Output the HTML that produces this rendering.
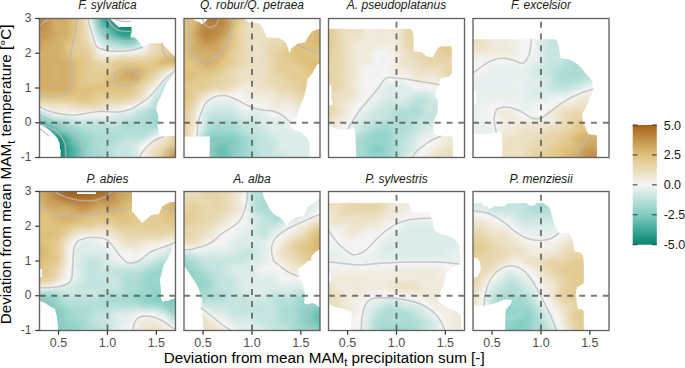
<!DOCTYPE html><html><head><meta charset="utf-8"><style>
html,body{margin:0;padding:0;background:#fff;width:685px;height:368px;overflow:hidden}
svg{display:block}
text{font-family:"Liberation Sans",sans-serif}
</style></head><body>
<svg width="685" height="368" viewBox="0 0 685 368">
<defs>
<filter id="cm" x="-20%" y="-20%" width="140%" height="140%" color-interpolation-filters="sRGB">
<feGaussianBlur stdDeviation="2.4 2.2"/>
<feComponentTransfer><feFuncR type="table" tableValues="0.0039 0.0537 0.1035 0.1533 0.2031 0.2529 0.3027 0.3525 0.4024 0.4522 0.5020 0.5478 0.5937 0.6396 0.6855 0.7314 0.7773 0.8231 0.8690 0.9149 0.9608 0.9522 0.9435 0.9349 0.9263 0.9176 0.9090 0.9004 0.8918 0.8831 0.8745 0.8522 0.8298 0.8075 0.7851 0.7627 0.7404 0.7180 0.6957 0.6733 0.6510"/><feFuncG type="table" tableValues="0.5216 0.5498 0.5780 0.6063 0.6345 0.6627 0.6910 0.7192 0.7475 0.7757 0.8039 0.8196 0.8353 0.8510 0.8667 0.8824 0.8980 0.9137 0.9294 0.9451 0.9608 0.9408 0.9208 0.9008 0.8808 0.8608 0.8408 0.8208 0.8008 0.7808 0.7608 0.7227 0.6847 0.6467 0.6086 0.5706 0.5325 0.4945 0.4565 0.4184 0.3804"/><feFuncB type="table" tableValues="0.4431 0.4745 0.5059 0.5373 0.5686 0.6000 0.6314 0.6627 0.6941 0.7255 0.7569 0.7773 0.7976 0.8180 0.8384 0.8588 0.8792 0.8996 0.9200 0.9404 0.9608 0.9137 0.8667 0.8196 0.7725 0.7255 0.6784 0.6314 0.5843 0.5373 0.4902 0.4514 0.4125 0.3737 0.3349 0.2961 0.2573 0.2184 0.1796 0.1408 0.1020"/></feComponentTransfer>
</filter>
<linearGradient id="cb" x1="0" y1="1" x2="0" y2="0">
<stop offset="0.000" stop-color="rgb(1,133,113)"/>
<stop offset="0.050" stop-color="rgb(26,147,129)"/>
<stop offset="0.100" stop-color="rgb(52,162,145)"/>
<stop offset="0.150" stop-color="rgb(77,176,161)"/>
<stop offset="0.200" stop-color="rgb(103,191,177)"/>
<stop offset="0.250" stop-color="rgb(128,205,193)"/>
<stop offset="0.300" stop-color="rgb(151,213,203)"/>
<stop offset="0.350" stop-color="rgb(175,221,214)"/>
<stop offset="0.400" stop-color="rgb(198,229,224)"/>
<stop offset="0.450" stop-color="rgb(222,237,235)"/>
<stop offset="0.500" stop-color="rgb(245,245,245)"/>
<stop offset="0.550" stop-color="rgb(241,235,221)"/>
<stop offset="0.600" stop-color="rgb(236,225,197)"/>
<stop offset="0.650" stop-color="rgb(232,214,173)"/>
<stop offset="0.700" stop-color="rgb(227,204,149)"/>
<stop offset="0.750" stop-color="rgb(223,194,125)"/>
<stop offset="0.800" stop-color="rgb(212,175,105)"/>
<stop offset="0.850" stop-color="rgb(200,155,85)"/>
<stop offset="0.900" stop-color="rgb(189,136,66)"/>
<stop offset="0.950" stop-color="rgb(177,116,46)"/>
<stop offset="1.000" stop-color="rgb(166,97,26)"/>
</linearGradient>
<clipPath id="m0"><polygon points="0.0,0.0 70.0,0.0 79.1,8.4 92.1,8.4 92.1,14.8 91.3,14.8 91.3,19.0 95.1,19.0 98.5,22.1 103.0,27.0 107.0,27.0 110.2,24.7 122.2,24.7 135.0,38.0 136.0,38.0 136.0,53.5 126.5,65.5 122.2,76.5 117.9,85.0 116.8,91.5 119.0,98.0 117.9,106.5 119.0,113.2 121.5,117.5 136.0,117.5 136.0,139.0 21.0,139.0 21.2,132.3 20.6,129.9 20.0,124.0 17.6,119.2 14.0,115.6 10.4,112.0 6.9,109.6 3.3,107.2 0.3,106.0 0.0,106.0"/></clipPath>
<clipPath id="m1"><polygon points="0.0,0.0 9.5,0.0 9.8,1.2 11.6,2.4 13.8,2.9 15.6,4.1 17.8,5.8 19.6,4.6 21.3,2.9 23.0,1.2 23.5,0.0 61.0,0.0 61.0,1.2 63.0,2.5 65.0,3.5 70.0,3.9 75.0,5.0 78.5,8.8 81.2,14.7 82.9,18.9 95.5,19.7 98.9,21.4 102.3,24.8 104.0,29.9 105.6,34.9 107.3,29.9 110.7,27.3 114.1,24.8 120.8,24.0 123.3,19.7 125.9,15.5 128.4,13.0 131.8,11.3 136.0,10.5 136.0,45.0 133.5,45.9 131.8,48.4 130.1,51.8 128.4,55.1 126.8,56.5 123.4,61.1 122.9,65.6 121.1,74.8 118.8,81.6 116.5,86.2 114.3,93.0 113.1,98.7 109.7,101.0 106.3,103.3 106.3,107.9 109.7,111.3 116.5,113.6 121.1,117.0 124.5,121.6 125.7,127.3 125.7,139.0 25.8,139.0 25.8,118.0 0.0,118.0"/></clipPath>
<clipPath id="m2"><polygon points="0.5,10.3 82.1,10.3 84.1,12.6 85.1,17.6 85.1,32.7 93.2,33.7 98.2,37.8 104.3,38.8 106.3,34.8 109.3,29.7 112.3,27.7 122.4,27.7 123.4,29.7 123.4,53.9 121.4,57.9 112.3,59.9 110.3,66.0 109.3,69.5 107.3,73.5 106.3,77.5 109.3,81.6 109.3,93.7 106.3,99.7 104.3,109.8 106.3,115.8 112.3,117.8 122.4,117.8 124.4,119.9 124.4,139.0 27.7,139.0 26.8,113.2 25.8,108.9 21.4,111.1 10.5,111.1 5.1,108.9 0.8,106.7 0.0,106.7 0.0,87.2 4.0,86.0 4.0,82.5 3.0,80.5 3.0,67.5 0.0,66.5 0.0,10.3"/></clipPath>
<clipPath id="m3"><polygon points="0.0,20.7 82.6,20.7 84.6,23.7 85.6,27.7 86.6,33.7 87.6,39.8 95.7,40.8 101.7,43.8 105.8,46.8 108.8,49.9 111.8,53.9 115.8,57.9 118.9,61.9 119.9,66.0 119.9,69.5 119.5,73.5 115.8,81.6 112.8,89.6 108.8,95.7 109.8,101.7 110.8,104.8 112.8,109.8 113.8,112.8 115.8,115.8 123.9,116.8 123.9,139.0 29.2,139.0 29.2,119.9 28.2,113.8 25.2,112.8 19.1,114.8 11.1,115.8 0.0,115.0 0.0,85.5 3.5,84.5 3.0,72.5 0.0,71.5"/></clipPath>
<clipPath id="m4"><polygon points="0.0,0.0 37.5,0.0 37.5,2.5 56.5,2.5 56.5,0.0 92.5,0.0 92.5,19.5 97.5,25.5 102.5,31.5 107.5,27.5 111.5,23.5 119.5,22.5 121.5,17.5 124.5,13.5 131.5,10.5 136.5,10.5 136.5,51.5 134.7,52.3 131.8,59.9 128.0,67.5 124.2,73.2 122.3,80.8 120.4,88.3 121.4,97.8 121.4,107.3 123.3,110.2 129.0,109.2 136.0,106.4 136.0,139.0 18.5,139.0 18.5,135.5 17.5,125.5 15.5,117.5 11.5,115.5 5.5,111.5 0.0,109.5 0.0,85.5 2.5,85.5 2.5,77.5 0.0,77.5"/></clipPath>
<clipPath id="m5"><polygon points="0.0,0.0 78.6,0.0 79.6,5.5 82.6,11.6 85.6,17.6 89.7,22.7 95.7,25.7 99.7,29.7 102.7,34.8 105.8,29.7 111.8,25.7 119.9,24.7 121.9,19.6 123.9,15.6 127.9,12.6 132.0,9.6 135.0,7.6 136.0,7.6 136.0,57.9 132.0,59.9 127.9,64.0 126.9,69.4 123.9,69.5 119.9,73.5 113.8,77.6 115.8,85.6 117.9,89.6 119.9,95.7 120.9,103.7 119.9,111.8 123.9,112.8 129.9,111.8 134.0,114.8 136.0,115.8 136.0,139.0 19.1,139.0 19.1,129.9 18.1,121.9 17.1,115.8 18.1,109.8 16.1,101.7 13.1,93.7 9.1,87.6 5.0,81.6 1.0,75.5 0.0,74.5"/></clipPath>
<clipPath id="m6"><polygon points="0.0,11.6 80.1,11.6 81.1,14.6 82.1,19.6 84.1,20.7 100.2,20.7 102.2,25.7 104.3,29.7 105.3,37.8 108.3,40.8 112.3,42.8 120.4,44.8 126.4,47.8 130.4,53.9 131.4,59.9 132.4,69.5 128.4,73.5 122.4,77.6 117.3,81.6 116.3,89.6 114.3,95.7 112.3,99.7 109.3,107.8 112.3,111.8 118.4,115.8 128.4,119.9 132.4,123.9 133.4,139.0 22.5,139.0 22.5,128.5 23.8,121.0 20.0,119.8 15.0,117.3 7.5,116.0 0.0,112.3 0.0,91.0 2.5,90.5 2.5,81.5 0.0,81.0"/></clipPath>
<clipPath id="m7"><polygon points="0.0,11.3 9.2,11.3 9.9,14.0 14.0,14.7 15.3,16.7 18.0,16.7 20.7,14.7 31.6,14.7 34.3,11.9 53.3,11.3 56.1,14.0 61.5,14.0 63.5,11.3 69.7,11.3 73.0,13.3 76.4,16.0 77.8,20.1 79.2,25.5 80.5,29.6 81.9,33.7 83.9,37.7 85.3,40.5 87.6,41.8 95.7,41.8 99.7,47.8 100.7,53.9 101.7,59.9 107.8,60.9 109.8,64.0 110.8,69.5 110.8,91.7 107.8,93.7 103.8,95.7 102.7,103.7 103.8,109.8 104.8,117.8 108.8,117.8 110.8,119.9 110.8,139.0 32.2,139.0 32.2,125.9 33.2,117.8 37.3,112.8 39.3,108.8 33.2,107.8 27.2,109.8 19.1,112.8 11.1,113.8 7.1,114.8 0.0,113.8 0.0,85.5 3.5,85.5 6.8,81.1 7.9,76.8 6.8,70.2 4.6,67.0 0.3,65.9"/></clipPath>
<clipPath id="pc"><rect x="0" y="0" width="136" height="139"/></clipPath>
</defs>
<g transform="translate(39.5,18.5)">
<g clip-path="url(#m0)"><g filter="url(#cm)">
<path fill="#e5e5e5" d="M-24.9 -21.7h14.9v4.5h-14.9zM-24.9 -17.4h14.9v4.5h-14.9zM-24.9 -13.0h14.9v4.5h-14.9zM-24.9 -8.7h19.8v4.5h-19.8zM-24.9 -4.3h19.8v4.5h-19.8zM-0.5 0.0h5.1v4.5h-5.1zM-0.5 4.3h5.1v4.5h-5.1zM146.2 147.7h14.9v4.5h-14.9zM146.2 152.0h14.9v4.5h-14.9zM146.2 156.4h14.9v4.5h-14.9z"/>
<path fill="#e7e7e7" d="M-10.3 -21.7h10.0v4.5h-10.0zM-10.3 -17.4h10.0v4.5h-10.0zM-10.3 -13.0h10.0v4.5h-10.0zM-5.4 -8.7h5.1v4.5h-5.1zM-5.4 -4.3h5.1v4.5h-5.1zM-24.9 0.0h24.7v4.5h-24.7zM-24.9 4.3h24.7v4.5h-24.7zM146.2 139.0h14.9v4.5h-14.9zM141.3 143.3h19.8v4.5h-19.8zM136.4 147.7h10.0v4.5h-10.0zM136.4 152.0h10.0v4.5h-10.0zM136.4 156.4h10.0v4.5h-10.0z"/>
<path fill="#e3e3e3" d="M-0.5 -21.7h5.1v4.5h-5.1zM-0.5 -17.4h5.1v4.5h-5.1zM-0.5 -13.0h5.1v4.5h-5.1zM-0.5 -8.7h5.1v4.5h-5.1zM-0.5 -4.3h5.1v4.5h-5.1zM-24.9 8.7h24.7v4.5h-24.7zM136.4 134.7h10.0v4.5h-10.0zM131.5 139.0h5.1v4.5h-5.1zM131.5 143.3h5.1v4.5h-5.1zM131.5 156.4h5.1v4.5h-5.1z"/>
<path fill="#dddddd" d="M4.4 -21.7h5.1v4.5h-5.1zM4.4 -17.4h5.1v4.5h-5.1zM4.4 -13.0h5.1v4.5h-5.1zM4.4 -8.7h5.1v4.5h-5.1zM4.4 -4.3h5.1v4.5h-5.1zM4.4 0.0h5.1v4.5h-5.1zM4.4 4.3h5.1v4.5h-5.1zM4.4 8.7h5.1v4.5h-5.1zM131.5 134.7h5.1v4.5h-5.1z"/>
<path fill="#d5d5d5" d="M9.3 -21.7h5.1v4.5h-5.1zM9.3 -17.4h5.1v4.5h-5.1zM9.3 -13.0h5.1v4.5h-5.1zM9.3 -8.7h5.1v4.5h-5.1zM9.3 -4.3h5.1v4.5h-5.1zM9.3 0.0h5.1v4.5h-5.1zM9.3 4.3h5.1v4.5h-5.1zM9.3 8.7h5.1v4.5h-5.1zM141.3 130.3h5.1v4.5h-5.1zM151.1 130.3h10.0v4.5h-10.0zM126.7 143.3h5.1v4.5h-5.1zM126.7 147.7h5.1v4.5h-5.1zM126.7 152.0h5.1v4.5h-5.1zM126.7 156.4h5.1v4.5h-5.1z"/>
<path fill="#cdcdcd" d="M14.2 -21.7h14.9v4.5h-14.9zM14.2 -17.4h14.9v4.5h-14.9zM14.2 -13.0h14.9v4.5h-14.9zM14.2 -8.7h14.9v4.5h-14.9zM14.2 -4.3h14.9v4.5h-14.9zM14.2 0.0h14.9v4.5h-14.9zM14.2 4.3h14.9v4.5h-14.9zM14.2 8.7h10.0v4.5h-10.0zM19.1 13.0h5.1v4.5h-5.1zM14.2 17.4h5.1v4.5h-5.1zM9.3 21.7h10.0v4.5h-10.0zM4.4 26.1h5.1v4.5h-5.1zM14.2 26.1h5.1v4.5h-5.1zM14.2 30.4h5.1v4.5h-5.1zM4.4 34.8h14.9v4.5h-14.9zM4.4 39.1h19.8v4.5h-19.8zM126.7 39.1h5.1v4.5h-5.1zM-24.9 43.4h34.4v4.5h-34.4zM19.1 43.4h5.1v4.5h-5.1zM-24.9 47.8h39.3v4.5h-39.3zM19.1 47.8h10.0v4.5h-10.0zM-24.9 52.1h39.3v4.5h-39.3zM19.1 52.1h10.0v4.5h-10.0zM82.6 52.1h5.1v4.5h-5.1zM97.3 52.1h5.1v4.5h-5.1zM-24.9 56.5h34.4v4.5h-34.4zM19.1 56.5h10.0v4.5h-10.0zM77.8 56.5h10.0v4.5h-10.0zM-24.9 60.8h54.0v4.5h-54.0zM-24.9 65.2h54.0v4.5h-54.0zM24.0 69.5h5.1v4.5h-5.1z"/>
<path fill="#c9c9c9" d="M28.9 -21.7h5.1v4.5h-5.1zM28.9 -17.4h5.1v4.5h-5.1zM28.9 -13.0h5.1v4.5h-5.1zM28.9 -8.7h5.1v4.5h-5.1zM28.9 -4.3h5.1v4.5h-5.1zM28.9 13.0h5.1v4.5h-5.1zM19.1 30.4h5.1v4.5h-5.1zM87.5 47.8h10.0v4.5h-10.0zM28.9 52.1h5.1v4.5h-5.1zM28.9 56.5h5.1v4.5h-5.1zM72.9 60.8h5.1v4.5h-5.1zM82.6 60.8h14.9v4.5h-14.9zM28.9 65.2h5.1v4.5h-5.1zM28.9 69.5h5.1v4.5h-5.1z"/>
<path fill="#bbbbbb" d="M33.7 -21.7h5.1v4.5h-5.1zM33.7 -17.4h5.1v4.5h-5.1zM33.7 -13.0h5.1v4.5h-5.1zM33.7 -8.7h5.1v4.5h-5.1zM33.7 -4.3h5.1v4.5h-5.1zM33.7 0.0h5.1v4.5h-5.1zM116.9 4.3h5.1v4.5h-5.1zM141.3 30.4h19.8v4.5h-19.8zM38.6 39.1h5.1v4.5h-5.1zM77.8 43.4h19.8v4.5h-19.8zM112.0 47.8h5.1v4.5h-5.1zM38.6 52.1h5.1v4.5h-5.1zM107.1 52.1h5.1v4.5h-5.1zM38.6 56.5h5.1v4.5h-5.1zM38.6 60.8h5.1v4.5h-5.1zM87.5 69.5h5.1v4.5h-5.1zM33.7 78.2h5.1v4.5h-5.1z"/>
<path fill="#ababab" d="M38.6 -21.7h5.1v4.5h-5.1zM38.6 -17.4h5.1v4.5h-5.1zM38.6 -13.0h5.1v4.5h-5.1zM38.6 -8.7h5.1v4.5h-5.1zM38.6 -4.3h5.1v4.5h-5.1zM116.9 17.4h5.1v4.5h-5.1zM116.9 21.7h5.1v4.5h-5.1zM82.6 39.1h24.7v4.5h-24.7zM58.2 43.4h5.1v4.5h-5.1zM151.1 108.6h10.0v4.5h-10.0zM116.9 134.7h5.1v4.5h-5.1z"/>
<path fill="#999999" d="M43.5 -21.7h5.1v4.5h-5.1zM43.5 -17.4h5.1v4.5h-5.1zM43.5 -13.0h5.1v4.5h-5.1zM43.5 -8.7h5.1v4.5h-5.1zM43.5 -4.3h5.1v4.5h-5.1zM48.4 21.7h5.1v4.5h-5.1zM87.5 34.8h14.9v4.5h-14.9zM131.5 47.8h5.1v4.5h-5.1zM107.1 65.2h5.1v4.5h-5.1zM102.2 73.8h5.1v4.5h-5.1zM82.6 82.5h5.1v4.5h-5.1zM112.0 130.3h5.1v4.5h-5.1z"/>
<path fill="#7a7a7a" d="M48.4 -21.7h5.1v4.5h-5.1zM48.4 -8.7h5.1v4.5h-5.1zM48.4 -4.3h5.1v4.5h-5.1zM58.2 26.1h5.1v4.5h-5.1zM63.1 30.4h5.1v4.5h-5.1zM92.4 86.9h5.1v4.5h-5.1zM77.8 91.2h10.0v4.5h-10.0zM63.1 95.6h5.1v4.5h-5.1zM97.3 130.3h5.1v4.5h-5.1zM97.3 134.7h5.1v4.5h-5.1z"/>
<path fill="#545454" d="M53.3 -21.7h5.1v4.5h-5.1zM53.3 -17.4h5.1v4.5h-5.1zM53.3 -13.0h5.1v4.5h-5.1zM97.3 17.4h5.1v4.5h-5.1zM116.9 86.9h5.1v4.5h-5.1zM131.5 86.9h29.5v4.5h-29.5zM107.1 95.6h5.1v4.5h-5.1zM136.4 95.6h10.0v4.5h-10.0zM151.1 95.6h10.0v4.5h-10.0zM28.9 104.2h5.1v4.5h-5.1zM63.1 139.0h5.1v4.5h-5.1zM63.1 143.3h5.1v4.5h-5.1zM63.1 147.7h5.1v4.5h-5.1zM63.1 152.0h5.1v4.5h-5.1zM63.1 156.4h5.1v4.5h-5.1z"/>
<path fill="#2e2e2e" d="M58.2 -21.7h5.1v4.5h-5.1zM58.2 -17.4h5.1v4.5h-5.1zM58.2 -13.0h5.1v4.5h-5.1zM58.2 -8.7h5.1v4.5h-5.1zM-24.9 104.2h29.5v4.5h-29.5z"/>
<path fill="#141414" d="M63.1 -21.7h5.1v4.5h-5.1zM63.1 -17.4h5.1v4.5h-5.1zM63.1 -13.0h5.1v4.5h-5.1zM87.5 13.0h5.1v4.5h-5.1zM4.4 117.3h5.1v4.5h-5.1zM-10.3 121.6h10.0v4.5h-10.0z"/>
<path fill="#0a0a0a" d="M68.0 -21.7h5.1v4.5h-5.1zM77.8 -21.7h5.1v4.5h-5.1zM68.0 -17.4h5.1v4.5h-5.1zM77.8 -17.4h5.1v4.5h-5.1zM68.0 -13.0h5.1v4.5h-5.1zM77.8 -13.0h5.1v4.5h-5.1zM68.0 -8.7h5.1v4.5h-5.1zM77.8 -8.7h5.1v4.5h-5.1zM77.8 -4.3h5.1v4.5h-5.1zM77.8 8.7h5.1v4.5h-5.1zM102.2 8.7h5.1v4.5h-5.1z"/>
<path fill="#0c0c0c" d="M72.9 -21.7h5.1v4.5h-5.1zM72.9 -17.4h5.1v4.5h-5.1zM72.9 -13.0h5.1v4.5h-5.1zM72.9 -8.7h5.1v4.5h-5.1zM72.9 -4.3h5.1v4.5h-5.1zM92.4 8.7h5.1v4.5h-5.1zM9.3 117.3h5.1v4.5h-5.1z"/>
<path fill="#020202" d="M82.6 -21.7h5.1v4.5h-5.1zM82.6 -17.4h5.1v4.5h-5.1zM82.6 -13.0h5.1v4.5h-5.1zM82.6 -8.7h10.0v4.5h-10.0zM82.6 -4.3h10.0v4.5h-10.0zM92.4 0.0h5.1v4.5h-5.1zM19.1 121.6h5.1v4.5h-5.1zM19.1 126.0h5.1v4.5h-5.1z"/>
<path fill="#000000" d="M87.5 -21.7h5.1v4.5h-5.1zM97.3 -21.7h10.0v4.5h-10.0zM87.5 -17.4h5.1v4.5h-5.1zM97.3 -17.4h10.0v4.5h-10.0zM87.5 -13.0h5.1v4.5h-5.1zM97.3 -13.0h10.0v4.5h-10.0zM97.3 -8.7h10.0v4.5h-10.0zM97.3 -4.3h10.0v4.5h-10.0zM82.6 0.0h10.0v4.5h-10.0zM97.3 0.0h10.0v4.5h-10.0zM82.6 4.3h24.7v4.5h-24.7zM14.2 121.6h5.1v4.5h-5.1zM9.3 126.0h10.0v4.5h-10.0zM-24.9 130.3h44.2v4.5h-44.2zM-24.9 134.7h44.2v4.5h-44.2zM-24.9 139.0h44.2v4.5h-44.2zM-24.9 143.3h44.2v4.5h-44.2zM-24.9 147.7h44.2v4.5h-44.2zM-24.9 152.0h44.2v4.5h-44.2zM-24.9 156.4h44.2v4.5h-44.2z"/>
<path fill="#040404" d="M92.4 -21.7h5.1v4.5h-5.1zM92.4 -17.4h5.1v4.5h-5.1zM92.4 -13.0h5.1v4.5h-5.1zM92.4 -8.7h5.1v4.5h-5.1zM92.4 -4.3h5.1v4.5h-5.1zM82.6 8.7h5.1v4.5h-5.1zM9.3 121.6h5.1v4.5h-5.1zM-24.9 126.0h34.4v4.5h-34.4zM19.1 139.0h5.1v4.5h-5.1zM19.1 143.3h5.1v4.5h-5.1zM19.1 147.7h5.1v4.5h-5.1zM19.1 152.0h5.1v4.5h-5.1zM19.1 156.4h5.1v4.5h-5.1z"/>
<path fill="#242424" d="M107.1 -21.7h5.1v4.5h-5.1zM107.1 -8.7h5.1v4.5h-5.1zM82.6 17.4h5.1v4.5h-5.1zM-0.5 108.6h5.1v4.5h-5.1zM9.3 108.6h5.1v4.5h-5.1zM-24.9 112.9h14.9v4.5h-14.9z"/>
<path fill="#818181" d="M112.0 -21.7h5.1v4.5h-5.1zM112.0 -17.4h5.1v4.5h-5.1zM112.0 -13.0h5.1v4.5h-5.1zM112.0 -8.7h5.1v4.5h-5.1zM112.0 -4.3h5.1v4.5h-5.1zM58.2 30.4h5.1v4.5h-5.1zM112.0 69.5h5.1v4.5h-5.1zM102.2 82.5h5.1v4.5h-5.1zM87.5 86.9h5.1v4.5h-5.1zM126.7 108.6h5.1v4.5h-5.1zM121.8 112.9h5.1v4.5h-5.1zM107.1 121.6h5.1v4.5h-5.1z"/>
<path fill="#b9b9b9" d="M116.9 -21.7h10.0v4.5h-10.0zM116.9 -17.4h10.0v4.5h-10.0zM116.9 -13.0h10.0v4.5h-10.0zM116.9 -8.7h10.0v4.5h-10.0zM116.9 -4.3h10.0v4.5h-10.0zM116.9 0.0h10.0v4.5h-10.0zM33.7 4.3h5.1v4.5h-5.1zM121.8 4.3h5.1v4.5h-5.1zM33.7 8.7h5.1v4.5h-5.1zM33.7 13.0h5.1v4.5h-5.1zM33.7 17.4h5.1v4.5h-5.1zM131.5 21.7h29.5v4.5h-29.5zM28.9 26.1h5.1v4.5h-5.1zM136.4 26.1h24.7v4.5h-24.7zM28.9 30.4h5.1v4.5h-5.1zM131.5 30.4h5.1v4.5h-5.1zM97.3 43.4h5.1v4.5h-5.1zM107.1 43.4h5.1v4.5h-5.1zM72.9 47.8h5.1v4.5h-5.1zM68.0 52.1h5.1v4.5h-5.1zM63.1 56.5h5.1v4.5h-5.1zM58.2 60.8h5.1v4.5h-5.1zM53.3 73.8h5.1v4.5h-5.1zM82.6 73.8h5.1v4.5h-5.1zM48.4 78.2h5.1v4.5h-5.1zM136.4 112.9h5.1v4.5h-5.1zM136.4 121.6h5.1v4.5h-5.1z"/>
<path fill="#afafaf" d="M126.7 -21.7h5.1v4.5h-5.1zM126.7 -17.4h5.1v4.5h-5.1zM126.7 -13.0h5.1v4.5h-5.1zM126.7 -8.7h5.1v4.5h-5.1zM126.7 -4.3h5.1v4.5h-5.1zM126.7 0.0h5.1v4.5h-5.1zM126.7 4.3h5.1v4.5h-5.1zM38.6 8.7h5.1v4.5h-5.1zM116.9 13.0h5.1v4.5h-5.1zM38.6 21.7h5.1v4.5h-5.1zM43.5 26.1h5.1v4.5h-5.1zM121.8 26.1h5.1v4.5h-5.1zM116.9 34.8h5.1v4.5h-5.1zM48.4 39.1h5.1v4.5h-5.1zM107.1 39.1h5.1v4.5h-5.1zM68.0 43.4h5.1v4.5h-5.1zM63.1 47.8h5.1v4.5h-5.1zM92.4 73.8h5.1v4.5h-5.1zM58.2 78.2h5.1v4.5h-5.1zM72.9 78.2h10.0v4.5h-10.0zM38.6 82.5h14.9v4.5h-14.9zM116.9 143.3h5.1v4.5h-5.1zM116.9 147.7h5.1v4.5h-5.1zM116.9 152.0h5.1v4.5h-5.1zM116.9 156.4h5.1v4.5h-5.1z"/>
<path fill="#b1b1b1" d="M131.5 -21.7h5.1v4.5h-5.1zM131.5 -17.4h5.1v4.5h-5.1zM131.5 -13.0h5.1v4.5h-5.1zM131.5 -8.7h5.1v4.5h-5.1zM131.5 -4.3h5.1v4.5h-5.1zM131.5 0.0h5.1v4.5h-5.1zM126.7 8.7h5.1v4.5h-5.1zM121.8 17.4h5.1v4.5h-5.1zM121.8 21.7h5.1v4.5h-5.1zM38.6 26.1h5.1v4.5h-5.1zM48.4 43.4h5.1v4.5h-5.1zM48.4 47.8h14.9v4.5h-14.9zM48.4 52.1h10.0v4.5h-10.0zM112.0 52.1h5.1v4.5h-5.1zM48.4 56.5h10.0v4.5h-10.0zM136.4 108.6h5.1v4.5h-5.1zM131.5 121.6h5.1v4.5h-5.1zM121.8 130.3h5.1v4.5h-5.1zM116.9 139.0h5.1v4.5h-5.1z"/>
<path fill="#b5b5b5" d="M136.4 -21.7h10.0v4.5h-10.0zM136.4 -17.4h10.0v4.5h-10.0zM136.4 -13.0h10.0v4.5h-10.0zM136.4 -8.7h10.0v4.5h-10.0zM136.4 -4.3h10.0v4.5h-10.0zM136.4 0.0h10.0v4.5h-10.0zM136.4 4.3h10.0v4.5h-10.0zM151.1 4.3h10.0v4.5h-10.0zM116.9 8.7h5.1v4.5h-5.1zM136.4 8.7h24.7v4.5h-24.7zM131.5 13.0h29.5v4.5h-29.5zM126.7 17.4h5.1v4.5h-5.1zM126.7 21.7h5.1v4.5h-5.1zM43.5 30.4h5.1v4.5h-5.1zM38.6 34.8h5.1v4.5h-5.1zM43.5 43.4h5.1v4.5h-5.1zM43.5 47.8h5.1v4.5h-5.1zM43.5 52.1h5.1v4.5h-5.1zM63.1 52.1h5.1v4.5h-5.1zM43.5 56.5h5.1v4.5h-5.1zM48.4 60.8h10.0v4.5h-10.0zM92.4 69.5h5.1v4.5h-5.1zM58.2 73.8h5.1v4.5h-5.1zM-24.9 78.2h29.5v4.5h-29.5zM146.2 112.9h14.9v4.5h-14.9zM136.4 117.3h10.0v4.5h-10.0zM146.2 121.6h10.0v4.5h-10.0z"/>
<path fill="#b3b3b3" d="M146.2 -21.7h14.9v4.5h-14.9zM146.2 -17.4h14.9v4.5h-14.9zM146.2 -13.0h14.9v4.5h-14.9zM146.2 -8.7h14.9v4.5h-14.9zM146.2 -4.3h14.9v4.5h-14.9zM146.2 0.0h14.9v4.5h-14.9zM131.5 4.3h5.1v4.5h-5.1zM146.2 4.3h5.1v4.5h-5.1zM131.5 8.7h5.1v4.5h-5.1zM121.8 13.0h10.0v4.5h-10.0zM33.7 26.1h5.1v4.5h-5.1zM126.7 26.1h5.1v4.5h-5.1zM33.7 30.4h10.0v4.5h-10.0zM126.7 30.4h5.1v4.5h-5.1zM68.0 47.8h5.1v4.5h-5.1zM58.2 52.1h5.1v4.5h-5.1zM58.2 56.5h5.1v4.5h-5.1zM107.1 56.5h5.1v4.5h-5.1zM102.2 60.8h5.1v4.5h-5.1zM97.3 65.2h5.1v4.5h-5.1zM53.3 78.2h5.1v4.5h-5.1zM146.2 117.3h14.9v4.5h-14.9zM126.7 126.0h5.1v4.5h-5.1z"/>
<path fill="#7c7c7c" d="M48.4 -17.4h5.1v4.5h-5.1zM48.4 -13.0h5.1v4.5h-5.1zM102.2 21.7h5.1v4.5h-5.1zM82.6 30.4h5.1v4.5h-5.1zM116.9 65.2h5.1v4.5h-5.1zM-5.4 86.9h5.1v4.5h-5.1zM72.9 91.2h5.1v4.5h-5.1z"/>
<path fill="#222222" d="M107.1 -17.4h5.1v4.5h-5.1zM107.1 -13.0h5.1v4.5h-5.1zM72.9 13.0h5.1v4.5h-5.1zM92.4 13.0h5.1v4.5h-5.1zM24.0 117.3h5.1v4.5h-5.1zM28.9 126.0h5.1v4.5h-5.1z"/>
<path fill="#525252" d="M53.3 -8.7h5.1v4.5h-5.1zM53.3 -4.3h5.1v4.5h-5.1zM58.2 13.0h5.1v4.5h-5.1zM112.0 91.2h5.1v4.5h-5.1zM-0.5 95.6h5.1v4.5h-5.1zM131.5 95.6h5.1v4.5h-5.1zM146.2 95.6h5.1v4.5h-5.1zM112.0 104.2h5.1v4.5h-5.1zM43.5 112.9h5.1v4.5h-5.1zM48.4 117.3h5.1v4.5h-5.1z"/>
<path fill="#121212" d="M63.1 -8.7h5.1v4.5h-5.1zM63.1 -4.3h5.1v4.5h-5.1zM-24.9 121.6h14.9v4.5h-14.9zM-0.5 121.6h5.1v4.5h-5.1zM24.0 126.0h5.1v4.5h-5.1zM24.0 130.3h5.1v4.5h-5.1zM24.0 134.7h5.1v4.5h-5.1zM24.0 139.0h5.1v4.5h-5.1zM24.0 143.3h5.1v4.5h-5.1zM24.0 147.7h5.1v4.5h-5.1zM24.0 152.0h5.1v4.5h-5.1zM24.0 156.4h5.1v4.5h-5.1z"/>
<path fill="#2c2c2c" d="M58.2 -4.3h5.1v4.5h-5.1zM77.8 17.4h5.1v4.5h-5.1zM19.1 112.9h5.1v4.5h-5.1zM33.7 130.3h5.1v4.5h-5.1zM33.7 134.7h5.1v4.5h-5.1zM33.7 139.0h5.1v4.5h-5.1zM33.7 143.3h5.1v4.5h-5.1zM33.7 147.7h5.1v4.5h-5.1zM33.7 152.0h5.1v4.5h-5.1zM33.7 156.4h5.1v4.5h-5.1z"/>
<path fill="#080808" d="M68.0 -4.3h5.1v4.5h-5.1zM77.8 0.0h5.1v4.5h-5.1zM97.3 8.7h5.1v4.5h-5.1zM14.2 117.3h5.1v4.5h-5.1z"/>
<path fill="#262626" d="M107.1 -4.3h5.1v4.5h-5.1zM63.1 4.3h5.1v4.5h-5.1zM68.0 8.7h5.1v4.5h-5.1zM87.5 17.4h5.1v4.5h-5.1zM-10.3 112.9h10.0v4.5h-10.0z"/>
<path fill="#c7c7c7" d="M28.9 0.0h5.1v4.5h-5.1zM28.9 4.3h5.1v4.5h-5.1zM28.9 8.7h5.1v4.5h-5.1zM24.0 34.8h5.1v4.5h-5.1zM136.4 34.8h24.7v4.5h-24.7zM28.9 39.1h5.1v4.5h-5.1zM121.8 39.1h5.1v4.5h-5.1zM82.6 47.8h5.1v4.5h-5.1zM77.8 52.1h5.1v4.5h-5.1zM72.9 56.5h5.1v4.5h-5.1zM-24.9 73.8h24.7v4.5h-24.7zM24.0 73.8h5.1v4.5h-5.1z"/>
<path fill="#adadad" d="M38.6 0.0h5.1v4.5h-5.1zM38.6 4.3h5.1v4.5h-5.1zM38.6 13.0h5.1v4.5h-5.1zM38.6 17.4h5.1v4.5h-5.1zM121.8 30.4h5.1v4.5h-5.1zM48.4 34.8h5.1v4.5h-5.1zM53.3 43.4h5.1v4.5h-5.1zM121.8 47.8h5.1v4.5h-5.1zM63.1 78.2h10.0v4.5h-10.0zM82.6 78.2h5.1v4.5h-5.1zM33.7 82.5h5.1v4.5h-5.1zM53.3 82.5h5.1v4.5h-5.1zM141.3 108.6h5.1v4.5h-5.1zM131.5 112.9h5.1v4.5h-5.1zM131.5 117.3h5.1v4.5h-5.1z"/>
<path fill="#9d9d9d" d="M43.5 0.0h5.1v4.5h-5.1zM102.2 34.8h5.1v4.5h-5.1zM58.2 39.1h10.0v4.5h-10.0zM102.2 69.5h5.1v4.5h-5.1zM-0.5 82.5h5.1v4.5h-5.1zM38.6 86.9h14.9v4.5h-14.9zM58.2 86.9h5.1v4.5h-5.1zM126.7 117.3h5.1v4.5h-5.1zM112.0 134.7h5.1v4.5h-5.1z"/>
<path fill="#7e7e7e" d="M48.4 0.0h5.1v4.5h-5.1zM112.0 0.0h5.1v4.5h-5.1zM112.0 4.3h5.1v4.5h-5.1zM102.2 26.1h5.1v4.5h-5.1zM87.5 30.4h10.0v4.5h-10.0zM107.1 78.2h5.1v4.5h-5.1zM-24.9 86.9h19.8v4.5h-19.8zM112.0 117.3h5.1v4.5h-5.1z"/>
<path fill="#565656" d="M53.3 0.0h5.1v4.5h-5.1zM136.4 60.8h10.0v4.5h-10.0zM131.5 65.2h5.1v4.5h-5.1zM126.7 69.5h5.1v4.5h-5.1zM121.8 86.9h10.0v4.5h-10.0zM14.2 99.9h5.1v4.5h-5.1zM107.1 99.9h5.1v4.5h-5.1zM87.5 104.2h10.0v4.5h-10.0zM38.6 108.6h5.1v4.5h-5.1zM87.5 108.6h5.1v4.5h-5.1zM48.4 112.9h5.1v4.5h-5.1zM72.9 112.9h5.1v4.5h-5.1zM53.3 117.3h5.1v4.5h-5.1zM72.9 117.3h5.1v4.5h-5.1zM53.3 130.3h10.0v4.5h-10.0zM63.1 134.7h5.1v4.5h-5.1z"/>
<path fill="#303030" d="M58.2 0.0h5.1v4.5h-5.1zM68.0 13.0h5.1v4.5h-5.1zM4.4 104.2h5.1v4.5h-5.1zM33.7 126.0h5.1v4.5h-5.1z"/>
<path fill="#181818" d="M63.1 0.0h5.1v4.5h-5.1z"/>
<path fill="#0e0e0e" d="M68.0 0.0h10.0v4.5h-10.0zM4.4 121.6h5.1v4.5h-5.1z"/>
<path fill="#1e1e1e" d="M107.1 0.0h5.1v4.5h-5.1zM-24.9 117.3h19.8v4.5h-19.8z"/>
<path fill="#a3a3a3" d="M43.5 4.3h5.1v4.5h-5.1zM43.5 17.4h5.1v4.5h-5.1zM112.0 21.7h5.1v4.5h-5.1zM48.4 26.1h5.1v4.5h-5.1zM107.1 34.8h5.1v4.5h-5.1zM53.3 39.1h5.1v4.5h-5.1zM126.7 47.8h5.1v4.5h-5.1zM92.4 78.2h5.1v4.5h-5.1zM14.2 82.5h5.1v4.5h-5.1zM116.9 130.3h5.1v4.5h-5.1z"/>
<path fill="#858585" d="M48.4 4.3h5.1v4.5h-5.1zM53.3 21.7h5.1v4.5h-5.1zM126.7 52.1h5.1v4.5h-5.1zM121.8 56.5h5.1v4.5h-5.1zM131.5 104.2h5.1v4.5h-5.1zM102.2 139.0h5.1v4.5h-5.1zM102.2 143.3h5.1v4.5h-5.1z"/>
<path fill="#5a5a5a" d="M53.3 4.3h5.1v4.5h-5.1zM136.4 56.5h5.1v4.5h-5.1zM131.5 60.8h5.1v4.5h-5.1zM136.4 69.5h24.7v4.5h-24.7zM116.9 82.5h10.0v4.5h-10.0zM112.0 86.9h5.1v4.5h-5.1zM102.2 95.6h5.1v4.5h-5.1zM19.1 99.9h5.1v4.5h-5.1zM97.3 99.9h10.0v4.5h-10.0zM102.2 104.2h5.1v4.5h-5.1zM43.5 108.6h5.1v4.5h-5.1zM58.2 108.6h10.0v4.5h-10.0zM77.8 108.6h5.1v4.5h-5.1zM112.0 108.6h5.1v4.5h-5.1zM97.3 112.9h10.0v4.5h-10.0zM58.2 117.3h10.0v4.5h-10.0zM77.8 117.3h5.1v4.5h-5.1zM58.2 121.6h10.0v4.5h-10.0zM72.9 121.6h5.1v4.5h-5.1zM58.2 126.0h5.1v4.5h-5.1zM68.0 126.0h5.1v4.5h-5.1z"/>
<path fill="#383838" d="M58.2 4.3h5.1v4.5h-5.1zM107.1 8.7h5.1v4.5h-5.1zM72.9 17.4h5.1v4.5h-5.1zM-5.4 99.9h5.1v4.5h-5.1zM9.3 104.2h5.1v4.5h-5.1zM33.7 121.6h5.1v4.5h-5.1zM38.6 130.3h5.1v4.5h-5.1z"/>
<path fill="#1a1a1a" d="M68.0 4.3h5.1v4.5h-5.1zM107.1 4.3h5.1v4.5h-5.1z"/>
<path fill="#101010" d="M72.9 4.3h5.1v4.5h-5.1zM82.6 13.0h5.1v4.5h-5.1zM19.1 117.3h5.1v4.5h-5.1z"/>
<path fill="#060606" d="M77.8 4.3h5.1v4.5h-5.1zM87.5 8.7h5.1v4.5h-5.1zM19.1 130.3h5.1v4.5h-5.1zM19.1 134.7h5.1v4.5h-5.1z"/>
<path fill="#e1e1e1" d="M-0.5 8.7h5.1v4.5h-5.1zM146.2 134.7h14.9v4.5h-14.9zM131.5 147.7h5.1v4.5h-5.1zM131.5 152.0h5.1v4.5h-5.1z"/>
<path fill="#cfcfcf" d="M24.0 8.7h5.1v4.5h-5.1zM14.2 13.0h5.1v4.5h-5.1zM24.0 13.0h5.1v4.5h-5.1zM-24.9 30.4h29.5v4.5h-29.5zM131.5 39.1h5.1v4.5h-5.1zM24.0 43.4h5.1v4.5h-5.1zM87.5 56.5h5.1v4.5h-5.1z"/>
<path fill="#a5a5a5" d="M43.5 8.7h5.1v4.5h-5.1zM116.9 52.1h5.1v4.5h-5.1zM102.2 65.2h5.1v4.5h-5.1zM97.3 73.8h5.1v4.5h-5.1zM9.3 82.5h5.1v4.5h-5.1zM28.9 82.5h5.1v4.5h-5.1zM126.7 121.6h5.1v4.5h-5.1zM121.8 126.0h5.1v4.5h-5.1z"/>
<path fill="#8b8b8b" d="M48.4 8.7h5.1v4.5h-5.1zM72.9 34.8h5.1v4.5h-5.1zM4.4 86.9h5.1v4.5h-5.1z"/>
<path fill="#646464" d="M53.3 8.7h5.1v4.5h-5.1zM72.9 26.1h5.1v4.5h-5.1zM121.8 65.2h5.1v4.5h-5.1zM-24.9 91.2h5.1v4.5h-5.1zM-10.3 91.2h5.1v4.5h-5.1zM92.4 95.6h5.1v4.5h-5.1zM72.9 104.2h5.1v4.5h-5.1zM126.7 104.2h5.1v4.5h-5.1zM87.5 117.3h5.1v4.5h-5.1zM82.6 121.6h5.1v4.5h-5.1zM77.8 126.0h5.1v4.5h-5.1zM72.9 130.3h5.1v4.5h-5.1zM72.9 134.7h5.1v4.5h-5.1zM72.9 139.0h5.1v4.5h-5.1zM72.9 143.3h5.1v4.5h-5.1zM72.9 147.7h5.1v4.5h-5.1zM72.9 152.0h5.1v4.5h-5.1zM72.9 156.4h5.1v4.5h-5.1z"/>
<path fill="#444444" d="M58.2 8.7h5.1v4.5h-5.1zM121.8 99.9h5.1v4.5h-5.1zM24.0 108.6h5.1v4.5h-5.1zM33.7 112.9h5.1v4.5h-5.1z"/>
<path fill="#343434" d="M63.1 8.7h5.1v4.5h-5.1zM97.3 13.0h5.1v4.5h-5.1zM14.2 108.6h5.1v4.5h-5.1zM28.9 117.3h5.1v4.5h-5.1z"/>
<path fill="#161616" d="M72.9 8.7h5.1v4.5h-5.1zM77.8 13.0h5.1v4.5h-5.1zM4.4 112.9h10.0v4.5h-10.0zM24.0 121.6h5.1v4.5h-5.1z"/>
<path fill="#878787" d="M112.0 8.7h5.1v4.5h-5.1zM107.1 73.8h5.1v4.5h-5.1zM97.3 82.5h5.1v4.5h-5.1zM14.2 91.2h5.1v4.5h-5.1zM24.0 91.2h10.0v4.5h-10.0zM102.2 134.7h5.1v4.5h-5.1zM102.2 147.7h5.1v4.5h-5.1zM102.2 152.0h5.1v4.5h-5.1zM102.2 156.4h5.1v4.5h-5.1z"/>
<path fill="#b7b7b7" d="M121.8 8.7h5.1v4.5h-5.1zM131.5 17.4h29.5v4.5h-29.5zM33.7 21.7h5.1v4.5h-5.1zM131.5 26.1h5.1v4.5h-5.1zM33.7 34.8h5.1v4.5h-5.1zM43.5 34.8h5.1v4.5h-5.1zM121.8 34.8h5.1v4.5h-5.1zM43.5 39.1h5.1v4.5h-5.1zM112.0 39.1h5.1v4.5h-5.1zM72.9 43.4h5.1v4.5h-5.1zM102.2 43.4h5.1v4.5h-5.1zM116.9 47.8h5.1v4.5h-5.1zM43.5 60.8h5.1v4.5h-5.1zM63.1 73.8h19.8v4.5h-19.8zM87.5 73.8h5.1v4.5h-5.1zM4.4 78.2h29.5v4.5h-29.5zM141.3 112.9h5.1v4.5h-5.1zM141.3 121.6h5.1v4.5h-5.1zM156.0 121.6h5.1v4.5h-5.1z"/>
<path fill="#dbdbdb" d="M-24.9 13.0h34.4v4.5h-34.4zM-10.3 21.7h10.0v4.5h-10.0z"/>
<path fill="#d7d7d7" d="M9.3 13.0h5.1v4.5h-5.1zM4.4 17.4h5.1v4.5h-5.1zM-0.5 21.7h5.1v4.5h-5.1zM-24.9 26.1h24.7v4.5h-24.7zM136.4 130.3h5.1v4.5h-5.1zM126.7 139.0h5.1v4.5h-5.1z"/>
<path fill="#a1a1a1" d="M43.5 13.0h5.1v4.5h-5.1zM112.0 17.4h5.1v4.5h-5.1zM112.0 30.4h5.1v4.5h-5.1zM68.0 39.1h5.1v4.5h-5.1zM4.4 82.5h5.1v4.5h-5.1zM19.1 82.5h10.0v4.5h-10.0zM63.1 82.5h5.1v4.5h-5.1zM72.9 82.5h10.0v4.5h-10.0zM131.5 108.6h5.1v4.5h-5.1z"/>
<path fill="#8d8d8d" d="M48.4 13.0h5.1v4.5h-5.1zM53.3 26.1h5.1v4.5h-5.1zM102.2 30.4h5.1v4.5h-5.1zM58.2 34.8h5.1v4.5h-5.1zM92.4 82.5h5.1v4.5h-5.1zM77.8 86.9h5.1v4.5h-5.1zM112.0 121.6h5.1v4.5h-5.1zM107.1 126.0h5.1v4.5h-5.1z"/>
<path fill="#6e6e6e" d="M53.3 13.0h5.1v4.5h-5.1zM136.4 52.1h10.0v4.5h-10.0zM156.0 52.1h5.1v4.5h-5.1zM102.2 86.9h5.1v4.5h-5.1zM92.4 91.2h5.1v4.5h-5.1zM146.2 99.9h14.9v4.5h-14.9zM92.4 130.3h5.1v4.5h-5.1zM92.4 134.7h5.1v4.5h-5.1zM92.4 139.0h5.1v4.5h-5.1zM92.4 143.3h5.1v4.5h-5.1zM92.4 147.7h5.1v4.5h-5.1zM92.4 152.0h5.1v4.5h-5.1zM92.4 156.4h5.1v4.5h-5.1z"/>
<path fill="#404040" d="M63.1 13.0h5.1v4.5h-5.1zM82.6 21.7h5.1v4.5h-5.1zM14.2 104.2h5.1v4.5h-5.1zM19.1 108.6h5.1v4.5h-5.1zM38.6 121.6h5.1v4.5h-5.1z"/>
<path fill="#4c4c4c" d="M102.2 13.0h5.1v4.5h-5.1zM131.5 91.2h5.1v4.5h-5.1zM146.2 91.2h14.9v4.5h-14.9zM-10.3 95.6h10.0v4.5h-10.0zM126.7 95.6h5.1v4.5h-5.1zM38.6 112.9h5.1v4.5h-5.1zM43.5 117.3h5.1v4.5h-5.1zM53.3 139.0h10.0v4.5h-10.0zM53.3 143.3h5.1v4.5h-5.1zM53.3 147.7h5.1v4.5h-5.1zM53.3 152.0h5.1v4.5h-5.1zM53.3 156.4h5.1v4.5h-5.1z"/>
<path fill="#707070" d="M107.1 13.0h5.1v4.5h-5.1zM58.2 21.7h5.1v4.5h-5.1zM63.1 26.1h5.1v4.5h-5.1zM146.2 52.1h10.0v4.5h-10.0zM126.7 56.5h5.1v4.5h-5.1zM116.9 69.5h5.1v4.5h-5.1zM72.9 95.6h5.1v4.5h-5.1zM141.3 99.9h5.1v4.5h-5.1zM107.1 117.3h5.1v4.5h-5.1z"/>
<path fill="#979797" d="M112.0 13.0h5.1v4.5h-5.1zM107.1 30.4h5.1v4.5h-5.1zM82.6 34.8h5.1v4.5h-5.1zM116.9 56.5h5.1v4.5h-5.1z"/>
<path fill="#d9d9d9" d="M-24.9 17.4h29.5v4.5h-29.5zM-24.9 21.7h14.9v4.5h-14.9z"/>
<path fill="#d3d3d3" d="M9.3 17.4h5.1v4.5h-5.1zM-0.5 26.1h5.1v4.5h-5.1zM146.2 130.3h5.1v4.5h-5.1z"/>
<path fill="#cbcbcb" d="M19.1 17.4h10.0v4.5h-10.0zM19.1 21.7h5.1v4.5h-5.1zM9.3 26.1h5.1v4.5h-5.1zM19.1 26.1h5.1v4.5h-5.1zM4.4 30.4h10.0v4.5h-10.0zM-24.9 34.8h29.5v4.5h-29.5zM19.1 34.8h5.1v4.5h-5.1zM-24.9 39.1h29.5v4.5h-29.5zM24.0 39.1h5.1v4.5h-5.1zM9.3 43.4h10.0v4.5h-10.0zM28.9 43.4h5.1v4.5h-5.1zM14.2 47.8h5.1v4.5h-5.1zM28.9 47.8h5.1v4.5h-5.1zM14.2 52.1h5.1v4.5h-5.1zM9.3 56.5h10.0v4.5h-10.0zM97.3 56.5h5.1v4.5h-5.1zM28.9 60.8h5.1v4.5h-5.1zM77.8 60.8h5.1v4.5h-5.1zM-24.9 69.5h49.1v4.5h-49.1z"/>
<path fill="#c5c5c5" d="M28.9 17.4h5.1v4.5h-5.1zM24.0 21.7h5.1v4.5h-5.1zM131.5 34.8h5.1v4.5h-5.1zM33.7 43.4h5.1v4.5h-5.1zM121.8 43.4h10.0v4.5h-10.0zM33.7 47.8h5.1v4.5h-5.1zM97.3 47.8h5.1v4.5h-5.1zM68.0 60.8h5.1v4.5h-5.1zM-0.5 73.8h24.7v4.5h-24.7zM28.9 73.8h5.1v4.5h-5.1zM136.4 126.0h10.0v4.5h-10.0zM121.8 139.0h5.1v4.5h-5.1z"/>
<path fill="#919191" d="M48.4 17.4h5.1v4.5h-5.1zM77.8 34.8h5.1v4.5h-5.1zM24.0 86.9h5.1v4.5h-5.1zM68.0 86.9h10.0v4.5h-10.0zM156.0 104.2h5.1v4.5h-5.1z"/>
<path fill="#787878" d="M53.3 17.4h5.1v4.5h-5.1zM33.7 95.6h14.9v4.5h-14.9zM58.2 95.6h5.1v4.5h-5.1zM97.3 139.0h5.1v4.5h-5.1zM97.3 143.3h5.1v4.5h-5.1zM97.3 147.7h5.1v4.5h-5.1zM97.3 152.0h5.1v4.5h-5.1zM97.3 156.4h5.1v4.5h-5.1z"/>
<path fill="#626262" d="M58.2 17.4h5.1v4.5h-5.1zM63.1 21.7h5.1v4.5h-5.1zM131.5 56.5h5.1v4.5h-5.1zM126.7 60.8h5.1v4.5h-5.1zM112.0 82.5h5.1v4.5h-5.1zM-5.4 91.2h5.1v4.5h-5.1zM43.5 104.2h14.9v4.5h-14.9zM68.0 104.2h5.1v4.5h-5.1zM92.4 117.3h10.0v4.5h-10.0z"/>
<path fill="#505050" d="M63.1 17.4h5.1v4.5h-5.1zM72.9 21.7h5.1v4.5h-5.1zM121.8 91.2h10.0v4.5h-10.0zM9.3 99.9h5.1v4.5h-5.1zM126.7 99.9h5.1v4.5h-5.1zM48.4 121.6h5.1v4.5h-5.1zM48.4 126.0h5.1v4.5h-5.1zM48.4 130.3h5.1v4.5h-5.1zM58.2 134.7h5.1v4.5h-5.1z"/>
<path fill="#424242" d="M68.0 17.4h5.1v4.5h-5.1z"/>
<path fill="#363636" d="M92.4 17.4h5.1v4.5h-5.1zM24.0 112.9h5.1v4.5h-5.1z"/>
<path fill="#767676" d="M102.2 17.4h5.1v4.5h-5.1zM68.0 30.4h5.1v4.5h-5.1zM77.8 30.4h5.1v4.5h-5.1zM4.4 91.2h5.1v4.5h-5.1zM87.5 91.2h5.1v4.5h-5.1zM24.0 95.6h10.0v4.5h-10.0zM48.4 95.6h10.0v4.5h-10.0zM68.0 95.6h5.1v4.5h-5.1zM97.3 126.0h5.1v4.5h-5.1z"/>
<path fill="#939393" d="M107.1 17.4h5.1v4.5h-5.1zM107.1 26.1h5.1v4.5h-5.1zM53.3 30.4h5.1v4.5h-5.1zM136.4 47.8h10.0v4.5h-10.0zM87.5 82.5h5.1v4.5h-5.1zM9.3 86.9h14.9v4.5h-14.9zM141.3 104.2h5.1v4.5h-5.1zM112.0 126.0h5.1v4.5h-5.1zM107.1 130.3h5.1v4.5h-5.1zM107.1 134.7h5.1v4.5h-5.1zM107.1 139.0h5.1v4.5h-5.1zM107.1 143.3h5.1v4.5h-5.1zM107.1 147.7h5.1v4.5h-5.1zM107.1 152.0h5.1v4.5h-5.1zM107.1 156.4h5.1v4.5h-5.1z"/>
<path fill="#d1d1d1" d="M4.4 21.7h5.1v4.5h-5.1zM136.4 39.1h24.7v4.5h-24.7zM87.5 52.1h10.0v4.5h-10.0zM92.4 56.5h5.1v4.5h-5.1zM131.5 130.3h5.1v4.5h-5.1zM126.7 134.7h5.1v4.5h-5.1z"/>
<path fill="#bfbfbf" d="M28.9 21.7h5.1v4.5h-5.1zM28.9 34.8h5.1v4.5h-5.1zM126.7 34.8h5.1v4.5h-5.1zM33.7 39.1h5.1v4.5h-5.1zM116.9 39.1h5.1v4.5h-5.1zM136.4 43.4h24.7v4.5h-24.7zM72.9 52.1h5.1v4.5h-5.1zM102.2 56.5h5.1v4.5h-5.1zM58.2 65.2h10.0v4.5h-10.0zM38.6 69.5h5.1v4.5h-5.1zM53.3 69.5h5.1v4.5h-5.1zM48.4 73.8h5.1v4.5h-5.1zM131.5 126.0h5.1v4.5h-5.1zM121.8 134.7h5.1v4.5h-5.1z"/>
<path fill="#a9a9a9" d="M43.5 21.7h5.1v4.5h-5.1zM116.9 26.1h5.1v4.5h-5.1zM48.4 30.4h5.1v4.5h-5.1zM112.0 34.8h5.1v4.5h-5.1zM77.8 39.1h5.1v4.5h-5.1zM63.1 43.4h5.1v4.5h-5.1zM97.3 69.5h5.1v4.5h-5.1zM87.5 78.2h5.1v4.5h-5.1zM58.2 82.5h5.1v4.5h-5.1zM146.2 108.6h5.1v4.5h-5.1z"/>
<path fill="#585858" d="M68.0 21.7h5.1v4.5h-5.1zM146.2 60.8h14.9v4.5h-14.9zM126.7 65.2h5.1v4.5h-5.1zM136.4 65.2h24.7v4.5h-24.7zM131.5 69.5h5.1v4.5h-5.1zM107.1 91.2h5.1v4.5h-5.1zM82.6 104.2h5.1v4.5h-5.1zM97.3 104.2h5.1v4.5h-5.1zM107.1 104.2h5.1v4.5h-5.1zM82.6 108.6h5.1v4.5h-5.1zM92.4 108.6h19.8v4.5h-19.8zM53.3 112.9h19.8v4.5h-19.8zM77.8 112.9h5.1v4.5h-5.1zM68.0 117.3h5.1v4.5h-5.1zM53.3 121.6h5.1v4.5h-5.1zM68.0 121.6h5.1v4.5h-5.1zM53.3 126.0h5.1v4.5h-5.1zM63.1 126.0h5.1v4.5h-5.1zM63.1 130.3h5.1v4.5h-5.1z"/>
<path fill="#484848" d="M77.8 21.7h5.1v4.5h-5.1zM92.4 21.7h5.1v4.5h-5.1zM116.9 95.6h10.0v4.5h-10.0zM4.4 99.9h5.1v4.5h-5.1zM19.1 104.2h5.1v4.5h-5.1zM28.9 108.6h5.1v4.5h-5.1zM43.5 121.6h5.1v4.5h-5.1zM43.5 134.7h5.1v4.5h-5.1zM43.5 139.0h5.1v4.5h-5.1zM43.5 143.3h5.1v4.5h-5.1zM43.5 147.7h5.1v4.5h-5.1zM43.5 152.0h5.1v4.5h-5.1zM43.5 156.4h5.1v4.5h-5.1z"/>
<path fill="#3e3e3e" d="M87.5 21.7h5.1v4.5h-5.1zM-0.5 99.9h5.1v4.5h-5.1zM33.7 117.3h5.1v4.5h-5.1z"/>
<path fill="#5e5e5e" d="M97.3 21.7h5.1v4.5h-5.1zM82.6 26.1h5.1v4.5h-5.1zM146.2 56.5h10.0v4.5h-10.0zM121.8 69.5h5.1v4.5h-5.1zM121.8 73.8h5.1v4.5h-5.1zM116.9 78.2h10.0v4.5h-10.0zM131.5 78.2h5.1v4.5h-5.1zM97.3 95.6h5.1v4.5h-5.1zM116.9 108.6h5.1v4.5h-5.1zM77.8 121.6h5.1v4.5h-5.1zM68.0 139.0h5.1v4.5h-5.1zM68.0 143.3h5.1v4.5h-5.1zM68.0 147.7h5.1v4.5h-5.1zM68.0 152.0h5.1v4.5h-5.1zM68.0 156.4h5.1v4.5h-5.1z"/>
<path fill="#959595" d="M107.1 21.7h5.1v4.5h-5.1zM146.2 47.8h14.9v4.5h-14.9zM121.8 52.1h5.1v4.5h-5.1zM28.9 86.9h5.1v4.5h-5.1zM63.1 86.9h5.1v4.5h-5.1zM136.4 104.2h5.1v4.5h-5.1zM126.7 112.9h5.1v4.5h-5.1zM116.9 121.6h5.1v4.5h-5.1z"/>
<path fill="#c3c3c3" d="M24.0 26.1h5.1v4.5h-5.1zM24.0 30.4h5.1v4.5h-5.1zM116.9 43.4h5.1v4.5h-5.1zM33.7 52.1h5.1v4.5h-5.1zM102.2 52.1h5.1v4.5h-5.1zM33.7 56.5h5.1v4.5h-5.1zM33.7 60.8h5.1v4.5h-5.1zM33.7 65.2h5.1v4.5h-5.1zM72.9 65.2h14.9v4.5h-14.9zM33.7 69.5h5.1v4.5h-5.1zM43.5 73.8h5.1v4.5h-5.1zM146.2 126.0h14.9v4.5h-14.9zM126.7 130.3h5.1v4.5h-5.1zM121.8 143.3h5.1v4.5h-5.1zM121.8 147.7h5.1v4.5h-5.1zM121.8 152.0h5.1v4.5h-5.1zM121.8 156.4h5.1v4.5h-5.1z"/>
<path fill="#6a6a6a" d="M68.0 26.1h5.1v4.5h-5.1zM-0.5 91.2h5.1v4.5h-5.1zM87.5 95.6h5.1v4.5h-5.1zM33.7 99.9h5.1v4.5h-5.1zM43.5 99.9h19.8v4.5h-19.8zM72.9 99.9h5.1v4.5h-5.1zM112.0 112.9h5.1v4.5h-5.1z"/>
<path fill="#606060" d="M77.8 26.1h5.1v4.5h-5.1zM92.4 26.1h5.1v4.5h-5.1zM126.7 78.2h5.1v4.5h-5.1zM102.2 91.2h5.1v4.5h-5.1zM4.4 95.6h5.1v4.5h-5.1zM24.0 99.9h5.1v4.5h-5.1zM82.6 99.9h5.1v4.5h-5.1zM38.6 104.2h5.1v4.5h-5.1zM58.2 104.2h10.0v4.5h-10.0zM77.8 104.2h5.1v4.5h-5.1zM107.1 112.9h5.1v4.5h-5.1zM82.6 117.3h5.1v4.5h-5.1zM72.9 126.0h5.1v4.5h-5.1z"/>
<path fill="#5c5c5c" d="M87.5 26.1h5.1v4.5h-5.1zM141.3 56.5h5.1v4.5h-5.1zM156.0 56.5h5.1v4.5h-5.1zM126.7 73.8h34.4v4.5h-34.4zM136.4 78.2h24.7v4.5h-24.7zM126.7 82.5h34.4v4.5h-34.4zM87.5 99.9h10.0v4.5h-10.0zM33.7 104.2h5.1v4.5h-5.1zM48.4 108.6h10.0v4.5h-10.0zM68.0 108.6h10.0v4.5h-10.0zM82.6 112.9h14.9v4.5h-14.9zM68.0 130.3h5.1v4.5h-5.1zM68.0 134.7h5.1v4.5h-5.1z"/>
<path fill="#6c6c6c" d="M97.3 26.1h5.1v4.5h-5.1zM9.3 95.6h5.1v4.5h-5.1zM77.8 95.6h10.0v4.5h-10.0zM38.6 99.9h5.1v4.5h-5.1zM63.1 99.9h10.0v4.5h-10.0zM97.3 121.6h5.1v4.5h-5.1zM92.4 126.0h5.1v4.5h-5.1z"/>
<path fill="#9f9f9f" d="M112.0 26.1h5.1v4.5h-5.1zM68.0 82.5h5.1v4.5h-5.1zM53.3 86.9h5.1v4.5h-5.1zM112.0 139.0h5.1v4.5h-5.1zM112.0 143.3h5.1v4.5h-5.1zM112.0 147.7h5.1v4.5h-5.1zM112.0 152.0h5.1v4.5h-5.1zM112.0 156.4h5.1v4.5h-5.1z"/>
<path fill="#747474" d="M72.9 30.4h5.1v4.5h-5.1zM131.5 52.1h5.1v4.5h-5.1zM121.8 60.8h5.1v4.5h-5.1zM97.3 86.9h5.1v4.5h-5.1zM19.1 95.6h5.1v4.5h-5.1zM116.9 112.9h5.1v4.5h-5.1zM102.2 121.6h5.1v4.5h-5.1z"/>
<path fill="#838383" d="M97.3 30.4h5.1v4.5h-5.1zM-0.5 86.9h5.1v4.5h-5.1zM9.3 91.2h5.1v4.5h-5.1zM68.0 91.2h5.1v4.5h-5.1zM102.2 126.0h5.1v4.5h-5.1z"/>
<path fill="#a7a7a7" d="M116.9 30.4h5.1v4.5h-5.1zM72.9 39.1h5.1v4.5h-5.1zM112.0 56.5h5.1v4.5h-5.1zM107.1 60.8h5.1v4.5h-5.1z"/>
<path fill="#bdbdbd" d="M136.4 30.4h5.1v4.5h-5.1zM38.6 43.4h5.1v4.5h-5.1zM112.0 43.4h5.1v4.5h-5.1zM38.6 47.8h5.1v4.5h-5.1zM107.1 47.8h5.1v4.5h-5.1zM63.1 60.8h5.1v4.5h-5.1zM38.6 65.2h19.8v4.5h-19.8zM92.4 65.2h5.1v4.5h-5.1zM58.2 69.5h29.5v4.5h-29.5zM38.6 78.2h10.0v4.5h-10.0z"/>
<path fill="#9b9b9b" d="M53.3 34.8h5.1v4.5h-5.1zM112.0 60.8h5.1v4.5h-5.1zM97.3 78.2h5.1v4.5h-5.1zM-24.9 82.5h24.7v4.5h-24.7zM33.7 86.9h5.1v4.5h-5.1zM121.8 121.6h5.1v4.5h-5.1zM116.9 126.0h5.1v4.5h-5.1z"/>
<path fill="#898989" d="M63.1 34.8h10.0v4.5h-10.0zM116.9 60.8h5.1v4.5h-5.1zM82.6 86.9h5.1v4.5h-5.1zM19.1 91.2h5.1v4.5h-5.1zM33.7 91.2h34.4v4.5h-34.4zM116.9 117.3h5.1v4.5h-5.1zM102.2 130.3h5.1v4.5h-5.1z"/>
<path fill="#c1c1c1" d="M131.5 43.4h5.1v4.5h-5.1zM77.8 47.8h5.1v4.5h-5.1zM102.2 47.8h5.1v4.5h-5.1zM68.0 56.5h5.1v4.5h-5.1zM97.3 60.8h5.1v4.5h-5.1zM68.0 65.2h5.1v4.5h-5.1zM87.5 65.2h5.1v4.5h-5.1zM43.5 69.5h10.0v4.5h-10.0zM33.7 73.8h10.0v4.5h-10.0z"/>
<path fill="#8f8f8f" d="M112.0 65.2h5.1v4.5h-5.1zM107.1 69.5h5.1v4.5h-5.1zM102.2 78.2h5.1v4.5h-5.1zM146.2 104.2h10.0v4.5h-10.0zM121.8 117.3h5.1v4.5h-5.1z"/>
<path fill="#727272" d="M112.0 73.8h5.1v4.5h-5.1zM107.1 82.5h5.1v4.5h-5.1zM14.2 95.6h5.1v4.5h-5.1zM136.4 99.9h5.1v4.5h-5.1z"/>
<path fill="#666666" d="M116.9 73.8h5.1v4.5h-5.1zM107.1 86.9h5.1v4.5h-5.1zM-20.0 91.2h10.0v4.5h-10.0zM97.3 91.2h5.1v4.5h-5.1zM28.9 99.9h5.1v4.5h-5.1zM77.8 99.9h5.1v4.5h-5.1zM131.5 99.9h5.1v4.5h-5.1zM102.2 117.3h5.1v4.5h-5.1zM82.6 126.0h5.1v4.5h-5.1zM82.6 130.3h10.0v4.5h-10.0zM77.8 134.7h14.9v4.5h-14.9zM77.8 139.0h10.0v4.5h-10.0zM77.8 143.3h10.0v4.5h-10.0zM77.8 147.7h14.9v4.5h-14.9zM77.8 152.0h14.9v4.5h-14.9zM77.8 156.4h14.9v4.5h-14.9z"/>
<path fill="#686868" d="M112.0 78.2h5.1v4.5h-5.1zM121.8 108.6h5.1v4.5h-5.1zM87.5 121.6h10.0v4.5h-10.0zM87.5 126.0h5.1v4.5h-5.1zM77.8 130.3h5.1v4.5h-5.1zM87.5 139.0h5.1v4.5h-5.1zM87.5 143.3h5.1v4.5h-5.1z"/>
<path fill="#4e4e4e" d="M116.9 91.2h5.1v4.5h-5.1zM-24.9 95.6h14.9v4.5h-14.9zM112.0 95.6h5.1v4.5h-5.1zM112.0 99.9h5.1v4.5h-5.1zM24.0 104.2h5.1v4.5h-5.1zM116.9 104.2h10.0v4.5h-10.0zM33.7 108.6h5.1v4.5h-5.1zM48.4 134.7h10.0v4.5h-10.0zM48.4 139.0h5.1v4.5h-5.1zM48.4 143.3h5.1v4.5h-5.1zM58.2 143.3h5.1v4.5h-5.1zM48.4 147.7h5.1v4.5h-5.1zM58.2 147.7h5.1v4.5h-5.1zM48.4 152.0h5.1v4.5h-5.1zM58.2 152.0h5.1v4.5h-5.1zM48.4 156.4h5.1v4.5h-5.1zM58.2 156.4h5.1v4.5h-5.1z"/>
<path fill="#4a4a4a" d="M136.4 91.2h10.0v4.5h-10.0z"/>
<path fill="#3a3a3a" d="M-24.9 99.9h19.8v4.5h-19.8zM38.6 126.0h5.1v4.5h-5.1zM38.6 134.7h5.1v4.5h-5.1zM38.6 139.0h5.1v4.5h-5.1zM38.6 143.3h5.1v4.5h-5.1zM38.6 147.7h5.1v4.5h-5.1zM38.6 152.0h5.1v4.5h-5.1zM38.6 156.4h5.1v4.5h-5.1z"/>
<path fill="#464646" d="M116.9 99.9h5.1v4.5h-5.1zM38.6 117.3h5.1v4.5h-5.1zM43.5 126.0h5.1v4.5h-5.1zM43.5 130.3h5.1v4.5h-5.1z"/>
<path fill="#282828" d="M-24.9 108.6h19.8v4.5h-19.8z"/>
<path fill="#2a2a2a" d="M-5.4 108.6h5.1v4.5h-5.1zM28.9 121.6h5.1v4.5h-5.1z"/>
<path fill="#202020" d="M4.4 108.6h5.1v4.5h-5.1zM-0.5 112.9h5.1v4.5h-5.1zM14.2 112.9h5.1v4.5h-5.1zM-5.4 117.3h5.1v4.5h-5.1zM28.9 130.3h5.1v4.5h-5.1zM28.9 134.7h5.1v4.5h-5.1zM28.9 139.0h5.1v4.5h-5.1zM28.9 143.3h5.1v4.5h-5.1zM28.9 147.7h5.1v4.5h-5.1zM28.9 152.0h5.1v4.5h-5.1zM28.9 156.4h5.1v4.5h-5.1z"/>
<path fill="#3c3c3c" d="M28.9 112.9h5.1v4.5h-5.1z"/>
<path fill="#1c1c1c" d="M-0.5 117.3h5.1v4.5h-5.1z"/>
<path fill="#e9e9e9" d="M136.4 139.0h10.0v4.5h-10.0zM136.4 143.3h5.1v4.5h-5.1z"/>
</g></g>
<path d="M0.6,7.1C1.3,6.5 3.1,4.6 4.5,3.5C5.9,2.4 8.5,1.1 9.3,0.6M37.0,0.0C36.9,1.7 37.0,6.9 36.5,10.4C36.0,13.9 35.1,17.6 34.3,21.2C33.5,24.8 32.1,28.7 31.6,32.1C31.0,35.5 31.0,38.3 31.0,41.5C31.0,44.7 31.2,48.2 31.5,51.5C31.8,54.8 33.0,58.5 33.0,61.5C33.0,64.5 32.6,67.2 31.5,69.5C30.4,71.8 28.5,73.7 26.5,75.0C24.5,76.3 23.0,77.0 19.5,77.5C16.0,78.0 8.8,77.9 5.5,77.7C2.2,77.5 0.9,76.7 0.0,76.5M48.8,0.0C49.0,1.1 49.5,4.2 50.0,6.5C50.5,8.8 50.9,10.2 52.0,13.6C53.1,17.0 55.0,24.0 56.4,26.7C57.8,29.4 58.7,29.1 60.5,30.0C62.3,30.9 64.7,31.6 67.2,32.1C69.7,32.6 72.8,32.7 75.5,32.8C78.2,32.9 80.5,32.9 83.5,32.7C86.5,32.5 90.2,32.1 93.5,31.5C96.8,30.8 101.5,29.2 103.1,28.8M58.0,0.0C58.2,1.1 58.4,4.4 59.0,6.5C59.6,8.6 60.7,10.8 61.8,12.5C62.9,14.2 64.0,15.7 65.5,17.0C67.0,18.3 67.8,19.3 70.5,20.2C73.2,21.1 77.4,22.0 81.4,22.3C85.4,22.6 92.2,21.9 94.4,21.8M68.3,0.0C68.8,1.0 70.0,4.1 71.6,6.0C73.2,7.9 75.9,10.4 78.1,11.5C80.2,12.6 82.3,12.5 84.5,12.8C86.7,13.1 90.1,13.1 91.2,13.1M76.5,0.8C77.4,1.1 79.4,2.3 81.8,2.7C84.2,3.1 89.4,3.0 90.9,3.1M74.5,59.0a12.5,8.5 0 1,0 25.0,0a12.5,8.5 0 1,0 -25.0,0zM122.9,24.7C122.9,25.1 122.8,25.7 122.9,27.1C123.0,28.6 122.9,31.5 123.7,33.4C124.5,35.3 125.9,37.2 127.9,38.4C130.0,39.6 134.7,40.1 136.0,40.5M0.0,87.8C1.5,88.6 5.2,91.2 9.0,92.5C12.8,93.8 18.9,95.0 23.1,95.7C27.3,96.4 30.3,96.6 34.2,96.5C38.2,96.4 42.6,95.5 46.8,94.9C51.0,94.3 55.5,93.2 59.4,92.9C63.4,92.6 67.2,93.2 70.5,93.3C73.8,93.4 76.5,93.8 79.5,93.5C82.5,93.2 85.8,92.3 88.5,91.5C91.2,90.7 93.2,89.8 95.5,88.5C97.8,87.2 100.5,85.3 102.5,84.0C104.5,82.7 105.7,82.1 107.5,80.5C109.3,78.9 111.5,76.7 113.5,74.5C115.5,72.3 117.5,69.8 119.5,67.5C121.5,65.2 123.5,62.5 125.5,60.5C127.5,58.5 129.8,57.0 131.5,55.5C133.2,54.0 135.2,52.2 136.0,51.5M0.0,96.5C2.0,97.4 7.7,99.8 12.1,102.0C16.5,104.2 22.9,107.8 26.3,109.9C29.7,112.0 30.7,112.9 32.5,114.5C34.3,116.1 35.9,117.7 37.3,119.3C38.7,120.9 40.1,122.4 41.0,124.0C41.9,125.6 42.3,126.3 42.9,128.8C43.5,131.3 44.2,137.3 44.4,139.0M4.2,106.7C6.1,107.5 12.4,109.7 15.3,111.5C18.2,113.3 19.9,115.5 21.6,117.8C23.3,120.2 24.7,122.1 25.5,125.6C26.3,129.1 26.2,136.8 26.3,139.0M0.0,109.9 9.0,117.0M99.5,139.0C100.3,137.8 102.5,133.9 104.5,131.5C106.5,129.1 109.3,126.3 111.5,124.5C113.7,122.7 115.5,121.5 117.5,120.5C119.5,119.5 122.5,118.8 123.5,118.5M123.5,137.0C124.5,136.1 127.4,133.2 129.5,131.5C131.6,129.8 134.9,127.3 136.0,126.5" fill="none" stroke="#b8b8b8" stroke-opacity="0.75" stroke-width="1.5" stroke-linejoin="round" stroke-linecap="round" clip-path="url(#pc)"/>
<line x1="0" y1="104.25" x2="136" y2="104.25" stroke="#3a3a3a" stroke-opacity="0.68" stroke-width="1.9" stroke-dasharray="6 5.8"/>
<line x1="67.97" y1="139" x2="67.97" y2="0" stroke="#3a3a3a" stroke-opacity="0.68" stroke-width="1.9" stroke-dasharray="6 5.8"/>
<rect x="0" y="0" width="136" height="139" fill="none" stroke="#636363" stroke-width="1.35"/>
</g>
<text x="107.50" y="8.6" font-size="12" font-style="italic" fill="#1a1a1a" text-anchor="middle">F. sylvatica</text>
<g transform="translate(184.0,18.5)">
<g clip-path="url(#m1)"><g filter="url(#cm)">
<path fill="#bfbfbf" d="M-24.9 -21.7h19.8v4.5h-19.8zM-0.5 -21.7h5.1v4.5h-5.1zM116.9 -21.7h10.0v4.5h-10.0zM-24.9 -17.4h19.8v4.5h-19.8zM-0.5 -17.4h5.1v4.5h-5.1zM116.9 -17.4h10.0v4.5h-10.0zM-24.9 -13.0h19.8v4.5h-19.8zM-0.5 -13.0h5.1v4.5h-5.1zM116.9 -13.0h10.0v4.5h-10.0zM-24.9 -8.7h19.8v4.5h-19.8zM-0.5 -8.7h5.1v4.5h-5.1zM116.9 -8.7h10.0v4.5h-10.0zM-24.9 -4.3h19.8v4.5h-19.8zM116.9 -4.3h10.0v4.5h-10.0zM-24.9 0.0h34.4v4.5h-34.4zM116.9 0.0h10.0v4.5h-10.0zM-24.9 4.3h24.7v4.5h-24.7zM116.9 4.3h10.0v4.5h-10.0zM-24.9 8.7h24.7v4.5h-24.7zM48.4 8.7h5.1v4.5h-5.1zM116.9 8.7h10.0v4.5h-10.0zM-24.9 13.0h24.7v4.5h-24.7zM116.9 13.0h10.0v4.5h-10.0zM-24.9 17.4h24.7v4.5h-24.7zM112.0 17.4h14.9v4.5h-14.9zM-24.9 21.7h24.7v4.5h-24.7zM112.0 21.7h14.9v4.5h-14.9zM-24.9 26.1h24.7v4.5h-24.7zM112.0 26.1h14.9v4.5h-14.9zM-24.9 30.4h24.7v4.5h-24.7zM112.0 30.4h14.9v4.5h-14.9zM-24.9 34.8h24.7v4.5h-24.7zM107.1 34.8h5.1v4.5h-5.1zM121.8 34.8h14.9v4.5h-14.9zM141.3 34.8h19.8v4.5h-19.8zM-24.9 39.1h29.5v4.5h-29.5zM38.6 39.1h5.1v4.5h-5.1zM112.0 39.1h5.1v4.5h-5.1zM126.7 39.1h34.4v4.5h-34.4zM-24.9 43.4h29.5v4.5h-29.5zM116.9 43.4h5.1v4.5h-5.1zM-24.9 47.8h39.3v4.5h-39.3zM121.8 47.8h5.1v4.5h-5.1zM-24.9 52.1h24.7v4.5h-24.7zM9.3 52.1h5.1v4.5h-5.1zM-24.9 56.5h24.7v4.5h-24.7zM9.3 56.5h5.1v4.5h-5.1zM-24.9 60.8h34.4v4.5h-34.4zM-24.9 65.2h14.9v4.5h-14.9zM-24.9 69.5h14.9v4.5h-14.9zM-24.9 73.8h19.8v4.5h-19.8zM-15.2 78.2h5.1v4.5h-5.1zM-0.5 78.2h5.1v4.5h-5.1zM-5.4 86.9h5.1v4.5h-5.1z"/>
<path fill="#c1c1c1" d="M-5.4 -21.7h5.1v4.5h-5.1zM126.7 -21.7h5.1v4.5h-5.1zM-5.4 -17.4h5.1v4.5h-5.1zM126.7 -17.4h5.1v4.5h-5.1zM-5.4 -13.0h5.1v4.5h-5.1zM126.7 -13.0h5.1v4.5h-5.1zM-5.4 -8.7h5.1v4.5h-5.1zM126.7 -8.7h5.1v4.5h-5.1zM-5.4 -4.3h5.1v4.5h-5.1zM126.7 -4.3h5.1v4.5h-5.1zM126.7 0.0h5.1v4.5h-5.1zM-0.5 4.3h5.1v4.5h-5.1zM-0.5 8.7h5.1v4.5h-5.1zM126.7 8.7h5.1v4.5h-5.1zM-0.5 13.0h5.1v4.5h-5.1zM126.7 13.0h5.1v4.5h-5.1zM-0.5 17.4h5.1v4.5h-5.1zM-0.5 21.7h5.1v4.5h-5.1zM43.5 26.1h5.1v4.5h-5.1zM126.7 26.1h5.1v4.5h-5.1zM107.1 30.4h5.1v4.5h-5.1zM126.7 30.4h10.0v4.5h-10.0zM-0.5 34.8h5.1v4.5h-5.1zM112.0 34.8h10.0v4.5h-10.0zM4.4 39.1h5.1v4.5h-5.1zM116.9 39.1h10.0v4.5h-10.0zM9.3 43.4h5.1v4.5h-5.1zM33.7 43.4h5.1v4.5h-5.1zM121.8 43.4h39.3v4.5h-39.3zM28.9 47.8h5.1v4.5h-5.1zM126.7 47.8h34.4v4.5h-34.4zM-0.5 52.1h10.0v4.5h-10.0zM-0.5 56.5h5.1v4.5h-5.1zM-10.3 65.2h10.0v4.5h-10.0zM-10.3 69.5h10.0v4.5h-10.0zM-5.4 73.8h5.1v4.5h-5.1zM-24.9 78.2h10.0v4.5h-10.0zM-10.3 78.2h10.0v4.5h-10.0zM-24.9 82.5h19.8v4.5h-19.8z"/>
<path fill="#bdbdbd" d="M4.4 -21.7h5.1v4.5h-5.1zM112.0 -21.7h5.1v4.5h-5.1zM4.4 -17.4h5.1v4.5h-5.1zM112.0 -17.4h5.1v4.5h-5.1zM4.4 -13.0h5.1v4.5h-5.1zM112.0 -13.0h5.1v4.5h-5.1zM4.4 -8.7h5.1v4.5h-5.1zM112.0 -8.7h5.1v4.5h-5.1zM-0.5 -4.3h10.0v4.5h-10.0zM112.0 -4.3h5.1v4.5h-5.1zM112.0 0.0h5.1v4.5h-5.1zM112.0 4.3h5.1v4.5h-5.1zM112.0 8.7h5.1v4.5h-5.1zM112.0 13.0h5.1v4.5h-5.1zM107.1 26.1h5.1v4.5h-5.1zM102.2 30.4h5.1v4.5h-5.1zM136.4 34.8h5.1v4.5h-5.1zM4.4 43.4h5.1v4.5h-5.1zM14.2 52.1h5.1v4.5h-5.1zM24.0 52.1h5.1v4.5h-5.1zM126.7 52.1h34.4v4.5h-34.4zM-0.5 65.2h5.1v4.5h-5.1zM-0.5 69.5h5.1v4.5h-5.1zM-0.5 73.8h5.1v4.5h-5.1zM-0.5 82.5h5.1v4.5h-5.1zM-24.9 86.9h19.8v4.5h-19.8zM-5.4 126.0h5.1v4.5h-5.1z"/>
<path fill="#c5c5c5" d="M9.3 -21.7h5.1v4.5h-5.1zM9.3 -17.4h5.1v4.5h-5.1zM9.3 -13.0h5.1v4.5h-5.1zM48.4 0.0h5.1v4.5h-5.1zM4.4 4.3h5.1v4.5h-5.1zM48.4 4.3h5.1v4.5h-5.1zM43.5 17.4h5.1v4.5h-5.1zM43.5 21.7h5.1v4.5h-5.1zM38.6 34.8h5.1v4.5h-5.1zM9.3 39.1h5.1v4.5h-5.1zM19.1 47.8h10.0v4.5h-10.0z"/>
<path fill="#d5d5d5" d="M14.2 -21.7h5.1v4.5h-5.1zM14.2 -17.4h5.1v4.5h-5.1zM14.2 -13.0h5.1v4.5h-5.1zM9.3 8.7h5.1v4.5h-5.1zM19.1 26.1h10.0v4.5h-10.0z"/>
<path fill="#e5e5e5" d="M19.1 -21.7h5.1v4.5h-5.1zM19.1 -17.4h5.1v4.5h-5.1zM19.1 -13.0h5.1v4.5h-5.1zM19.1 -8.7h5.1v4.5h-5.1zM19.1 -4.3h5.1v4.5h-5.1zM19.1 0.0h5.1v4.5h-5.1zM28.9 8.7h10.0v4.5h-10.0zM28.9 13.0h5.1v4.5h-5.1zM24.0 17.4h5.1v4.5h-5.1z"/>
<path fill="#f1f1f1" d="M24.0 -21.7h5.1v4.5h-5.1zM28.9 -17.4h5.1v4.5h-5.1zM28.9 -13.0h5.1v4.5h-5.1zM24.0 -8.7h5.1v4.5h-5.1zM24.0 -4.3h5.1v4.5h-5.1z"/>
<path fill="#f3f3f3" d="M28.9 -21.7h5.1v4.5h-5.1zM28.9 -8.7h5.1v4.5h-5.1zM28.9 -4.3h5.1v4.5h-5.1z"/>
<path fill="#ebebeb" d="M33.7 -21.7h5.1v4.5h-5.1zM33.7 -17.4h5.1v4.5h-5.1zM33.7 -13.0h5.1v4.5h-5.1zM33.7 -8.7h5.1v4.5h-5.1zM33.7 -4.3h5.1v4.5h-5.1zM33.7 0.0h5.1v4.5h-5.1z"/>
<path fill="#dfdfdf" d="M38.6 -21.7h5.1v4.5h-5.1zM38.6 -17.4h5.1v4.5h-5.1zM38.6 -13.0h5.1v4.5h-5.1zM38.6 -8.7h5.1v4.5h-5.1zM38.6 -4.3h5.1v4.5h-5.1zM14.2 4.3h5.1v4.5h-5.1zM38.6 8.7h5.1v4.5h-5.1zM14.2 17.4h5.1v4.5h-5.1zM19.1 21.7h10.0v4.5h-10.0z"/>
<path fill="#d3d3d3" d="M43.5 -21.7h5.1v4.5h-5.1zM43.5 -17.4h5.1v4.5h-5.1zM43.5 -13.0h5.1v4.5h-5.1zM14.2 -8.7h5.1v4.5h-5.1zM43.5 -8.7h5.1v4.5h-5.1zM14.2 -4.3h5.1v4.5h-5.1zM43.5 0.0h5.1v4.5h-5.1zM43.5 8.7h5.1v4.5h-5.1zM9.3 13.0h5.1v4.5h-5.1zM14.2 26.1h5.1v4.5h-5.1zM28.9 26.1h5.1v4.5h-5.1z"/>
<path fill="#c7c7c7" d="M48.4 -21.7h5.1v4.5h-5.1zM48.4 -17.4h5.1v4.5h-5.1zM48.4 -13.0h5.1v4.5h-5.1zM48.4 -8.7h5.1v4.5h-5.1zM48.4 -4.3h5.1v4.5h-5.1zM9.3 0.0h5.1v4.5h-5.1zM4.4 8.7h5.1v4.5h-5.1zM4.4 13.0h5.1v4.5h-5.1zM4.4 17.4h5.1v4.5h-5.1zM4.4 21.7h5.1v4.5h-5.1zM131.5 26.1h5.1v4.5h-5.1zM4.4 34.8h5.1v4.5h-5.1zM33.7 39.1h5.1v4.5h-5.1zM14.2 43.4h5.1v4.5h-5.1zM28.9 43.4h5.1v4.5h-5.1z"/>
<path fill="#b9b9b9" d="M53.3 -21.7h5.1v4.5h-5.1zM53.3 -17.4h5.1v4.5h-5.1zM53.3 -13.0h5.1v4.5h-5.1zM48.4 13.0h5.1v4.5h-5.1zM48.4 17.4h5.1v4.5h-5.1zM107.1 17.4h5.1v4.5h-5.1zM107.1 21.7h5.1v4.5h-5.1zM43.5 34.8h5.1v4.5h-5.1zM107.1 39.1h5.1v4.5h-5.1zM38.6 43.4h5.1v4.5h-5.1zM112.0 43.4h5.1v4.5h-5.1zM116.9 47.8h5.1v4.5h-5.1zM28.9 52.1h5.1v4.5h-5.1zM-0.5 86.9h5.1v4.5h-5.1zM-5.4 121.6h5.1v4.5h-5.1zM-24.9 126.0h5.1v4.5h-5.1z"/>
<path fill="#ababab" d="M58.2 -21.7h5.1v4.5h-5.1zM102.2 -21.7h5.1v4.5h-5.1zM58.2 -17.4h5.1v4.5h-5.1zM58.2 -13.0h5.1v4.5h-5.1zM102.2 -8.7h5.1v4.5h-5.1zM102.2 -4.3h5.1v4.5h-5.1zM53.3 13.0h5.1v4.5h-5.1zM53.3 26.1h5.1v4.5h-5.1zM53.3 39.1h5.1v4.5h-5.1zM87.5 39.1h5.1v4.5h-5.1zM87.5 43.4h5.1v4.5h-5.1zM87.5 47.8h5.1v4.5h-5.1zM33.7 56.5h5.1v4.5h-5.1zM97.3 56.5h5.1v4.5h-5.1zM28.9 65.2h5.1v4.5h-5.1zM19.1 69.5h5.1v4.5h-5.1zM116.9 73.8h10.0v4.5h-10.0zM131.5 73.8h29.5v4.5h-29.5zM9.3 78.2h5.1v4.5h-5.1zM4.4 86.9h5.1v4.5h-5.1zM-0.5 112.9h5.1v4.5h-5.1zM-0.5 126.0h5.1v4.5h-5.1zM-10.3 130.3h5.1v4.5h-5.1z"/>
<path fill="#9d9d9d" d="M63.1 -21.7h5.1v4.5h-5.1zM92.4 -21.7h5.1v4.5h-5.1zM63.1 -17.4h5.1v4.5h-5.1zM92.4 -17.4h5.1v4.5h-5.1zM63.1 -13.0h5.1v4.5h-5.1zM92.4 -13.0h5.1v4.5h-5.1zM63.1 -8.7h5.1v4.5h-5.1zM92.4 -8.7h5.1v4.5h-5.1zM92.4 -4.3h5.1v4.5h-5.1zM63.1 0.0h5.1v4.5h-5.1zM87.5 4.3h5.1v4.5h-5.1zM82.6 13.0h5.1v4.5h-5.1zM77.8 21.7h5.1v4.5h-5.1zM77.8 26.1h5.1v4.5h-5.1zM77.8 30.4h5.1v4.5h-5.1zM63.1 34.8h5.1v4.5h-5.1zM63.1 39.1h5.1v4.5h-5.1zM53.3 56.5h5.1v4.5h-5.1zM77.8 60.8h5.1v4.5h-5.1zM82.6 65.2h5.1v4.5h-5.1zM28.9 69.5h5.1v4.5h-5.1zM38.6 69.5h5.1v4.5h-5.1zM97.3 73.8h10.0v4.5h-10.0zM116.9 82.5h10.0v4.5h-10.0z"/>
<path fill="#979797" d="M68.0 -21.7h5.1v4.5h-5.1zM68.0 -17.4h5.1v4.5h-5.1zM68.0 -13.0h5.1v4.5h-5.1zM68.0 -8.7h5.1v4.5h-5.1zM68.0 -4.3h5.1v4.5h-5.1zM68.0 0.0h5.1v4.5h-5.1zM72.9 21.7h5.1v4.5h-5.1zM68.0 26.1h10.0v4.5h-10.0zM68.0 30.4h10.0v4.5h-10.0zM68.0 34.8h10.0v4.5h-10.0zM68.0 39.1h10.0v4.5h-10.0zM58.2 60.8h5.1v4.5h-5.1zM68.0 60.8h5.1v4.5h-5.1zM72.9 65.2h5.1v4.5h-5.1zM43.5 69.5h5.1v4.5h-5.1zM77.8 69.5h5.1v4.5h-5.1zM97.3 78.2h5.1v4.5h-5.1zM9.3 86.9h5.1v4.5h-5.1zM116.9 86.9h5.1v4.5h-5.1zM126.7 86.9h5.1v4.5h-5.1zM126.7 91.2h10.0v4.5h-10.0zM4.4 121.6h5.1v4.5h-5.1zM-0.5 130.3h5.1v4.5h-5.1z"/>
<path fill="#999999" d="M72.9 -21.7h19.8v4.5h-19.8zM72.9 -17.4h19.8v4.5h-19.8zM72.9 -13.0h14.9v4.5h-14.9zM72.9 -8.7h19.8v4.5h-19.8zM72.9 -4.3h19.8v4.5h-19.8zM72.9 0.0h14.9v4.5h-14.9zM68.0 4.3h14.9v4.5h-14.9zM68.0 8.7h14.9v4.5h-14.9zM68.0 13.0h10.0v4.5h-10.0zM68.0 17.4h10.0v4.5h-10.0zM68.0 21.7h5.1v4.5h-5.1zM68.0 43.4h10.0v4.5h-10.0zM63.1 47.8h14.9v4.5h-14.9zM58.2 52.1h19.8v4.5h-19.8zM58.2 56.5h5.1v4.5h-5.1zM72.9 56.5h5.1v4.5h-5.1zM72.9 60.8h5.1v4.5h-5.1zM87.5 69.5h5.1v4.5h-5.1zM107.1 78.2h5.1v4.5h-5.1zM112.0 82.5h5.1v4.5h-5.1zM121.8 86.9h5.1v4.5h-5.1zM131.5 86.9h29.5v4.5h-29.5zM136.4 91.2h24.7v4.5h-24.7zM4.4 108.6h5.1v4.5h-5.1zM4.4 112.9h5.1v4.5h-5.1z"/>
<path fill="#a3a3a3" d="M97.3 -21.7h5.1v4.5h-5.1zM97.3 -17.4h5.1v4.5h-5.1zM97.3 -13.0h5.1v4.5h-5.1zM97.3 -8.7h5.1v4.5h-5.1zM97.3 -4.3h5.1v4.5h-5.1zM58.2 4.3h5.1v4.5h-5.1zM87.5 17.4h10.0v4.5h-10.0zM82.6 21.7h5.1v4.5h-5.1zM58.2 30.4h5.1v4.5h-5.1zM82.6 30.4h5.1v4.5h-5.1zM58.2 34.8h5.1v4.5h-5.1zM82.6 34.8h5.1v4.5h-5.1zM58.2 39.1h5.1v4.5h-5.1zM82.6 39.1h5.1v4.5h-5.1zM82.6 43.4h5.1v4.5h-5.1zM82.6 52.1h5.1v4.5h-5.1zM48.4 56.5h5.1v4.5h-5.1zM82.6 56.5h5.1v4.5h-5.1zM48.4 60.8h5.1v4.5h-5.1zM82.6 60.8h5.1v4.5h-5.1zM102.2 69.5h5.1v4.5h-5.1zM116.9 78.2h10.0v4.5h-10.0zM136.4 78.2h5.1v4.5h-5.1zM4.4 99.9h5.1v4.5h-5.1z"/>
<path fill="#b5b5b5" d="M107.1 -21.7h5.1v4.5h-5.1zM107.1 -17.4h5.1v4.5h-5.1zM107.1 -13.0h5.1v4.5h-5.1zM107.1 -8.7h5.1v4.5h-5.1zM107.1 -4.3h5.1v4.5h-5.1zM107.1 0.0h5.1v4.5h-5.1zM102.2 26.1h5.1v4.5h-5.1zM97.3 30.4h5.1v4.5h-5.1zM97.3 39.1h10.0v4.5h-10.0zM97.3 47.8h5.1v4.5h-5.1zM24.0 56.5h5.1v4.5h-5.1zM107.1 56.5h5.1v4.5h-5.1zM121.8 56.5h39.3v4.5h-39.3zM14.2 60.8h5.1v4.5h-5.1zM9.3 65.2h10.0v4.5h-10.0zM116.9 65.2h5.1v4.5h-5.1zM4.4 69.5h5.1v4.5h-5.1zM-24.9 91.2h14.9v4.5h-14.9zM-10.3 104.2h10.0v4.5h-10.0zM-10.3 108.6h5.1v4.5h-5.1zM-5.4 112.9h5.1v4.5h-5.1zM-20.0 121.6h10.0v4.5h-10.0z"/>
<path fill="#c9c9c9" d="M131.5 -21.7h5.1v4.5h-5.1zM131.5 -17.4h5.1v4.5h-5.1zM131.5 -13.0h5.1v4.5h-5.1zM131.5 -8.7h5.1v4.5h-5.1zM131.5 -4.3h5.1v4.5h-5.1zM131.5 0.0h5.1v4.5h-5.1zM131.5 4.3h5.1v4.5h-5.1zM131.5 8.7h5.1v4.5h-5.1zM43.5 13.0h5.1v4.5h-5.1zM131.5 13.0h5.1v4.5h-5.1zM131.5 17.4h5.1v4.5h-5.1zM4.4 26.1h5.1v4.5h-5.1zM38.6 26.1h5.1v4.5h-5.1zM146.2 26.1h14.9v4.5h-14.9zM38.6 30.4h5.1v4.5h-5.1z"/>
<path fill="#cdcdcd" d="M136.4 -21.7h10.0v4.5h-10.0zM151.1 -21.7h10.0v4.5h-10.0zM136.4 -17.4h10.0v4.5h-10.0zM151.1 -17.4h10.0v4.5h-10.0zM136.4 -13.0h10.0v4.5h-10.0zM151.1 -13.0h10.0v4.5h-10.0zM136.4 -8.7h10.0v4.5h-10.0zM156.0 -8.7h5.1v4.5h-5.1zM136.4 -4.3h10.0v4.5h-10.0zM156.0 -4.3h5.1v4.5h-5.1zM136.4 0.0h10.0v4.5h-10.0zM151.1 0.0h10.0v4.5h-10.0zM136.4 4.3h10.0v4.5h-10.0zM151.1 4.3h10.0v4.5h-10.0zM136.4 8.7h10.0v4.5h-10.0zM156.0 8.7h5.1v4.5h-5.1zM136.4 13.0h10.0v4.5h-10.0zM141.3 17.4h19.8v4.5h-19.8zM146.2 21.7h14.9v4.5h-14.9zM19.1 30.4h10.0v4.5h-10.0zM28.9 34.8h10.0v4.5h-10.0zM19.1 39.1h10.0v4.5h-10.0zM19.1 43.4h10.0v4.5h-10.0z"/>
<path fill="#cbcbcb" d="M146.2 -21.7h5.1v4.5h-5.1zM146.2 -17.4h5.1v4.5h-5.1zM146.2 -13.0h5.1v4.5h-5.1zM146.2 -8.7h10.0v4.5h-10.0zM146.2 -4.3h10.0v4.5h-10.0zM146.2 0.0h5.1v4.5h-5.1zM146.2 4.3h5.1v4.5h-5.1zM146.2 8.7h10.0v4.5h-10.0zM146.2 13.0h14.9v4.5h-14.9zM38.6 21.7h5.1v4.5h-5.1zM131.5 21.7h5.1v4.5h-5.1zM136.4 26.1h10.0v4.5h-10.0zM4.4 30.4h5.1v4.5h-5.1zM9.3 34.8h19.8v4.5h-19.8zM14.2 39.1h5.1v4.5h-5.1zM28.9 39.1h5.1v4.5h-5.1z"/>
<path fill="#efefef" d="M24.0 -17.4h5.1v4.5h-5.1zM24.0 -13.0h5.1v4.5h-5.1zM28.9 0.0h5.1v4.5h-5.1z"/>
<path fill="#adadad" d="M102.2 -17.4h5.1v4.5h-5.1zM102.2 -13.0h5.1v4.5h-5.1zM58.2 -8.7h5.1v4.5h-5.1zM58.2 -4.3h5.1v4.5h-5.1zM102.2 0.0h5.1v4.5h-5.1zM53.3 8.7h5.1v4.5h-5.1zM53.3 17.4h5.1v4.5h-5.1zM53.3 21.7h5.1v4.5h-5.1zM97.3 26.1h5.1v4.5h-5.1zM92.4 30.4h5.1v4.5h-5.1zM48.4 43.4h5.1v4.5h-5.1zM43.5 47.8h5.1v4.5h-5.1zM38.6 52.1h5.1v4.5h-5.1zM102.2 60.8h5.1v4.5h-5.1zM24.0 65.2h5.1v4.5h-5.1zM107.1 65.2h5.1v4.5h-5.1zM112.0 69.5h5.1v4.5h-5.1zM-0.5 108.6h5.1v4.5h-5.1zM-0.5 117.3h5.1v4.5h-5.1zM-5.4 130.3h5.1v4.5h-5.1z"/>
<path fill="#9b9b9b" d="M87.5 -13.0h5.1v4.5h-5.1zM87.5 0.0h5.1v4.5h-5.1zM63.1 4.3h5.1v4.5h-5.1zM82.6 4.3h5.1v4.5h-5.1zM63.1 8.7h5.1v4.5h-5.1zM82.6 8.7h5.1v4.5h-5.1zM63.1 13.0h5.1v4.5h-5.1zM77.8 13.0h5.1v4.5h-5.1zM63.1 17.4h5.1v4.5h-5.1zM77.8 17.4h5.1v4.5h-5.1zM63.1 21.7h5.1v4.5h-5.1zM63.1 26.1h5.1v4.5h-5.1zM63.1 30.4h5.1v4.5h-5.1zM77.8 34.8h5.1v4.5h-5.1zM77.8 39.1h5.1v4.5h-5.1zM63.1 43.4h5.1v4.5h-5.1zM77.8 43.4h5.1v4.5h-5.1zM58.2 47.8h5.1v4.5h-5.1zM77.8 47.8h5.1v4.5h-5.1zM53.3 52.1h5.1v4.5h-5.1zM77.8 52.1h5.1v4.5h-5.1zM63.1 56.5h10.0v4.5h-10.0zM77.8 56.5h5.1v4.5h-5.1zM53.3 60.8h5.1v4.5h-5.1zM48.4 65.2h5.1v4.5h-5.1zM77.8 65.2h5.1v4.5h-5.1zM19.1 73.8h5.1v4.5h-5.1zM92.4 73.8h5.1v4.5h-5.1zM14.2 78.2h5.1v4.5h-5.1zM126.7 82.5h34.4v4.5h-34.4zM4.4 117.3h5.1v4.5h-5.1z"/>
<path fill="#c3c3c3" d="M9.3 -8.7h5.1v4.5h-5.1zM9.3 -4.3h5.1v4.5h-5.1zM126.7 4.3h5.1v4.5h-5.1zM126.7 17.4h5.1v4.5h-5.1zM126.7 21.7h5.1v4.5h-5.1zM-0.5 26.1h5.1v4.5h-5.1zM-0.5 30.4h5.1v4.5h-5.1zM136.4 30.4h24.7v4.5h-24.7zM14.2 47.8h5.1v4.5h-5.1zM4.4 56.5h5.1v4.5h-5.1zM-5.4 82.5h5.1v4.5h-5.1z"/>
<path fill="#bbbbbb" d="M53.3 -8.7h5.1v4.5h-5.1zM53.3 -4.3h5.1v4.5h-5.1zM48.4 21.7h5.1v4.5h-5.1zM43.5 30.4h5.1v4.5h-5.1zM102.2 34.8h5.1v4.5h-5.1zM33.7 47.8h5.1v4.5h-5.1zM19.1 52.1h5.1v4.5h-5.1zM121.8 52.1h5.1v4.5h-5.1zM9.3 60.8h5.1v4.5h-5.1zM-10.3 126.0h5.1v4.5h-5.1z"/>
<path fill="#d1d1d1" d="M43.5 -4.3h5.1v4.5h-5.1zM9.3 17.4h5.1v4.5h-5.1zM9.3 21.7h5.1v4.5h-5.1zM33.7 21.7h5.1v4.5h-5.1z"/>
<path fill="#9f9f9f" d="M63.1 -4.3h5.1v4.5h-5.1zM92.4 0.0h5.1v4.5h-5.1zM58.2 8.7h5.1v4.5h-5.1zM87.5 8.7h5.1v4.5h-5.1zM82.6 17.4h5.1v4.5h-5.1zM53.3 47.8h5.1v4.5h-5.1zM87.5 65.2h5.1v4.5h-5.1zM33.7 69.5h5.1v4.5h-5.1zM107.1 73.8h5.1v4.5h-5.1zM4.4 104.2h5.1v4.5h-5.1z"/>
<path fill="#d7d7d7" d="M14.2 0.0h5.1v4.5h-5.1zM43.5 4.3h5.1v4.5h-5.1zM38.6 13.0h5.1v4.5h-5.1z"/>
<path fill="#ededed" d="M24.0 0.0h5.1v4.5h-5.1z"/>
<path fill="#e1e1e1" d="M38.6 0.0h5.1v4.5h-5.1zM33.7 13.0h5.1v4.5h-5.1zM28.9 17.4h5.1v4.5h-5.1z"/>
<path fill="#b7b7b7" d="M53.3 0.0h5.1v4.5h-5.1zM107.1 4.3h5.1v4.5h-5.1zM107.1 8.7h5.1v4.5h-5.1zM107.1 13.0h5.1v4.5h-5.1zM48.4 26.1h5.1v4.5h-5.1zM97.3 34.8h5.1v4.5h-5.1zM43.5 39.1h5.1v4.5h-5.1zM14.2 56.5h5.1v4.5h-5.1zM4.4 65.2h5.1v4.5h-5.1zM4.4 73.8h5.1v4.5h-5.1zM4.4 78.2h5.1v4.5h-5.1zM-10.3 91.2h10.0v4.5h-10.0zM-5.4 108.6h5.1v4.5h-5.1zM-24.9 121.6h5.1v4.5h-5.1zM-10.3 121.6h5.1v4.5h-5.1zM-20.0 126.0h10.0v4.5h-10.0z"/>
<path fill="#a9a9a9" d="M58.2 0.0h5.1v4.5h-5.1zM97.3 8.7h5.1v4.5h-5.1zM97.3 13.0h5.1v4.5h-5.1zM53.3 30.4h5.1v4.5h-5.1zM87.5 30.4h5.1v4.5h-5.1zM53.3 34.8h5.1v4.5h-5.1zM87.5 34.8h5.1v4.5h-5.1zM87.5 52.1h5.1v4.5h-5.1zM87.5 56.5h5.1v4.5h-5.1zM33.7 60.8h5.1v4.5h-5.1zM33.7 65.2h5.1v4.5h-5.1zM102.2 65.2h5.1v4.5h-5.1zM126.7 73.8h5.1v4.5h-5.1z"/>
<path fill="#a5a5a5" d="M97.3 0.0h5.1v4.5h-5.1zM92.4 8.7h5.1v4.5h-5.1zM92.4 13.0h5.1v4.5h-5.1zM87.5 21.7h10.0v4.5h-10.0zM82.6 26.1h5.1v4.5h-5.1zM48.4 47.8h5.1v4.5h-5.1zM87.5 60.8h10.0v4.5h-10.0zM92.4 65.2h5.1v4.5h-5.1zM97.3 69.5h5.1v4.5h-5.1zM107.1 69.5h5.1v4.5h-5.1zM4.4 91.2h5.1v4.5h-5.1zM-20.0 130.3h10.0v4.5h-10.0z"/>
<path fill="#cfcfcf" d="M9.3 4.3h5.1v4.5h-5.1zM38.6 17.4h5.1v4.5h-5.1zM136.4 17.4h5.1v4.5h-5.1zM136.4 21.7h10.0v4.5h-10.0zM9.3 26.1h5.1v4.5h-5.1zM33.7 26.1h5.1v4.5h-5.1zM9.3 30.4h10.0v4.5h-10.0zM28.9 30.4h10.0v4.5h-10.0z"/>
<path fill="#e7e7e7" d="M19.1 4.3h5.1v4.5h-5.1zM24.0 8.7h5.1v4.5h-5.1zM24.0 13.0h5.1v4.5h-5.1zM19.1 17.4h5.1v4.5h-5.1z"/>
<path fill="#e9e9e9" d="M24.0 4.3h14.9v4.5h-14.9zM19.1 8.7h5.1v4.5h-5.1zM19.1 13.0h5.1v4.5h-5.1z"/>
<path fill="#e3e3e3" d="M38.6 4.3h5.1v4.5h-5.1zM14.2 8.7h5.1v4.5h-5.1zM14.2 13.0h5.1v4.5h-5.1z"/>
<path fill="#b1b1b1" d="M53.3 4.3h5.1v4.5h-5.1zM102.2 8.7h5.1v4.5h-5.1zM102.2 13.0h5.1v4.5h-5.1zM102.2 21.7h5.1v4.5h-5.1zM48.4 30.4h5.1v4.5h-5.1zM92.4 34.8h5.1v4.5h-5.1zM48.4 39.1h5.1v4.5h-5.1zM92.4 39.1h5.1v4.5h-5.1zM92.4 43.4h5.1v4.5h-5.1zM102.2 43.4h5.1v4.5h-5.1zM92.4 47.8h5.1v4.5h-5.1zM107.1 47.8h5.1v4.5h-5.1zM97.3 52.1h5.1v4.5h-5.1zM112.0 52.1h5.1v4.5h-5.1zM102.2 56.5h5.1v4.5h-5.1zM126.7 60.8h10.0v4.5h-10.0zM112.0 65.2h5.1v4.5h-5.1zM9.3 69.5h10.0v4.5h-10.0zM121.8 69.5h39.3v4.5h-39.3zM-0.5 91.2h5.1v4.5h-5.1zM-24.9 95.6h14.9v4.5h-14.9zM-20.0 99.9h10.0v4.5h-10.0zM-20.0 112.9h10.0v4.5h-10.0zM-24.9 117.3h14.9v4.5h-14.9z"/>
<path fill="#a1a1a1" d="M92.4 4.3h5.1v4.5h-5.1zM58.2 13.0h5.1v4.5h-5.1zM87.5 13.0h5.1v4.5h-5.1zM58.2 17.4h5.1v4.5h-5.1zM58.2 21.7h5.1v4.5h-5.1zM58.2 26.1h5.1v4.5h-5.1zM58.2 43.4h5.1v4.5h-5.1zM82.6 47.8h5.1v4.5h-5.1zM48.4 52.1h5.1v4.5h-5.1zM43.5 65.2h5.1v4.5h-5.1zM24.0 69.5h5.1v4.5h-5.1zM92.4 69.5h5.1v4.5h-5.1zM112.0 78.2h5.1v4.5h-5.1zM126.7 78.2h10.0v4.5h-10.0zM141.3 78.2h19.8v4.5h-19.8zM9.3 82.5h5.1v4.5h-5.1zM4.4 95.6h5.1v4.5h-5.1z"/>
<path fill="#a7a7a7" d="M97.3 4.3h5.1v4.5h-5.1zM97.3 17.4h5.1v4.5h-5.1zM97.3 21.7h5.1v4.5h-5.1zM87.5 26.1h10.0v4.5h-10.0zM53.3 43.4h5.1v4.5h-5.1zM43.5 52.1h5.1v4.5h-5.1zM38.6 56.5h10.0v4.5h-10.0zM92.4 56.5h5.1v4.5h-5.1zM38.6 60.8h10.0v4.5h-10.0zM97.3 60.8h5.1v4.5h-5.1zM38.6 65.2h5.1v4.5h-5.1zM97.3 65.2h5.1v4.5h-5.1zM14.2 73.8h5.1v4.5h-5.1zM112.0 73.8h5.1v4.5h-5.1zM-24.9 130.3h5.1v4.5h-5.1z"/>
<path fill="#afafaf" d="M102.2 4.3h5.1v4.5h-5.1zM102.2 17.4h5.1v4.5h-5.1zM48.4 34.8h5.1v4.5h-5.1zM92.4 52.1h5.1v4.5h-5.1zM28.9 60.8h5.1v4.5h-5.1zM9.3 73.8h5.1v4.5h-5.1zM-0.5 95.6h5.1v4.5h-5.1zM-0.5 99.9h5.1v4.5h-5.1zM-0.5 104.2h5.1v4.5h-5.1zM-0.5 121.6h5.1v4.5h-5.1z"/>
<path fill="#d9d9d9" d="M33.7 17.4h5.1v4.5h-5.1zM14.2 21.7h5.1v4.5h-5.1zM28.9 21.7h5.1v4.5h-5.1z"/>
<path fill="#b3b3b3" d="M43.5 43.4h5.1v4.5h-5.1zM97.3 43.4h5.1v4.5h-5.1zM107.1 43.4h5.1v4.5h-5.1zM38.6 47.8h5.1v4.5h-5.1zM102.2 47.8h5.1v4.5h-5.1zM112.0 47.8h5.1v4.5h-5.1zM33.7 52.1h5.1v4.5h-5.1zM102.2 52.1h10.0v4.5h-10.0zM116.9 52.1h5.1v4.5h-5.1zM19.1 56.5h5.1v4.5h-5.1zM28.9 56.5h5.1v4.5h-5.1zM112.0 56.5h10.0v4.5h-10.0zM19.1 60.8h10.0v4.5h-10.0zM107.1 60.8h19.8v4.5h-19.8zM136.4 60.8h24.7v4.5h-24.7zM19.1 65.2h5.1v4.5h-5.1zM121.8 65.2h39.3v4.5h-39.3zM116.9 69.5h5.1v4.5h-5.1zM4.4 82.5h5.1v4.5h-5.1zM-10.3 95.6h10.0v4.5h-10.0zM-24.9 99.9h5.1v4.5h-5.1zM-10.3 99.9h10.0v4.5h-10.0zM-24.9 104.2h14.9v4.5h-14.9zM-24.9 108.6h14.9v4.5h-14.9zM-24.9 112.9h5.1v4.5h-5.1zM-10.3 112.9h5.1v4.5h-5.1zM-10.3 117.3h10.0v4.5h-10.0z"/>
<path fill="#959595" d="M63.1 60.8h5.1v4.5h-5.1zM72.9 69.5h5.1v4.5h-5.1zM82.6 69.5h5.1v4.5h-5.1zM92.4 78.2h5.1v4.5h-5.1zM102.2 78.2h5.1v4.5h-5.1zM121.8 91.2h5.1v4.5h-5.1z"/>
<path fill="#939393" d="M53.3 65.2h5.1v4.5h-5.1zM107.1 82.5h5.1v4.5h-5.1zM112.0 86.9h5.1v4.5h-5.1zM116.9 91.2h5.1v4.5h-5.1zM136.4 95.6h10.0v4.5h-10.0zM151.1 95.6h10.0v4.5h-10.0z"/>
<path fill="#8f8f8f" d="M58.2 65.2h5.1v4.5h-5.1zM48.4 69.5h5.1v4.5h-5.1zM68.0 69.5h5.1v4.5h-5.1zM68.0 73.8h5.1v4.5h-5.1zM77.8 73.8h5.1v4.5h-5.1zM87.5 78.2h5.1v4.5h-5.1zM87.5 82.5h19.8v4.5h-19.8zM9.3 95.6h5.1v4.5h-5.1zM121.8 95.6h5.1v4.5h-5.1z"/>
<path fill="#8d8d8d" d="M63.1 65.2h5.1v4.5h-5.1zM24.0 73.8h5.1v4.5h-5.1zM82.6 73.8h5.1v4.5h-5.1zM14.2 82.5h5.1v4.5h-5.1zM87.5 86.9h5.1v4.5h-5.1zM112.0 91.2h5.1v4.5h-5.1zM9.3 104.2h5.1v4.5h-5.1z"/>
<path fill="#919191" d="M68.0 65.2h5.1v4.5h-5.1zM72.9 73.8h5.1v4.5h-5.1zM87.5 73.8h5.1v4.5h-5.1zM9.3 91.2h5.1v4.5h-5.1zM126.7 95.6h10.0v4.5h-10.0zM146.2 95.6h5.1v4.5h-5.1zM9.3 99.9h5.1v4.5h-5.1z"/>
<path fill="#8b8b8b" d="M53.3 69.5h5.1v4.5h-5.1zM19.1 78.2h5.1v4.5h-5.1zM68.0 78.2h10.0v4.5h-10.0zM82.6 78.2h5.1v4.5h-5.1zM82.6 82.5h5.1v4.5h-5.1zM92.4 86.9h5.1v4.5h-5.1zM107.1 86.9h5.1v4.5h-5.1zM116.9 95.6h5.1v4.5h-5.1zM-5.4 134.7h5.1v4.5h-5.1z"/>
<path fill="#878787" d="M58.2 69.5h5.1v4.5h-5.1zM28.9 73.8h5.1v4.5h-5.1zM43.5 73.8h5.1v4.5h-5.1zM82.6 86.9h5.1v4.5h-5.1zM102.2 86.9h5.1v4.5h-5.1zM112.0 95.6h5.1v4.5h-5.1zM136.4 99.9h10.0v4.5h-10.0zM4.4 126.0h5.1v4.5h-5.1zM-24.9 134.7h5.1v4.5h-5.1z"/>
<path fill="#898989" d="M63.1 69.5h5.1v4.5h-5.1zM33.7 73.8h10.0v4.5h-10.0zM63.1 73.8h5.1v4.5h-5.1zM63.1 78.2h5.1v4.5h-5.1zM77.8 78.2h5.1v4.5h-5.1zM97.3 86.9h5.1v4.5h-5.1zM-10.3 134.7h5.1v4.5h-5.1z"/>
<path fill="#838383" d="M48.4 73.8h5.1v4.5h-5.1zM58.2 73.8h5.1v4.5h-5.1zM58.2 78.2h5.1v4.5h-5.1zM58.2 82.5h19.8v4.5h-19.8zM14.2 86.9h5.1v4.5h-5.1zM97.3 91.2h5.1v4.5h-5.1zM107.1 99.9h14.9v4.5h-14.9z"/>
<path fill="#818181" d="M53.3 73.8h5.1v4.5h-5.1zM82.6 91.2h5.1v4.5h-5.1zM102.2 91.2h5.1v4.5h-5.1zM107.1 95.6h5.1v4.5h-5.1zM9.3 112.9h5.1v4.5h-5.1zM9.3 117.3h5.1v4.5h-5.1zM-5.4 147.7h5.1v4.5h-5.1zM-5.4 152.0h5.1v4.5h-5.1z"/>
<path fill="#7e7e7e" d="M24.0 78.2h5.1v4.5h-5.1zM19.1 82.5h5.1v4.5h-5.1zM58.2 86.9h10.0v4.5h-10.0zM77.8 86.9h5.1v4.5h-5.1zM102.2 95.6h5.1v4.5h-5.1zM102.2 99.9h5.1v4.5h-5.1zM107.1 104.2h5.1v4.5h-5.1zM-10.3 147.7h5.1v4.5h-5.1zM-5.4 156.4h5.1v4.5h-5.1z"/>
<path fill="#787878" d="M28.9 78.2h10.0v4.5h-10.0zM58.2 91.2h5.1v4.5h-5.1zM77.8 91.2h5.1v4.5h-5.1zM-0.5 134.7h5.1v4.5h-5.1zM-5.4 139.0h5.1v4.5h-5.1zM-10.3 143.3h5.1v4.5h-5.1zM-15.2 147.7h5.1v4.5h-5.1zM-20.0 152.0h10.0v4.5h-10.0zM-24.9 156.4h10.0v4.5h-10.0z"/>
<path fill="#7a7a7a" d="M38.6 78.2h14.9v4.5h-14.9zM53.3 86.9h5.1v4.5h-5.1zM68.0 86.9h10.0v4.5h-10.0zM14.2 95.6h5.1v4.5h-5.1zM82.6 95.6h5.1v4.5h-5.1zM14.2 104.2h5.1v4.5h-5.1zM102.2 104.2h5.1v4.5h-5.1zM116.9 104.2h44.2v4.5h-44.2zM-24.9 147.7h10.0v4.5h-10.0zM-24.9 152.0h5.1v4.5h-5.1z"/>
<path fill="#7c7c7c" d="M53.3 78.2h5.1v4.5h-5.1zM53.3 82.5h5.1v4.5h-5.1zM14.2 91.2h5.1v4.5h-5.1zM87.5 95.6h14.9v4.5h-14.9zM14.2 99.9h5.1v4.5h-5.1zM112.0 104.2h5.1v4.5h-5.1zM-5.4 143.3h5.1v4.5h-5.1zM-10.3 152.0h5.1v4.5h-5.1zM-10.3 156.4h5.1v4.5h-5.1z"/>
<path fill="#767676" d="M24.0 82.5h5.1v4.5h-5.1zM48.4 82.5h5.1v4.5h-5.1zM63.1 91.2h5.1v4.5h-5.1zM97.3 99.9h5.1v4.5h-5.1zM107.1 108.6h5.1v4.5h-5.1zM9.3 121.6h5.1v4.5h-5.1zM-10.3 139.0h5.1v4.5h-5.1zM-24.9 143.3h5.1v4.5h-5.1zM-15.2 156.4h5.1v4.5h-5.1z"/>
<path fill="#747474" d="M28.9 82.5h19.8v4.5h-19.8zM19.1 86.9h5.1v4.5h-5.1zM53.3 91.2h5.1v4.5h-5.1zM68.0 91.2h5.1v4.5h-5.1zM77.8 95.6h5.1v4.5h-5.1zM77.8 99.9h19.8v4.5h-19.8zM97.3 104.2h5.1v4.5h-5.1zM87.5 108.6h5.1v4.5h-5.1zM102.2 108.6h5.1v4.5h-5.1zM112.0 108.6h49.1v4.5h-49.1zM97.3 121.6h10.0v4.5h-10.0zM97.3 126.0h10.0v4.5h-10.0zM107.1 134.7h5.1v4.5h-5.1zM-24.9 139.0h5.1v4.5h-5.1zM107.1 139.0h10.0v4.5h-10.0zM-20.0 143.3h10.0v4.5h-10.0zM107.1 143.3h10.0v4.5h-10.0zM107.1 147.7h5.1v4.5h-5.1zM107.1 152.0h5.1v4.5h-5.1zM107.1 156.4h5.1v4.5h-5.1z"/>
<path fill="#858585" d="M77.8 82.5h5.1v4.5h-5.1zM87.5 91.2h10.0v4.5h-10.0zM107.1 91.2h5.1v4.5h-5.1zM121.8 99.9h14.9v4.5h-14.9zM146.2 99.9h14.9v4.5h-14.9zM9.3 108.6h5.1v4.5h-5.1zM-20.0 134.7h10.0v4.5h-10.0z"/>
<path fill="#707070" d="M24.0 86.9h19.8v4.5h-19.8zM58.2 95.6h10.0v4.5h-10.0zM72.9 95.6h5.1v4.5h-5.1zM72.9 99.9h5.1v4.5h-5.1zM92.4 104.2h5.1v4.5h-5.1zM82.6 108.6h5.1v4.5h-5.1zM107.1 112.9h5.1v4.5h-5.1zM92.4 117.3h5.1v4.5h-5.1zM92.4 121.6h5.1v4.5h-5.1zM92.4 126.0h5.1v4.5h-5.1zM102.2 134.7h5.1v4.5h-5.1zM102.2 139.0h5.1v4.5h-5.1zM102.2 143.3h5.1v4.5h-5.1zM102.2 147.7h5.1v4.5h-5.1zM102.2 152.0h5.1v4.5h-5.1zM102.2 156.4h5.1v4.5h-5.1z"/>
<path fill="#6e6e6e" d="M43.5 86.9h5.1v4.5h-5.1zM19.1 91.2h5.1v4.5h-5.1zM68.0 95.6h5.1v4.5h-5.1zM72.9 104.2h5.1v4.5h-5.1zM92.4 130.3h5.1v4.5h-5.1zM-0.5 147.7h5.1v4.5h-5.1zM-0.5 152.0h5.1v4.5h-5.1z"/>
<path fill="#727272" d="M48.4 86.9h5.1v4.5h-5.1zM72.9 91.2h5.1v4.5h-5.1zM77.8 104.2h14.9v4.5h-14.9zM14.2 108.6h5.1v4.5h-5.1zM92.4 108.6h10.0v4.5h-10.0zM87.5 112.9h19.8v4.5h-19.8zM112.0 112.9h49.1v4.5h-49.1zM97.3 117.3h63.8v4.5h-63.8zM107.1 121.6h54.0v4.5h-54.0zM107.1 126.0h54.0v4.5h-54.0zM97.3 130.3h63.8v4.5h-63.8zM112.0 134.7h49.1v4.5h-49.1zM-20.0 139.0h10.0v4.5h-10.0zM116.9 139.0h44.2v4.5h-44.2zM116.9 143.3h44.2v4.5h-44.2zM112.0 147.7h49.1v4.5h-49.1zM112.0 152.0h49.1v4.5h-49.1zM112.0 156.4h49.1v4.5h-49.1z"/>
<path fill="#6a6a6a" d="M24.0 91.2h14.9v4.5h-14.9zM19.1 99.9h5.1v4.5h-5.1zM68.0 99.9h5.1v4.5h-5.1zM77.8 108.6h5.1v4.5h-5.1zM14.2 112.9h5.1v4.5h-5.1zM87.5 117.3h5.1v4.5h-5.1zM97.3 134.7h5.1v4.5h-5.1zM-0.5 143.3h5.1v4.5h-5.1z"/>
<path fill="#686868" d="M38.6 91.2h10.0v4.5h-10.0zM58.2 99.9h10.0v4.5h-10.0zM19.1 104.2h5.1v4.5h-5.1zM68.0 104.2h5.1v4.5h-5.1zM72.9 108.6h5.1v4.5h-5.1zM82.6 117.3h5.1v4.5h-5.1zM87.5 126.0h5.1v4.5h-5.1zM87.5 130.3h5.1v4.5h-5.1zM-0.5 139.0h5.1v4.5h-5.1zM97.3 139.0h5.1v4.5h-5.1zM97.3 143.3h5.1v4.5h-5.1zM97.3 147.7h5.1v4.5h-5.1zM97.3 152.0h5.1v4.5h-5.1zM97.3 156.4h5.1v4.5h-5.1z"/>
<path fill="#6c6c6c" d="M48.4 91.2h5.1v4.5h-5.1zM19.1 95.6h5.1v4.5h-5.1zM53.3 95.6h5.1v4.5h-5.1zM82.6 112.9h5.1v4.5h-5.1zM4.4 130.3h5.1v4.5h-5.1zM-0.5 156.4h5.1v4.5h-5.1z"/>
<path fill="#646464" d="M24.0 95.6h5.1v4.5h-5.1zM48.4 95.6h5.1v4.5h-5.1zM58.2 104.2h10.0v4.5h-10.0zM63.1 108.6h5.1v4.5h-5.1zM68.0 112.9h10.0v4.5h-10.0zM14.2 117.3h5.1v4.5h-5.1zM72.9 117.3h5.1v4.5h-5.1zM72.9 121.6h5.1v4.5h-5.1zM82.6 121.6h5.1v4.5h-5.1zM72.9 126.0h5.1v4.5h-5.1zM82.6 126.0h5.1v4.5h-5.1zM72.9 130.3h5.1v4.5h-5.1zM72.9 134.7h5.1v4.5h-5.1zM72.9 139.0h5.1v4.5h-5.1zM87.5 139.0h10.0v4.5h-10.0zM72.9 143.3h5.1v4.5h-5.1zM87.5 143.3h10.0v4.5h-10.0zM72.9 147.7h5.1v4.5h-5.1zM87.5 147.7h10.0v4.5h-10.0zM72.9 152.0h5.1v4.5h-5.1zM87.5 152.0h10.0v4.5h-10.0zM72.9 156.4h5.1v4.5h-5.1zM87.5 156.4h10.0v4.5h-10.0z"/>
<path fill="#626262" d="M28.9 95.6h19.8v4.5h-19.8zM19.1 108.6h5.1v4.5h-5.1z"/>
<path fill="#606060" d="M24.0 99.9h5.1v4.5h-5.1zM53.3 104.2h5.1v4.5h-5.1zM58.2 108.6h5.1v4.5h-5.1zM63.1 112.9h5.1v4.5h-5.1zM9.3 126.0h5.1v4.5h-5.1z"/>
<path fill="#5a5a5a" d="M28.9 99.9h5.1v4.5h-5.1zM43.5 99.9h5.1v4.5h-5.1zM24.0 104.2h5.1v4.5h-5.1zM58.2 112.9h5.1v4.5h-5.1z"/>
<path fill="#5c5c5c" d="M33.7 99.9h10.0v4.5h-10.0zM68.0 121.6h5.1v4.5h-5.1zM68.0 126.0h5.1v4.5h-5.1zM68.0 134.7h5.1v4.5h-5.1zM68.0 139.0h5.1v4.5h-5.1zM68.0 143.3h5.1v4.5h-5.1zM68.0 147.7h5.1v4.5h-5.1zM68.0 152.0h5.1v4.5h-5.1zM68.0 156.4h5.1v4.5h-5.1z"/>
<path fill="#5e5e5e" d="M48.4 99.9h5.1v4.5h-5.1zM68.0 117.3h5.1v4.5h-5.1zM68.0 130.3h5.1v4.5h-5.1z"/>
<path fill="#666666" d="M53.3 99.9h5.1v4.5h-5.1zM68.0 108.6h5.1v4.5h-5.1zM77.8 112.9h5.1v4.5h-5.1zM77.8 117.3h5.1v4.5h-5.1zM77.8 121.6h5.1v4.5h-5.1zM87.5 121.6h5.1v4.5h-5.1zM77.8 126.0h5.1v4.5h-5.1zM77.8 130.3h10.0v4.5h-10.0zM77.8 134.7h19.8v4.5h-19.8zM77.8 139.0h10.0v4.5h-10.0zM77.8 143.3h10.0v4.5h-10.0zM77.8 147.7h10.0v4.5h-10.0zM77.8 152.0h10.0v4.5h-10.0zM77.8 156.4h10.0v4.5h-10.0z"/>
<path fill="#545454" d="M28.9 104.2h5.1v4.5h-5.1zM43.5 104.2h5.1v4.5h-5.1zM24.0 108.6h5.1v4.5h-5.1zM63.1 121.6h5.1v4.5h-5.1zM63.1 126.0h5.1v4.5h-5.1zM4.4 134.7h5.1v4.5h-5.1z"/>
<path fill="#565656" d="M33.7 104.2h10.0v4.5h-10.0zM63.1 130.3h5.1v4.5h-5.1zM63.1 134.7h5.1v4.5h-5.1zM63.1 139.0h5.1v4.5h-5.1zM63.1 143.3h5.1v4.5h-5.1zM63.1 147.7h5.1v4.5h-5.1zM63.1 152.0h5.1v4.5h-5.1zM63.1 156.4h5.1v4.5h-5.1z"/>
<path fill="#585858" d="M48.4 104.2h5.1v4.5h-5.1zM53.3 108.6h5.1v4.5h-5.1zM19.1 112.9h5.1v4.5h-5.1zM63.1 117.3h5.1v4.5h-5.1zM14.2 121.6h5.1v4.5h-5.1z"/>
<path fill="#4e4e4e" d="M28.9 108.6h10.0v4.5h-10.0zM43.5 108.6h5.1v4.5h-5.1zM19.1 117.3h5.1v4.5h-5.1zM58.2 121.6h5.1v4.5h-5.1zM58.2 126.0h5.1v4.5h-5.1z"/>
<path fill="#505050" d="M38.6 108.6h5.1v4.5h-5.1zM53.3 112.9h5.1v4.5h-5.1zM58.2 130.3h5.1v4.5h-5.1zM58.2 134.7h5.1v4.5h-5.1zM58.2 139.0h5.1v4.5h-5.1zM58.2 143.3h5.1v4.5h-5.1zM58.2 147.7h5.1v4.5h-5.1zM58.2 152.0h5.1v4.5h-5.1zM58.2 156.4h5.1v4.5h-5.1z"/>
<path fill="#525252" d="M48.4 108.6h5.1v4.5h-5.1zM58.2 117.3h5.1v4.5h-5.1z"/>
<path fill="#4c4c4c" d="M24.0 112.9h5.1v4.5h-5.1zM9.3 130.3h5.1v4.5h-5.1zM4.4 147.7h5.1v4.5h-5.1zM4.4 152.0h5.1v4.5h-5.1zM4.4 156.4h5.1v4.5h-5.1z"/>
<path fill="#484848" d="M28.9 112.9h10.0v4.5h-10.0zM43.5 112.9h5.1v4.5h-5.1zM53.3 121.6h5.1v4.5h-5.1zM53.3 126.0h5.1v4.5h-5.1zM4.4 139.0h5.1v4.5h-5.1z"/>
<path fill="#4a4a4a" d="M38.6 112.9h5.1v4.5h-5.1zM48.4 112.9h5.1v4.5h-5.1zM53.3 117.3h5.1v4.5h-5.1zM14.2 126.0h5.1v4.5h-5.1zM53.3 130.3h5.1v4.5h-5.1zM53.3 134.7h5.1v4.5h-5.1zM53.3 139.0h5.1v4.5h-5.1zM4.4 143.3h5.1v4.5h-5.1zM53.3 143.3h5.1v4.5h-5.1zM53.3 147.7h5.1v4.5h-5.1zM53.3 152.0h5.1v4.5h-5.1zM53.3 156.4h5.1v4.5h-5.1z"/>
<path fill="#444444" d="M24.0 117.3h5.1v4.5h-5.1zM48.4 117.3h5.1v4.5h-5.1zM48.4 130.3h5.1v4.5h-5.1zM48.4 134.7h5.1v4.5h-5.1zM48.4 139.0h5.1v4.5h-5.1zM48.4 143.3h5.1v4.5h-5.1zM48.4 147.7h5.1v4.5h-5.1zM48.4 152.0h5.1v4.5h-5.1zM48.4 156.4h5.1v4.5h-5.1z"/>
<path fill="#424242" d="M28.9 117.3h19.8v4.5h-19.8zM48.4 121.6h5.1v4.5h-5.1zM48.4 126.0h5.1v4.5h-5.1zM24.0 134.7h5.1v4.5h-5.1zM19.1 139.0h10.0v4.5h-10.0zM19.1 143.3h10.0v4.5h-10.0zM19.1 147.7h10.0v4.5h-10.0zM19.1 152.0h10.0v4.5h-10.0zM19.1 156.4h10.0v4.5h-10.0z"/>
<path fill="#464646" d="M19.1 121.6h5.1v4.5h-5.1z"/>
<path fill="#404040" d="M24.0 121.6h5.1v4.5h-5.1zM19.1 126.0h10.0v4.5h-10.0zM14.2 130.3h5.1v4.5h-5.1zM24.0 130.3h5.1v4.5h-5.1zM19.1 134.7h5.1v4.5h-5.1z"/>
<path fill="#3e3e3e" d="M28.9 121.6h5.1v4.5h-5.1zM19.1 130.3h5.1v4.5h-5.1zM9.3 134.7h5.1v4.5h-5.1z"/>
<path fill="#3c3c3c" d="M33.7 121.6h14.9v4.5h-14.9zM28.9 126.0h5.1v4.5h-5.1zM43.5 126.0h5.1v4.5h-5.1zM28.9 130.3h5.1v4.5h-5.1zM14.2 134.7h5.1v4.5h-5.1zM28.9 134.7h5.1v4.5h-5.1zM43.5 134.7h5.1v4.5h-5.1zM14.2 139.0h5.1v4.5h-5.1zM28.9 139.0h5.1v4.5h-5.1zM43.5 139.0h5.1v4.5h-5.1zM14.2 143.3h5.1v4.5h-5.1zM28.9 143.3h5.1v4.5h-5.1zM43.5 143.3h5.1v4.5h-5.1zM14.2 147.7h5.1v4.5h-5.1zM28.9 147.7h5.1v4.5h-5.1zM43.5 147.7h5.1v4.5h-5.1zM14.2 152.0h5.1v4.5h-5.1zM28.9 152.0h5.1v4.5h-5.1zM43.5 152.0h5.1v4.5h-5.1zM14.2 156.4h5.1v4.5h-5.1zM28.9 156.4h5.1v4.5h-5.1zM43.5 156.4h5.1v4.5h-5.1z"/>
<path fill="#363636" d="M33.7 126.0h10.0v4.5h-10.0z"/>
<path fill="#343434" d="M33.7 130.3h5.1v4.5h-5.1zM33.7 134.7h10.0v4.5h-10.0zM33.7 139.0h10.0v4.5h-10.0zM33.7 143.3h10.0v4.5h-10.0zM33.7 147.7h10.0v4.5h-10.0zM33.7 152.0h10.0v4.5h-10.0zM33.7 156.4h10.0v4.5h-10.0z"/>
<path fill="#323232" d="M38.6 130.3h5.1v4.5h-5.1z"/>
<path fill="#3a3a3a" d="M43.5 130.3h5.1v4.5h-5.1zM9.3 147.7h5.1v4.5h-5.1zM9.3 152.0h5.1v4.5h-5.1zM9.3 156.4h5.1v4.5h-5.1z"/>
<path fill="#383838" d="M9.3 139.0h5.1v4.5h-5.1zM9.3 143.3h5.1v4.5h-5.1z"/>
</g></g>
<path d="M4.1,0.0C4.1,1.1 4.1,3.8 4.3,6.5C4.5,9.2 4.9,12.9 5.2,16.5C5.5,20.1 5.2,24.4 5.9,28.0C6.6,31.6 8.1,36.0 9.3,38.3C10.5,40.5 11.7,40.8 13.0,41.5C14.3,42.2 15.5,42.4 17.0,42.5C18.5,42.6 20.2,42.3 22.0,42.0C23.8,41.7 25.1,42.0 27.5,40.6C29.9,39.2 34.4,36.0 36.7,33.8C39.0,31.6 40.2,29.4 41.5,27.5C42.8,25.6 43.8,25.0 44.7,22.3C45.6,19.6 46.2,15.2 47.0,11.5C47.8,7.8 48.8,1.9 49.2,0.0M19.1,0.0C19.2,0.7 19.1,2.9 19.6,4.1C20.1,5.3 21.0,6.2 22.0,7.0C23.0,7.8 24.1,8.4 25.3,8.6C26.5,8.8 27.9,8.4 29.0,8.0C30.1,7.6 31.2,7.4 32.1,6.4C33.0,5.4 34.0,2.9 34.4,1.8C34.9,0.7 34.7,0.3 34.8,0.0M113.2,26.5C114.5,27.0 118.5,28.5 121.0,29.5C123.5,30.5 125.5,31.4 128.0,32.5C130.5,33.5 134.7,35.2 136.0,35.8M13.0,117.3C13.1,115.8 13.5,111.1 13.8,108.5C14.1,105.9 14.4,104.0 15.0,101.5C15.6,99.0 16.3,96.4 17.3,93.7C18.3,91.0 19.6,87.7 21.0,85.5C22.4,83.3 24.1,82.0 25.9,80.8C27.7,79.5 29.8,78.6 32.0,78.0C34.1,77.4 36.6,77.0 38.8,77.0C41.0,77.0 42.9,77.4 45.0,78.0C47.1,78.6 49.4,79.7 51.7,80.8C54.0,81.9 56.5,83.2 59.0,84.5C61.5,85.8 63.5,87.1 66.7,88.3C69.9,89.5 74.4,90.8 78.0,91.5C81.6,92.2 84.9,91.8 88.2,92.6C91.5,93.4 95.1,94.7 98.0,96.5C100.9,98.3 104.2,102.2 105.4,103.4M25.9,139.0C26.0,138.1 26.1,135.3 26.5,133.5C26.9,131.7 27.2,129.7 28.1,128.1C29.0,126.5 30.6,124.9 32.0,124.0C33.4,123.1 35.2,122.8 36.7,122.7C38.2,122.6 39.6,123.0 41.0,123.5C42.4,124.0 43.9,124.7 45.2,125.9C46.4,127.1 47.6,128.7 48.5,130.5C49.4,132.3 50.2,135.3 50.6,136.7C51.0,138.1 50.9,138.6 51.0,139.0" fill="none" stroke="#b8b8b8" stroke-opacity="0.75" stroke-width="1.5" stroke-linejoin="round" stroke-linecap="round" clip-path="url(#pc)"/>
<line x1="0" y1="104.25" x2="136" y2="104.25" stroke="#3a3a3a" stroke-opacity="0.68" stroke-width="1.9" stroke-dasharray="6 5.8"/>
<line x1="67.97" y1="139" x2="67.97" y2="0" stroke="#3a3a3a" stroke-opacity="0.68" stroke-width="1.9" stroke-dasharray="6 5.8"/>
<rect x="0" y="0" width="136" height="139" fill="none" stroke="#636363" stroke-width="1.35"/>
</g>
<text x="252.00" y="8.6" font-size="12" font-style="italic" fill="#1a1a1a" text-anchor="middle">Q. robur/Q. petraea</text>
<g transform="translate(328.5,18.5)">
<g clip-path="url(#m2)"><g filter="url(#cm)">
<path fill="#b3b3b3" d="M-24.9 -21.7h24.7v4.5h-24.7zM116.9 -21.7h44.2v4.5h-44.2zM-24.9 -17.4h24.7v4.5h-24.7zM116.9 -17.4h44.2v4.5h-44.2zM-24.9 -13.0h24.7v4.5h-24.7zM116.9 -13.0h44.2v4.5h-44.2zM-24.9 -8.7h24.7v4.5h-24.7zM116.9 -8.7h44.2v4.5h-44.2zM-24.9 -4.3h24.7v4.5h-24.7zM116.9 -4.3h44.2v4.5h-44.2zM-24.9 0.0h24.7v4.5h-24.7zM116.9 0.0h44.2v4.5h-44.2zM-24.9 4.3h24.7v4.5h-24.7zM116.9 4.3h44.2v4.5h-44.2zM-24.9 8.7h24.7v4.5h-24.7zM116.9 8.7h44.2v4.5h-44.2zM-24.9 13.0h24.7v4.5h-24.7zM116.9 13.0h44.2v4.5h-44.2zM-24.9 17.4h24.7v4.5h-24.7zM112.0 17.4h49.1v4.5h-49.1zM-24.9 21.7h24.7v4.5h-24.7zM112.0 21.7h49.1v4.5h-49.1zM-24.9 26.1h14.9v4.5h-14.9zM112.0 26.1h49.1v4.5h-49.1zM-20.0 30.4h10.0v4.5h-10.0zM112.0 30.4h5.1v4.5h-5.1zM126.7 30.4h10.0v4.5h-10.0zM146.2 30.4h14.9v4.5h-14.9z"/>
<path fill="#b1b1b1" d="M-0.5 -21.7h5.1v4.5h-5.1zM112.0 -21.7h5.1v4.5h-5.1zM-0.5 -17.4h5.1v4.5h-5.1zM112.0 -17.4h5.1v4.5h-5.1zM-0.5 -13.0h5.1v4.5h-5.1zM112.0 -13.0h5.1v4.5h-5.1zM-0.5 -8.7h5.1v4.5h-5.1zM112.0 -8.7h5.1v4.5h-5.1zM-0.5 -4.3h5.1v4.5h-5.1zM112.0 -4.3h5.1v4.5h-5.1zM-0.5 0.0h5.1v4.5h-5.1zM112.0 0.0h5.1v4.5h-5.1zM-0.5 4.3h5.1v4.5h-5.1zM112.0 4.3h5.1v4.5h-5.1zM-0.5 8.7h5.1v4.5h-5.1zM112.0 8.7h5.1v4.5h-5.1zM-0.5 13.0h5.1v4.5h-5.1zM112.0 13.0h5.1v4.5h-5.1zM-0.5 17.4h5.1v4.5h-5.1zM-0.5 21.7h5.1v4.5h-5.1zM107.1 21.7h5.1v4.5h-5.1zM-0.5 26.1h5.1v4.5h-5.1zM107.1 26.1h5.1v4.5h-5.1zM-0.5 30.4h5.1v4.5h-5.1zM-24.9 34.8h5.1v4.5h-5.1zM-10.3 34.8h10.0v4.5h-10.0zM116.9 34.8h44.2v4.5h-44.2z"/>
<path fill="#ababab" d="M4.4 -21.7h5.1v4.5h-5.1zM102.2 -21.7h5.1v4.5h-5.1zM4.4 -17.4h5.1v4.5h-5.1zM102.2 -17.4h5.1v4.5h-5.1zM4.4 -13.0h5.1v4.5h-5.1zM102.2 -13.0h5.1v4.5h-5.1zM4.4 -8.7h5.1v4.5h-5.1zM102.2 -8.7h5.1v4.5h-5.1zM4.4 -4.3h5.1v4.5h-5.1zM102.2 -4.3h5.1v4.5h-5.1zM4.4 0.0h5.1v4.5h-5.1zM102.2 0.0h5.1v4.5h-5.1zM4.4 4.3h5.1v4.5h-5.1zM102.2 4.3h5.1v4.5h-5.1zM4.4 8.7h5.1v4.5h-5.1zM102.2 8.7h5.1v4.5h-5.1zM4.4 13.0h5.1v4.5h-5.1zM102.2 13.0h5.1v4.5h-5.1zM4.4 17.4h5.1v4.5h-5.1zM102.2 30.4h5.1v4.5h-5.1z"/>
<path fill="#a1a1a1" d="M9.3 -21.7h5.1v4.5h-5.1zM72.9 -21.7h5.1v4.5h-5.1zM9.3 -17.4h5.1v4.5h-5.1zM72.9 -17.4h5.1v4.5h-5.1zM9.3 -13.0h5.1v4.5h-5.1zM72.9 -13.0h5.1v4.5h-5.1zM9.3 -8.7h5.1v4.5h-5.1zM72.9 -8.7h5.1v4.5h-5.1zM9.3 -4.3h5.1v4.5h-5.1zM72.9 -4.3h5.1v4.5h-5.1zM9.3 0.0h5.1v4.5h-5.1zM72.9 0.0h5.1v4.5h-5.1zM9.3 4.3h5.1v4.5h-5.1zM72.9 4.3h5.1v4.5h-5.1zM9.3 8.7h5.1v4.5h-5.1zM72.9 8.7h5.1v4.5h-5.1zM9.3 13.0h5.1v4.5h-5.1zM72.9 13.0h5.1v4.5h-5.1zM72.9 17.4h5.1v4.5h-5.1zM72.9 21.7h5.1v4.5h-5.1zM82.6 34.8h5.1v4.5h-5.1zM92.4 43.4h5.1v4.5h-5.1zM112.0 52.1h5.1v4.5h-5.1zM116.9 56.5h5.1v4.5h-5.1zM9.3 69.5h5.1v4.5h-5.1zM-0.5 95.6h5.1v4.5h-5.1z"/>
<path fill="#9b9b9b" d="M14.2 -21.7h5.1v4.5h-5.1zM24.0 -21.7h5.1v4.5h-5.1zM14.2 -17.4h5.1v4.5h-5.1zM24.0 -17.4h5.1v4.5h-5.1zM14.2 -13.0h5.1v4.5h-5.1zM24.0 -13.0h5.1v4.5h-5.1zM14.2 -8.7h5.1v4.5h-5.1zM24.0 -8.7h5.1v4.5h-5.1zM14.2 -4.3h5.1v4.5h-5.1zM24.0 -4.3h5.1v4.5h-5.1zM14.2 0.0h5.1v4.5h-5.1zM14.2 4.3h5.1v4.5h-5.1zM14.2 8.7h5.1v4.5h-5.1zM24.0 8.7h5.1v4.5h-5.1zM14.2 13.0h5.1v4.5h-5.1zM24.0 13.0h5.1v4.5h-5.1zM14.2 17.4h5.1v4.5h-5.1zM77.8 34.8h5.1v4.5h-5.1zM77.8 39.1h10.0v4.5h-10.0zM87.5 43.4h5.1v4.5h-5.1zM87.5 47.8h5.1v4.5h-5.1zM112.0 56.5h5.1v4.5h-5.1zM131.5 60.8h29.5v4.5h-29.5zM9.3 73.8h10.0v4.5h-10.0zM4.4 78.2h5.1v4.5h-5.1zM4.4 82.5h5.1v4.5h-5.1zM-24.9 112.9h19.8v4.5h-19.8zM-20.0 117.3h10.0v4.5h-10.0zM116.9 130.3h44.2v4.5h-44.2zM112.0 134.7h49.1v4.5h-49.1zM107.1 139.0h5.1v4.5h-5.1zM107.1 143.3h5.1v4.5h-5.1zM107.1 147.7h5.1v4.5h-5.1zM107.1 152.0h5.1v4.5h-5.1zM107.1 156.4h5.1v4.5h-5.1z"/>
<path fill="#999999" d="M19.1 -21.7h5.1v4.5h-5.1zM19.1 -17.4h5.1v4.5h-5.1zM19.1 -13.0h5.1v4.5h-5.1zM19.1 -8.7h5.1v4.5h-5.1zM19.1 -4.3h5.1v4.5h-5.1zM19.1 0.0h10.0v4.5h-10.0zM19.1 4.3h10.0v4.5h-10.0zM19.1 8.7h5.1v4.5h-5.1zM19.1 13.0h5.1v4.5h-5.1zM28.9 13.0h5.1v4.5h-5.1zM19.1 17.4h5.1v4.5h-5.1zM87.5 52.1h5.1v4.5h-5.1zM107.1 52.1h5.1v4.5h-5.1zM126.7 60.8h5.1v4.5h-5.1zM19.1 73.8h5.1v4.5h-5.1zM4.4 95.6h5.1v4.5h-5.1zM-0.5 99.9h5.1v4.5h-5.1zM-10.3 104.2h10.0v4.5h-10.0zM-24.9 108.6h10.0v4.5h-10.0zM-10.3 108.6h10.0v4.5h-10.0zM-0.5 112.9h5.1v4.5h-5.1zM112.0 130.3h5.1v4.5h-5.1zM107.1 134.7h5.1v4.5h-5.1zM102.2 139.0h5.1v4.5h-5.1zM112.0 139.0h49.1v4.5h-49.1zM112.0 143.3h49.1v4.5h-49.1zM112.0 147.7h49.1v4.5h-49.1zM112.0 152.0h49.1v4.5h-49.1zM112.0 156.4h49.1v4.5h-49.1z"/>
<path fill="#979797" d="M28.9 -21.7h5.1v4.5h-5.1zM28.9 -17.4h5.1v4.5h-5.1zM28.9 -13.0h5.1v4.5h-5.1zM28.9 -8.7h5.1v4.5h-5.1zM28.9 -4.3h5.1v4.5h-5.1zM28.9 0.0h5.1v4.5h-5.1zM28.9 4.3h5.1v4.5h-5.1zM28.9 8.7h5.1v4.5h-5.1zM24.0 17.4h5.1v4.5h-5.1zM19.1 21.7h5.1v4.5h-5.1zM72.9 30.4h5.1v4.5h-5.1zM72.9 39.1h5.1v4.5h-5.1zM72.9 43.4h14.9v4.5h-14.9zM82.6 47.8h5.1v4.5h-5.1zM19.1 52.1h5.1v4.5h-5.1zM92.4 52.1h5.1v4.5h-5.1zM19.1 56.5h5.1v4.5h-5.1zM121.8 60.8h5.1v4.5h-5.1zM19.1 69.5h5.1v4.5h-5.1zM9.3 78.2h10.0v4.5h-10.0zM9.3 86.9h5.1v4.5h-5.1zM9.3 91.2h5.1v4.5h-5.1zM-24.9 104.2h14.9v4.5h-14.9zM-0.5 104.2h5.1v4.5h-5.1zM-15.2 108.6h5.1v4.5h-5.1zM-0.5 108.6h5.1v4.5h-5.1zM-0.5 117.3h5.1v4.5h-5.1zM-10.3 121.6h10.0v4.5h-10.0zM116.9 126.0h44.2v4.5h-44.2zM102.2 143.3h5.1v4.5h-5.1zM102.2 147.7h5.1v4.5h-5.1zM102.2 152.0h5.1v4.5h-5.1zM102.2 156.4h5.1v4.5h-5.1z"/>
<path fill="#8f8f8f" d="M33.7 -21.7h5.1v4.5h-5.1zM33.7 -17.4h5.1v4.5h-5.1zM33.7 -13.0h5.1v4.5h-5.1zM33.7 -8.7h5.1v4.5h-5.1zM33.7 -4.3h5.1v4.5h-5.1zM33.7 0.0h5.1v4.5h-5.1zM33.7 4.3h5.1v4.5h-5.1zM33.7 8.7h5.1v4.5h-5.1zM33.7 13.0h5.1v4.5h-5.1zM33.7 17.4h5.1v4.5h-5.1zM48.4 17.4h10.0v4.5h-10.0zM28.9 21.7h5.1v4.5h-5.1zM48.4 21.7h10.0v4.5h-10.0zM24.0 30.4h5.1v4.5h-5.1zM24.0 34.8h5.1v4.5h-5.1zM33.7 34.8h5.1v4.5h-5.1zM68.0 34.8h5.1v4.5h-5.1zM24.0 39.1h5.1v4.5h-5.1zM33.7 39.1h5.1v4.5h-5.1zM24.0 43.4h5.1v4.5h-5.1zM24.0 47.8h5.1v4.5h-5.1zM68.0 47.8h10.0v4.5h-10.0zM97.3 56.5h10.0v4.5h-10.0zM24.0 60.8h5.1v4.5h-5.1zM24.0 65.2h5.1v4.5h-5.1zM24.0 78.2h5.1v4.5h-5.1zM14.2 86.9h5.1v4.5h-5.1zM14.2 95.6h5.1v4.5h-5.1zM4.4 112.9h5.1v4.5h-5.1zM116.9 112.9h10.0v4.5h-10.0zM116.9 117.3h5.1v4.5h-5.1zM121.8 121.6h39.3v4.5h-39.3z"/>
<path fill="#8b8b8b" d="M38.6 -21.7h10.0v4.5h-10.0zM58.2 -21.7h10.0v4.5h-10.0zM38.6 -17.4h10.0v4.5h-10.0zM58.2 -17.4h10.0v4.5h-10.0zM38.6 -13.0h10.0v4.5h-10.0zM58.2 -13.0h10.0v4.5h-10.0zM38.6 -8.7h10.0v4.5h-10.0zM58.2 -8.7h10.0v4.5h-10.0zM38.6 -4.3h10.0v4.5h-10.0zM58.2 -4.3h10.0v4.5h-10.0zM38.6 0.0h10.0v4.5h-10.0zM58.2 0.0h10.0v4.5h-10.0zM38.6 4.3h10.0v4.5h-10.0zM58.2 4.3h10.0v4.5h-10.0zM38.6 8.7h10.0v4.5h-10.0zM58.2 8.7h10.0v4.5h-10.0zM38.6 13.0h10.0v4.5h-10.0zM58.2 13.0h10.0v4.5h-10.0zM38.6 17.4h5.1v4.5h-5.1zM58.2 17.4h10.0v4.5h-10.0zM63.1 21.7h5.1v4.5h-5.1zM28.9 26.1h10.0v4.5h-10.0zM43.5 26.1h5.1v4.5h-5.1zM53.3 26.1h5.1v4.5h-5.1zM63.1 26.1h5.1v4.5h-5.1zM28.9 30.4h5.1v4.5h-5.1zM38.6 30.4h5.1v4.5h-5.1zM38.6 34.8h5.1v4.5h-5.1zM38.6 39.1h5.1v4.5h-5.1zM28.9 43.4h10.0v4.5h-10.0zM63.1 47.8h5.1v4.5h-5.1zM68.0 52.1h5.1v4.5h-5.1zM87.5 60.8h10.0v4.5h-10.0zM107.1 60.8h5.1v4.5h-5.1zM9.3 99.9h5.1v4.5h-5.1zM116.9 108.6h10.0v4.5h-10.0zM112.0 112.9h5.1v4.5h-5.1zM126.7 117.3h5.1v4.5h-5.1zM92.4 139.0h5.1v4.5h-5.1z"/>
<path fill="#8d8d8d" d="M48.4 -21.7h10.0v4.5h-10.0zM48.4 -17.4h10.0v4.5h-10.0zM48.4 -13.0h10.0v4.5h-10.0zM48.4 -8.7h10.0v4.5h-10.0zM48.4 -4.3h10.0v4.5h-10.0zM48.4 0.0h10.0v4.5h-10.0zM48.4 4.3h10.0v4.5h-10.0zM48.4 8.7h10.0v4.5h-10.0zM48.4 13.0h10.0v4.5h-10.0zM43.5 17.4h5.1v4.5h-5.1zM33.7 21.7h14.9v4.5h-14.9zM58.2 21.7h5.1v4.5h-5.1zM24.0 26.1h5.1v4.5h-5.1zM38.6 26.1h5.1v4.5h-5.1zM33.7 30.4h5.1v4.5h-5.1zM28.9 34.8h5.1v4.5h-5.1zM28.9 39.1h5.1v4.5h-5.1zM77.8 52.1h5.1v4.5h-5.1zM82.6 56.5h5.1v4.5h-5.1zM19.1 82.5h5.1v4.5h-5.1zM126.7 112.9h34.4v4.5h-34.4zM121.8 117.3h5.1v4.5h-5.1zM131.5 117.3h29.5v4.5h-29.5zM-0.5 121.6h5.1v4.5h-5.1zM112.0 121.6h5.1v4.5h-5.1zM107.1 126.0h5.1v4.5h-5.1zM102.2 130.3h5.1v4.5h-5.1zM97.3 134.7h5.1v4.5h-5.1z"/>
<path fill="#939393" d="M68.0 -21.7h5.1v4.5h-5.1zM68.0 -17.4h5.1v4.5h-5.1zM68.0 -13.0h5.1v4.5h-5.1zM68.0 -8.7h5.1v4.5h-5.1zM68.0 -4.3h5.1v4.5h-5.1zM68.0 0.0h5.1v4.5h-5.1zM68.0 4.3h5.1v4.5h-5.1zM68.0 8.7h5.1v4.5h-5.1zM68.0 13.0h5.1v4.5h-5.1zM68.0 17.4h5.1v4.5h-5.1zM68.0 21.7h5.1v4.5h-5.1zM77.8 47.8h5.1v4.5h-5.1zM107.1 56.5h5.1v4.5h-5.1zM9.3 95.6h5.1v4.5h-5.1zM4.4 99.9h5.1v4.5h-5.1zM-20.0 121.6h10.0v4.5h-10.0zM112.0 126.0h5.1v4.5h-5.1zM107.1 130.3h5.1v4.5h-5.1z"/>
<path fill="#a9a9a9" d="M77.8 -21.7h5.1v4.5h-5.1zM77.8 -17.4h5.1v4.5h-5.1zM77.8 -13.0h5.1v4.5h-5.1zM77.8 -8.7h5.1v4.5h-5.1zM77.8 -4.3h5.1v4.5h-5.1zM77.8 0.0h5.1v4.5h-5.1zM77.8 4.3h5.1v4.5h-5.1zM77.8 8.7h5.1v4.5h-5.1zM77.8 13.0h5.1v4.5h-5.1zM77.8 17.4h5.1v4.5h-5.1zM4.4 21.7h5.1v4.5h-5.1zM77.8 21.7h5.1v4.5h-5.1zM97.3 21.7h5.1v4.5h-5.1zM4.4 26.1h5.1v4.5h-5.1zM4.4 30.4h5.1v4.5h-5.1zM4.4 34.8h5.1v4.5h-5.1zM102.2 34.8h5.1v4.5h-5.1zM-24.9 39.1h29.5v4.5h-29.5zM97.3 39.1h63.8v4.5h-63.8zM4.4 65.2h5.1v4.5h-5.1zM-5.4 91.2h5.1v4.5h-5.1z"/>
<path fill="#a7a7a7" d="M82.6 -21.7h5.1v4.5h-5.1zM97.3 -21.7h5.1v4.5h-5.1zM82.6 -17.4h5.1v4.5h-5.1zM97.3 -17.4h5.1v4.5h-5.1zM82.6 -13.0h5.1v4.5h-5.1zM97.3 -13.0h5.1v4.5h-5.1zM82.6 -8.7h5.1v4.5h-5.1zM97.3 -8.7h5.1v4.5h-5.1zM82.6 -4.3h5.1v4.5h-5.1zM97.3 -4.3h5.1v4.5h-5.1zM82.6 0.0h5.1v4.5h-5.1zM97.3 0.0h5.1v4.5h-5.1zM82.6 4.3h5.1v4.5h-5.1zM97.3 4.3h5.1v4.5h-5.1zM82.6 8.7h5.1v4.5h-5.1zM97.3 8.7h5.1v4.5h-5.1zM82.6 13.0h5.1v4.5h-5.1zM97.3 13.0h5.1v4.5h-5.1zM82.6 17.4h5.1v4.5h-5.1zM97.3 17.4h5.1v4.5h-5.1zM82.6 21.7h5.1v4.5h-5.1zM77.8 26.1h10.0v4.5h-10.0zM97.3 26.1h5.1v4.5h-5.1zM87.5 30.4h14.9v4.5h-14.9zM97.3 34.8h5.1v4.5h-5.1zM4.4 39.1h5.1v4.5h-5.1zM4.4 43.4h5.1v4.5h-5.1zM-0.5 47.8h10.0v4.5h-10.0zM116.9 47.8h5.1v4.5h-5.1zM-24.9 52.1h34.4v4.5h-34.4zM116.9 52.1h44.2v4.5h-44.2zM-24.9 56.5h34.4v4.5h-34.4zM131.5 56.5h29.5v4.5h-29.5zM-20.0 60.8h10.0v4.5h-10.0zM-0.5 60.8h10.0v4.5h-10.0zM-20.0 65.2h10.0v4.5h-10.0zM-0.5 65.2h5.1v4.5h-5.1zM-24.9 69.5h24.7v4.5h-24.7zM-24.9 73.8h10.0v4.5h-10.0zM-10.3 73.8h10.0v4.5h-10.0zM-24.9 78.2h5.1v4.5h-5.1zM-10.3 78.2h10.0v4.5h-10.0zM-10.3 82.5h10.0v4.5h-10.0zM-24.9 86.9h24.7v4.5h-24.7zM-24.9 91.2h19.8v4.5h-19.8z"/>
<path fill="#a5a5a5" d="M87.5 -21.7h10.0v4.5h-10.0zM87.5 -17.4h10.0v4.5h-10.0zM87.5 -13.0h10.0v4.5h-10.0zM87.5 -8.7h10.0v4.5h-10.0zM87.5 -4.3h10.0v4.5h-10.0zM87.5 0.0h10.0v4.5h-10.0zM87.5 4.3h10.0v4.5h-10.0zM87.5 8.7h10.0v4.5h-10.0zM87.5 13.0h10.0v4.5h-10.0zM87.5 17.4h10.0v4.5h-10.0zM87.5 21.7h10.0v4.5h-10.0zM87.5 26.1h10.0v4.5h-10.0zM82.6 30.4h5.1v4.5h-5.1zM87.5 34.8h10.0v4.5h-10.0zM92.4 39.1h5.1v4.5h-5.1zM-24.9 43.4h29.5v4.5h-29.5zM9.3 43.4h5.1v4.5h-5.1zM97.3 43.4h5.1v4.5h-5.1zM112.0 43.4h49.1v4.5h-49.1zM-24.9 47.8h24.7v4.5h-24.7zM9.3 47.8h5.1v4.5h-5.1zM112.0 47.8h5.1v4.5h-5.1zM121.8 47.8h39.3v4.5h-39.3zM126.7 56.5h5.1v4.5h-5.1zM-24.9 60.8h5.1v4.5h-5.1zM-10.3 60.8h10.0v4.5h-10.0zM9.3 60.8h5.1v4.5h-5.1zM-24.9 65.2h5.1v4.5h-5.1zM-10.3 65.2h10.0v4.5h-10.0zM9.3 65.2h5.1v4.5h-5.1zM-0.5 69.5h10.0v4.5h-10.0zM-15.2 73.8h5.1v4.5h-5.1zM-20.0 78.2h10.0v4.5h-10.0zM-24.9 82.5h14.9v4.5h-14.9zM-0.5 86.9h5.1v4.5h-5.1zM-0.5 91.2h5.1v4.5h-5.1zM-10.3 95.6h10.0v4.5h-10.0z"/>
<path fill="#afafaf" d="M107.1 -21.7h5.1v4.5h-5.1zM107.1 -17.4h5.1v4.5h-5.1zM107.1 -13.0h5.1v4.5h-5.1zM107.1 -8.7h5.1v4.5h-5.1zM107.1 -4.3h5.1v4.5h-5.1zM107.1 0.0h5.1v4.5h-5.1zM107.1 4.3h5.1v4.5h-5.1zM107.1 8.7h5.1v4.5h-5.1zM107.1 13.0h5.1v4.5h-5.1zM107.1 17.4h5.1v4.5h-5.1zM107.1 30.4h5.1v4.5h-5.1zM-20.0 34.8h10.0v4.5h-10.0zM-0.5 34.8h5.1v4.5h-5.1zM112.0 34.8h5.1v4.5h-5.1z"/>
<path fill="#a3a3a3" d="M9.3 17.4h5.1v4.5h-5.1zM9.3 21.7h5.1v4.5h-5.1zM9.3 26.1h5.1v4.5h-5.1zM9.3 30.4h5.1v4.5h-5.1zM9.3 34.8h5.1v4.5h-5.1zM9.3 39.1h5.1v4.5h-5.1zM102.2 43.4h10.0v4.5h-10.0zM9.3 52.1h5.1v4.5h-5.1zM9.3 56.5h5.1v4.5h-5.1zM121.8 56.5h5.1v4.5h-5.1zM-0.5 73.8h5.1v4.5h-5.1zM-0.5 78.2h5.1v4.5h-5.1zM-0.5 82.5h5.1v4.5h-5.1zM-24.9 95.6h14.9v4.5h-14.9z"/>
<path fill="#959595" d="M28.9 17.4h5.1v4.5h-5.1zM19.1 26.1h5.1v4.5h-5.1zM19.1 30.4h5.1v4.5h-5.1zM19.1 34.8h5.1v4.5h-5.1zM72.9 34.8h5.1v4.5h-5.1zM19.1 39.1h5.1v4.5h-5.1zM19.1 43.4h5.1v4.5h-5.1zM19.1 47.8h5.1v4.5h-5.1zM82.6 52.1h5.1v4.5h-5.1zM97.3 52.1h10.0v4.5h-10.0zM19.1 60.8h5.1v4.5h-5.1zM116.9 60.8h5.1v4.5h-5.1zM19.1 65.2h5.1v4.5h-5.1zM19.1 78.2h5.1v4.5h-5.1zM9.3 82.5h5.1v4.5h-5.1zM-24.9 121.6h5.1v4.5h-5.1zM102.2 134.7h5.1v4.5h-5.1z"/>
<path fill="#adadad" d="M102.2 17.4h5.1v4.5h-5.1zM102.2 21.7h5.1v4.5h-5.1zM102.2 26.1h5.1v4.5h-5.1zM107.1 34.8h5.1v4.5h-5.1z"/>
<path fill="#9d9d9d" d="M14.2 21.7h5.1v4.5h-5.1zM14.2 26.1h5.1v4.5h-5.1zM14.2 30.4h5.1v4.5h-5.1zM14.2 34.8h5.1v4.5h-5.1zM14.2 39.1h5.1v4.5h-5.1zM14.2 43.4h5.1v4.5h-5.1zM14.2 47.8h5.1v4.5h-5.1zM92.4 47.8h14.9v4.5h-14.9zM14.2 52.1h5.1v4.5h-5.1zM14.2 56.5h5.1v4.5h-5.1zM14.2 60.8h5.1v4.5h-5.1zM14.2 65.2h5.1v4.5h-5.1zM14.2 69.5h5.1v4.5h-5.1zM-24.9 99.9h24.7v4.5h-24.7zM-5.4 112.9h5.1v4.5h-5.1zM-24.9 117.3h5.1v4.5h-5.1zM-10.3 117.3h5.1v4.5h-5.1z"/>
<path fill="#919191" d="M24.0 21.7h5.1v4.5h-5.1zM68.0 26.1h5.1v4.5h-5.1zM68.0 30.4h5.1v4.5h-5.1zM68.0 39.1h5.1v4.5h-5.1zM68.0 43.4h5.1v4.5h-5.1zM24.0 52.1h5.1v4.5h-5.1zM24.0 56.5h5.1v4.5h-5.1zM87.5 56.5h10.0v4.5h-10.0zM112.0 60.8h5.1v4.5h-5.1zM24.0 69.5h5.1v4.5h-5.1zM24.0 73.8h5.1v4.5h-5.1zM14.2 82.5h5.1v4.5h-5.1zM14.2 91.2h5.1v4.5h-5.1zM4.4 104.2h5.1v4.5h-5.1zM4.4 108.6h5.1v4.5h-5.1zM116.9 121.6h5.1v4.5h-5.1zM97.3 139.0h5.1v4.5h-5.1zM97.3 143.3h5.1v4.5h-5.1zM97.3 147.7h5.1v4.5h-5.1zM97.3 152.0h5.1v4.5h-5.1zM97.3 156.4h5.1v4.5h-5.1z"/>
<path fill="#b5b5b5" d="M-10.3 26.1h10.0v4.5h-10.0zM-24.9 30.4h5.1v4.5h-5.1zM-10.3 30.4h10.0v4.5h-10.0zM116.9 30.4h10.0v4.5h-10.0zM136.4 30.4h10.0v4.5h-10.0z"/>
<path fill="#898989" d="M48.4 26.1h5.1v4.5h-5.1zM58.2 26.1h5.1v4.5h-5.1zM63.1 30.4h5.1v4.5h-5.1zM63.1 34.8h5.1v4.5h-5.1zM63.1 39.1h5.1v4.5h-5.1zM38.6 43.4h5.1v4.5h-5.1zM63.1 43.4h5.1v4.5h-5.1zM28.9 47.8h5.1v4.5h-5.1zM28.9 52.1h5.1v4.5h-5.1zM63.1 52.1h5.1v4.5h-5.1zM72.9 52.1h5.1v4.5h-5.1zM28.9 56.5h5.1v4.5h-5.1zM28.9 60.8h5.1v4.5h-5.1zM97.3 60.8h10.0v4.5h-10.0zM28.9 65.2h5.1v4.5h-5.1zM131.5 65.2h29.5v4.5h-29.5zM28.9 69.5h5.1v4.5h-5.1zM28.9 73.8h5.1v4.5h-5.1zM19.1 86.9h5.1v4.5h-5.1zM19.1 91.2h5.1v4.5h-5.1zM9.3 104.2h5.1v4.5h-5.1zM9.3 108.6h5.1v4.5h-5.1zM126.7 108.6h34.4v4.5h-34.4zM112.0 117.3h5.1v4.5h-5.1zM92.4 143.3h5.1v4.5h-5.1zM92.4 147.7h5.1v4.5h-5.1zM92.4 152.0h5.1v4.5h-5.1zM92.4 156.4h5.1v4.5h-5.1z"/>
<path fill="#9f9f9f" d="M72.9 26.1h5.1v4.5h-5.1zM77.8 30.4h5.1v4.5h-5.1zM87.5 39.1h5.1v4.5h-5.1zM107.1 47.8h5.1v4.5h-5.1zM4.4 73.8h5.1v4.5h-5.1zM4.4 86.9h5.1v4.5h-5.1zM4.4 91.2h5.1v4.5h-5.1zM-5.4 117.3h5.1v4.5h-5.1z"/>
<path fill="#858585" d="M43.5 30.4h5.1v4.5h-5.1zM58.2 30.4h5.1v4.5h-5.1zM33.7 47.8h5.1v4.5h-5.1zM77.8 56.5h5.1v4.5h-5.1zM87.5 65.2h10.0v4.5h-10.0zM112.0 65.2h5.1v4.5h-5.1zM112.0 108.6h5.1v4.5h-5.1zM4.4 117.3h5.1v4.5h-5.1zM107.1 121.6h5.1v4.5h-5.1zM-10.3 126.0h5.1v4.5h-5.1zM102.2 126.0h5.1v4.5h-5.1zM87.5 139.0h5.1v4.5h-5.1z"/>
<path fill="#818181" d="M48.4 30.4h10.0v4.5h-10.0zM58.2 34.8h5.1v4.5h-5.1zM58.2 39.1h5.1v4.5h-5.1zM38.6 47.8h10.0v4.5h-10.0zM33.7 52.1h5.1v4.5h-5.1zM33.7 56.5h5.1v4.5h-5.1zM48.4 56.5h10.0v4.5h-10.0zM43.5 60.8h5.1v4.5h-5.1zM33.7 65.2h5.1v4.5h-5.1zM43.5 65.2h5.1v4.5h-5.1zM82.6 65.2h5.1v4.5h-5.1zM33.7 78.2h5.1v4.5h-5.1zM28.9 82.5h5.1v4.5h-5.1zM24.0 86.9h5.1v4.5h-5.1zM19.1 99.9h5.1v4.5h-5.1zM14.2 104.2h5.1v4.5h-5.1zM9.3 112.9h5.1v4.5h-5.1zM107.1 112.9h5.1v4.5h-5.1zM107.1 117.3h5.1v4.5h-5.1zM97.3 121.6h10.0v4.5h-10.0zM97.3 126.0h5.1v4.5h-5.1z"/>
<path fill="#838383" d="M43.5 34.8h5.1v4.5h-5.1zM43.5 39.1h5.1v4.5h-5.1zM43.5 43.4h5.1v4.5h-5.1zM58.2 43.4h5.1v4.5h-5.1zM58.2 47.8h5.1v4.5h-5.1zM58.2 52.1h5.1v4.5h-5.1zM58.2 56.5h19.8v4.5h-19.8zM33.7 60.8h5.1v4.5h-5.1zM97.3 65.2h14.9v4.5h-14.9zM33.7 69.5h5.1v4.5h-5.1zM33.7 73.8h5.1v4.5h-5.1zM-24.9 126.0h14.9v4.5h-14.9zM87.5 143.3h5.1v4.5h-5.1zM87.5 147.7h5.1v4.5h-5.1zM87.5 152.0h5.1v4.5h-5.1zM87.5 156.4h5.1v4.5h-5.1z"/>
<path fill="#7c7c7c" d="M48.4 34.8h10.0v4.5h-10.0zM48.4 39.1h10.0v4.5h-10.0zM53.3 60.8h14.9v4.5h-14.9zM48.4 69.5h5.1v4.5h-5.1zM102.2 69.5h14.9v4.5h-14.9zM43.5 73.8h5.1v4.5h-5.1zM38.6 78.2h5.1v4.5h-5.1zM33.7 82.5h5.1v4.5h-5.1zM24.0 95.6h5.1v4.5h-5.1zM116.9 104.2h10.0v4.5h-10.0zM14.2 108.6h5.1v4.5h-5.1zM92.4 117.3h5.1v4.5h-5.1zM102.2 117.3h5.1v4.5h-5.1zM92.4 126.0h5.1v4.5h-5.1zM82.6 147.7h5.1v4.5h-5.1zM82.6 152.0h5.1v4.5h-5.1zM82.6 156.4h5.1v4.5h-5.1z"/>
<path fill="#7e7e7e" d="M48.4 43.4h10.0v4.5h-10.0zM48.4 47.8h10.0v4.5h-10.0zM38.6 52.1h19.8v4.5h-19.8zM38.6 56.5h10.0v4.5h-10.0zM38.6 60.8h5.1v4.5h-5.1zM48.4 60.8h5.1v4.5h-5.1zM77.8 60.8h5.1v4.5h-5.1zM38.6 65.2h5.1v4.5h-5.1zM48.4 65.2h5.1v4.5h-5.1zM38.6 69.5h10.0v4.5h-10.0zM38.6 73.8h5.1v4.5h-5.1zM24.0 91.2h5.1v4.5h-5.1zM126.7 104.2h34.4v4.5h-34.4zM97.3 117.3h5.1v4.5h-5.1zM92.4 121.6h5.1v4.5h-5.1zM92.4 130.3h5.1v4.5h-5.1zM87.5 134.7h5.1v4.5h-5.1zM82.6 139.0h5.1v4.5h-5.1zM82.6 143.3h5.1v4.5h-5.1z"/>
<path fill="#7a7a7a" d="M68.0 60.8h10.0v4.5h-10.0zM87.5 69.5h5.1v4.5h-5.1zM97.3 69.5h5.1v4.5h-5.1zM116.9 69.5h44.2v4.5h-44.2zM43.5 78.2h5.1v4.5h-5.1zM38.6 82.5h5.1v4.5h-5.1zM28.9 86.9h5.1v4.5h-5.1zM19.1 104.2h5.1v4.5h-5.1zM102.2 112.9h5.1v4.5h-5.1zM-0.5 126.0h5.1v4.5h-5.1zM82.6 134.7h5.1v4.5h-5.1z"/>
<path fill="#878787" d="M82.6 60.8h5.1v4.5h-5.1zM116.9 65.2h14.9v4.5h-14.9zM28.9 78.2h5.1v4.5h-5.1zM24.0 82.5h5.1v4.5h-5.1zM19.1 95.6h5.1v4.5h-5.1zM14.2 99.9h5.1v4.5h-5.1zM-5.4 126.0h5.1v4.5h-5.1zM97.3 130.3h5.1v4.5h-5.1zM92.4 134.7h5.1v4.5h-5.1z"/>
<path fill="#787878" d="M53.3 65.2h5.1v4.5h-5.1zM77.8 65.2h5.1v4.5h-5.1zM82.6 69.5h5.1v4.5h-5.1zM92.4 69.5h5.1v4.5h-5.1zM48.4 73.8h5.1v4.5h-5.1zM33.7 86.9h5.1v4.5h-5.1zM28.9 91.2h5.1v4.5h-5.1zM24.0 99.9h5.1v4.5h-5.1zM107.1 108.6h5.1v4.5h-5.1zM97.3 112.9h5.1v4.5h-5.1zM87.5 130.3h5.1v4.5h-5.1zM77.8 139.0h5.1v4.5h-5.1zM77.8 143.3h5.1v4.5h-5.1z"/>
<path fill="#747474" d="M58.2 65.2h14.9v4.5h-14.9zM53.3 69.5h5.1v4.5h-5.1zM77.8 69.5h5.1v4.5h-5.1zM53.3 73.8h5.1v4.5h-5.1zM68.0 73.8h10.0v4.5h-10.0zM102.2 73.8h5.1v4.5h-5.1zM116.9 73.8h44.2v4.5h-44.2zM28.9 95.6h5.1v4.5h-5.1zM24.0 104.2h5.1v4.5h-5.1zM92.4 112.9h5.1v4.5h-5.1zM87.5 117.3h5.1v4.5h-5.1zM77.8 134.7h5.1v4.5h-5.1z"/>
<path fill="#727272" d="M72.9 65.2h5.1v4.5h-5.1zM63.1 69.5h14.9v4.5h-14.9zM58.2 73.8h10.0v4.5h-10.0zM77.8 73.8h5.1v4.5h-5.1zM53.3 78.2h5.1v4.5h-5.1zM68.0 78.2h10.0v4.5h-10.0zM48.4 82.5h5.1v4.5h-5.1zM43.5 86.9h5.1v4.5h-5.1zM38.6 91.2h5.1v4.5h-5.1zM33.7 95.6h5.1v4.5h-5.1zM126.7 99.9h34.4v4.5h-34.4zM19.1 108.6h5.1v4.5h-5.1zM102.2 108.6h5.1v4.5h-5.1zM14.2 112.9h5.1v4.5h-5.1zM9.3 117.3h5.1v4.5h-5.1zM-5.4 130.3h5.1v4.5h-5.1zM82.6 130.3h5.1v4.5h-5.1z"/>
<path fill="#707070" d="M58.2 69.5h5.1v4.5h-5.1zM58.2 78.2h10.0v4.5h-10.0zM107.1 78.2h10.0v4.5h-10.0zM121.8 78.2h39.3v4.5h-39.3zM28.9 99.9h5.1v4.5h-5.1zM121.8 99.9h5.1v4.5h-5.1zM97.3 108.6h5.1v4.5h-5.1zM82.6 121.6h5.1v4.5h-5.1zM-10.3 130.3h5.1v4.5h-5.1z"/>
<path fill="#6e6e6e" d="M82.6 73.8h5.1v4.5h-5.1zM97.3 73.8h5.1v4.5h-5.1zM77.8 78.2h5.1v4.5h-5.1zM116.9 78.2h5.1v4.5h-5.1zM38.6 95.6h5.1v4.5h-5.1zM116.9 99.9h5.1v4.5h-5.1zM82.6 126.0h5.1v4.5h-5.1zM-24.9 130.3h14.9v4.5h-14.9zM72.9 139.0h5.1v4.5h-5.1zM72.9 143.3h5.1v4.5h-5.1z"/>
<path fill="#6a6a6a" d="M87.5 73.8h10.0v4.5h-10.0zM53.3 82.5h5.1v4.5h-5.1zM43.5 91.2h5.1v4.5h-5.1zM33.7 99.9h5.1v4.5h-5.1zM112.0 99.9h5.1v4.5h-5.1zM77.8 121.6h5.1v4.5h-5.1zM-0.5 130.3h5.1v4.5h-5.1zM72.9 134.7h5.1v4.5h-5.1z"/>
<path fill="#767676" d="M107.1 73.8h10.0v4.5h-10.0zM48.4 78.2h5.1v4.5h-5.1zM43.5 82.5h5.1v4.5h-5.1zM38.6 86.9h5.1v4.5h-5.1zM33.7 91.2h5.1v4.5h-5.1zM112.0 104.2h5.1v4.5h-5.1zM4.4 121.6h5.1v4.5h-5.1zM87.5 121.6h5.1v4.5h-5.1zM87.5 126.0h5.1v4.5h-5.1zM77.8 147.7h5.1v4.5h-5.1zM77.8 152.0h5.1v4.5h-5.1zM77.8 156.4h5.1v4.5h-5.1z"/>
<path fill="#646464" d="M82.6 78.2h5.1v4.5h-5.1zM58.2 86.9h5.1v4.5h-5.1zM107.1 86.9h54.0v4.5h-54.0zM58.2 91.2h5.1v4.5h-5.1zM107.1 91.2h54.0v4.5h-54.0zM92.4 95.6h5.1v4.5h-5.1zM87.5 99.9h5.1v4.5h-5.1zM97.3 99.9h10.0v4.5h-10.0zM33.7 104.2h5.1v4.5h-5.1zM24.0 112.9h5.1v4.5h-5.1zM82.6 112.9h5.1v4.5h-5.1zM72.9 121.6h5.1v4.5h-5.1zM72.9 130.3h5.1v4.5h-5.1z"/>
<path fill="#606060" d="M87.5 78.2h10.0v4.5h-10.0zM53.3 99.9h5.1v4.5h-5.1zM82.6 99.9h5.1v4.5h-5.1zM33.7 108.6h5.1v4.5h-5.1zM82.6 108.6h5.1v4.5h-5.1zM28.9 112.9h5.1v4.5h-5.1zM72.9 117.3h5.1v4.5h-5.1zM68.0 139.0h5.1v4.5h-5.1zM68.0 143.3h5.1v4.5h-5.1zM68.0 152.0h5.1v4.5h-5.1zM68.0 156.4h5.1v4.5h-5.1z"/>
<path fill="#666666" d="M97.3 78.2h5.1v4.5h-5.1zM77.8 82.5h5.1v4.5h-5.1zM97.3 82.5h5.1v4.5h-5.1zM53.3 86.9h5.1v4.5h-5.1zM102.2 86.9h5.1v4.5h-5.1zM48.4 91.2h10.0v4.5h-10.0zM102.2 91.2h5.1v4.5h-5.1zM48.4 95.6h10.0v4.5h-10.0zM97.3 95.6h19.8v4.5h-19.8zM48.4 99.9h5.1v4.5h-5.1zM92.4 99.9h5.1v4.5h-5.1zM107.1 99.9h5.1v4.5h-5.1zM28.9 108.6h5.1v4.5h-5.1zM77.8 117.3h5.1v4.5h-5.1zM4.4 126.0h5.1v4.5h-5.1z"/>
<path fill="#6c6c6c" d="M102.2 78.2h5.1v4.5h-5.1zM68.0 82.5h10.0v4.5h-10.0zM48.4 86.9h5.1v4.5h-5.1zM28.9 104.2h5.1v4.5h-5.1zM107.1 104.2h5.1v4.5h-5.1zM24.0 108.6h5.1v4.5h-5.1zM92.4 108.6h5.1v4.5h-5.1zM87.5 112.9h5.1v4.5h-5.1zM82.6 117.3h5.1v4.5h-5.1zM77.8 130.3h5.1v4.5h-5.1zM72.9 147.7h5.1v4.5h-5.1zM72.9 152.0h5.1v4.5h-5.1zM72.9 156.4h5.1v4.5h-5.1z"/>
<path fill="#686868" d="M58.2 82.5h10.0v4.5h-10.0zM102.2 82.5h58.9v4.5h-58.9zM97.3 86.9h5.1v4.5h-5.1zM97.3 91.2h5.1v4.5h-5.1zM43.5 95.6h5.1v4.5h-5.1zM116.9 95.6h44.2v4.5h-44.2zM38.6 99.9h10.0v4.5h-10.0zM87.5 104.2h19.8v4.5h-19.8zM87.5 108.6h5.1v4.5h-5.1zM19.1 112.9h5.1v4.5h-5.1zM77.8 126.0h5.1v4.5h-5.1z"/>
<path fill="#5e5e5e" d="M82.6 82.5h5.1v4.5h-5.1zM77.8 86.9h5.1v4.5h-5.1zM63.1 91.2h5.1v4.5h-5.1zM87.5 95.6h5.1v4.5h-5.1zM48.4 104.2h5.1v4.5h-5.1zM77.8 112.9h5.1v4.5h-5.1zM-24.9 134.7h24.7v4.5h-24.7zM68.0 134.7h5.1v4.5h-5.1zM68.0 147.7h5.1v4.5h-5.1z"/>
<path fill="#5c5c5c" d="M87.5 82.5h5.1v4.5h-5.1zM58.2 99.9h5.1v4.5h-5.1zM77.8 99.9h5.1v4.5h-5.1zM19.1 117.3h10.0v4.5h-10.0zM68.0 117.3h5.1v4.5h-5.1zM68.0 121.6h5.1v4.5h-5.1zM68.0 126.0h5.1v4.5h-5.1zM4.4 130.3h5.1v4.5h-5.1zM68.0 130.3h5.1v4.5h-5.1zM-0.5 134.7h5.1v4.5h-5.1z"/>
<path fill="#626262" d="M92.4 82.5h5.1v4.5h-5.1zM63.1 86.9h14.9v4.5h-14.9zM92.4 86.9h5.1v4.5h-5.1zM92.4 91.2h5.1v4.5h-5.1zM58.2 95.6h5.1v4.5h-5.1zM38.6 104.2h10.0v4.5h-10.0zM82.6 104.2h5.1v4.5h-5.1zM14.2 117.3h5.1v4.5h-5.1zM9.3 121.6h5.1v4.5h-5.1zM72.9 126.0h5.1v4.5h-5.1z"/>
<path fill="#585858" d="M82.6 86.9h5.1v4.5h-5.1zM72.9 95.6h10.0v4.5h-10.0zM68.0 99.9h10.0v4.5h-10.0zM63.1 104.2h14.9v4.5h-14.9zM63.1 108.6h5.1v4.5h-5.1zM72.9 108.6h5.1v4.5h-5.1zM33.7 112.9h5.1v4.5h-5.1zM28.9 117.3h5.1v4.5h-5.1zM14.2 121.6h5.1v4.5h-5.1zM24.0 121.6h5.1v4.5h-5.1zM9.3 126.0h5.1v4.5h-5.1zM19.1 126.0h5.1v4.5h-5.1zM14.2 130.3h5.1v4.5h-5.1zM9.3 134.7h10.0v4.5h-10.0zM-0.5 139.0h10.0v4.5h-10.0zM14.2 139.0h5.1v4.5h-5.1zM-24.9 143.3h34.4v4.5h-34.4zM14.2 143.3h5.1v4.5h-5.1zM9.3 147.7h10.0v4.5h-10.0zM4.4 152.0h14.9v4.5h-14.9zM-24.9 156.4h44.2v4.5h-44.2z"/>
<path fill="#5a5a5a" d="M87.5 86.9h5.1v4.5h-5.1zM68.0 91.2h14.9v4.5h-14.9zM87.5 91.2h5.1v4.5h-5.1zM63.1 95.6h5.1v4.5h-5.1zM82.6 95.6h5.1v4.5h-5.1zM63.1 99.9h5.1v4.5h-5.1zM77.8 104.2h5.1v4.5h-5.1zM38.6 108.6h5.1v4.5h-5.1zM68.0 108.6h5.1v4.5h-5.1zM77.8 108.6h5.1v4.5h-5.1zM68.0 112.9h10.0v4.5h-10.0zM24.0 126.0h5.1v4.5h-5.1zM19.1 130.3h10.0v4.5h-10.0zM4.4 134.7h5.1v4.5h-5.1zM19.1 134.7h10.0v4.5h-10.0zM9.3 139.0h5.1v4.5h-5.1zM19.1 139.0h10.0v4.5h-10.0zM9.3 143.3h5.1v4.5h-5.1zM19.1 143.3h10.0v4.5h-10.0zM-24.9 147.7h34.4v4.5h-34.4zM19.1 147.7h10.0v4.5h-10.0zM-24.9 152.0h29.5v4.5h-29.5zM19.1 152.0h10.0v4.5h-10.0zM19.1 156.4h10.0v4.5h-10.0z"/>
<path fill="#565656" d="M82.6 91.2h5.1v4.5h-5.1zM68.0 95.6h5.1v4.5h-5.1zM53.3 104.2h5.1v4.5h-5.1zM63.1 112.9h5.1v4.5h-5.1zM63.1 117.3h5.1v4.5h-5.1zM19.1 121.6h5.1v4.5h-5.1zM28.9 121.6h5.1v4.5h-5.1zM63.1 121.6h5.1v4.5h-5.1zM14.2 126.0h5.1v4.5h-5.1zM28.9 126.0h5.1v4.5h-5.1zM63.1 126.0h5.1v4.5h-5.1zM9.3 130.3h5.1v4.5h-5.1zM28.9 130.3h5.1v4.5h-5.1zM63.1 130.3h5.1v4.5h-5.1zM28.9 134.7h5.1v4.5h-5.1zM-24.9 139.0h24.7v4.5h-24.7zM28.9 139.0h5.1v4.5h-5.1zM28.9 143.3h5.1v4.5h-5.1zM28.9 147.7h5.1v4.5h-5.1zM28.9 152.0h5.1v4.5h-5.1zM28.9 156.4h5.1v4.5h-5.1z"/>
<path fill="#545454" d="M58.2 104.2h5.1v4.5h-5.1zM43.5 108.6h5.1v4.5h-5.1zM63.1 134.7h5.1v4.5h-5.1zM63.1 139.0h5.1v4.5h-5.1zM63.1 143.3h5.1v4.5h-5.1zM63.1 147.7h5.1v4.5h-5.1zM63.1 152.0h5.1v4.5h-5.1zM63.1 156.4h5.1v4.5h-5.1z"/>
<path fill="#505050" d="M48.4 108.6h5.1v4.5h-5.1zM58.2 108.6h5.1v4.5h-5.1zM33.7 126.0h5.1v4.5h-5.1zM58.2 126.0h5.1v4.5h-5.1zM33.7 130.3h5.1v4.5h-5.1zM58.2 130.3h5.1v4.5h-5.1zM33.7 134.7h5.1v4.5h-5.1z"/>
<path fill="#4e4e4e" d="M53.3 108.6h5.1v4.5h-5.1zM58.2 112.9h5.1v4.5h-5.1zM58.2 117.3h5.1v4.5h-5.1zM33.7 121.6h5.1v4.5h-5.1zM58.2 121.6h5.1v4.5h-5.1zM58.2 134.7h5.1v4.5h-5.1zM33.7 139.0h5.1v4.5h-5.1zM43.5 139.0h10.0v4.5h-10.0zM58.2 139.0h5.1v4.5h-5.1zM33.7 143.3h5.1v4.5h-5.1zM58.2 143.3h5.1v4.5h-5.1zM33.7 147.7h5.1v4.5h-5.1zM58.2 147.7h5.1v4.5h-5.1zM33.7 152.0h5.1v4.5h-5.1zM58.2 152.0h5.1v4.5h-5.1zM33.7 156.4h5.1v4.5h-5.1zM58.2 156.4h5.1v4.5h-5.1z"/>
<path fill="#525252" d="M38.6 112.9h5.1v4.5h-5.1zM33.7 117.3h5.1v4.5h-5.1z"/>
<path fill="#4c4c4c" d="M43.5 112.9h5.1v4.5h-5.1zM38.6 117.3h14.9v4.5h-14.9zM38.6 139.0h5.1v4.5h-5.1zM53.3 139.0h5.1v4.5h-5.1zM38.6 143.3h19.8v4.5h-19.8zM43.5 147.7h14.9v4.5h-14.9zM38.6 152.0h19.8v4.5h-19.8zM38.6 156.4h19.8v4.5h-19.8z"/>
<path fill="#4a4a4a" d="M48.4 112.9h10.0v4.5h-10.0zM53.3 117.3h5.1v4.5h-5.1zM38.6 121.6h19.8v4.5h-19.8zM38.6 134.7h5.1v4.5h-5.1zM53.3 134.7h5.1v4.5h-5.1zM38.6 147.7h5.1v4.5h-5.1z"/>
<path fill="#484848" d="M38.6 126.0h5.1v4.5h-5.1zM53.3 126.0h5.1v4.5h-5.1zM38.6 130.3h5.1v4.5h-5.1zM53.3 130.3h5.1v4.5h-5.1zM43.5 134.7h10.0v4.5h-10.0z"/>
<path fill="#424242" d="M43.5 126.0h10.0v4.5h-10.0zM43.5 130.3h10.0v4.5h-10.0z"/>
</g></g>
<path d="M19.6,109.8C20.1,109.0 21.0,107.5 22.7,104.8C24.4,102.1 26.8,97.6 29.7,93.7C32.5,89.8 36.4,85.6 39.8,81.6C43.2,77.6 47.7,72.3 49.9,69.5C52.1,66.7 52.0,65.9 53.0,64.5C54.0,63.1 54.8,61.9 55.9,61.0C57.0,60.1 58.1,59.4 59.5,59.1C60.9,58.8 61.1,59.0 64.5,59.3C67.9,59.6 72.5,59.8 80.1,60.9C87.7,62.0 105.3,65.2 110.3,66.0M84.1,139.0C84.7,138.1 85.8,135.3 87.5,133.5C89.2,131.7 91.9,129.7 94.2,127.9C96.5,126.1 98.5,124.2 101.5,122.5C104.5,120.8 110.5,118.6 112.3,117.8" fill="none" stroke="#b8b8b8" stroke-opacity="0.75" stroke-width="1.5" stroke-linejoin="round" stroke-linecap="round" clip-path="url(#pc)"/>
<line x1="0" y1="104.25" x2="136" y2="104.25" stroke="#3a3a3a" stroke-opacity="0.68" stroke-width="1.9" stroke-dasharray="6 5.8"/>
<line x1="67.97" y1="139" x2="67.97" y2="0" stroke="#3a3a3a" stroke-opacity="0.68" stroke-width="1.9" stroke-dasharray="6 5.8"/>
<rect x="0" y="0" width="136" height="139" fill="none" stroke="#636363" stroke-width="1.35"/>
</g>
<text x="396.50" y="8.6" font-size="12" font-style="italic" fill="#1a1a1a" text-anchor="middle">A. pseudoplatanus</text>
<g transform="translate(473.0,18.5)">
<g clip-path="url(#m3)"><g filter="url(#cm)">
<path fill="#999999" d="M-24.9 -21.7h24.7v4.5h-24.7zM-24.9 -17.4h24.7v4.5h-24.7zM-24.9 -13.0h24.7v4.5h-24.7zM-24.9 -8.7h24.7v4.5h-24.7zM-24.9 -4.3h24.7v4.5h-24.7zM-24.9 0.0h24.7v4.5h-24.7zM-24.9 4.3h24.7v4.5h-24.7zM-24.9 8.7h29.5v4.5h-29.5zM-24.9 13.0h29.5v4.5h-29.5zM-24.9 17.4h24.7v4.5h-24.7zM-5.4 21.7h5.1v4.5h-5.1zM4.4 26.1h5.1v4.5h-5.1zM112.0 86.9h5.1v4.5h-5.1zM82.6 104.2h5.1v4.5h-5.1zM48.4 108.6h10.0v4.5h-10.0zM68.0 108.6h5.1v4.5h-5.1zM58.2 112.9h5.1v4.5h-5.1zM43.5 117.3h14.9v4.5h-14.9zM28.9 121.6h5.1v4.5h-5.1zM43.5 121.6h10.0v4.5h-10.0zM38.6 126.0h10.0v4.5h-10.0zM24.0 130.3h5.1v4.5h-5.1zM33.7 130.3h10.0v4.5h-10.0zM19.1 134.7h29.5v4.5h-29.5zM14.2 139.0h5.1v4.5h-5.1zM28.9 139.0h19.8v4.5h-19.8zM28.9 143.3h19.8v4.5h-19.8zM24.0 147.7h24.7v4.5h-24.7zM24.0 152.0h24.7v4.5h-24.7zM24.0 156.4h24.7v4.5h-24.7z"/>
<path fill="#9b9b9b" d="M-0.5 -21.7h10.0v4.5h-10.0zM-0.5 -17.4h10.0v4.5h-10.0zM-0.5 -13.0h10.0v4.5h-10.0zM-0.5 -8.7h10.0v4.5h-10.0zM-0.5 -4.3h10.0v4.5h-10.0zM-0.5 0.0h10.0v4.5h-10.0zM-0.5 4.3h10.0v4.5h-10.0zM4.4 8.7h5.1v4.5h-5.1zM4.4 13.0h5.1v4.5h-5.1zM-0.5 17.4h10.0v4.5h-10.0zM-24.9 21.7h19.8v4.5h-19.8zM-0.5 21.7h10.0v4.5h-10.0zM102.2 86.9h5.1v4.5h-5.1zM87.5 91.2h5.1v4.5h-5.1zM48.4 112.9h10.0v4.5h-10.0zM63.1 112.9h5.1v4.5h-5.1zM58.2 117.3h5.1v4.5h-5.1zM33.7 121.6h10.0v4.5h-10.0zM53.3 121.6h5.1v4.5h-5.1zM28.9 126.0h10.0v4.5h-10.0zM48.4 126.0h5.1v4.5h-5.1zM28.9 130.3h5.1v4.5h-5.1zM48.4 134.7h5.1v4.5h-5.1zM19.1 139.0h10.0v4.5h-10.0zM48.4 139.0h5.1v4.5h-5.1zM19.1 143.3h10.0v4.5h-10.0zM48.4 143.3h5.1v4.5h-5.1zM19.1 147.7h5.1v4.5h-5.1zM48.4 147.7h5.1v4.5h-5.1zM19.1 152.0h5.1v4.5h-5.1zM48.4 152.0h5.1v4.5h-5.1zM19.1 156.4h5.1v4.5h-5.1zM48.4 156.4h5.1v4.5h-5.1z"/>
<path fill="#979797" d="M9.3 -21.7h5.1v4.5h-5.1zM9.3 -17.4h5.1v4.5h-5.1zM9.3 -13.0h5.1v4.5h-5.1zM9.3 -8.7h5.1v4.5h-5.1zM9.3 -4.3h5.1v4.5h-5.1zM9.3 0.0h5.1v4.5h-5.1zM9.3 4.3h5.1v4.5h-5.1zM9.3 8.7h5.1v4.5h-5.1zM9.3 13.0h5.1v4.5h-5.1zM9.3 17.4h5.1v4.5h-5.1zM9.3 21.7h5.1v4.5h-5.1zM-24.9 26.1h29.5v4.5h-29.5zM107.1 82.5h5.1v4.5h-5.1zM82.6 95.6h5.1v4.5h-5.1zM58.2 108.6h5.1v4.5h-5.1zM43.5 112.9h5.1v4.5h-5.1zM33.7 117.3h10.0v4.5h-10.0zM43.5 130.3h5.1v4.5h-5.1zM14.2 143.3h5.1v4.5h-5.1zM14.2 147.7h5.1v4.5h-5.1zM14.2 152.0h5.1v4.5h-5.1zM14.2 156.4h5.1v4.5h-5.1z"/>
<path fill="#8f8f8f" d="M14.2 -21.7h5.1v4.5h-5.1zM33.7 -21.7h5.1v4.5h-5.1zM14.2 -17.4h5.1v4.5h-5.1zM33.7 -17.4h5.1v4.5h-5.1zM14.2 -13.0h5.1v4.5h-5.1zM33.7 -13.0h5.1v4.5h-5.1zM14.2 -8.7h5.1v4.5h-5.1zM33.7 -8.7h5.1v4.5h-5.1zM14.2 -4.3h5.1v4.5h-5.1zM33.7 -4.3h5.1v4.5h-5.1zM14.2 0.0h5.1v4.5h-5.1zM33.7 0.0h5.1v4.5h-5.1zM14.2 4.3h5.1v4.5h-5.1zM33.7 4.3h5.1v4.5h-5.1zM14.2 8.7h5.1v4.5h-5.1zM33.7 8.7h5.1v4.5h-5.1zM14.2 13.0h5.1v4.5h-5.1zM33.7 13.0h5.1v4.5h-5.1zM14.2 17.4h5.1v4.5h-5.1zM33.7 17.4h5.1v4.5h-5.1zM14.2 21.7h5.1v4.5h-5.1zM14.2 26.1h5.1v4.5h-5.1zM28.9 26.1h10.0v4.5h-10.0zM14.2 30.4h5.1v4.5h-5.1zM28.9 30.4h10.0v4.5h-10.0zM102.2 78.2h5.1v4.5h-5.1zM112.0 78.2h5.1v4.5h-5.1zM116.9 82.5h5.1v4.5h-5.1zM82.6 86.9h5.1v4.5h-5.1zM77.8 91.2h5.1v4.5h-5.1zM28.9 95.6h10.0v4.5h-10.0zM77.8 95.6h5.1v4.5h-5.1zM43.5 104.2h5.1v4.5h-5.1zM33.7 112.9h5.1v4.5h-5.1zM24.0 121.6h5.1v4.5h-5.1zM9.3 143.3h5.1v4.5h-5.1zM9.3 147.7h5.1v4.5h-5.1zM9.3 152.0h5.1v4.5h-5.1zM9.3 156.4h5.1v4.5h-5.1z"/>
<path fill="#8b8b8b" d="M19.1 -21.7h10.0v4.5h-10.0zM19.1 -17.4h10.0v4.5h-10.0zM19.1 -13.0h10.0v4.5h-10.0zM19.1 -8.7h10.0v4.5h-10.0zM19.1 -4.3h10.0v4.5h-10.0zM19.1 0.0h10.0v4.5h-10.0zM19.1 4.3h10.0v4.5h-10.0zM19.1 8.7h10.0v4.5h-10.0zM19.1 13.0h10.0v4.5h-10.0zM19.1 17.4h10.0v4.5h-10.0zM19.1 21.7h10.0v4.5h-10.0zM38.6 26.1h5.1v4.5h-5.1zM38.6 30.4h5.1v4.5h-5.1zM14.2 34.8h24.7v4.5h-24.7zM112.0 73.8h49.1v4.5h-49.1zM97.3 82.5h5.1v4.5h-5.1zM136.4 82.5h5.1v4.5h-5.1zM38.6 95.6h5.1v4.5h-5.1zM43.5 99.9h5.1v4.5h-5.1zM33.7 104.2h5.1v4.5h-5.1zM28.9 108.6h10.0v4.5h-10.0zM24.0 117.3h5.1v4.5h-5.1zM9.3 134.7h5.1v4.5h-5.1z"/>
<path fill="#8d8d8d" d="M28.9 -21.7h5.1v4.5h-5.1zM28.9 -17.4h5.1v4.5h-5.1zM28.9 -13.0h5.1v4.5h-5.1zM28.9 -8.7h5.1v4.5h-5.1zM28.9 -4.3h5.1v4.5h-5.1zM28.9 0.0h5.1v4.5h-5.1zM28.9 4.3h5.1v4.5h-5.1zM28.9 8.7h5.1v4.5h-5.1zM28.9 13.0h5.1v4.5h-5.1zM28.9 17.4h5.1v4.5h-5.1zM28.9 21.7h10.0v4.5h-10.0zM19.1 26.1h10.0v4.5h-10.0zM19.1 30.4h10.0v4.5h-10.0zM116.9 78.2h44.2v4.5h-44.2zM121.8 82.5h14.9v4.5h-14.9zM141.3 82.5h19.8v4.5h-19.8zM28.9 91.2h10.0v4.5h-10.0zM33.7 99.9h10.0v4.5h-10.0zM77.8 99.9h5.1v4.5h-5.1zM38.6 104.2h5.1v4.5h-5.1zM38.6 108.6h5.1v4.5h-5.1z"/>
<path fill="#898989" d="M38.6 -21.7h5.1v4.5h-5.1zM38.6 -17.4h5.1v4.5h-5.1zM38.6 -13.0h5.1v4.5h-5.1zM38.6 -8.7h5.1v4.5h-5.1zM38.6 -4.3h5.1v4.5h-5.1zM38.6 0.0h5.1v4.5h-5.1zM38.6 4.3h5.1v4.5h-5.1zM38.6 8.7h5.1v4.5h-5.1zM38.6 13.0h5.1v4.5h-5.1zM38.6 17.4h5.1v4.5h-5.1zM38.6 21.7h5.1v4.5h-5.1zM-24.9 34.8h39.3v4.5h-39.3zM38.6 34.8h5.1v4.5h-5.1zM107.1 73.8h5.1v4.5h-5.1zM87.5 82.5h5.1v4.5h-5.1zM24.0 91.2h5.1v4.5h-5.1zM24.0 95.6h5.1v4.5h-5.1zM72.9 95.6h5.1v4.5h-5.1zM28.9 99.9h5.1v4.5h-5.1zM48.4 99.9h29.5v4.5h-29.5zM28.9 104.2h5.1v4.5h-5.1zM24.0 112.9h5.1v4.5h-5.1zM19.1 126.0h5.1v4.5h-5.1zM14.2 130.3h5.1v4.5h-5.1z"/>
<path fill="#838383" d="M43.5 -21.7h5.1v4.5h-5.1zM43.5 -17.4h5.1v4.5h-5.1zM43.5 -13.0h5.1v4.5h-5.1zM43.5 -8.7h5.1v4.5h-5.1zM43.5 -4.3h5.1v4.5h-5.1zM43.5 0.0h5.1v4.5h-5.1zM43.5 4.3h5.1v4.5h-5.1zM43.5 8.7h5.1v4.5h-5.1zM43.5 13.0h5.1v4.5h-5.1zM43.5 17.4h5.1v4.5h-5.1zM43.5 21.7h5.1v4.5h-5.1zM43.5 26.1h5.1v4.5h-5.1zM43.5 30.4h5.1v4.5h-5.1zM43.5 34.8h5.1v4.5h-5.1zM9.3 39.1h34.4v4.5h-34.4zM112.0 69.5h5.1v4.5h-5.1zM24.0 86.9h5.1v4.5h-5.1zM19.1 91.2h5.1v4.5h-5.1zM19.1 95.6h5.1v4.5h-5.1zM53.3 95.6h10.0v4.5h-10.0zM68.0 95.6h5.1v4.5h-5.1zM19.1 99.9h5.1v4.5h-5.1z"/>
<path fill="#7e7e7e" d="M48.4 -21.7h5.1v4.5h-5.1zM58.2 -21.7h5.1v4.5h-5.1zM48.4 -17.4h5.1v4.5h-5.1zM58.2 -17.4h5.1v4.5h-5.1zM48.4 -13.0h5.1v4.5h-5.1zM58.2 -13.0h5.1v4.5h-5.1zM48.4 -8.7h5.1v4.5h-5.1zM58.2 -8.7h5.1v4.5h-5.1zM48.4 -4.3h5.1v4.5h-5.1zM58.2 -4.3h5.1v4.5h-5.1zM48.4 0.0h5.1v4.5h-5.1zM58.2 0.0h5.1v4.5h-5.1zM48.4 4.3h5.1v4.5h-5.1zM58.2 4.3h5.1v4.5h-5.1zM48.4 8.7h5.1v4.5h-5.1zM58.2 8.7h5.1v4.5h-5.1zM48.4 13.0h5.1v4.5h-5.1zM58.2 13.0h5.1v4.5h-5.1zM48.4 17.4h5.1v4.5h-5.1zM58.2 17.4h5.1v4.5h-5.1zM48.4 21.7h5.1v4.5h-5.1zM58.2 21.7h5.1v4.5h-5.1zM48.4 26.1h5.1v4.5h-5.1zM58.2 26.1h5.1v4.5h-5.1zM48.4 30.4h5.1v4.5h-5.1zM58.2 30.4h5.1v4.5h-5.1zM48.4 34.8h10.0v4.5h-10.0zM48.4 39.1h5.1v4.5h-5.1zM-24.9 43.4h39.3v4.5h-39.3zM43.5 43.4h5.1v4.5h-5.1zM-5.4 47.8h5.1v4.5h-5.1zM9.3 47.8h5.1v4.5h-5.1zM-24.9 52.1h34.4v4.5h-34.4zM107.1 69.5h5.1v4.5h-5.1zM82.6 78.2h10.0v4.5h-10.0zM19.1 82.5h5.1v4.5h-5.1zM14.2 86.9h5.1v4.5h-5.1zM63.1 86.9h5.1v4.5h-5.1zM4.4 91.2h14.9v4.5h-14.9zM58.2 91.2h10.0v4.5h-10.0zM4.4 95.6h14.9v4.5h-14.9zM14.2 99.9h5.1v4.5h-5.1zM19.1 108.6h5.1v4.5h-5.1z"/>
<path fill="#818181" d="M53.3 -21.7h5.1v4.5h-5.1zM53.3 -17.4h5.1v4.5h-5.1zM53.3 -13.0h5.1v4.5h-5.1zM53.3 -8.7h5.1v4.5h-5.1zM53.3 -4.3h5.1v4.5h-5.1zM53.3 0.0h5.1v4.5h-5.1zM53.3 4.3h5.1v4.5h-5.1zM53.3 8.7h5.1v4.5h-5.1zM53.3 13.0h5.1v4.5h-5.1zM53.3 17.4h5.1v4.5h-5.1zM53.3 21.7h5.1v4.5h-5.1zM53.3 26.1h5.1v4.5h-5.1zM53.3 30.4h5.1v4.5h-5.1zM-24.9 39.1h34.4v4.5h-34.4zM43.5 39.1h5.1v4.5h-5.1zM-24.9 47.8h19.8v4.5h-19.8zM-0.5 47.8h10.0v4.5h-10.0zM92.4 78.2h5.1v4.5h-5.1zM77.8 82.5h5.1v4.5h-5.1zM19.1 86.9h5.1v4.5h-5.1zM38.6 86.9h5.1v4.5h-5.1zM68.0 86.9h10.0v4.5h-10.0zM43.5 91.2h5.1v4.5h-5.1zM68.0 91.2h5.1v4.5h-5.1zM48.4 95.6h5.1v4.5h-5.1zM63.1 95.6h5.1v4.5h-5.1zM19.1 104.2h5.1v4.5h-5.1zM19.1 121.6h5.1v4.5h-5.1zM14.2 126.0h5.1v4.5h-5.1zM9.3 130.3h5.1v4.5h-5.1zM4.4 134.7h5.1v4.5h-5.1z"/>
<path fill="#767676" d="M63.1 -21.7h5.1v4.5h-5.1zM63.1 -17.4h5.1v4.5h-5.1zM63.1 -13.0h5.1v4.5h-5.1zM63.1 -8.7h5.1v4.5h-5.1zM63.1 -4.3h5.1v4.5h-5.1zM63.1 0.0h5.1v4.5h-5.1zM63.1 4.3h5.1v4.5h-5.1zM63.1 8.7h5.1v4.5h-5.1zM63.1 13.0h5.1v4.5h-5.1zM63.1 17.4h5.1v4.5h-5.1zM63.1 21.7h5.1v4.5h-5.1zM63.1 26.1h5.1v4.5h-5.1zM63.1 30.4h5.1v4.5h-5.1zM63.1 34.8h5.1v4.5h-5.1zM63.1 39.1h5.1v4.5h-5.1zM53.3 47.8h5.1v4.5h-5.1zM112.0 65.2h5.1v4.5h-5.1zM102.2 69.5h5.1v4.5h-5.1zM68.0 78.2h5.1v4.5h-5.1zM53.3 82.5h5.1v4.5h-5.1zM14.2 112.9h5.1v4.5h-5.1zM14.2 117.3h5.1v4.5h-5.1zM4.4 126.0h5.1v4.5h-5.1z"/>
<path fill="#6e6e6e" d="M68.0 -21.7h5.1v4.5h-5.1zM68.0 -17.4h5.1v4.5h-5.1zM68.0 -13.0h5.1v4.5h-5.1zM68.0 -8.7h5.1v4.5h-5.1zM68.0 -4.3h5.1v4.5h-5.1zM68.0 0.0h5.1v4.5h-5.1zM68.0 4.3h5.1v4.5h-5.1zM68.0 8.7h5.1v4.5h-5.1zM68.0 13.0h5.1v4.5h-5.1zM68.0 17.4h5.1v4.5h-5.1zM68.0 21.7h5.1v4.5h-5.1zM68.0 26.1h5.1v4.5h-5.1zM68.0 30.4h5.1v4.5h-5.1zM68.0 34.8h5.1v4.5h-5.1zM58.2 52.1h5.1v4.5h-5.1zM68.0 56.5h5.1v4.5h-5.1zM107.1 65.2h5.1v4.5h-5.1zM97.3 69.5h5.1v4.5h-5.1z"/>
<path fill="#686868" d="M72.9 -21.7h5.1v4.5h-5.1zM72.9 -17.4h5.1v4.5h-5.1zM72.9 -13.0h5.1v4.5h-5.1zM72.9 -8.7h5.1v4.5h-5.1zM72.9 -4.3h5.1v4.5h-5.1zM72.9 0.0h5.1v4.5h-5.1zM72.9 4.3h5.1v4.5h-5.1zM72.9 8.7h5.1v4.5h-5.1zM72.9 13.0h5.1v4.5h-5.1zM72.9 17.4h5.1v4.5h-5.1zM72.9 21.7h5.1v4.5h-5.1zM72.9 26.1h5.1v4.5h-5.1zM72.9 30.4h5.1v4.5h-5.1zM72.9 34.8h5.1v4.5h-5.1zM72.9 39.1h5.1v4.5h-5.1zM82.6 39.1h5.1v4.5h-5.1zM72.9 43.4h5.1v4.5h-5.1zM63.1 52.1h5.1v4.5h-5.1zM72.9 52.1h5.1v4.5h-5.1zM112.0 60.8h5.1v4.5h-5.1zM72.9 65.2h5.1v4.5h-5.1zM77.8 69.5h5.1v4.5h-5.1z"/>
<path fill="#646464" d="M77.8 -21.7h5.1v4.5h-5.1zM97.3 -21.7h10.0v4.5h-10.0zM77.8 -17.4h5.1v4.5h-5.1zM97.3 -17.4h10.0v4.5h-10.0zM77.8 -13.0h5.1v4.5h-5.1zM97.3 -13.0h10.0v4.5h-10.0zM77.8 -8.7h5.1v4.5h-5.1zM97.3 -8.7h10.0v4.5h-10.0zM77.8 -4.3h5.1v4.5h-5.1zM97.3 -4.3h10.0v4.5h-10.0zM77.8 0.0h5.1v4.5h-5.1zM97.3 0.0h10.0v4.5h-10.0zM77.8 4.3h5.1v4.5h-5.1zM92.4 4.3h10.0v4.5h-10.0zM77.8 8.7h5.1v4.5h-5.1zM92.4 8.7h5.1v4.5h-5.1zM77.8 13.0h5.1v4.5h-5.1zM92.4 13.0h5.1v4.5h-5.1zM77.8 17.4h5.1v4.5h-5.1zM92.4 17.4h5.1v4.5h-5.1zM77.8 21.7h5.1v4.5h-5.1zM87.5 21.7h5.1v4.5h-5.1zM87.5 26.1h5.1v4.5h-5.1zM87.5 30.4h5.1v4.5h-5.1zM87.5 34.8h5.1v4.5h-5.1zM87.5 39.1h5.1v4.5h-5.1zM77.8 43.4h10.0v4.5h-10.0zM77.8 47.8h5.1v4.5h-5.1zM131.5 47.8h29.5v4.5h-29.5zM131.5 52.1h29.5v4.5h-29.5zM116.9 56.5h10.0v4.5h-10.0zM131.5 56.5h29.5v4.5h-29.5z"/>
<path fill="#666666" d="M82.6 -21.7h14.9v4.5h-14.9zM82.6 -17.4h14.9v4.5h-14.9zM82.6 -13.0h14.9v4.5h-14.9zM82.6 -8.7h14.9v4.5h-14.9zM82.6 -4.3h14.9v4.5h-14.9zM82.6 0.0h14.9v4.5h-14.9zM82.6 4.3h10.0v4.5h-10.0zM82.6 8.7h10.0v4.5h-10.0zM82.6 13.0h10.0v4.5h-10.0zM82.6 17.4h10.0v4.5h-10.0zM82.6 21.7h5.1v4.5h-5.1zM77.8 26.1h10.0v4.5h-10.0zM77.8 30.4h10.0v4.5h-10.0zM77.8 34.8h10.0v4.5h-10.0zM77.8 39.1h5.1v4.5h-5.1zM68.0 47.8h10.0v4.5h-10.0zM68.0 52.1h5.1v4.5h-5.1zM102.2 65.2h5.1v4.5h-5.1z"/>
<path fill="#626262" d="M107.1 -21.7h10.0v4.5h-10.0zM107.1 -17.4h10.0v4.5h-10.0zM107.1 -13.0h10.0v4.5h-10.0zM107.1 -8.7h10.0v4.5h-10.0zM107.1 -4.3h14.9v4.5h-14.9zM107.1 0.0h10.0v4.5h-10.0zM102.2 4.3h10.0v4.5h-10.0zM97.3 8.7h10.0v4.5h-10.0zM97.3 13.0h5.1v4.5h-5.1zM92.4 21.7h5.1v4.5h-5.1zM136.4 39.1h5.1v4.5h-5.1zM126.7 43.4h34.4v4.5h-34.4zM121.8 47.8h10.0v4.5h-10.0zM77.8 52.1h5.1v4.5h-5.1zM121.8 52.1h10.0v4.5h-10.0zM77.8 56.5h5.1v4.5h-5.1zM126.7 56.5h5.1v4.5h-5.1zM77.8 60.8h5.1v4.5h-5.1zM77.8 65.2h14.9v4.5h-14.9zM97.3 65.2h5.1v4.5h-5.1z"/>
<path fill="#606060" d="M116.9 -21.7h14.9v4.5h-14.9zM116.9 -17.4h14.9v4.5h-14.9zM116.9 -13.0h14.9v4.5h-14.9zM116.9 -8.7h14.9v4.5h-14.9zM121.8 -4.3h10.0v4.5h-10.0zM116.9 0.0h14.9v4.5h-14.9zM112.0 4.3h10.0v4.5h-10.0zM107.1 8.7h10.0v4.5h-10.0zM102.2 13.0h10.0v4.5h-10.0zM97.3 17.4h10.0v4.5h-10.0zM97.3 21.7h5.1v4.5h-5.1zM92.4 26.1h5.1v4.5h-5.1zM131.5 34.8h29.5v4.5h-29.5zM126.7 39.1h10.0v4.5h-10.0zM141.3 39.1h19.8v4.5h-19.8zM87.5 43.4h5.1v4.5h-5.1zM121.8 43.4h5.1v4.5h-5.1zM116.9 47.8h5.1v4.5h-5.1zM116.9 52.1h5.1v4.5h-5.1zM112.0 56.5h5.1v4.5h-5.1zM107.1 60.8h5.1v4.5h-5.1zM92.4 65.2h5.1v4.5h-5.1z"/>
<path fill="#5e5e5e" d="M131.5 -21.7h29.5v4.5h-29.5zM131.5 -17.4h29.5v4.5h-29.5zM131.5 -13.0h29.5v4.5h-29.5zM131.5 -8.7h29.5v4.5h-29.5zM131.5 -4.3h29.5v4.5h-29.5zM131.5 0.0h29.5v4.5h-29.5zM121.8 4.3h39.3v4.5h-39.3zM116.9 8.7h44.2v4.5h-44.2zM112.0 13.0h14.9v4.5h-14.9zM131.5 13.0h29.5v4.5h-29.5zM107.1 17.4h10.0v4.5h-10.0zM131.5 17.4h29.5v4.5h-29.5zM102.2 21.7h5.1v4.5h-5.1zM131.5 21.7h29.5v4.5h-29.5zM131.5 26.1h29.5v4.5h-29.5zM126.7 30.4h34.4v4.5h-34.4zM126.7 34.8h5.1v4.5h-5.1zM121.8 39.1h5.1v4.5h-5.1zM116.9 43.4h5.1v4.5h-5.1zM82.6 47.8h5.1v4.5h-5.1zM112.0 47.8h5.1v4.5h-5.1zM112.0 52.1h5.1v4.5h-5.1z"/>
<path fill="#5c5c5c" d="M126.7 13.0h5.1v4.5h-5.1zM116.9 17.4h14.9v4.5h-14.9zM107.1 21.7h24.7v4.5h-24.7zM97.3 26.1h14.9v4.5h-14.9zM116.9 26.1h14.9v4.5h-14.9zM92.4 30.4h5.1v4.5h-5.1zM121.8 30.4h5.1v4.5h-5.1zM92.4 34.8h5.1v4.5h-5.1zM116.9 34.8h10.0v4.5h-10.0zM92.4 39.1h5.1v4.5h-5.1zM116.9 39.1h5.1v4.5h-5.1zM92.4 43.4h5.1v4.5h-5.1zM112.0 43.4h5.1v4.5h-5.1zM82.6 60.8h5.1v4.5h-5.1zM102.2 60.8h5.1v4.5h-5.1z"/>
<path fill="#959595" d="M9.3 26.1h5.1v4.5h-5.1zM102.2 82.5h5.1v4.5h-5.1zM97.3 86.9h5.1v4.5h-5.1zM116.9 86.9h14.9v4.5h-14.9zM82.6 91.2h5.1v4.5h-5.1zM82.6 99.9h5.1v4.5h-5.1zM43.5 108.6h5.1v4.5h-5.1zM63.1 108.6h5.1v4.5h-5.1zM28.9 117.3h5.1v4.5h-5.1zM24.0 126.0h5.1v4.5h-5.1z"/>
<path fill="#5a5a5a" d="M112.0 26.1h5.1v4.5h-5.1zM107.1 30.4h14.9v4.5h-14.9zM107.1 34.8h10.0v4.5h-10.0zM107.1 39.1h10.0v4.5h-10.0zM107.1 43.4h5.1v4.5h-5.1zM87.5 47.8h10.0v4.5h-10.0zM107.1 47.8h5.1v4.5h-5.1zM82.6 52.1h5.1v4.5h-5.1zM107.1 52.1h5.1v4.5h-5.1zM82.6 56.5h5.1v4.5h-5.1zM107.1 56.5h5.1v4.5h-5.1zM87.5 60.8h14.9v4.5h-14.9z"/>
<path fill="#919191" d="M-24.9 30.4h39.3v4.5h-39.3zM107.1 78.2h5.1v4.5h-5.1zM48.4 104.2h29.5v4.5h-29.5zM28.9 112.9h5.1v4.5h-5.1zM38.6 112.9h5.1v4.5h-5.1zM9.3 139.0h5.1v4.5h-5.1z"/>
<path fill="#585858" d="M97.3 30.4h10.0v4.5h-10.0zM102.2 34.8h5.1v4.5h-5.1zM102.2 39.1h5.1v4.5h-5.1zM97.3 43.4h10.0v4.5h-10.0zM97.3 47.8h10.0v4.5h-10.0zM92.4 52.1h14.9v4.5h-14.9zM92.4 56.5h10.0v4.5h-10.0z"/>
<path fill="#7c7c7c" d="M58.2 34.8h5.1v4.5h-5.1zM53.3 39.1h5.1v4.5h-5.1zM14.2 43.4h29.5v4.5h-29.5zM48.4 43.4h5.1v4.5h-5.1zM9.3 52.1h5.1v4.5h-5.1zM97.3 73.8h5.1v4.5h-5.1zM77.8 78.2h5.1v4.5h-5.1zM14.2 82.5h5.1v4.5h-5.1zM24.0 82.5h19.8v4.5h-19.8zM63.1 82.5h14.9v4.5h-14.9zM9.3 86.9h5.1v4.5h-5.1zM43.5 86.9h5.1v4.5h-5.1zM58.2 86.9h5.1v4.5h-5.1zM48.4 91.2h10.0v4.5h-10.0zM9.3 99.9h5.1v4.5h-5.1zM14.2 104.2h5.1v4.5h-5.1zM19.1 112.9h5.1v4.5h-5.1zM19.1 117.3h5.1v4.5h-5.1zM-0.5 139.0h5.1v4.5h-5.1zM-0.5 143.3h5.1v4.5h-5.1zM-0.5 147.7h5.1v4.5h-5.1zM-0.5 152.0h5.1v4.5h-5.1zM-0.5 156.4h5.1v4.5h-5.1z"/>
<path fill="#565656" d="M97.3 34.8h5.1v4.5h-5.1zM97.3 39.1h5.1v4.5h-5.1zM87.5 52.1h5.1v4.5h-5.1zM87.5 56.5h5.1v4.5h-5.1zM102.2 56.5h5.1v4.5h-5.1z"/>
<path fill="#7a7a7a" d="M58.2 39.1h5.1v4.5h-5.1zM14.2 47.8h5.1v4.5h-5.1zM24.0 47.8h29.5v4.5h-29.5zM14.2 52.1h5.1v4.5h-5.1zM-24.9 56.5h39.3v4.5h-39.3zM38.6 60.8h10.0v4.5h-10.0zM38.6 65.2h10.0v4.5h-10.0zM116.9 65.2h10.0v4.5h-10.0zM43.5 69.5h5.1v4.5h-5.1zM4.4 73.8h5.1v4.5h-5.1zM43.5 73.8h5.1v4.5h-5.1zM14.2 78.2h34.4v4.5h-34.4zM72.9 78.2h5.1v4.5h-5.1zM9.3 82.5h5.1v4.5h-5.1zM43.5 82.5h5.1v4.5h-5.1zM4.4 86.9h5.1v4.5h-5.1zM-0.5 91.2h5.1v4.5h-5.1zM-0.5 95.6h5.1v4.5h-5.1zM4.4 99.9h5.1v4.5h-5.1zM-0.5 112.9h10.0v4.5h-10.0zM-0.5 117.3h10.0v4.5h-10.0zM4.4 130.3h5.1v4.5h-5.1zM-0.5 134.7h5.1v4.5h-5.1z"/>
<path fill="#707070" d="M68.0 39.1h5.1v4.5h-5.1zM58.2 47.8h5.1v4.5h-5.1zM58.2 56.5h10.0v4.5h-10.0zM68.0 65.2h5.1v4.5h-5.1zM68.0 69.5h5.1v4.5h-5.1zM58.2 73.8h10.0v4.5h-10.0z"/>
<path fill="#787878" d="M53.3 43.4h5.1v4.5h-5.1zM19.1 47.8h5.1v4.5h-5.1zM19.1 52.1h34.4v4.5h-34.4zM14.2 56.5h39.3v4.5h-39.3zM-24.9 60.8h63.8v4.5h-63.8zM48.4 60.8h5.1v4.5h-5.1zM-24.9 65.2h63.8v4.5h-63.8zM48.4 65.2h5.1v4.5h-5.1zM126.7 65.2h34.4v4.5h-34.4zM-24.9 69.5h68.7v4.5h-68.7zM48.4 69.5h5.1v4.5h-5.1zM-24.9 73.8h29.5v4.5h-29.5zM9.3 73.8h34.4v4.5h-34.4zM48.4 73.8h5.1v4.5h-5.1zM92.4 73.8h5.1v4.5h-5.1zM-24.9 78.2h39.3v4.5h-39.3zM48.4 78.2h5.1v4.5h-5.1zM-24.9 82.5h34.4v4.5h-34.4zM48.4 82.5h5.1v4.5h-5.1zM58.2 82.5h5.1v4.5h-5.1zM-24.9 86.9h29.5v4.5h-29.5zM48.4 86.9h10.0v4.5h-10.0zM-24.9 91.2h24.7v4.5h-24.7zM-24.9 95.6h24.7v4.5h-24.7zM-24.9 99.9h29.5v4.5h-29.5zM-24.9 104.2h39.3v4.5h-39.3zM-24.9 108.6h44.2v4.5h-44.2zM-24.9 112.9h24.7v4.5h-24.7zM9.3 112.9h5.1v4.5h-5.1zM-24.9 117.3h24.7v4.5h-24.7zM9.3 117.3h5.1v4.5h-5.1zM-24.9 121.6h44.2v4.5h-44.2zM-24.9 126.0h29.5v4.5h-29.5zM9.3 126.0h5.1v4.5h-5.1zM-24.9 130.3h29.5v4.5h-29.5zM-24.9 134.7h24.7v4.5h-24.7zM-24.9 139.0h24.7v4.5h-24.7zM-24.9 143.3h24.7v4.5h-24.7zM-24.9 147.7h24.7v4.5h-24.7zM-24.9 152.0h24.7v4.5h-24.7zM-24.9 156.4h24.7v4.5h-24.7z"/>
<path fill="#747474" d="M58.2 43.4h5.1v4.5h-5.1zM53.3 52.1h5.1v4.5h-5.1zM53.3 56.5h5.1v4.5h-5.1zM53.3 60.8h5.1v4.5h-5.1zM63.1 60.8h5.1v4.5h-5.1zM53.3 65.2h5.1v4.5h-5.1zM63.1 65.2h5.1v4.5h-5.1zM53.3 69.5h5.1v4.5h-5.1zM53.3 73.8h5.1v4.5h-5.1zM72.9 73.8h19.8v4.5h-19.8zM53.3 78.2h14.9v4.5h-14.9z"/>
<path fill="#727272" d="M63.1 43.4h5.1v4.5h-5.1zM58.2 60.8h5.1v4.5h-5.1zM68.0 60.8h5.1v4.5h-5.1zM58.2 65.2h5.1v4.5h-5.1zM58.2 69.5h10.0v4.5h-10.0zM68.0 73.8h5.1v4.5h-5.1z"/>
<path fill="#6c6c6c" d="M68.0 43.4h5.1v4.5h-5.1zM116.9 60.8h10.0v4.5h-10.0zM72.9 69.5h5.1v4.5h-5.1z"/>
<path fill="#6a6a6a" d="M63.1 47.8h5.1v4.5h-5.1zM72.9 56.5h5.1v4.5h-5.1zM72.9 60.8h5.1v4.5h-5.1zM126.7 60.8h34.4v4.5h-34.4zM82.6 69.5h14.9v4.5h-14.9z"/>
<path fill="#858585" d="M116.9 69.5h44.2v4.5h-44.2zM102.2 73.8h5.1v4.5h-5.1zM28.9 86.9h10.0v4.5h-10.0zM43.5 95.6h5.1v4.5h-5.1zM24.0 99.9h5.1v4.5h-5.1zM24.0 104.2h5.1v4.5h-5.1zM4.4 139.0h5.1v4.5h-5.1zM4.4 143.3h5.1v4.5h-5.1zM4.4 147.7h5.1v4.5h-5.1zM4.4 152.0h5.1v4.5h-5.1zM4.4 156.4h5.1v4.5h-5.1z"/>
<path fill="#878787" d="M97.3 78.2h5.1v4.5h-5.1zM82.6 82.5h5.1v4.5h-5.1zM92.4 82.5h5.1v4.5h-5.1zM77.8 86.9h5.1v4.5h-5.1zM38.6 91.2h5.1v4.5h-5.1zM72.9 91.2h5.1v4.5h-5.1zM24.0 108.6h5.1v4.5h-5.1z"/>
<path fill="#939393" d="M112.0 82.5h5.1v4.5h-5.1zM87.5 86.9h10.0v4.5h-10.0zM131.5 86.9h29.5v4.5h-29.5zM77.8 104.2h5.1v4.5h-5.1zM19.1 130.3h5.1v4.5h-5.1zM14.2 134.7h5.1v4.5h-5.1z"/>
<path fill="#9d9d9d" d="M107.1 86.9h5.1v4.5h-5.1zM87.5 95.6h5.1v4.5h-5.1zM87.5 99.9h5.1v4.5h-5.1zM48.4 130.3h5.1v4.5h-5.1z"/>
<path fill="#9f9f9f" d="M92.4 91.2h5.1v4.5h-5.1zM87.5 104.2h5.1v4.5h-5.1zM72.9 108.6h5.1v4.5h-5.1zM58.2 121.6h5.1v4.5h-5.1z"/>
<path fill="#a3a3a3" d="M97.3 91.2h14.9v4.5h-14.9zM92.4 99.9h5.1v4.5h-5.1zM53.3 134.7h5.1v4.5h-5.1zM53.3 147.7h5.1v4.5h-5.1zM53.3 152.0h5.1v4.5h-5.1zM53.3 156.4h5.1v4.5h-5.1z"/>
<path fill="#a1a1a1" d="M112.0 91.2h49.1v4.5h-49.1zM77.8 108.6h10.0v4.5h-10.0zM68.0 112.9h5.1v4.5h-5.1zM63.1 117.3h5.1v4.5h-5.1zM53.3 126.0h5.1v4.5h-5.1zM53.3 139.0h5.1v4.5h-5.1zM53.3 143.3h5.1v4.5h-5.1z"/>
<path fill="#a5a5a5" d="M92.4 95.6h5.1v4.5h-5.1zM92.4 104.2h5.1v4.5h-5.1zM87.5 108.6h5.1v4.5h-5.1zM68.0 117.3h10.0v4.5h-10.0zM63.1 121.6h5.1v4.5h-5.1zM58.2 126.0h10.0v4.5h-10.0zM53.3 130.3h5.1v4.5h-5.1z"/>
<path fill="#a9a9a9" d="M97.3 95.6h63.8v4.5h-63.8zM97.3 99.9h5.1v4.5h-5.1zM77.8 112.9h10.0v4.5h-10.0zM58.2 130.3h10.0v4.5h-10.0z"/>
<path fill="#afafaf" d="M102.2 99.9h5.1v4.5h-5.1zM112.0 99.9h49.1v4.5h-49.1zM63.1 134.7h5.1v4.5h-5.1z"/>
<path fill="#b1b1b1" d="M107.1 99.9h5.1v4.5h-5.1zM72.9 130.3h5.1v4.5h-5.1zM68.0 134.7h5.1v4.5h-5.1zM63.1 143.3h5.1v4.5h-5.1zM63.1 147.7h5.1v4.5h-5.1zM63.1 152.0h5.1v4.5h-5.1zM63.1 156.4h5.1v4.5h-5.1z"/>
<path fill="#ababab" d="M97.3 104.2h5.1v4.5h-5.1zM92.4 108.6h5.1v4.5h-5.1zM87.5 112.9h5.1v4.5h-5.1zM77.8 121.6h5.1v4.5h-5.1zM68.0 130.3h5.1v4.5h-5.1zM58.2 134.7h5.1v4.5h-5.1zM58.2 139.0h5.1v4.5h-5.1zM58.2 143.3h5.1v4.5h-5.1zM58.2 147.7h5.1v4.5h-5.1zM58.2 152.0h5.1v4.5h-5.1zM58.2 156.4h5.1v4.5h-5.1z"/>
<path fill="#b3b3b3" d="M102.2 104.2h5.1v4.5h-5.1zM97.3 108.6h5.1v4.5h-5.1zM92.4 112.9h5.1v4.5h-5.1zM87.5 117.3h5.1v4.5h-5.1zM82.6 121.6h5.1v4.5h-5.1zM77.8 126.0h5.1v4.5h-5.1zM72.9 134.7h5.1v4.5h-5.1zM63.1 139.0h5.1v4.5h-5.1zM72.9 139.0h5.1v4.5h-5.1zM68.0 143.3h10.0v4.5h-10.0zM68.0 147.7h10.0v4.5h-10.0zM68.0 152.0h10.0v4.5h-10.0zM68.0 156.4h10.0v4.5h-10.0z"/>
<path fill="#b7b7b7" d="M107.1 104.2h19.8v4.5h-19.8zM77.8 134.7h5.1v4.5h-5.1z"/>
<path fill="#b9b9b9" d="M126.7 104.2h34.4v4.5h-34.4zM102.2 108.6h5.1v4.5h-5.1zM87.5 121.6h5.1v4.5h-5.1zM77.8 130.3h5.1v4.5h-5.1z"/>
<path fill="#bfbfbf" d="M107.1 108.6h5.1v4.5h-5.1zM87.5 126.0h10.0v4.5h-10.0zM82.6 130.3h5.1v4.5h-5.1z"/>
<path fill="#c1c1c1" d="M112.0 108.6h5.1v4.5h-5.1zM102.2 112.9h5.1v4.5h-5.1zM97.3 117.3h5.1v4.5h-5.1zM97.3 126.0h5.1v4.5h-5.1zM87.5 130.3h10.0v4.5h-10.0z"/>
<path fill="#c3c3c3" d="M116.9 108.6h10.0v4.5h-10.0zM97.3 121.6h5.1v4.5h-5.1zM97.3 130.3h5.1v4.5h-5.1zM87.5 134.7h5.1v4.5h-5.1zM87.5 139.0h5.1v4.5h-5.1zM87.5 143.3h5.1v4.5h-5.1zM87.5 147.7h5.1v4.5h-5.1zM87.5 152.0h5.1v4.5h-5.1zM87.5 156.4h5.1v4.5h-5.1z"/>
<path fill="#c5c5c5" d="M126.7 108.6h34.4v4.5h-34.4zM107.1 112.9h5.1v4.5h-5.1z"/>
<path fill="#a7a7a7" d="M72.9 112.9h5.1v4.5h-5.1zM77.8 117.3h5.1v4.5h-5.1zM68.0 121.6h10.0v4.5h-10.0zM68.0 126.0h5.1v4.5h-5.1z"/>
<path fill="#bbbbbb" d="M97.3 112.9h5.1v4.5h-5.1zM92.4 117.3h5.1v4.5h-5.1zM82.6 126.0h5.1v4.5h-5.1zM82.6 139.0h5.1v4.5h-5.1zM82.6 143.3h5.1v4.5h-5.1zM82.6 147.7h5.1v4.5h-5.1zM82.6 152.0h5.1v4.5h-5.1zM82.6 156.4h5.1v4.5h-5.1z"/>
<path fill="#c7c7c7" d="M112.0 112.9h5.1v4.5h-5.1zM102.2 126.0h5.1v4.5h-5.1zM92.4 134.7h5.1v4.5h-5.1z"/>
<path fill="#c9c9c9" d="M116.9 112.9h5.1v4.5h-5.1zM102.2 117.3h5.1v4.5h-5.1zM102.2 121.6h5.1v4.5h-5.1zM92.4 143.3h5.1v4.5h-5.1zM92.4 147.7h5.1v4.5h-5.1zM92.4 152.0h5.1v4.5h-5.1zM92.4 156.4h5.1v4.5h-5.1z"/>
<path fill="#cbcbcb" d="M121.8 112.9h10.0v4.5h-10.0zM107.1 117.3h24.7v4.5h-24.7zM102.2 130.3h5.1v4.5h-5.1zM97.3 134.7h5.1v4.5h-5.1zM92.4 139.0h5.1v4.5h-5.1z"/>
<path fill="#cdcdcd" d="M131.5 112.9h29.5v4.5h-29.5zM131.5 117.3h29.5v4.5h-29.5zM126.7 121.6h34.4v4.5h-34.4z"/>
<path fill="#adadad" d="M82.6 117.3h5.1v4.5h-5.1zM72.9 126.0h5.1v4.5h-5.1z"/>
<path fill="#bdbdbd" d="M92.4 121.6h5.1v4.5h-5.1zM82.6 134.7h5.1v4.5h-5.1z"/>
<path fill="#cfcfcf" d="M107.1 121.6h19.8v4.5h-19.8zM107.1 126.0h5.1v4.5h-5.1zM97.3 143.3h5.1v4.5h-5.1zM97.3 147.7h5.1v4.5h-5.1zM97.3 152.0h5.1v4.5h-5.1zM97.3 156.4h5.1v4.5h-5.1z"/>
<path fill="#d3d3d3" d="M112.0 126.0h5.1v4.5h-5.1zM107.1 130.3h5.1v4.5h-5.1zM102.2 134.7h5.1v4.5h-5.1z"/>
<path fill="#d5d5d5" d="M116.9 126.0h44.2v4.5h-44.2zM102.2 147.7h5.1v4.5h-5.1zM102.2 152.0h5.1v4.5h-5.1zM102.2 156.4h5.1v4.5h-5.1z"/>
<path fill="#dbdbdb" d="M112.0 130.3h5.1v4.5h-5.1z"/>
<path fill="#dddddd" d="M116.9 130.3h44.2v4.5h-44.2zM107.1 139.0h5.1v4.5h-5.1zM107.1 143.3h5.1v4.5h-5.1zM107.1 147.7h5.1v4.5h-5.1zM107.1 152.0h5.1v4.5h-5.1zM107.1 156.4h5.1v4.5h-5.1z"/>
<path fill="#d9d9d9" d="M107.1 134.7h5.1v4.5h-5.1z"/>
<path fill="#e1e1e1" d="M112.0 134.7h5.1v4.5h-5.1z"/>
<path fill="#e5e5e5" d="M116.9 134.7h10.0v4.5h-10.0zM112.0 139.0h5.1v4.5h-5.1zM126.7 143.3h10.0v4.5h-10.0zM121.8 147.7h39.3v4.5h-39.3zM126.7 152.0h34.4v4.5h-34.4zM126.7 156.4h34.4v4.5h-34.4z"/>
<path fill="#e3e3e3" d="M126.7 134.7h34.4v4.5h-34.4zM112.0 143.3h5.1v4.5h-5.1zM112.0 147.7h5.1v4.5h-5.1zM112.0 152.0h5.1v4.5h-5.1zM112.0 156.4h5.1v4.5h-5.1z"/>
<path fill="#b5b5b5" d="M68.0 139.0h5.1v4.5h-5.1zM77.8 139.0h5.1v4.5h-5.1zM77.8 143.3h5.1v4.5h-5.1zM77.8 147.7h5.1v4.5h-5.1zM77.8 152.0h5.1v4.5h-5.1zM77.8 156.4h5.1v4.5h-5.1z"/>
<path fill="#d1d1d1" d="M97.3 139.0h5.1v4.5h-5.1z"/>
<path fill="#d7d7d7" d="M102.2 139.0h5.1v4.5h-5.1zM102.2 143.3h5.1v4.5h-5.1z"/>
<path fill="#e7e7e7" d="M116.9 139.0h44.2v4.5h-44.2zM116.9 143.3h10.0v4.5h-10.0zM136.4 143.3h24.7v4.5h-24.7zM116.9 147.7h5.1v4.5h-5.1zM116.9 152.0h10.0v4.5h-10.0zM116.9 156.4h10.0v4.5h-10.0z"/>
</g></g>
<path d="M1.0,53.9C2.2,53.0 5.6,50.2 8.0,48.5C10.4,46.8 12.8,45.0 15.1,43.8C17.4,42.5 19.7,41.7 22.0,41.0C24.3,40.3 26.9,39.9 29.2,39.8C31.5,39.7 33.7,40.0 36.0,40.5C38.3,41.0 41.5,42.1 43.3,42.8C45.1,43.5 46.0,44.2 47.0,44.5C48.0,44.8 48.6,45.0 49.4,44.8C50.2,44.6 51.2,44.3 52.0,43.5C52.8,42.7 53.6,41.3 54.4,39.8C55.1,38.3 56.0,36.2 56.5,34.5C57.0,32.8 57.1,31.5 57.4,29.7C57.7,27.9 58.0,25.0 58.2,23.5C58.4,22.0 58.4,21.2 58.4,20.7M23.2,113.8C23.0,112.6 22.1,108.8 21.8,106.5C21.5,104.2 21.0,102.2 21.2,99.7C21.4,97.2 22.2,93.4 23.2,91.7C24.2,90.0 25.3,90.0 27.0,89.5C28.7,89.0 31.2,88.6 33.2,88.6C35.2,88.6 37.0,89.0 39.0,89.5C41.0,90.0 43.1,90.7 45.3,91.7C47.5,92.7 49.6,94.2 52.0,95.5C54.4,96.8 56.8,99.0 59.4,99.7C62.0,100.4 65.2,100.2 67.5,99.7C69.8,99.2 71.0,97.8 73.0,96.5C75.0,95.2 77.4,93.4 79.6,91.7C81.8,90.0 83.6,88.2 86.0,86.5C88.4,84.8 91.5,82.9 93.7,81.6C95.9,80.3 97.0,79.5 99.0,78.5C101.0,77.5 103.6,76.4 105.8,75.5C108.0,74.6 109.6,73.8 112.0,73.0C114.4,72.2 118.6,70.9 119.9,70.5M101.7,139.0C102.3,138.1 103.8,135.4 105.0,133.5C106.2,131.6 107.8,129.3 109.0,127.5C110.2,125.7 111.4,124.1 112.5,122.5C113.6,120.9 115.2,118.6 115.8,117.8" fill="none" stroke="#b8b8b8" stroke-opacity="0.75" stroke-width="1.5" stroke-linejoin="round" stroke-linecap="round" clip-path="url(#pc)"/>
<line x1="0" y1="104.25" x2="136" y2="104.25" stroke="#3a3a3a" stroke-opacity="0.68" stroke-width="1.9" stroke-dasharray="6 5.8"/>
<line x1="67.97" y1="139" x2="67.97" y2="0" stroke="#3a3a3a" stroke-opacity="0.68" stroke-width="1.9" stroke-dasharray="6 5.8"/>
<rect x="0" y="0" width="136" height="139" fill="none" stroke="#636363" stroke-width="1.35"/>
</g>
<text x="541.00" y="8.6" font-size="12" font-style="italic" fill="#1a1a1a" text-anchor="middle">F. excelsior</text>
<g transform="translate(39.5,191.5)">
<g clip-path="url(#m4)"><g filter="url(#cm)">
<path fill="#cdcdcd" d="M-24.9 -21.7h14.9v4.5h-14.9zM-0.5 -21.7h5.1v4.5h-5.1zM82.6 -21.7h5.1v4.5h-5.1zM97.3 -21.7h10.0v4.5h-10.0zM136.4 -21.7h10.0v4.5h-10.0zM151.1 -21.7h10.0v4.5h-10.0zM-24.9 -17.4h14.9v4.5h-14.9zM-0.5 -17.4h5.1v4.5h-5.1zM82.6 -17.4h5.1v4.5h-5.1zM97.3 -17.4h10.0v4.5h-10.0zM136.4 -17.4h10.0v4.5h-10.0zM151.1 -17.4h10.0v4.5h-10.0zM-24.9 -13.0h14.9v4.5h-14.9zM-0.5 -13.0h5.1v4.5h-5.1zM82.6 -13.0h5.1v4.5h-5.1zM97.3 -13.0h10.0v4.5h-10.0zM136.4 -13.0h10.0v4.5h-10.0zM156.0 -13.0h5.1v4.5h-5.1zM-20.0 -8.7h10.0v4.5h-10.0zM-0.5 -8.7h5.1v4.5h-5.1zM82.6 -8.7h5.1v4.5h-5.1zM97.3 -8.7h10.0v4.5h-10.0zM136.4 -8.7h10.0v4.5h-10.0zM151.1 -8.7h10.0v4.5h-10.0zM-15.2 -4.3h5.1v4.5h-5.1zM-0.5 -4.3h5.1v4.5h-5.1zM82.6 -4.3h5.1v4.5h-5.1zM97.3 -4.3h10.0v4.5h-10.0zM136.4 -4.3h10.0v4.5h-10.0zM151.1 -4.3h10.0v4.5h-10.0zM-24.9 0.0h24.7v4.5h-24.7zM87.5 0.0h14.9v4.5h-14.9zM136.4 0.0h10.0v4.5h-10.0zM156.0 0.0h5.1v4.5h-5.1zM-24.9 4.3h24.7v4.5h-24.7zM87.5 4.3h10.0v4.5h-10.0zM136.4 4.3h10.0v4.5h-10.0zM-0.5 8.7h5.1v4.5h-5.1zM136.4 8.7h24.7v4.5h-24.7zM4.4 13.0h5.1v4.5h-5.1zM77.8 13.0h5.1v4.5h-5.1zM141.3 13.0h19.8v4.5h-19.8zM19.1 21.7h5.1v4.5h-5.1zM28.9 21.7h5.1v4.5h-5.1zM38.6 21.7h5.1v4.5h-5.1z"/>
<path fill="#cbcbcb" d="M-10.3 -21.7h10.0v4.5h-10.0zM87.5 -21.7h10.0v4.5h-10.0zM107.1 -21.7h5.1v4.5h-5.1zM146.2 -21.7h5.1v4.5h-5.1zM-10.3 -17.4h10.0v4.5h-10.0zM87.5 -17.4h10.0v4.5h-10.0zM107.1 -17.4h5.1v4.5h-5.1zM146.2 -17.4h5.1v4.5h-5.1zM-10.3 -13.0h10.0v4.5h-10.0zM87.5 -13.0h10.0v4.5h-10.0zM107.1 -13.0h5.1v4.5h-5.1zM146.2 -13.0h10.0v4.5h-10.0zM-24.9 -8.7h5.1v4.5h-5.1zM-10.3 -8.7h10.0v4.5h-10.0zM87.5 -8.7h10.0v4.5h-10.0zM107.1 -8.7h5.1v4.5h-5.1zM146.2 -8.7h5.1v4.5h-5.1zM-24.9 -4.3h10.0v4.5h-10.0zM-10.3 -4.3h10.0v4.5h-10.0zM87.5 -4.3h10.0v4.5h-10.0zM107.1 -4.3h5.1v4.5h-5.1zM146.2 -4.3h5.1v4.5h-5.1zM107.1 0.0h5.1v4.5h-5.1zM146.2 0.0h10.0v4.5h-10.0zM107.1 4.3h5.1v4.5h-5.1zM146.2 4.3h14.9v4.5h-14.9zM82.6 8.7h5.1v4.5h-5.1zM131.5 8.7h5.1v4.5h-5.1zM131.5 13.0h5.1v4.5h-5.1zM9.3 17.4h10.0v4.5h-10.0zM28.9 17.4h5.1v4.5h-5.1zM53.3 17.4h5.1v4.5h-5.1zM136.4 17.4h10.0v4.5h-10.0zM14.2 21.7h5.1v4.5h-5.1zM24.0 21.7h5.1v4.5h-5.1zM19.1 26.1h14.9v4.5h-14.9zM-24.9 56.5h24.7v4.5h-24.7zM-24.9 60.8h24.7v4.5h-24.7z"/>
<path fill="#d3d3d3" d="M4.4 -21.7h5.1v4.5h-5.1zM4.4 -8.7h5.1v4.5h-5.1zM77.8 -8.7h5.1v4.5h-5.1zM4.4 -4.3h5.1v4.5h-5.1zM77.8 -4.3h5.1v4.5h-5.1zM4.4 8.7h5.1v4.5h-5.1zM77.8 8.7h5.1v4.5h-5.1zM68.0 13.0h5.1v4.5h-5.1zM33.7 17.4h5.1v4.5h-5.1zM43.5 17.4h5.1v4.5h-5.1z"/>
<path fill="#dfdfdf" d="M9.3 -21.7h5.1v4.5h-5.1zM72.9 -21.7h5.1v4.5h-5.1zM9.3 -17.4h5.1v4.5h-5.1zM72.9 -17.4h5.1v4.5h-5.1zM9.3 -13.0h5.1v4.5h-5.1zM72.9 -13.0h5.1v4.5h-5.1zM9.3 -8.7h5.1v4.5h-5.1zM72.9 -8.7h5.1v4.5h-5.1zM9.3 -4.3h5.1v4.5h-5.1zM72.9 -4.3h5.1v4.5h-5.1zM9.3 0.0h5.1v4.5h-5.1zM72.9 0.0h5.1v4.5h-5.1zM72.9 4.3h5.1v4.5h-5.1zM63.1 8.7h10.0v4.5h-10.0z"/>
<path fill="#ededed" d="M14.2 -21.7h5.1v4.5h-5.1zM68.0 -21.7h5.1v4.5h-5.1zM14.2 -17.4h5.1v4.5h-5.1zM68.0 -17.4h5.1v4.5h-5.1zM14.2 -13.0h5.1v4.5h-5.1zM68.0 -13.0h5.1v4.5h-5.1zM14.2 -8.7h5.1v4.5h-5.1zM68.0 -8.7h5.1v4.5h-5.1zM14.2 -4.3h5.1v4.5h-5.1zM68.0 -4.3h5.1v4.5h-5.1zM58.2 4.3h5.1v4.5h-5.1zM38.6 8.7h5.1v4.5h-5.1z"/>
<path fill="#f7f7f7" d="M19.1 -21.7h5.1v4.5h-5.1zM63.1 -21.7h5.1v4.5h-5.1zM19.1 -17.4h5.1v4.5h-5.1zM63.1 -17.4h5.1v4.5h-5.1zM19.1 -13.0h5.1v4.5h-5.1zM63.1 -13.0h5.1v4.5h-5.1zM19.1 -8.7h5.1v4.5h-5.1zM63.1 -8.7h5.1v4.5h-5.1zM19.1 -4.3h5.1v4.5h-5.1zM24.0 4.3h5.1v4.5h-5.1zM33.7 4.3h14.9v4.5h-14.9z"/>
<path fill="#fdfdfd" d="M24.0 -21.7h5.1v4.5h-5.1zM58.2 -21.7h5.1v4.5h-5.1zM24.0 -17.4h5.1v4.5h-5.1zM58.2 -17.4h5.1v4.5h-5.1zM24.0 -13.0h5.1v4.5h-5.1zM58.2 -13.0h5.1v4.5h-5.1zM24.0 -8.7h5.1v4.5h-5.1zM24.0 -4.3h5.1v4.5h-5.1zM24.0 0.0h5.1v4.5h-5.1zM38.6 0.0h14.9v4.5h-14.9z"/>
<path fill="#ffffff" d="M28.9 -21.7h29.5v4.5h-29.5zM28.9 -17.4h29.5v4.5h-29.5zM28.9 -13.0h29.5v4.5h-29.5zM28.9 -8.7h34.4v4.5h-34.4zM28.9 -4.3h34.4v4.5h-34.4zM28.9 0.0h10.0v4.5h-10.0z"/>
<path fill="#d5d5d5" d="M77.8 -21.7h5.1v4.5h-5.1zM4.4 -17.4h5.1v4.5h-5.1zM77.8 -17.4h5.1v4.5h-5.1zM4.4 -13.0h5.1v4.5h-5.1zM77.8 -13.0h5.1v4.5h-5.1zM4.4 0.0h5.1v4.5h-5.1zM77.8 0.0h5.1v4.5h-5.1zM4.4 4.3h5.1v4.5h-5.1zM77.8 4.3h5.1v4.5h-5.1zM28.9 13.0h5.1v4.5h-5.1zM53.3 13.0h5.1v4.5h-5.1zM38.6 17.4h5.1v4.5h-5.1z"/>
<path fill="#c5c5c5" d="M112.0 -21.7h5.1v4.5h-5.1zM112.0 -17.4h5.1v4.5h-5.1zM112.0 -13.0h5.1v4.5h-5.1zM112.0 -8.7h5.1v4.5h-5.1zM112.0 -4.3h5.1v4.5h-5.1zM112.0 0.0h5.1v4.5h-5.1zM107.1 8.7h5.1v4.5h-5.1zM-0.5 13.0h5.1v4.5h-5.1zM82.6 13.0h5.1v4.5h-5.1zM4.4 17.4h5.1v4.5h-5.1zM9.3 21.7h5.1v4.5h-5.1zM38.6 26.1h5.1v4.5h-5.1zM24.0 30.4h5.1v4.5h-5.1z"/>
<path fill="#c1c1c1" d="M116.9 -21.7h5.1v4.5h-5.1zM116.9 -17.4h5.1v4.5h-5.1zM116.9 -13.0h5.1v4.5h-5.1zM116.9 -8.7h5.1v4.5h-5.1zM116.9 -4.3h5.1v4.5h-5.1zM112.0 4.3h5.1v4.5h-5.1zM-10.3 13.0h10.0v4.5h-10.0zM-0.5 17.4h5.1v4.5h-5.1zM82.6 17.4h5.1v4.5h-5.1zM82.6 21.7h5.1v4.5h-5.1zM-5.4 26.1h5.1v4.5h-5.1zM9.3 26.1h5.1v4.5h-5.1zM14.2 30.4h5.1v4.5h-5.1zM9.3 39.1h10.0v4.5h-10.0zM9.3 43.4h10.0v4.5h-10.0zM4.4 52.1h5.1v4.5h-5.1zM4.4 56.5h5.1v4.5h-5.1zM4.4 65.2h10.0v4.5h-10.0zM-5.4 73.8h5.1v4.5h-5.1z"/>
<path fill="#bfbfbf" d="M121.8 -21.7h5.1v4.5h-5.1zM121.8 -17.4h5.1v4.5h-5.1zM121.8 -13.0h5.1v4.5h-5.1zM121.8 -8.7h5.1v4.5h-5.1zM121.8 -4.3h5.1v4.5h-5.1zM116.9 0.0h10.0v4.5h-10.0zM87.5 13.0h10.0v4.5h-10.0zM-24.9 17.4h14.9v4.5h-14.9zM-24.9 21.7h34.4v4.5h-34.4zM-24.9 26.1h19.8v4.5h-19.8zM-0.5 26.1h5.1v4.5h-5.1zM43.5 26.1h5.1v4.5h-5.1zM77.8 26.1h10.0v4.5h-10.0zM-24.9 30.4h39.3v4.5h-39.3zM-24.9 34.8h49.1v4.5h-49.1zM-24.9 39.1h34.4v4.5h-34.4zM-24.9 43.4h34.4v4.5h-34.4zM-0.5 47.8h14.9v4.5h-14.9zM9.3 60.8h5.1v4.5h-5.1zM-24.9 69.5h24.7v4.5h-24.7zM-24.9 73.8h19.8v4.5h-19.8zM-24.9 78.2h24.7v4.5h-24.7z"/>
<path fill="#c3c3c3" d="M126.7 -21.7h5.1v4.5h-5.1zM126.7 -17.4h5.1v4.5h-5.1zM126.7 -13.0h5.1v4.5h-5.1zM126.7 -8.7h5.1v4.5h-5.1zM126.7 -4.3h5.1v4.5h-5.1zM126.7 0.0h5.1v4.5h-5.1zM126.7 4.3h5.1v4.5h-5.1zM126.7 8.7h5.1v4.5h-5.1zM-24.9 13.0h14.9v4.5h-14.9zM126.7 13.0h5.1v4.5h-5.1zM126.7 17.4h5.1v4.5h-5.1zM48.4 21.7h34.4v4.5h-34.4zM126.7 21.7h34.4v4.5h-34.4zM19.1 30.4h5.1v4.5h-5.1zM28.9 30.4h5.1v4.5h-5.1zM-24.9 52.1h29.5v4.5h-29.5zM4.4 60.8h5.1v4.5h-5.1zM-24.9 65.2h29.5v4.5h-29.5z"/>
<path fill="#c9c9c9" d="M131.5 -21.7h5.1v4.5h-5.1zM131.5 -17.4h5.1v4.5h-5.1zM131.5 -13.0h5.1v4.5h-5.1zM131.5 -8.7h5.1v4.5h-5.1zM131.5 -4.3h5.1v4.5h-5.1zM131.5 0.0h5.1v4.5h-5.1zM131.5 4.3h5.1v4.5h-5.1zM-24.9 8.7h24.7v4.5h-24.7zM97.3 8.7h10.0v4.5h-10.0zM19.1 17.4h10.0v4.5h-10.0zM68.0 17.4h10.0v4.5h-10.0zM131.5 17.4h5.1v4.5h-5.1zM146.2 17.4h14.9v4.5h-14.9zM33.7 26.1h5.1v4.5h-5.1zM-0.5 56.5h5.1v4.5h-5.1zM-0.5 60.8h5.1v4.5h-5.1z"/>
<path fill="#f9f9f9" d="M63.1 -4.3h5.1v4.5h-5.1zM58.2 0.0h5.1v4.5h-5.1zM28.9 4.3h5.1v4.5h-5.1z"/>
<path fill="#cfcfcf" d="M-0.5 0.0h5.1v4.5h-5.1zM82.6 0.0h5.1v4.5h-5.1zM102.2 0.0h5.1v4.5h-5.1zM-0.5 4.3h5.1v4.5h-5.1zM82.6 4.3h5.1v4.5h-5.1zM97.3 4.3h10.0v4.5h-10.0zM58.2 13.0h5.1v4.5h-5.1zM136.4 13.0h5.1v4.5h-5.1zM48.4 17.4h5.1v4.5h-5.1zM33.7 21.7h5.1v4.5h-5.1z"/>
<path fill="#ebebeb" d="M14.2 0.0h5.1v4.5h-5.1zM68.0 0.0h5.1v4.5h-5.1zM63.1 4.3h5.1v4.5h-5.1zM28.9 8.7h10.0v4.5h-10.0z"/>
<path fill="#f5f5f5" d="M19.1 0.0h5.1v4.5h-5.1zM63.1 0.0h5.1v4.5h-5.1zM48.4 4.3h5.1v4.5h-5.1z"/>
<path fill="#fbfbfb" d="M53.3 0.0h5.1v4.5h-5.1z"/>
<path fill="#dddddd" d="M9.3 4.3h5.1v4.5h-5.1zM14.2 8.7h5.1v4.5h-5.1zM58.2 8.7h5.1v4.5h-5.1zM48.4 13.0h5.1v4.5h-5.1z"/>
<path fill="#e7e7e7" d="M14.2 4.3h5.1v4.5h-5.1zM68.0 4.3h5.1v4.5h-5.1zM24.0 8.7h5.1v4.5h-5.1z"/>
<path fill="#efefef" d="M19.1 4.3h5.1v4.5h-5.1zM53.3 4.3h5.1v4.5h-5.1zM43.5 8.7h5.1v4.5h-5.1z"/>
<path fill="#bbbbbb" d="M116.9 4.3h5.1v4.5h-5.1zM116.9 8.7h5.1v4.5h-5.1zM107.1 13.0h14.9v4.5h-14.9zM48.4 26.1h24.7v4.5h-24.7zM87.5 26.1h5.1v4.5h-5.1zM121.8 26.1h5.1v4.5h-5.1zM38.6 30.4h5.1v4.5h-5.1zM14.2 47.8h5.1v4.5h-5.1zM14.2 65.2h5.1v4.5h-5.1zM9.3 69.5h5.1v4.5h-5.1z"/>
<path fill="#bdbdbd" d="M121.8 4.3h5.1v4.5h-5.1zM112.0 8.7h5.1v4.5h-5.1zM121.8 8.7h5.1v4.5h-5.1zM97.3 13.0h10.0v4.5h-10.0zM121.8 13.0h5.1v4.5h-5.1zM-10.3 17.4h10.0v4.5h-10.0zM87.5 17.4h5.1v4.5h-5.1zM121.8 17.4h5.1v4.5h-5.1zM87.5 21.7h5.1v4.5h-5.1zM121.8 21.7h5.1v4.5h-5.1zM4.4 26.1h5.1v4.5h-5.1zM72.9 26.1h5.1v4.5h-5.1zM126.7 26.1h34.4v4.5h-34.4zM33.7 30.4h5.1v4.5h-5.1zM24.0 34.8h5.1v4.5h-5.1zM19.1 39.1h5.1v4.5h-5.1zM-24.9 47.8h24.7v4.5h-24.7zM9.3 52.1h5.1v4.5h-5.1zM9.3 56.5h5.1v4.5h-5.1zM-0.5 69.5h10.0v4.5h-10.0zM-0.5 73.8h5.1v4.5h-5.1zM-0.5 78.2h5.1v4.5h-5.1z"/>
<path fill="#d9d9d9" d="M9.3 8.7h5.1v4.5h-5.1z"/>
<path fill="#e1e1e1" d="M19.1 8.7h5.1v4.5h-5.1zM53.3 8.7h5.1v4.5h-5.1zM38.6 13.0h10.0v4.5h-10.0z"/>
<path fill="#e9e9e9" d="M48.4 8.7h5.1v4.5h-5.1z"/>
<path fill="#dbdbdb" d="M72.9 8.7h5.1v4.5h-5.1zM33.7 13.0h5.1v4.5h-5.1z"/>
<path fill="#c7c7c7" d="M87.5 8.7h10.0v4.5h-10.0zM58.2 17.4h10.0v4.5h-10.0zM77.8 17.4h5.1v4.5h-5.1zM43.5 21.7h5.1v4.5h-5.1zM14.2 26.1h5.1v4.5h-5.1z"/>
<path fill="#d1d1d1" d="M9.3 13.0h19.8v4.5h-19.8zM63.1 13.0h5.1v4.5h-5.1zM72.9 13.0h5.1v4.5h-5.1z"/>
<path fill="#b7b7b7" d="M92.4 17.4h5.1v4.5h-5.1zM112.0 17.4h5.1v4.5h-5.1zM116.9 21.7h5.1v4.5h-5.1zM48.4 30.4h5.1v4.5h-5.1zM82.6 30.4h5.1v4.5h-5.1zM126.7 30.4h34.4v4.5h-34.4zM19.1 43.4h5.1v4.5h-5.1zM14.2 52.1h5.1v4.5h-5.1zM14.2 56.5h5.1v4.5h-5.1zM14.2 69.5h5.1v4.5h-5.1zM4.4 73.8h5.1v4.5h-5.1zM4.4 78.2h5.1v4.5h-5.1zM4.4 82.5h5.1v4.5h-5.1z"/>
<path fill="#b5b5b5" d="M97.3 17.4h5.1v4.5h-5.1zM107.1 17.4h5.1v4.5h-5.1zM92.4 21.7h5.1v4.5h-5.1zM92.4 26.1h5.1v4.5h-5.1zM116.9 26.1h5.1v4.5h-5.1zM72.9 30.4h5.1v4.5h-5.1zM87.5 30.4h10.0v4.5h-10.0zM121.8 30.4h5.1v4.5h-5.1zM28.9 34.8h5.1v4.5h-5.1z"/>
<path fill="#b3b3b3" d="M102.2 17.4h5.1v4.5h-5.1zM102.2 21.7h14.9v4.5h-14.9zM97.3 26.1h14.9v4.5h-14.9zM97.3 30.4h24.7v4.5h-24.7zM24.0 39.1h5.1v4.5h-5.1zM9.3 73.8h5.1v4.5h-5.1zM9.3 82.5h5.1v4.5h-5.1z"/>
<path fill="#b9b9b9" d="M116.9 17.4h5.1v4.5h-5.1zM43.5 30.4h5.1v4.5h-5.1zM77.8 30.4h5.1v4.5h-5.1zM14.2 60.8h5.1v4.5h-5.1zM-24.9 82.5h29.5v4.5h-29.5z"/>
<path fill="#b1b1b1" d="M97.3 21.7h5.1v4.5h-5.1zM112.0 26.1h5.1v4.5h-5.1zM53.3 30.4h5.1v4.5h-5.1zM92.4 34.8h34.4v4.5h-34.4zM9.3 78.2h5.1v4.5h-5.1z"/>
<path fill="#adadad" d="M58.2 30.4h10.0v4.5h-10.0zM33.7 34.8h5.1v4.5h-5.1zM136.4 34.8h24.7v4.5h-24.7zM121.8 39.1h5.1v4.5h-5.1zM4.4 86.9h5.1v4.5h-5.1z"/>
<path fill="#afafaf" d="M68.0 30.4h5.1v4.5h-5.1zM77.8 34.8h14.9v4.5h-14.9zM126.7 34.8h10.0v4.5h-10.0zM19.1 47.8h5.1v4.5h-5.1zM14.2 73.8h5.1v4.5h-5.1z"/>
<path fill="#a9a9a9" d="M38.6 34.8h10.0v4.5h-10.0zM72.9 34.8h5.1v4.5h-5.1zM87.5 39.1h14.9v4.5h-14.9zM126.7 39.1h5.1v4.5h-5.1zM19.1 52.1h5.1v4.5h-5.1zM19.1 56.5h5.1v4.5h-5.1zM14.2 78.2h5.1v4.5h-5.1z"/>
<path fill="#a7a7a7" d="M48.4 34.8h5.1v4.5h-5.1zM28.9 39.1h5.1v4.5h-5.1zM82.6 39.1h5.1v4.5h-5.1zM24.0 43.4h5.1v4.5h-5.1zM19.1 69.5h5.1v4.5h-5.1zM14.2 82.5h5.1v4.5h-5.1zM9.3 86.9h5.1v4.5h-5.1z"/>
<path fill="#a1a1a1" d="M53.3 34.8h5.1v4.5h-5.1zM146.2 39.1h14.9v4.5h-14.9zM82.6 43.4h5.1v4.5h-5.1zM97.3 43.4h10.0v4.5h-10.0zM112.0 43.4h10.0v4.5h-10.0zM19.1 73.8h5.1v4.5h-5.1z"/>
<path fill="#9b9b9b" d="M58.2 34.8h5.1v4.5h-5.1zM72.9 39.1h5.1v4.5h-5.1zM126.7 43.4h5.1v4.5h-5.1zM24.0 47.8h5.1v4.5h-5.1zM82.6 47.8h5.1v4.5h-5.1zM97.3 47.8h5.1v4.5h-5.1zM19.1 78.2h5.1v4.5h-5.1zM107.1 143.3h10.0v4.5h-10.0zM107.1 147.7h10.0v4.5h-10.0zM107.1 152.0h10.0v4.5h-10.0zM107.1 156.4h10.0v4.5h-10.0z"/>
<path fill="#9d9d9d" d="M63.1 34.8h5.1v4.5h-5.1zM107.1 139.0h10.0v4.5h-10.0z"/>
<path fill="#a3a3a3" d="M68.0 34.8h5.1v4.5h-5.1zM77.8 39.1h5.1v4.5h-5.1zM131.5 39.1h5.1v4.5h-5.1z"/>
<path fill="#999999" d="M33.7 39.1h5.1v4.5h-5.1zM77.8 43.4h5.1v4.5h-5.1zM14.2 86.9h5.1v4.5h-5.1zM112.0 134.7h5.1v4.5h-5.1zM102.2 139.0h5.1v4.5h-5.1z"/>
<path fill="#939393" d="M38.6 39.1h5.1v4.5h-5.1zM136.4 43.4h24.7v4.5h-24.7zM77.8 47.8h5.1v4.5h-5.1zM107.1 47.8h10.0v4.5h-10.0zM24.0 52.1h5.1v4.5h-5.1zM97.3 52.1h5.1v4.5h-5.1zM4.4 91.2h5.1v4.5h-5.1z"/>
<path fill="#919191" d="M43.5 39.1h10.0v4.5h-10.0zM72.9 43.4h5.1v4.5h-5.1zM116.9 47.8h5.1v4.5h-5.1zM82.6 52.1h5.1v4.5h-5.1zM24.0 56.5h5.1v4.5h-5.1zM24.0 60.8h5.1v4.5h-5.1zM24.0 65.2h5.1v4.5h-5.1zM107.1 130.3h10.0v4.5h-10.0zM97.3 139.0h5.1v4.5h-5.1zM121.8 139.0h5.1v4.5h-5.1zM97.3 143.3h5.1v4.5h-5.1zM121.8 143.3h5.1v4.5h-5.1zM97.3 147.7h5.1v4.5h-5.1zM121.8 147.7h5.1v4.5h-5.1zM97.3 152.0h5.1v4.5h-5.1zM121.8 152.0h5.1v4.5h-5.1zM97.3 156.4h5.1v4.5h-5.1zM121.8 156.4h5.1v4.5h-5.1z"/>
<path fill="#8d8d8d" d="M53.3 39.1h10.0v4.5h-10.0zM77.8 52.1h5.1v4.5h-5.1z"/>
<path fill="#8f8f8f" d="M63.1 39.1h5.1v4.5h-5.1zM24.0 69.5h5.1v4.5h-5.1zM102.2 130.3h5.1v4.5h-5.1zM116.9 130.3h5.1v4.5h-5.1zM97.3 134.7h5.1v4.5h-5.1zM121.8 134.7h5.1v4.5h-5.1z"/>
<path fill="#959595" d="M68.0 39.1h5.1v4.5h-5.1zM131.5 43.4h5.1v4.5h-5.1zM102.2 47.8h5.1v4.5h-5.1zM87.5 52.1h10.0v4.5h-10.0zM-24.9 91.2h29.5v4.5h-29.5zM102.2 134.7h5.1v4.5h-5.1zM116.9 134.7h5.1v4.5h-5.1z"/>
<path fill="#ababab" d="M102.2 39.1h19.8v4.5h-19.8zM19.1 60.8h5.1v4.5h-5.1zM19.1 65.2h5.1v4.5h-5.1zM-24.9 86.9h29.5v4.5h-29.5z"/>
<path fill="#9f9f9f" d="M136.4 39.1h10.0v4.5h-10.0zM107.1 43.4h5.1v4.5h-5.1zM121.8 43.4h5.1v4.5h-5.1zM87.5 47.8h10.0v4.5h-10.0z"/>
<path fill="#979797" d="M28.9 43.4h5.1v4.5h-5.1zM19.1 82.5h5.1v4.5h-5.1zM107.1 134.7h5.1v4.5h-5.1zM116.9 139.0h5.1v4.5h-5.1zM102.2 143.3h5.1v4.5h-5.1zM116.9 143.3h5.1v4.5h-5.1zM102.2 147.7h5.1v4.5h-5.1zM116.9 147.7h5.1v4.5h-5.1zM102.2 152.0h5.1v4.5h-5.1zM116.9 152.0h5.1v4.5h-5.1zM102.2 156.4h5.1v4.5h-5.1zM116.9 156.4h5.1v4.5h-5.1z"/>
<path fill="#8b8b8b" d="M33.7 43.4h5.1v4.5h-5.1zM68.0 43.4h5.1v4.5h-5.1zM28.9 47.8h5.1v4.5h-5.1zM72.9 47.8h5.1v4.5h-5.1zM121.8 47.8h5.1v4.5h-5.1zM102.2 52.1h5.1v4.5h-5.1zM92.4 56.5h5.1v4.5h-5.1zM24.0 73.8h5.1v4.5h-5.1zM19.1 86.9h5.1v4.5h-5.1zM9.3 91.2h5.1v4.5h-5.1zM102.2 126.0h14.9v4.5h-14.9zM97.3 130.3h5.1v4.5h-5.1z"/>
<path fill="#838383" d="M38.6 43.4h5.1v4.5h-5.1zM58.2 43.4h5.1v4.5h-5.1zM28.9 52.1h5.1v4.5h-5.1zM77.8 56.5h10.0v4.5h-10.0zM92.4 60.8h10.0v4.5h-10.0zM112.0 121.6h5.1v4.5h-5.1zM87.5 139.0h5.1v4.5h-5.1zM131.5 139.0h5.1v4.5h-5.1zM146.2 139.0h10.0v4.5h-10.0zM87.5 143.3h5.1v4.5h-5.1zM131.5 143.3h5.1v4.5h-5.1zM87.5 147.7h5.1v4.5h-5.1zM87.5 152.0h5.1v4.5h-5.1zM87.5 156.4h5.1v4.5h-5.1zM131.5 156.4h5.1v4.5h-5.1z"/>
<path fill="#7e7e7e" d="M43.5 43.4h14.9v4.5h-14.9zM68.0 52.1h5.1v4.5h-5.1zM28.9 56.5h5.1v4.5h-5.1zM72.9 56.5h5.1v4.5h-5.1zM112.0 56.5h5.1v4.5h-5.1zM28.9 60.8h5.1v4.5h-5.1zM77.8 60.8h14.9v4.5h-14.9zM102.2 60.8h5.1v4.5h-5.1zM28.9 65.2h5.1v4.5h-5.1zM92.4 65.2h5.1v4.5h-5.1zM126.7 130.3h5.1v4.5h-5.1zM131.5 134.7h5.1v4.5h-5.1zM136.4 147.7h24.7v4.5h-24.7zM136.4 152.0h24.7v4.5h-24.7zM136.4 156.4h10.0v4.5h-10.0z"/>
<path fill="#878787" d="M63.1 43.4h5.1v4.5h-5.1zM126.7 47.8h34.4v4.5h-34.4zM107.1 52.1h10.0v4.5h-10.0zM24.0 78.2h5.1v4.5h-5.1zM24.0 82.5h5.1v4.5h-5.1zM107.1 121.6h5.1v4.5h-5.1zM97.3 126.0h5.1v4.5h-5.1zM116.9 126.0h5.1v4.5h-5.1zM126.7 134.7h5.1v4.5h-5.1z"/>
<path fill="#a5a5a5" d="M87.5 43.4h10.0v4.5h-10.0z"/>
<path fill="#818181" d="M33.7 47.8h5.1v4.5h-5.1zM63.1 47.8h5.1v4.5h-5.1zM107.1 56.5h5.1v4.5h-5.1zM82.6 65.2h10.0v4.5h-10.0zM24.0 86.9h5.1v4.5h-5.1zM14.2 91.2h5.1v4.5h-5.1zM97.3 121.6h5.1v4.5h-5.1zM92.4 126.0h5.1v4.5h-5.1zM121.8 126.0h5.1v4.5h-5.1zM87.5 134.7h5.1v4.5h-5.1zM136.4 139.0h10.0v4.5h-10.0zM156.0 139.0h5.1v4.5h-5.1zM136.4 143.3h24.7v4.5h-24.7zM131.5 147.7h5.1v4.5h-5.1zM131.5 152.0h5.1v4.5h-5.1zM146.2 156.4h14.9v4.5h-14.9z"/>
<path fill="#787878" d="M38.6 47.8h5.1v4.5h-5.1zM53.3 47.8h5.1v4.5h-5.1zM33.7 52.1h5.1v4.5h-5.1zM58.2 52.1h5.1v4.5h-5.1zM126.7 52.1h34.4v4.5h-34.4zM68.0 56.5h5.1v4.5h-5.1zM121.8 56.5h5.1v4.5h-5.1zM102.2 65.2h5.1v4.5h-5.1zM24.0 91.2h5.1v4.5h-5.1zM82.6 130.3h5.1v4.5h-5.1z"/>
<path fill="#747474" d="M43.5 47.8h10.0v4.5h-10.0zM38.6 52.1h5.1v4.5h-5.1zM48.4 52.1h5.1v4.5h-5.1zM33.7 56.5h5.1v4.5h-5.1zM48.4 56.5h19.8v4.5h-19.8zM33.7 60.8h5.1v4.5h-5.1zM68.0 60.8h5.1v4.5h-5.1zM107.1 65.2h5.1v4.5h-5.1zM72.9 69.5h5.1v4.5h-5.1zM33.7 73.8h5.1v4.5h-5.1zM28.9 91.2h5.1v4.5h-5.1zM-0.5 95.6h5.1v4.5h-5.1zM102.2 117.3h5.1v4.5h-5.1zM121.8 121.6h5.1v4.5h-5.1zM77.8 130.3h5.1v4.5h-5.1zM77.8 134.7h5.1v4.5h-5.1z"/>
<path fill="#7c7c7c" d="M58.2 47.8h5.1v4.5h-5.1zM121.8 52.1h5.1v4.5h-5.1zM116.9 56.5h5.1v4.5h-5.1zM72.9 60.8h5.1v4.5h-5.1zM77.8 65.2h5.1v4.5h-5.1zM28.9 69.5h5.1v4.5h-5.1zM28.9 82.5h5.1v4.5h-5.1zM116.9 121.6h5.1v4.5h-5.1zM87.5 130.3h5.1v4.5h-5.1zM146.2 134.7h5.1v4.5h-5.1zM82.6 139.0h5.1v4.5h-5.1zM82.6 143.3h5.1v4.5h-5.1zM82.6 147.7h5.1v4.5h-5.1zM82.6 152.0h5.1v4.5h-5.1zM82.6 156.4h5.1v4.5h-5.1z"/>
<path fill="#858585" d="M68.0 47.8h5.1v4.5h-5.1zM72.9 52.1h5.1v4.5h-5.1zM116.9 52.1h5.1v4.5h-5.1zM87.5 56.5h5.1v4.5h-5.1zM102.2 56.5h5.1v4.5h-5.1zM102.2 121.6h5.1v4.5h-5.1zM92.4 130.3h5.1v4.5h-5.1z"/>
<path fill="#727272" d="M43.5 52.1h5.1v4.5h-5.1zM38.6 56.5h10.0v4.5h-10.0zM126.7 56.5h5.1v4.5h-5.1zM116.9 60.8h5.1v4.5h-5.1zM68.0 69.5h5.1v4.5h-5.1zM97.3 69.5h5.1v4.5h-5.1zM33.7 86.9h5.1v4.5h-5.1zM4.4 95.6h5.1v4.5h-5.1zM97.3 117.3h5.1v4.5h-5.1zM107.1 117.3h5.1v4.5h-5.1zM72.9 121.6h5.1v4.5h-5.1zM126.7 126.0h5.1v4.5h-5.1zM131.5 130.3h5.1v4.5h-5.1z"/>
<path fill="#767676" d="M53.3 52.1h5.1v4.5h-5.1zM112.0 60.8h5.1v4.5h-5.1zM33.7 65.2h5.1v4.5h-5.1zM68.0 65.2h5.1v4.5h-5.1zM33.7 69.5h5.1v4.5h-5.1zM77.8 69.5h5.1v4.5h-5.1zM92.4 69.5h5.1v4.5h-5.1zM33.7 78.2h5.1v4.5h-5.1zM33.7 82.5h5.1v4.5h-5.1zM-24.9 95.6h24.7v4.5h-24.7zM77.8 121.6h14.9v4.5h-14.9zM77.8 126.0h10.0v4.5h-10.0zM77.8 139.0h5.1v4.5h-5.1zM77.8 143.3h5.1v4.5h-5.1zM77.8 147.7h5.1v4.5h-5.1zM77.8 152.0h5.1v4.5h-5.1zM77.8 156.4h5.1v4.5h-5.1z"/>
<path fill="#7a7a7a" d="M63.1 52.1h5.1v4.5h-5.1zM107.1 60.8h5.1v4.5h-5.1zM72.9 65.2h5.1v4.5h-5.1zM97.3 65.2h5.1v4.5h-5.1zM82.6 69.5h10.0v4.5h-10.0zM28.9 73.8h5.1v4.5h-5.1zM28.9 78.2h5.1v4.5h-5.1zM28.9 86.9h5.1v4.5h-5.1zM19.1 91.2h5.1v4.5h-5.1zM92.4 121.6h5.1v4.5h-5.1zM87.5 126.0h5.1v4.5h-5.1zM82.6 134.7h5.1v4.5h-5.1zM136.4 134.7h10.0v4.5h-10.0zM151.1 134.7h10.0v4.5h-10.0z"/>
<path fill="#898989" d="M97.3 56.5h5.1v4.5h-5.1zM121.8 130.3h5.1v4.5h-5.1zM92.4 134.7h5.1v4.5h-5.1zM92.4 139.0h5.1v4.5h-5.1zM126.7 139.0h5.1v4.5h-5.1zM92.4 143.3h5.1v4.5h-5.1zM126.7 143.3h5.1v4.5h-5.1zM92.4 147.7h5.1v4.5h-5.1zM126.7 147.7h5.1v4.5h-5.1zM92.4 152.0h5.1v4.5h-5.1zM126.7 152.0h5.1v4.5h-5.1zM92.4 156.4h5.1v4.5h-5.1zM126.7 156.4h5.1v4.5h-5.1z"/>
<path fill="#6c6c6c" d="M131.5 56.5h5.1v4.5h-5.1zM82.6 73.8h14.9v4.5h-14.9zM38.6 86.9h5.1v4.5h-5.1zM33.7 91.2h5.1v4.5h-5.1zM19.1 95.6h5.1v4.5h-5.1zM82.6 117.3h5.1v4.5h-5.1zM136.4 130.3h10.0v4.5h-10.0z"/>
<path fill="#6a6a6a" d="M136.4 56.5h24.7v4.5h-24.7zM126.7 60.8h5.1v4.5h-5.1zM43.5 65.2h5.1v4.5h-5.1zM58.2 65.2h5.1v4.5h-5.1zM107.1 69.5h5.1v4.5h-5.1zM72.9 73.8h10.0v4.5h-10.0zM14.2 95.6h5.1v4.5h-5.1zM72.9 117.3h5.1v4.5h-5.1zM116.9 117.3h5.1v4.5h-5.1zM68.0 121.6h5.1v4.5h-5.1zM68.0 139.0h5.1v4.5h-5.1zM68.0 143.3h5.1v4.5h-5.1zM68.0 147.7h5.1v4.5h-5.1zM68.0 152.0h5.1v4.5h-5.1zM68.0 156.4h5.1v4.5h-5.1z"/>
<path fill="#707070" d="M38.6 60.8h29.5v4.5h-29.5zM121.8 60.8h5.1v4.5h-5.1zM38.6 65.2h5.1v4.5h-5.1zM63.1 65.2h5.1v4.5h-5.1zM38.6 78.2h5.1v4.5h-5.1zM38.6 82.5h5.1v4.5h-5.1zM92.4 117.3h5.1v4.5h-5.1zM112.0 117.3h5.1v4.5h-5.1zM72.9 126.0h5.1v4.5h-5.1zM72.9 139.0h5.1v4.5h-5.1zM72.9 143.3h5.1v4.5h-5.1zM72.9 147.7h5.1v4.5h-5.1zM72.9 152.0h5.1v4.5h-5.1zM72.9 156.4h5.1v4.5h-5.1z"/>
<path fill="#666666" d="M131.5 60.8h5.1v4.5h-5.1zM53.3 65.2h5.1v4.5h-5.1zM58.2 73.8h5.1v4.5h-5.1zM53.3 78.2h10.0v4.5h-10.0zM53.3 82.5h10.0v4.5h-10.0zM72.9 82.5h5.1v4.5h-5.1zM43.5 86.9h5.1v4.5h-5.1zM58.2 86.9h10.0v4.5h-10.0zM38.6 91.2h29.5v4.5h-29.5zM43.5 95.6h10.0v4.5h-10.0zM58.2 95.6h5.1v4.5h-5.1zM24.0 99.9h5.1v4.5h-5.1zM38.6 99.9h10.0v4.5h-10.0zM68.0 117.3h5.1v4.5h-5.1zM53.3 121.6h5.1v4.5h-5.1zM63.1 121.6h5.1v4.5h-5.1zM126.7 121.6h5.1v4.5h-5.1zM53.3 126.0h5.1v4.5h-5.1zM63.1 126.0h5.1v4.5h-5.1z"/>
<path fill="#626262" d="M136.4 60.8h10.0v4.5h-10.0zM121.8 65.2h5.1v4.5h-5.1zM136.4 65.2h24.7v4.5h-24.7zM48.4 69.5h10.0v4.5h-10.0zM112.0 69.5h5.1v4.5h-5.1zM102.2 73.8h5.1v4.5h-5.1zM77.8 78.2h5.1v4.5h-5.1zM92.4 78.2h5.1v4.5h-5.1zM77.8 82.5h5.1v4.5h-5.1zM77.8 95.6h5.1v4.5h-5.1zM38.6 104.2h10.0v4.5h-10.0zM92.4 112.9h5.1v4.5h-5.1zM58.2 117.3h10.0v4.5h-10.0zM121.8 117.3h5.1v4.5h-5.1zM53.3 130.3h5.1v4.5h-5.1zM63.1 134.7h5.1v4.5h-5.1zM63.1 139.0h5.1v4.5h-5.1zM63.1 143.3h5.1v4.5h-5.1zM63.1 147.7h5.1v4.5h-5.1zM63.1 152.0h5.1v4.5h-5.1zM63.1 156.4h5.1v4.5h-5.1z"/>
<path fill="#646464" d="M146.2 60.8h14.9v4.5h-14.9zM48.4 73.8h10.0v4.5h-10.0zM48.4 78.2h5.1v4.5h-5.1zM63.1 78.2h14.9v4.5h-14.9zM48.4 82.5h5.1v4.5h-5.1zM63.1 82.5h10.0v4.5h-10.0zM48.4 86.9h10.0v4.5h-10.0zM77.8 86.9h5.1v4.5h-5.1zM77.8 91.2h5.1v4.5h-5.1zM38.6 95.6h5.1v4.5h-5.1zM63.1 95.6h14.9v4.5h-14.9zM58.2 99.9h5.1v4.5h-5.1zM28.9 104.2h10.0v4.5h-10.0zM48.4 104.2h10.0v4.5h-10.0zM131.5 126.0h5.1v4.5h-5.1zM58.2 130.3h10.0v4.5h-10.0z"/>
<path fill="#686868" d="M48.4 65.2h5.1v4.5h-5.1zM116.9 65.2h5.1v4.5h-5.1zM43.5 69.5h5.1v4.5h-5.1zM58.2 69.5h5.1v4.5h-5.1zM43.5 73.8h5.1v4.5h-5.1zM63.1 73.8h10.0v4.5h-10.0zM97.3 73.8h5.1v4.5h-5.1zM43.5 78.2h5.1v4.5h-5.1zM43.5 82.5h5.1v4.5h-5.1zM68.0 86.9h10.0v4.5h-10.0zM68.0 91.2h10.0v4.5h-10.0zM33.7 95.6h5.1v4.5h-5.1zM53.3 95.6h5.1v4.5h-5.1zM28.9 99.9h10.0v4.5h-10.0zM48.4 99.9h10.0v4.5h-10.0zM58.2 121.6h5.1v4.5h-5.1zM58.2 126.0h5.1v4.5h-5.1zM68.0 126.0h5.1v4.5h-5.1zM68.0 130.3h5.1v4.5h-5.1zM68.0 134.7h5.1v4.5h-5.1z"/>
<path fill="#6e6e6e" d="M112.0 65.2h5.1v4.5h-5.1zM38.6 69.5h5.1v4.5h-5.1zM63.1 69.5h5.1v4.5h-5.1zM102.2 69.5h5.1v4.5h-5.1zM38.6 73.8h5.1v4.5h-5.1zM9.3 95.6h5.1v4.5h-5.1zM24.0 95.6h10.0v4.5h-10.0zM77.8 117.3h5.1v4.5h-5.1zM87.5 117.3h5.1v4.5h-5.1zM72.9 130.3h5.1v4.5h-5.1zM146.2 130.3h14.9v4.5h-14.9zM72.9 134.7h5.1v4.5h-5.1z"/>
<path fill="#5e5e5e" d="M126.7 65.2h5.1v4.5h-5.1zM97.3 78.2h5.1v4.5h-5.1zM63.1 99.9h5.1v4.5h-5.1zM28.9 108.6h5.1v4.5h-5.1zM72.9 112.9h14.9v4.5h-14.9zM97.3 112.9h5.1v4.5h-5.1zM48.4 126.0h5.1v4.5h-5.1zM141.3 126.0h19.8v4.5h-19.8z"/>
<path fill="#606060" d="M131.5 65.2h5.1v4.5h-5.1zM82.6 78.2h10.0v4.5h-10.0zM19.1 99.9h5.1v4.5h-5.1zM24.0 104.2h5.1v4.5h-5.1zM58.2 104.2h5.1v4.5h-5.1zM87.5 112.9h5.1v4.5h-5.1zM53.3 117.3h5.1v4.5h-5.1z"/>
<path fill="#5a5a5a" d="M116.9 69.5h5.1v4.5h-5.1zM131.5 69.5h5.1v4.5h-5.1zM146.2 69.5h10.0v4.5h-10.0zM87.5 82.5h10.0v4.5h-10.0zM82.6 86.9h5.1v4.5h-5.1zM92.4 86.9h5.1v4.5h-5.1zM92.4 91.2h5.1v4.5h-5.1zM14.2 99.9h5.1v4.5h-5.1zM68.0 99.9h5.1v4.5h-5.1zM19.1 104.2h5.1v4.5h-5.1zM63.1 104.2h5.1v4.5h-5.1zM24.0 108.6h5.1v4.5h-5.1zM58.2 108.6h5.1v4.5h-5.1zM53.3 112.9h10.0v4.5h-10.0zM38.6 117.3h5.1v4.5h-5.1zM48.4 117.3h5.1v4.5h-5.1zM48.4 134.7h10.0v4.5h-10.0zM58.2 139.0h5.1v4.5h-5.1zM48.4 143.3h5.1v4.5h-5.1zM58.2 143.3h5.1v4.5h-5.1zM48.4 147.7h5.1v4.5h-5.1zM48.4 152.0h5.1v4.5h-5.1zM48.4 156.4h5.1v4.5h-5.1zM58.2 156.4h5.1v4.5h-5.1z"/>
<path fill="#545454" d="M121.8 69.5h10.0v4.5h-10.0zM112.0 73.8h5.1v4.5h-5.1zM97.3 95.6h5.1v4.5h-5.1zM19.1 108.6h5.1v4.5h-5.1zM92.4 108.6h5.1v4.5h-5.1zM116.9 112.9h5.1v4.5h-5.1zM43.5 130.3h5.1v4.5h-5.1z"/>
<path fill="#5c5c5c" d="M136.4 69.5h10.0v4.5h-10.0zM156.0 69.5h5.1v4.5h-5.1zM107.1 73.8h5.1v4.5h-5.1zM82.6 82.5h5.1v4.5h-5.1zM82.6 91.2h5.1v4.5h-5.1zM82.6 95.6h5.1v4.5h-5.1zM72.9 99.9h14.9v4.5h-14.9zM33.7 108.6h24.7v4.5h-24.7zM63.1 112.9h10.0v4.5h-10.0zM48.4 121.6h5.1v4.5h-5.1zM136.4 126.0h5.1v4.5h-5.1zM48.4 130.3h5.1v4.5h-5.1zM58.2 134.7h5.1v4.5h-5.1zM58.2 147.7h5.1v4.5h-5.1zM58.2 152.0h5.1v4.5h-5.1z"/>
<path fill="#505050" d="M116.9 73.8h5.1v4.5h-5.1zM131.5 73.8h29.5v4.5h-29.5zM107.1 78.2h5.1v4.5h-5.1zM102.2 95.6h5.1v4.5h-5.1zM92.4 99.9h5.1v4.5h-5.1zM14.2 104.2h5.1v4.5h-5.1zM97.3 108.6h5.1v4.5h-5.1zM28.9 121.6h5.1v4.5h-5.1zM136.4 121.6h10.0v4.5h-10.0zM38.6 126.0h5.1v4.5h-5.1zM38.6 134.7h5.1v4.5h-5.1zM38.6 139.0h5.1v4.5h-5.1zM38.6 143.3h5.1v4.5h-5.1zM38.6 147.7h5.1v4.5h-5.1zM38.6 152.0h5.1v4.5h-5.1zM38.6 156.4h5.1v4.5h-5.1z"/>
<path fill="#4e4e4e" d="M121.8 73.8h10.0v4.5h-10.0zM102.2 86.9h5.1v4.5h-5.1zM116.9 86.9h10.0v4.5h-10.0zM102.2 91.2h5.1v4.5h-5.1zM116.9 91.2h10.0v4.5h-10.0zM97.3 99.9h10.0v4.5h-10.0zM92.4 104.2h5.1v4.5h-5.1zM28.9 126.0h10.0v4.5h-10.0zM38.6 130.3h5.1v4.5h-5.1z"/>
<path fill="#585858" d="M102.2 78.2h5.1v4.5h-5.1zM97.3 82.5h5.1v4.5h-5.1zM87.5 86.9h5.1v4.5h-5.1zM87.5 91.2h5.1v4.5h-5.1zM97.3 91.2h5.1v4.5h-5.1zM87.5 95.6h10.0v4.5h-10.0zM-10.3 99.9h10.0v4.5h-10.0zM77.8 104.2h10.0v4.5h-10.0zM63.1 108.6h5.1v4.5h-5.1zM33.7 112.9h19.8v4.5h-19.8zM102.2 112.9h5.1v4.5h-5.1zM112.0 112.9h5.1v4.5h-5.1zM33.7 117.3h5.1v4.5h-5.1zM43.5 117.3h5.1v4.5h-5.1zM43.5 121.6h5.1v4.5h-5.1zM43.5 139.0h14.9v4.5h-14.9zM43.5 143.3h5.1v4.5h-5.1zM53.3 143.3h5.1v4.5h-5.1zM43.5 147.7h5.1v4.5h-5.1zM53.3 147.7h5.1v4.5h-5.1zM43.5 152.0h5.1v4.5h-5.1zM53.3 152.0h5.1v4.5h-5.1zM43.5 156.4h5.1v4.5h-5.1zM53.3 156.4h5.1v4.5h-5.1z"/>
<path fill="#4c4c4c" d="M112.0 78.2h5.1v4.5h-5.1zM126.7 78.2h5.1v4.5h-5.1zM107.1 82.5h5.1v4.5h-5.1zM121.8 82.5h39.3v4.5h-39.3zM112.0 86.9h5.1v4.5h-5.1zM126.7 86.9h34.4v4.5h-34.4zM112.0 91.2h5.1v4.5h-5.1zM126.7 91.2h5.1v4.5h-5.1zM107.1 95.6h5.1v4.5h-5.1zM107.1 99.9h5.1v4.5h-5.1zM19.1 112.9h5.1v4.5h-5.1zM131.5 117.3h5.1v4.5h-5.1z"/>
<path fill="#4a4a4a" d="M116.9 78.2h10.0v4.5h-10.0zM131.5 78.2h29.5v4.5h-29.5zM112.0 82.5h10.0v4.5h-10.0zM107.1 86.9h5.1v4.5h-5.1zM107.1 91.2h5.1v4.5h-5.1zM131.5 91.2h5.1v4.5h-5.1zM112.0 95.6h14.9v4.5h-14.9zM97.3 104.2h10.0v4.5h-10.0zM14.2 108.6h5.1v4.5h-5.1zM102.2 108.6h5.1v4.5h-5.1zM121.8 112.9h5.1v4.5h-5.1zM24.0 117.3h5.1v4.5h-5.1zM24.0 126.0h5.1v4.5h-5.1zM28.9 130.3h10.0v4.5h-10.0z"/>
<path fill="#525252" d="M102.2 82.5h5.1v4.5h-5.1zM24.0 112.9h5.1v4.5h-5.1zM28.9 117.3h5.1v4.5h-5.1zM146.2 121.6h14.9v4.5h-14.9z"/>
<path fill="#565656" d="M97.3 86.9h5.1v4.5h-5.1zM-24.9 99.9h14.9v4.5h-14.9zM-0.5 99.9h14.9v4.5h-14.9zM87.5 99.9h5.1v4.5h-5.1zM68.0 104.2h10.0v4.5h-10.0zM87.5 104.2h5.1v4.5h-5.1zM68.0 108.6h24.7v4.5h-24.7zM28.9 112.9h5.1v4.5h-5.1zM107.1 112.9h5.1v4.5h-5.1zM126.7 117.3h5.1v4.5h-5.1zM33.7 121.6h10.0v4.5h-10.0zM131.5 121.6h5.1v4.5h-5.1zM43.5 126.0h5.1v4.5h-5.1zM43.5 134.7h5.1v4.5h-5.1z"/>
<path fill="#484848" d="M136.4 91.2h24.7v4.5h-24.7zM126.7 95.6h5.1v4.5h-5.1zM9.3 104.2h5.1v4.5h-5.1zM107.1 104.2h5.1v4.5h-5.1zM146.2 117.3h14.9v4.5h-14.9zM24.0 121.6h5.1v4.5h-5.1zM24.0 130.3h5.1v4.5h-5.1zM33.7 134.7h5.1v4.5h-5.1zM33.7 139.0h5.1v4.5h-5.1zM33.7 143.3h5.1v4.5h-5.1zM33.7 147.7h5.1v4.5h-5.1zM33.7 152.0h5.1v4.5h-5.1zM33.7 156.4h5.1v4.5h-5.1z"/>
<path fill="#464646" d="M131.5 95.6h5.1v4.5h-5.1zM-24.9 104.2h29.5v4.5h-29.5zM-24.9 108.6h5.1v4.5h-5.1zM-10.3 108.6h10.0v4.5h-10.0zM107.1 108.6h10.0v4.5h-10.0zM-24.9 112.9h24.7v4.5h-24.7zM14.2 112.9h5.1v4.5h-5.1zM136.4 117.3h10.0v4.5h-10.0z"/>
<path fill="#444444" d="M136.4 95.6h24.7v4.5h-24.7zM112.0 99.9h5.1v4.5h-5.1zM4.4 104.2h5.1v4.5h-5.1zM-20.0 108.6h10.0v4.5h-10.0zM-0.5 108.6h5.1v4.5h-5.1zM-0.5 112.9h5.1v4.5h-5.1zM126.7 112.9h5.1v4.5h-5.1zM-24.9 117.3h24.7v4.5h-24.7zM19.1 117.3h5.1v4.5h-5.1zM28.9 134.7h5.1v4.5h-5.1z"/>
<path fill="#424242" d="M116.9 99.9h19.8v4.5h-19.8zM112.0 104.2h5.1v4.5h-5.1zM9.3 108.6h5.1v4.5h-5.1zM116.9 108.6h5.1v4.5h-5.1zM131.5 112.9h29.5v4.5h-29.5zM-0.5 117.3h5.1v4.5h-5.1zM-24.9 121.6h29.5v4.5h-29.5zM19.1 126.0h5.1v4.5h-5.1zM19.1 130.3h5.1v4.5h-5.1zM24.0 134.7h5.1v4.5h-5.1zM28.9 147.7h5.1v4.5h-5.1zM28.9 152.0h5.1v4.5h-5.1zM28.9 156.4h5.1v4.5h-5.1z"/>
<path fill="#404040" d="M136.4 99.9h24.7v4.5h-24.7zM4.4 108.6h5.1v4.5h-5.1zM136.4 108.6h5.1v4.5h-5.1zM4.4 112.9h10.0v4.5h-10.0zM4.4 117.3h5.1v4.5h-5.1zM14.2 117.3h5.1v4.5h-5.1zM4.4 121.6h5.1v4.5h-5.1zM19.1 121.6h5.1v4.5h-5.1zM-24.9 126.0h34.4v4.5h-34.4zM-24.9 130.3h34.4v4.5h-34.4zM-24.9 134.7h49.1v4.5h-49.1zM-24.9 139.0h44.2v4.5h-44.2zM28.9 139.0h5.1v4.5h-5.1zM-24.9 143.3h44.2v4.5h-44.2zM28.9 143.3h5.1v4.5h-5.1zM-24.9 147.7h49.1v4.5h-49.1zM-24.9 152.0h49.1v4.5h-49.1zM-24.9 156.4h44.2v4.5h-44.2z"/>
<path fill="#3e3e3e" d="M116.9 104.2h5.1v4.5h-5.1zM126.7 104.2h34.4v4.5h-34.4zM121.8 108.6h5.1v4.5h-5.1zM131.5 108.6h5.1v4.5h-5.1zM141.3 108.6h19.8v4.5h-19.8zM9.3 117.3h5.1v4.5h-5.1zM9.3 121.6h10.0v4.5h-10.0zM9.3 126.0h10.0v4.5h-10.0zM9.3 130.3h10.0v4.5h-10.0zM19.1 139.0h10.0v4.5h-10.0zM19.1 143.3h10.0v4.5h-10.0zM24.0 147.7h5.1v4.5h-5.1zM24.0 152.0h5.1v4.5h-5.1zM19.1 156.4h10.0v4.5h-10.0z"/>
<path fill="#3c3c3c" d="M121.8 104.2h5.1v4.5h-5.1zM126.7 108.6h5.1v4.5h-5.1z"/>
</g></g>
<path d="M15.5,0.0C15.8,0.2 16.3,0.8 17.5,1.5C18.7,2.2 20.5,3.2 22.5,4.0C24.5,4.8 26.7,5.7 29.5,6.5C32.3,7.3 36.2,8.2 39.5,8.7C42.8,9.2 46.5,9.5 49.5,9.5C52.5,9.5 54.8,9.2 57.5,8.5C60.2,7.8 63.5,6.4 65.5,5.5C67.5,4.6 68.5,3.8 69.5,3.0C70.5,2.2 71.0,1.5 71.5,1.0C72.0,0.5 72.3,0.2 72.5,0.0M0.0,13.5C0.9,14.2 3.6,16.7 5.5,18.0C7.4,19.3 9.0,20.5 11.5,21.5C14.0,22.5 17.5,23.5 20.5,24.0C23.5,24.5 26.3,24.4 29.5,24.5C32.7,24.6 36.2,24.5 39.5,24.3C42.8,24.1 46.2,23.9 49.5,23.5C52.8,23.1 56.2,22.7 59.5,22.2C62.8,21.7 66.0,21.2 69.5,20.5C73.0,19.8 76.8,18.8 80.5,18.0C84.2,17.2 89.7,15.9 91.5,15.5M122.5,15.5C123.7,15.8 127.2,16.8 129.5,17.5C131.8,18.2 135.3,19.2 136.5,19.5M0.0,96.5C1.4,96.4 5.9,96.3 8.5,96.1C11.1,95.9 13.2,95.8 15.5,95.5C17.8,95.2 20.5,95.0 22.5,94.5C24.5,94.0 26.1,93.3 27.5,92.5C28.9,91.7 30.2,90.7 31.0,89.5C31.8,88.3 32.2,87.5 32.5,85.5C32.8,83.5 32.8,80.2 33.0,77.5C33.2,74.8 33.3,72.3 33.5,69.5C33.7,66.7 33.7,63.2 34.0,60.5C34.3,57.8 34.8,55.3 35.5,53.5C36.2,51.7 37.2,50.5 38.5,49.5C39.8,48.5 41.7,48.1 43.5,47.5C45.3,46.9 47.5,46.4 49.5,46.1C51.5,45.8 53.5,45.8 55.5,45.9C57.5,46.0 59.5,46.1 61.5,46.5C63.5,46.9 65.8,47.5 67.5,48.5C69.2,49.5 70.2,51.0 71.5,52.5C72.8,54.0 74.2,55.8 75.5,57.5C76.8,59.2 78.2,61.3 79.5,63.0C80.8,64.7 82.2,66.2 83.5,67.5C84.8,68.8 86.2,70.1 87.5,70.8C88.8,71.5 90.2,71.5 91.5,71.5C92.8,71.5 94.2,71.3 95.5,71.0C96.8,70.7 98.0,70.4 99.5,69.5C101.0,68.6 102.8,66.8 104.5,65.5C106.2,64.2 107.7,62.7 109.5,61.5C111.3,60.3 113.3,59.4 115.5,58.5C117.7,57.6 120.2,56.8 122.5,56.0C124.8,55.2 127.2,54.4 129.5,53.5C131.8,52.6 135.3,51.0 136.5,50.5M0.0,107.5C0.9,107.8 3.6,108.3 5.5,109.0C7.4,109.7 9.5,110.5 11.5,111.5C13.5,112.5 15.8,113.7 17.5,115.0C19.2,116.3 20.6,117.9 21.5,119.5C22.4,121.1 22.9,122.8 23.2,124.5C23.5,126.2 23.5,127.8 23.5,129.5C23.5,131.2 23.3,132.9 23.1,134.5C22.9,136.1 22.6,138.2 22.5,139.0M93.5,139.0C93.7,137.9 93.8,134.4 94.5,132.5C95.2,130.6 96.3,128.8 97.5,127.5C98.7,126.2 100.2,125.5 101.5,125.0C102.8,124.5 103.7,124.5 105.5,124.5C107.3,124.5 110.2,124.8 112.5,125.3C114.8,125.8 117.3,126.5 119.5,127.5C121.7,128.4 123.5,129.7 125.5,131.0C127.5,132.3 129.8,134.2 131.5,135.5C133.2,136.8 135.2,138.0 136.0,138.5M125.5,109.5C126.0,110.2 127.5,112.3 128.5,114.0C129.5,115.7 130.2,117.9 131.5,119.5C132.8,121.1 135.2,122.8 136.0,123.5" fill="none" stroke="#b8b8b8" stroke-opacity="0.75" stroke-width="1.5" stroke-linejoin="round" stroke-linecap="round" clip-path="url(#pc)"/>
<line x1="0" y1="104.25" x2="136" y2="104.25" stroke="#3a3a3a" stroke-opacity="0.68" stroke-width="1.9" stroke-dasharray="6 5.8"/>
<line x1="67.97" y1="139" x2="67.97" y2="0" stroke="#3a3a3a" stroke-opacity="0.68" stroke-width="1.9" stroke-dasharray="6 5.8"/>
<rect x="0" y="0" width="136" height="139" fill="none" stroke="#636363" stroke-width="1.35"/>
</g>
<text x="107.50" y="182.5" font-size="12" font-style="italic" fill="#1a1a1a" text-anchor="middle">P. abies</text>
<g transform="translate(184.0,191.5)">
<g clip-path="url(#m5)"><g filter="url(#cm)">
<path fill="#999999" d="M-24.9 -21.7h34.4v4.5h-34.4zM-24.9 -17.4h34.4v4.5h-34.4zM-24.9 -13.0h19.8v4.5h-19.8zM-0.5 -13.0h10.0v4.5h-10.0zM-24.9 -8.7h29.5v4.5h-29.5zM-24.9 -4.3h10.0v4.5h-10.0zM-10.3 -4.3h10.0v4.5h-10.0zM38.6 21.7h5.1v4.5h-5.1zM126.7 30.4h5.1v4.5h-5.1zM19.1 39.1h5.1v4.5h-5.1zM107.1 69.5h5.1v4.5h-5.1zM-24.9 126.0h39.3v4.5h-39.3zM-24.9 130.3h39.3v4.5h-39.3zM19.1 130.3h5.1v4.5h-5.1zM-24.9 134.7h54.0v4.5h-54.0zM-24.9 139.0h44.2v4.5h-44.2zM-24.9 143.3h49.1v4.5h-49.1zM-24.9 147.7h49.1v4.5h-49.1zM-24.9 152.0h49.1v4.5h-49.1zM-24.9 156.4h49.1v4.5h-49.1z"/>
<path fill="#9d9d9d" d="M9.3 -21.7h5.1v4.5h-5.1zM43.5 -21.7h5.1v4.5h-5.1zM9.3 -17.4h5.1v4.5h-5.1zM43.5 -17.4h5.1v4.5h-5.1zM9.3 -13.0h5.1v4.5h-5.1zM43.5 -13.0h5.1v4.5h-5.1zM43.5 -8.7h5.1v4.5h-5.1zM43.5 -4.3h5.1v4.5h-5.1zM-24.9 0.0h24.7v4.5h-24.7zM9.3 0.0h5.1v4.5h-5.1zM43.5 0.0h5.1v4.5h-5.1zM43.5 4.3h5.1v4.5h-5.1zM43.5 8.7h5.1v4.5h-5.1zM43.5 13.0h5.1v4.5h-5.1zM9.3 47.8h5.1v4.5h-5.1zM97.3 56.5h5.1v4.5h-5.1zM97.3 60.8h5.1v4.5h-5.1z"/>
<path fill="#a3a3a3" d="M14.2 -21.7h5.1v4.5h-5.1zM14.2 -17.4h5.1v4.5h-5.1zM14.2 -13.0h5.1v4.5h-5.1zM14.2 -8.7h5.1v4.5h-5.1zM14.2 -4.3h5.1v4.5h-5.1zM14.2 0.0h5.1v4.5h-5.1zM38.6 0.0h5.1v4.5h-5.1zM-24.9 4.3h39.3v4.5h-39.3zM38.6 4.3h5.1v4.5h-5.1zM9.3 43.4h5.1v4.5h-5.1zM102.2 52.1h5.1v4.5h-5.1zM131.5 73.8h5.1v4.5h-5.1z"/>
<path fill="#a7a7a7" d="M19.1 -21.7h19.8v4.5h-19.8zM19.1 -17.4h19.8v4.5h-19.8zM19.1 -13.0h19.8v4.5h-19.8zM19.1 -8.7h19.8v4.5h-19.8zM19.1 -4.3h19.8v4.5h-19.8zM19.1 0.0h19.8v4.5h-19.8zM19.1 4.3h19.8v4.5h-19.8zM-24.9 8.7h29.5v4.5h-29.5zM14.2 8.7h5.1v4.5h-5.1zM28.9 8.7h10.0v4.5h-10.0zM28.9 13.0h5.1v4.5h-5.1zM-10.3 17.4h10.0v4.5h-10.0zM28.9 17.4h5.1v4.5h-5.1zM24.0 21.7h5.1v4.5h-5.1zM9.3 30.4h10.0v4.5h-10.0zM4.4 34.8h5.1v4.5h-5.1zM126.7 34.8h5.1v4.5h-5.1zM4.4 39.1h5.1v4.5h-5.1zM121.8 39.1h5.1v4.5h-5.1zM4.4 43.4h5.1v4.5h-5.1zM112.0 65.2h5.1v4.5h-5.1z"/>
<path fill="#a5a5a5" d="M38.6 -21.7h5.1v4.5h-5.1zM38.6 -17.4h5.1v4.5h-5.1zM38.6 -13.0h5.1v4.5h-5.1zM38.6 -8.7h5.1v4.5h-5.1zM38.6 -4.3h5.1v4.5h-5.1zM14.2 4.3h5.1v4.5h-5.1zM19.1 8.7h10.0v4.5h-10.0zM38.6 8.7h5.1v4.5h-5.1zM-24.9 13.0h24.7v4.5h-24.7zM19.1 13.0h10.0v4.5h-10.0zM38.6 13.0h5.1v4.5h-5.1zM19.1 17.4h10.0v4.5h-10.0zM33.7 17.4h5.1v4.5h-5.1zM19.1 21.7h5.1v4.5h-5.1zM28.9 21.7h5.1v4.5h-5.1zM19.1 26.1h10.0v4.5h-10.0zM19.1 30.4h5.1v4.5h-5.1zM131.5 30.4h5.1v4.5h-5.1zM9.3 34.8h10.0v4.5h-10.0zM9.3 39.1h5.1v4.5h-5.1zM-24.9 43.4h29.5v4.5h-29.5zM116.9 43.4h5.1v4.5h-5.1zM107.1 47.8h5.1v4.5h-5.1zM102.2 56.5h5.1v4.5h-5.1zM107.1 60.8h5.1v4.5h-5.1zM116.9 69.5h5.1v4.5h-5.1zM136.4 73.8h24.7v4.5h-24.7z"/>
<path fill="#959595" d="M48.4 -21.7h5.1v4.5h-5.1zM48.4 -17.4h5.1v4.5h-5.1zM48.4 -13.0h5.1v4.5h-5.1zM48.4 -8.7h5.1v4.5h-5.1zM48.4 -4.3h5.1v4.5h-5.1zM48.4 0.0h5.1v4.5h-5.1zM48.4 4.3h5.1v4.5h-5.1zM48.4 17.4h5.1v4.5h-5.1zM136.4 26.1h24.7v4.5h-24.7zM14.2 47.8h5.1v4.5h-5.1zM97.3 65.2h5.1v4.5h-5.1zM112.0 73.8h5.1v4.5h-5.1zM136.4 78.2h24.7v4.5h-24.7zM9.3 121.6h10.0v4.5h-10.0zM19.1 126.0h5.1v4.5h-5.1zM24.0 130.3h5.1v4.5h-5.1zM28.9 134.7h5.1v4.5h-5.1z"/>
<path fill="#8d8d8d" d="M53.3 -21.7h5.1v4.5h-5.1zM53.3 -17.4h5.1v4.5h-5.1zM53.3 -13.0h5.1v4.5h-5.1zM53.3 -8.7h5.1v4.5h-5.1zM53.3 -4.3h5.1v4.5h-5.1zM53.3 0.0h5.1v4.5h-5.1zM48.4 21.7h5.1v4.5h-5.1zM112.0 34.8h5.1v4.5h-5.1zM24.0 43.4h5.1v4.5h-5.1zM19.1 47.8h5.1v4.5h-5.1zM92.4 52.1h5.1v4.5h-5.1zM92.4 65.2h5.1v4.5h-5.1zM102.2 73.8h5.1v4.5h-5.1zM116.9 78.2h5.1v4.5h-5.1zM19.1 121.6h5.1v4.5h-5.1z"/>
<path fill="#7e7e7e" d="M58.2 -21.7h5.1v4.5h-5.1zM58.2 -17.4h5.1v4.5h-5.1zM58.2 -13.0h5.1v4.5h-5.1zM58.2 -8.7h5.1v4.5h-5.1zM58.2 -4.3h5.1v4.5h-5.1zM58.2 0.0h5.1v4.5h-5.1zM131.5 17.4h5.1v4.5h-5.1zM58.2 21.7h5.1v4.5h-5.1zM126.7 21.7h5.1v4.5h-5.1zM58.2 30.4h5.1v4.5h-5.1zM107.1 30.4h5.1v4.5h-5.1zM48.4 34.8h10.0v4.5h-10.0zM48.4 39.1h5.1v4.5h-5.1zM38.6 43.4h10.0v4.5h-10.0zM92.4 43.4h5.1v4.5h-5.1zM38.6 47.8h5.1v4.5h-5.1zM24.0 52.1h5.1v4.5h-5.1zM33.7 52.1h5.1v4.5h-5.1zM82.6 69.5h5.1v4.5h-5.1zM77.8 78.2h5.1v4.5h-5.1zM97.3 86.9h5.1v4.5h-5.1zM121.8 86.9h5.1v4.5h-5.1zM19.1 117.3h5.1v4.5h-5.1zM24.0 121.6h5.1v4.5h-5.1zM33.7 126.0h5.1v4.5h-5.1z"/>
<path fill="#6c6c6c" d="M63.1 -21.7h5.1v4.5h-5.1zM112.0 -21.7h5.1v4.5h-5.1zM63.1 -17.4h5.1v4.5h-5.1zM112.0 -17.4h5.1v4.5h-5.1zM63.1 -13.0h5.1v4.5h-5.1zM112.0 -13.0h5.1v4.5h-5.1zM63.1 -8.7h5.1v4.5h-5.1zM112.0 -8.7h5.1v4.5h-5.1zM63.1 -4.3h5.1v4.5h-5.1zM112.0 -4.3h5.1v4.5h-5.1zM63.1 0.0h5.1v4.5h-5.1zM63.1 4.3h5.1v4.5h-5.1zM63.1 8.7h5.1v4.5h-5.1zM107.1 8.7h5.1v4.5h-5.1zM107.1 13.0h5.1v4.5h-5.1zM107.1 17.4h5.1v4.5h-5.1zM68.0 21.7h5.1v4.5h-5.1zM87.5 34.8h5.1v4.5h-5.1zM53.3 56.5h5.1v4.5h-5.1zM9.3 60.8h5.1v4.5h-5.1zM48.4 60.8h5.1v4.5h-5.1zM63.1 65.2h5.1v4.5h-5.1zM58.2 69.5h5.1v4.5h-5.1zM48.4 82.5h5.1v4.5h-5.1zM112.0 95.6h5.1v4.5h-5.1zM63.1 104.2h5.1v4.5h-5.1zM77.8 104.2h5.1v4.5h-5.1zM19.1 112.9h5.1v4.5h-5.1zM28.9 117.3h5.1v4.5h-5.1zM68.0 126.0h5.1v4.5h-5.1z"/>
<path fill="#606060" d="M68.0 -21.7h5.1v4.5h-5.1zM68.0 -17.4h5.1v4.5h-5.1zM68.0 -13.0h5.1v4.5h-5.1zM68.0 -8.7h5.1v4.5h-5.1zM68.0 -4.3h5.1v4.5h-5.1zM68.0 0.0h5.1v4.5h-5.1zM107.1 0.0h5.1v4.5h-5.1zM68.0 4.3h5.1v4.5h-5.1zM102.2 4.3h5.1v4.5h-5.1zM68.0 8.7h5.1v4.5h-5.1zM77.8 21.7h5.1v4.5h-5.1zM14.2 69.5h5.1v4.5h-5.1zM19.1 73.8h5.1v4.5h-5.1zM24.0 78.2h5.1v4.5h-5.1zM136.4 91.2h5.1v4.5h-5.1zM33.7 95.6h5.1v4.5h-5.1zM-24.9 108.6h49.1v4.5h-49.1z"/>
<path fill="#5a5a5a" d="M72.9 -21.7h5.1v4.5h-5.1zM87.5 -21.7h10.0v4.5h-10.0zM72.9 -17.4h5.1v4.5h-5.1zM87.5 -17.4h10.0v4.5h-10.0zM72.9 -13.0h5.1v4.5h-5.1zM87.5 -13.0h10.0v4.5h-10.0zM72.9 -8.7h5.1v4.5h-5.1zM87.5 -8.7h10.0v4.5h-10.0zM72.9 -4.3h5.1v4.5h-5.1zM87.5 -4.3h10.0v4.5h-10.0zM72.9 0.0h5.1v4.5h-5.1zM87.5 0.0h10.0v4.5h-10.0zM72.9 4.3h5.1v4.5h-5.1zM97.3 4.3h5.1v4.5h-5.1zM72.9 8.7h5.1v4.5h-5.1zM77.8 17.4h10.0v4.5h-10.0zM97.3 17.4h5.1v4.5h-5.1zM82.6 21.7h5.1v4.5h-5.1zM87.5 26.1h10.0v4.5h-10.0zM-10.3 60.8h10.0v4.5h-10.0zM4.4 65.2h5.1v4.5h-5.1zM19.1 78.2h5.1v4.5h-5.1zM33.7 99.9h5.1v4.5h-5.1zM-10.3 104.2h10.0v4.5h-10.0zM9.3 104.2h10.0v4.5h-10.0zM28.9 104.2h5.1v4.5h-5.1zM97.3 108.6h5.1v4.5h-5.1zM92.4 112.9h5.1v4.5h-5.1zM102.2 121.6h5.1v4.5h-5.1zM92.4 126.0h5.1v4.5h-5.1zM97.3 130.3h10.0v4.5h-10.0z"/>
<path fill="#585858" d="M77.8 -21.7h10.0v4.5h-10.0zM97.3 -21.7h5.1v4.5h-5.1zM77.8 -17.4h10.0v4.5h-10.0zM97.3 -17.4h5.1v4.5h-5.1zM77.8 -13.0h10.0v4.5h-10.0zM97.3 -13.0h5.1v4.5h-5.1zM77.8 -8.7h10.0v4.5h-10.0zM97.3 -8.7h5.1v4.5h-5.1zM77.8 -4.3h10.0v4.5h-10.0zM97.3 -4.3h5.1v4.5h-5.1zM77.8 0.0h10.0v4.5h-10.0zM97.3 0.0h10.0v4.5h-10.0zM77.8 4.3h19.8v4.5h-19.8zM77.8 8.7h19.8v4.5h-19.8zM72.9 13.0h24.7v4.5h-24.7zM87.5 17.4h5.1v4.5h-5.1zM9.3 69.5h5.1v4.5h-5.1zM14.2 73.8h5.1v4.5h-5.1zM24.0 82.5h5.1v4.5h-5.1zM24.0 99.9h10.0v4.5h-10.0zM33.7 104.2h5.1v4.5h-5.1zM107.1 108.6h5.1v4.5h-5.1zM97.3 112.9h10.0v4.5h-10.0zM97.3 117.3h10.0v4.5h-10.0zM97.3 121.6h5.1v4.5h-5.1zM107.1 121.6h5.1v4.5h-5.1zM97.3 126.0h14.9v4.5h-14.9z"/>
<path fill="#565656" d="M102.2 -21.7h5.1v4.5h-5.1zM102.2 -17.4h5.1v4.5h-5.1zM102.2 -13.0h5.1v4.5h-5.1zM102.2 -8.7h5.1v4.5h-5.1zM102.2 -4.3h5.1v4.5h-5.1zM92.4 17.4h5.1v4.5h-5.1zM87.5 21.7h5.1v4.5h-5.1zM24.0 95.6h5.1v4.5h-5.1zM131.5 95.6h5.1v4.5h-5.1zM-24.9 99.9h49.1v4.5h-49.1zM112.0 104.2h5.1v4.5h-5.1zM107.1 112.9h5.1v4.5h-5.1zM107.1 117.3h5.1v4.5h-5.1zM107.1 130.3h5.1v4.5h-5.1zM107.1 134.7h5.1v4.5h-5.1z"/>
<path fill="#5e5e5e" d="M107.1 -21.7h5.1v4.5h-5.1zM107.1 -17.4h5.1v4.5h-5.1zM107.1 -13.0h5.1v4.5h-5.1zM107.1 -8.7h5.1v4.5h-5.1zM107.1 -4.3h5.1v4.5h-5.1zM68.0 13.0h5.1v4.5h-5.1zM82.6 26.1h5.1v4.5h-5.1zM-0.5 60.8h5.1v4.5h-5.1zM28.9 82.5h5.1v4.5h-5.1zM28.9 91.2h5.1v4.5h-5.1zM38.6 99.9h5.1v4.5h-5.1zM116.9 99.9h5.1v4.5h-5.1zM107.1 104.2h5.1v4.5h-5.1zM92.4 130.3h5.1v4.5h-5.1zM102.2 139.0h5.1v4.5h-5.1zM102.2 143.3h5.1v4.5h-5.1zM102.2 147.7h5.1v4.5h-5.1zM102.2 152.0h5.1v4.5h-5.1zM102.2 156.4h5.1v4.5h-5.1z"/>
<path fill="#747474" d="M116.9 -21.7h10.0v4.5h-10.0zM116.9 -17.4h10.0v4.5h-10.0zM116.9 -13.0h10.0v4.5h-10.0zM116.9 -8.7h10.0v4.5h-10.0zM116.9 -4.3h10.0v4.5h-10.0zM116.9 0.0h10.0v4.5h-10.0zM116.9 4.3h10.0v4.5h-10.0zM131.5 8.7h5.1v4.5h-5.1zM146.2 8.7h14.9v4.5h-14.9zM126.7 13.0h5.1v4.5h-5.1zM63.1 21.7h5.1v4.5h-5.1zM107.1 26.1h5.1v4.5h-5.1zM92.4 34.8h5.1v4.5h-5.1zM58.2 39.1h10.0v4.5h-10.0zM53.3 43.4h5.1v4.5h-5.1zM63.1 43.4h5.1v4.5h-5.1zM48.4 47.8h5.1v4.5h-5.1zM58.2 47.8h10.0v4.5h-10.0zM43.5 52.1h5.1v4.5h-5.1zM-0.5 56.5h5.1v4.5h-5.1zM43.5 56.5h5.1v4.5h-5.1zM77.8 60.8h5.1v4.5h-5.1zM68.0 69.5h5.1v4.5h-5.1zM53.3 78.2h5.1v4.5h-5.1zM68.0 78.2h5.1v4.5h-5.1zM58.2 82.5h5.1v4.5h-5.1zM82.6 82.5h5.1v4.5h-5.1zM58.2 86.9h10.0v4.5h-10.0zM87.5 86.9h5.1v4.5h-5.1zM58.2 91.2h10.0v4.5h-10.0zM87.5 91.2h5.1v4.5h-5.1zM68.0 95.6h10.0v4.5h-10.0zM48.4 130.3h19.8v4.5h-19.8zM53.3 134.7h5.1v4.5h-5.1zM53.3 139.0h5.1v4.5h-5.1zM68.0 139.0h10.0v4.5h-10.0zM53.3 143.3h5.1v4.5h-5.1zM68.0 143.3h10.0v4.5h-10.0zM53.3 147.7h5.1v4.5h-5.1zM68.0 147.7h10.0v4.5h-10.0zM53.3 152.0h5.1v4.5h-5.1zM68.0 152.0h10.0v4.5h-10.0zM53.3 156.4h5.1v4.5h-5.1zM68.0 156.4h10.0v4.5h-10.0z"/>
<path fill="#727272" d="M126.7 -21.7h34.4v4.5h-34.4zM126.7 -17.4h34.4v4.5h-34.4zM126.7 -13.0h34.4v4.5h-34.4zM126.7 -8.7h34.4v4.5h-34.4zM126.7 -4.3h34.4v4.5h-34.4zM126.7 0.0h34.4v4.5h-34.4zM126.7 4.3h34.4v4.5h-34.4zM112.0 8.7h19.8v4.5h-19.8zM112.0 13.0h14.9v4.5h-14.9zM116.9 17.4h10.0v4.5h-10.0zM116.9 21.7h5.1v4.5h-5.1zM87.5 39.1h5.1v4.5h-5.1zM58.2 43.4h5.1v4.5h-5.1zM82.6 43.4h5.1v4.5h-5.1zM53.3 47.8h5.1v4.5h-5.1zM68.0 47.8h5.1v4.5h-5.1zM77.8 47.8h5.1v4.5h-5.1zM72.9 52.1h5.1v4.5h-5.1zM-24.9 56.5h24.7v4.5h-24.7zM77.8 65.2h5.1v4.5h-5.1zM63.1 69.5h5.1v4.5h-5.1zM48.4 73.8h5.1v4.5h-5.1zM63.1 73.8h5.1v4.5h-5.1zM48.4 78.2h5.1v4.5h-5.1zM58.2 78.2h5.1v4.5h-5.1zM63.1 82.5h10.0v4.5h-10.0zM68.0 86.9h5.1v4.5h-5.1zM68.0 91.2h5.1v4.5h-5.1zM77.8 91.2h10.0v4.5h-10.0zM126.7 91.2h5.1v4.5h-5.1zM58.2 95.6h10.0v4.5h-10.0zM77.8 95.6h5.1v4.5h-5.1zM77.8 99.9h5.1v4.5h-5.1zM68.0 104.2h10.0v4.5h-10.0zM24.0 117.3h5.1v4.5h-5.1zM38.6 121.6h5.1v4.5h-5.1zM63.1 126.0h5.1v4.5h-5.1zM68.0 130.3h5.1v4.5h-5.1zM58.2 134.7h19.8v4.5h-19.8zM63.1 143.3h5.1v4.5h-5.1zM58.2 147.7h10.0v4.5h-10.0zM58.2 152.0h10.0v4.5h-10.0zM58.2 156.4h10.0v4.5h-10.0z"/>
<path fill="#9b9b9b" d="M-5.4 -13.0h5.1v4.5h-5.1zM9.3 -8.7h5.1v4.5h-5.1zM9.3 -4.3h5.1v4.5h-5.1zM-0.5 0.0h10.0v4.5h-10.0zM43.5 17.4h5.1v4.5h-5.1zM33.7 26.1h5.1v4.5h-5.1zM28.9 30.4h5.1v4.5h-5.1zM24.0 34.8h5.1v4.5h-5.1zM121.8 34.8h5.1v4.5h-5.1zM116.9 39.1h5.1v4.5h-5.1zM14.2 43.4h5.1v4.5h-5.1zM112.0 43.4h5.1v4.5h-5.1zM102.2 47.8h5.1v4.5h-5.1zM102.2 65.2h5.1v4.5h-5.1zM121.8 73.8h5.1v4.5h-5.1zM14.2 126.0h5.1v4.5h-5.1zM14.2 130.3h5.1v4.5h-5.1zM19.1 139.0h10.0v4.5h-10.0zM24.0 143.3h5.1v4.5h-5.1zM24.0 147.7h5.1v4.5h-5.1zM24.0 152.0h5.1v4.5h-5.1zM24.0 156.4h5.1v4.5h-5.1z"/>
<path fill="#979797" d="M4.4 -8.7h5.1v4.5h-5.1zM-15.2 -4.3h5.1v4.5h-5.1zM-0.5 -4.3h10.0v4.5h-10.0zM48.4 8.7h5.1v4.5h-5.1zM48.4 13.0h5.1v4.5h-5.1zM107.1 43.4h5.1v4.5h-5.1zM97.3 52.1h5.1v4.5h-5.1zM116.9 73.8h5.1v4.5h-5.1zM28.9 139.0h5.1v4.5h-5.1zM28.9 143.3h5.1v4.5h-5.1zM28.9 147.7h5.1v4.5h-5.1zM28.9 152.0h5.1v4.5h-5.1zM28.9 156.4h5.1v4.5h-5.1z"/>
<path fill="#6e6e6e" d="M112.0 0.0h5.1v4.5h-5.1zM63.1 13.0h5.1v4.5h-5.1zM107.1 21.7h5.1v4.5h-5.1zM102.2 26.1h5.1v4.5h-5.1zM68.0 34.8h5.1v4.5h-5.1zM68.0 39.1h5.1v4.5h-5.1zM63.1 52.1h5.1v4.5h-5.1zM14.2 60.8h24.7v4.5h-24.7zM72.9 60.8h5.1v4.5h-5.1zM43.5 73.8h5.1v4.5h-5.1zM43.5 78.2h5.1v4.5h-5.1zM53.3 95.6h5.1v4.5h-5.1zM92.4 95.6h5.1v4.5h-5.1zM107.1 95.6h5.1v4.5h-5.1zM116.9 95.6h10.0v4.5h-10.0zM-24.9 112.9h44.2v4.5h-44.2zM38.6 117.3h5.1v4.5h-5.1zM48.4 126.0h10.0v4.5h-10.0zM77.8 134.7h5.1v4.5h-5.1z"/>
<path fill="#8b8b8b" d="M53.3 4.3h5.1v4.5h-5.1zM43.5 26.1h5.1v4.5h-5.1zM126.7 26.1h5.1v4.5h-5.1zM38.6 30.4h5.1v4.5h-5.1zM33.7 34.8h5.1v4.5h-5.1zM28.9 39.1h5.1v4.5h-5.1zM107.1 39.1h5.1v4.5h-5.1zM14.2 52.1h5.1v4.5h-5.1zM97.3 69.5h5.1v4.5h-5.1zM107.1 78.2h10.0v4.5h-10.0zM24.0 126.0h5.1v4.5h-5.1zM38.6 139.0h5.1v4.5h-5.1z"/>
<path fill="#7c7c7c" d="M58.2 4.3h5.1v4.5h-5.1zM136.4 13.0h24.7v4.5h-24.7zM58.2 26.1h5.1v4.5h-5.1zM28.9 52.1h5.1v4.5h-5.1zM38.6 52.1h5.1v4.5h-5.1zM82.6 52.1h5.1v4.5h-5.1zM9.3 56.5h5.1v4.5h-5.1zM82.6 56.5h5.1v4.5h-5.1zM72.9 73.8h5.1v4.5h-5.1zM72.9 78.2h5.1v4.5h-5.1zM82.6 78.2h14.9v4.5h-14.9zM92.4 82.5h5.1v4.5h-5.1zM102.2 86.9h19.8v4.5h-19.8zM126.7 86.9h5.1v4.5h-5.1zM48.4 139.0h5.1v4.5h-5.1zM48.4 143.3h5.1v4.5h-5.1zM48.4 147.7h5.1v4.5h-5.1zM48.4 152.0h5.1v4.5h-5.1zM48.4 156.4h5.1v4.5h-5.1z"/>
<path fill="#686868" d="M107.1 4.3h5.1v4.5h-5.1zM92.4 30.4h5.1v4.5h-5.1zM58.2 56.5h5.1v4.5h-5.1zM19.1 65.2h29.5v4.5h-29.5zM43.5 69.5h14.9v4.5h-14.9zM38.6 73.8h5.1v4.5h-5.1zM38.6 78.2h5.1v4.5h-5.1zM43.5 82.5h5.1v4.5h-5.1zM48.4 91.2h5.1v4.5h-5.1zM131.5 91.2h5.1v4.5h-5.1zM48.4 95.6h5.1v4.5h-5.1zM53.3 99.9h5.1v4.5h-5.1zM87.5 99.9h10.0v4.5h-10.0zM63.1 108.6h19.8v4.5h-19.8zM28.9 112.9h5.1v4.5h-5.1zM38.6 112.9h5.1v4.5h-5.1zM82.6 112.9h5.1v4.5h-5.1zM43.5 117.3h5.1v4.5h-5.1zM82.6 117.3h5.1v4.5h-5.1zM53.3 121.6h5.1v4.5h-5.1zM68.0 121.6h5.1v4.5h-5.1zM77.8 130.3h5.1v4.5h-5.1zM82.6 134.7h5.1v4.5h-5.1zM82.6 139.0h5.1v4.5h-5.1zM82.6 143.3h5.1v4.5h-5.1zM82.6 147.7h5.1v4.5h-5.1zM82.6 152.0h5.1v4.5h-5.1zM82.6 156.4h5.1v4.5h-5.1z"/>
<path fill="#707070" d="M112.0 4.3h5.1v4.5h-5.1zM63.1 17.4h5.1v4.5h-5.1zM112.0 17.4h5.1v4.5h-5.1zM112.0 21.7h5.1v4.5h-5.1zM68.0 26.1h5.1v4.5h-5.1zM68.0 30.4h5.1v4.5h-5.1zM97.3 30.4h5.1v4.5h-5.1zM68.0 43.4h5.1v4.5h-5.1zM72.9 47.8h5.1v4.5h-5.1zM48.4 52.1h14.9v4.5h-14.9zM68.0 52.1h5.1v4.5h-5.1zM48.4 56.5h5.1v4.5h-5.1zM72.9 56.5h5.1v4.5h-5.1zM38.6 60.8h10.0v4.5h-10.0zM68.0 65.2h10.0v4.5h-10.0zM53.3 73.8h10.0v4.5h-10.0zM63.1 78.2h5.1v4.5h-5.1zM53.3 82.5h5.1v4.5h-5.1zM53.3 86.9h5.1v4.5h-5.1zM72.9 86.9h14.9v4.5h-14.9zM53.3 91.2h5.1v4.5h-5.1zM72.9 91.2h5.1v4.5h-5.1zM82.6 95.6h10.0v4.5h-10.0zM97.3 95.6h10.0v4.5h-10.0zM63.1 99.9h5.1v4.5h-5.1zM33.7 117.3h5.1v4.5h-5.1zM43.5 126.0h5.1v4.5h-5.1zM58.2 126.0h5.1v4.5h-5.1zM58.2 139.0h10.0v4.5h-10.0zM77.8 139.0h5.1v4.5h-5.1zM58.2 143.3h5.1v4.5h-5.1zM77.8 143.3h5.1v4.5h-5.1zM77.8 147.7h5.1v4.5h-5.1zM77.8 152.0h5.1v4.5h-5.1zM77.8 156.4h5.1v4.5h-5.1z"/>
<path fill="#a9a9a9" d="M4.4 8.7h10.0v4.5h-10.0zM-0.5 13.0h5.1v4.5h-5.1zM14.2 13.0h5.1v4.5h-5.1zM33.7 13.0h5.1v4.5h-5.1zM-24.9 17.4h14.9v4.5h-14.9zM14.2 17.4h5.1v4.5h-5.1zM14.2 21.7h5.1v4.5h-5.1zM14.2 26.1h5.1v4.5h-5.1zM141.3 30.4h19.8v4.5h-19.8zM-24.9 39.1h29.5v4.5h-29.5zM121.8 69.5h5.1v4.5h-5.1z"/>
<path fill="#8f8f8f" d="M53.3 8.7h5.1v4.5h-5.1zM53.3 17.4h5.1v4.5h-5.1zM121.8 30.4h5.1v4.5h-5.1zM102.2 43.4h5.1v4.5h-5.1zM97.3 47.8h5.1v4.5h-5.1zM-24.9 52.1h29.5v4.5h-29.5zM9.3 52.1h5.1v4.5h-5.1zM121.8 78.2h5.1v4.5h-5.1zM28.9 130.3h5.1v4.5h-5.1zM33.7 134.7h5.1v4.5h-5.1z"/>
<path fill="#818181" d="M58.2 8.7h5.1v4.5h-5.1zM146.2 17.4h5.1v4.5h-5.1zM53.3 26.1h5.1v4.5h-5.1zM121.8 26.1h5.1v4.5h-5.1zM48.4 30.4h10.0v4.5h-10.0zM43.5 34.8h5.1v4.5h-5.1zM102.2 34.8h5.1v4.5h-5.1zM38.6 39.1h10.0v4.5h-10.0zM97.3 39.1h5.1v4.5h-5.1zM33.7 43.4h5.1v4.5h-5.1zM33.7 47.8h5.1v4.5h-5.1zM87.5 47.8h5.1v4.5h-5.1zM77.8 73.8h19.8v4.5h-19.8zM38.6 130.3h5.1v4.5h-5.1zM43.5 134.7h5.1v4.5h-5.1z"/>
<path fill="#5c5c5c" d="M97.3 8.7h5.1v4.5h-5.1zM97.3 13.0h5.1v4.5h-5.1zM72.9 17.4h5.1v4.5h-5.1zM97.3 21.7h5.1v4.5h-5.1zM-24.9 60.8h14.9v4.5h-14.9zM28.9 86.9h5.1v4.5h-5.1zM28.9 95.6h5.1v4.5h-5.1zM121.8 99.9h5.1v4.5h-5.1zM-24.9 104.2h14.9v4.5h-14.9zM-0.5 104.2h10.0v4.5h-10.0zM19.1 104.2h10.0v4.5h-10.0zM38.6 104.2h5.1v4.5h-5.1zM92.4 108.6h5.1v4.5h-5.1zM102.2 108.6h5.1v4.5h-5.1zM92.4 117.3h5.1v4.5h-5.1zM92.4 121.6h5.1v4.5h-5.1zM102.2 134.7h5.1v4.5h-5.1z"/>
<path fill="#646464" d="M102.2 8.7h5.1v4.5h-5.1zM102.2 13.0h5.1v4.5h-5.1zM102.2 17.4h5.1v4.5h-5.1zM77.8 26.1h5.1v4.5h-5.1zM77.8 30.4h5.1v4.5h-5.1zM87.5 30.4h5.1v4.5h-5.1zM77.8 34.8h5.1v4.5h-5.1zM77.8 39.1h5.1v4.5h-5.1zM63.1 60.8h5.1v4.5h-5.1zM53.3 65.2h5.1v4.5h-5.1zM19.1 69.5h5.1v4.5h-5.1zM28.9 69.5h10.0v4.5h-10.0zM33.7 73.8h5.1v4.5h-5.1zM28.9 78.2h10.0v4.5h-10.0zM33.7 82.5h5.1v4.5h-5.1zM33.7 86.9h5.1v4.5h-5.1zM43.5 86.9h5.1v4.5h-5.1zM43.5 91.2h5.1v4.5h-5.1zM146.2 91.2h5.1v4.5h-5.1zM38.6 95.6h10.0v4.5h-10.0zM126.7 95.6h5.1v4.5h-5.1zM43.5 99.9h5.1v4.5h-5.1zM43.5 104.2h5.1v4.5h-5.1zM53.3 104.2h5.1v4.5h-5.1zM102.2 104.2h5.1v4.5h-5.1zM43.5 108.6h5.1v4.5h-5.1zM48.4 112.9h5.1v4.5h-5.1zM63.1 112.9h14.9v4.5h-14.9zM48.4 117.3h29.5v4.5h-29.5zM77.8 126.0h5.1v4.5h-5.1zM87.5 130.3h5.1v4.5h-5.1zM87.5 134.7h10.0v4.5h-10.0zM87.5 143.3h5.1v4.5h-5.1zM97.3 143.3h5.1v4.5h-5.1zM87.5 147.7h5.1v4.5h-5.1zM97.3 147.7h5.1v4.5h-5.1zM87.5 152.0h5.1v4.5h-5.1zM97.3 152.0h5.1v4.5h-5.1zM87.5 156.4h5.1v4.5h-5.1zM97.3 156.4h5.1v4.5h-5.1z"/>
<path fill="#767676" d="M136.4 8.7h10.0v4.5h-10.0zM121.8 21.7h5.1v4.5h-5.1zM63.1 26.1h5.1v4.5h-5.1zM112.0 26.1h5.1v4.5h-5.1zM63.1 30.4h5.1v4.5h-5.1zM63.1 34.8h5.1v4.5h-5.1zM77.8 52.1h5.1v4.5h-5.1zM24.0 56.5h19.8v4.5h-19.8zM77.8 56.5h5.1v4.5h-5.1zM72.9 69.5h5.1v4.5h-5.1zM68.0 73.8h5.1v4.5h-5.1zM72.9 82.5h10.0v4.5h-10.0zM87.5 82.5h5.1v4.5h-5.1zM136.4 86.9h24.7v4.5h-24.7zM92.4 91.2h24.7v4.5h-24.7zM68.0 99.9h10.0v4.5h-10.0zM28.9 121.6h10.0v4.5h-10.0z"/>
<path fill="#afafaf" d="M4.4 13.0h10.0v4.5h-10.0zM-24.9 21.7h24.7v4.5h-24.7zM-24.9 34.8h14.9v4.5h-14.9zM126.7 69.5h5.1v4.5h-5.1z"/>
<path fill="#939393" d="M53.3 13.0h5.1v4.5h-5.1zM43.5 21.7h5.1v4.5h-5.1zM38.6 26.1h5.1v4.5h-5.1zM33.7 30.4h5.1v4.5h-5.1zM28.9 34.8h5.1v4.5h-5.1zM116.9 34.8h5.1v4.5h-5.1zM24.0 39.1h5.1v4.5h-5.1zM19.1 43.4h5.1v4.5h-5.1zM92.4 56.5h5.1v4.5h-5.1zM92.4 60.8h5.1v4.5h-5.1zM102.2 69.5h5.1v4.5h-5.1zM107.1 73.8h5.1v4.5h-5.1zM131.5 78.2h5.1v4.5h-5.1zM-24.9 121.6h34.4v4.5h-34.4z"/>
<path fill="#838383" d="M58.2 13.0h5.1v4.5h-5.1zM58.2 17.4h5.1v4.5h-5.1zM136.4 17.4h10.0v4.5h-10.0zM151.1 17.4h10.0v4.5h-10.0zM28.9 47.8h5.1v4.5h-5.1zM19.1 52.1h5.1v4.5h-5.1zM87.5 69.5h5.1v4.5h-5.1zM97.3 78.2h5.1v4.5h-5.1zM97.3 82.5h29.5v4.5h-29.5zM-24.9 117.3h34.4v4.5h-34.4zM28.9 126.0h5.1v4.5h-5.1zM43.5 143.3h5.1v4.5h-5.1zM43.5 147.7h5.1v4.5h-5.1zM43.5 152.0h5.1v4.5h-5.1zM43.5 156.4h5.1v4.5h-5.1z"/>
<path fill="#7a7a7a" d="M131.5 13.0h5.1v4.5h-5.1zM116.9 26.1h5.1v4.5h-5.1zM58.2 34.8h5.1v4.5h-5.1zM97.3 34.8h5.1v4.5h-5.1zM92.4 39.1h5.1v4.5h-5.1zM48.4 43.4h5.1v4.5h-5.1zM87.5 43.4h5.1v4.5h-5.1zM82.6 47.8h5.1v4.5h-5.1zM4.4 56.5h5.1v4.5h-5.1zM14.2 56.5h5.1v4.5h-5.1zM82.6 60.8h5.1v4.5h-5.1zM82.6 65.2h5.1v4.5h-5.1zM92.4 86.9h5.1v4.5h-5.1zM121.8 91.2h5.1v4.5h-5.1zM48.4 134.7h5.1v4.5h-5.1z"/>
<path fill="#ababab" d="M-0.5 17.4h5.1v4.5h-5.1zM4.4 30.4h5.1v4.5h-5.1zM136.4 30.4h5.1v4.5h-5.1zM112.0 47.8h5.1v4.5h-5.1zM107.1 56.5h5.1v4.5h-5.1z"/>
<path fill="#b3b3b3" d="M4.4 17.4h10.0v4.5h-10.0zM-0.5 30.4h5.1v4.5h-5.1zM112.0 52.1h5.1v4.5h-5.1z"/>
<path fill="#a1a1a1" d="M38.6 17.4h5.1v4.5h-5.1zM33.7 21.7h5.1v4.5h-5.1zM28.9 26.1h5.1v4.5h-5.1zM24.0 30.4h5.1v4.5h-5.1zM19.1 34.8h5.1v4.5h-5.1zM-0.5 47.8h10.0v4.5h-10.0zM102.2 60.8h5.1v4.5h-5.1zM126.7 73.8h5.1v4.5h-5.1z"/>
<path fill="#626262" d="M68.0 17.4h5.1v4.5h-5.1zM97.3 26.1h5.1v4.5h-5.1zM82.6 30.4h5.1v4.5h-5.1zM58.2 60.8h5.1v4.5h-5.1zM9.3 65.2h5.1v4.5h-5.1zM141.3 91.2h5.1v4.5h-5.1zM151.1 91.2h10.0v4.5h-10.0zM112.0 99.9h5.1v4.5h-5.1zM87.5 104.2h14.9v4.5h-14.9zM24.0 108.6h19.8v4.5h-19.8zM87.5 108.6h5.1v4.5h-5.1zM87.5 112.9h5.1v4.5h-5.1zM87.5 117.3h5.1v4.5h-5.1zM87.5 121.6h5.1v4.5h-5.1zM87.5 126.0h5.1v4.5h-5.1zM97.3 134.7h5.1v4.5h-5.1z"/>
<path fill="#787878" d="M126.7 17.4h5.1v4.5h-5.1zM102.2 30.4h5.1v4.5h-5.1zM53.3 39.1h5.1v4.5h-5.1zM43.5 47.8h5.1v4.5h-5.1zM19.1 56.5h5.1v4.5h-5.1zM77.8 69.5h5.1v4.5h-5.1zM131.5 86.9h5.1v4.5h-5.1zM116.9 91.2h5.1v4.5h-5.1zM38.6 126.0h5.1v4.5h-5.1zM43.5 130.3h5.1v4.5h-5.1z"/>
<path fill="#b1b1b1" d="M-0.5 21.7h5.1v4.5h-5.1zM9.3 21.7h5.1v4.5h-5.1zM4.4 26.1h5.1v4.5h-5.1zM-10.3 34.8h10.0v4.5h-10.0zM121.8 43.4h5.1v4.5h-5.1zM116.9 47.8h5.1v4.5h-5.1zM112.0 56.5h5.1v4.5h-5.1z"/>
<path fill="#b5b5b5" d="M4.4 21.7h5.1v4.5h-5.1zM-24.9 26.1h29.5v4.5h-29.5zM-24.9 30.4h24.7v4.5h-24.7zM126.7 39.1h5.1v4.5h-5.1zM116.9 60.8h5.1v4.5h-5.1zM121.8 65.2h5.1v4.5h-5.1zM131.5 69.5h5.1v4.5h-5.1zM141.3 69.5h19.8v4.5h-19.8z"/>
<path fill="#878787" d="M53.3 21.7h5.1v4.5h-5.1zM146.2 21.7h14.9v4.5h-14.9zM48.4 26.1h5.1v4.5h-5.1zM38.6 34.8h5.1v4.5h-5.1zM107.1 34.8h5.1v4.5h-5.1zM28.9 43.4h5.1v4.5h-5.1zM97.3 43.4h5.1v4.5h-5.1zM92.4 69.5h5.1v4.5h-5.1zM102.2 78.2h5.1v4.5h-5.1zM131.5 82.5h29.5v4.5h-29.5zM33.7 130.3h5.1v4.5h-5.1zM38.6 134.7h5.1v4.5h-5.1z"/>
<path fill="#666666" d="M72.9 21.7h5.1v4.5h-5.1zM102.2 21.7h5.1v4.5h-5.1zM72.9 34.8h5.1v4.5h-5.1zM82.6 34.8h5.1v4.5h-5.1zM72.9 39.1h5.1v4.5h-5.1zM63.1 56.5h5.1v4.5h-5.1zM4.4 60.8h5.1v4.5h-5.1zM53.3 60.8h5.1v4.5h-5.1zM14.2 65.2h5.1v4.5h-5.1zM48.4 65.2h5.1v4.5h-5.1zM58.2 65.2h5.1v4.5h-5.1zM24.0 69.5h5.1v4.5h-5.1zM38.6 69.5h5.1v4.5h-5.1zM24.0 73.8h10.0v4.5h-10.0zM38.6 82.5h5.1v4.5h-5.1zM38.6 86.9h5.1v4.5h-5.1zM48.4 86.9h5.1v4.5h-5.1zM33.7 91.2h10.0v4.5h-10.0zM48.4 99.9h5.1v4.5h-5.1zM107.1 99.9h5.1v4.5h-5.1zM48.4 104.2h5.1v4.5h-5.1zM58.2 104.2h5.1v4.5h-5.1zM82.6 104.2h5.1v4.5h-5.1zM48.4 108.6h14.9v4.5h-14.9zM82.6 108.6h5.1v4.5h-5.1zM43.5 112.9h5.1v4.5h-5.1zM53.3 112.9h10.0v4.5h-10.0zM77.8 112.9h5.1v4.5h-5.1zM77.8 117.3h5.1v4.5h-5.1zM48.4 121.6h5.1v4.5h-5.1zM72.9 121.6h14.9v4.5h-14.9zM72.9 126.0h5.1v4.5h-5.1zM82.6 126.0h5.1v4.5h-5.1zM82.6 130.3h5.1v4.5h-5.1zM87.5 139.0h14.9v4.5h-14.9zM92.4 143.3h5.1v4.5h-5.1zM92.4 147.7h5.1v4.5h-5.1zM92.4 152.0h5.1v4.5h-5.1zM92.4 156.4h5.1v4.5h-5.1z"/>
<path fill="#545454" d="M92.4 21.7h5.1v4.5h-5.1zM24.0 86.9h5.1v4.5h-5.1zM24.0 91.2h5.1v4.5h-5.1zM126.7 99.9h5.1v4.5h-5.1zM107.1 139.0h5.1v4.5h-5.1zM107.1 143.3h5.1v4.5h-5.1zM107.1 147.7h5.1v4.5h-5.1zM107.1 152.0h5.1v4.5h-5.1zM107.1 156.4h5.1v4.5h-5.1z"/>
<path fill="#858585" d="M131.5 21.7h5.1v4.5h-5.1zM43.5 30.4h5.1v4.5h-5.1zM112.0 30.4h5.1v4.5h-5.1zM33.7 39.1h5.1v4.5h-5.1zM102.2 39.1h5.1v4.5h-5.1zM24.0 47.8h5.1v4.5h-5.1zM92.4 47.8h5.1v4.5h-5.1zM87.5 52.1h5.1v4.5h-5.1zM87.5 56.5h5.1v4.5h-5.1zM87.5 60.8h5.1v4.5h-5.1zM87.5 65.2h5.1v4.5h-5.1zM97.3 73.8h5.1v4.5h-5.1zM126.7 82.5h5.1v4.5h-5.1zM9.3 117.3h10.0v4.5h-10.0zM43.5 139.0h5.1v4.5h-5.1z"/>
<path fill="#898989" d="M136.4 21.7h10.0v4.5h-10.0zM116.9 30.4h5.1v4.5h-5.1zM38.6 143.3h5.1v4.5h-5.1zM38.6 147.7h5.1v4.5h-5.1zM38.6 152.0h5.1v4.5h-5.1zM38.6 156.4h5.1v4.5h-5.1z"/>
<path fill="#adadad" d="M9.3 26.1h5.1v4.5h-5.1zM-0.5 34.8h5.1v4.5h-5.1zM107.1 52.1h5.1v4.5h-5.1zM112.0 60.8h5.1v4.5h-5.1zM116.9 65.2h5.1v4.5h-5.1z"/>
<path fill="#6a6a6a" d="M72.9 26.1h5.1v4.5h-5.1zM72.9 30.4h5.1v4.5h-5.1zM82.6 39.1h5.1v4.5h-5.1zM72.9 43.4h10.0v4.5h-10.0zM68.0 56.5h5.1v4.5h-5.1zM68.0 60.8h5.1v4.5h-5.1zM58.2 99.9h5.1v4.5h-5.1zM82.6 99.9h5.1v4.5h-5.1zM97.3 99.9h10.0v4.5h-10.0zM24.0 112.9h5.1v4.5h-5.1zM33.7 112.9h5.1v4.5h-5.1zM43.5 121.6h5.1v4.5h-5.1zM58.2 121.6h10.0v4.5h-10.0zM72.9 130.3h5.1v4.5h-5.1z"/>
<path fill="#919191" d="M131.5 26.1h5.1v4.5h-5.1zM112.0 39.1h5.1v4.5h-5.1zM4.4 52.1h5.1v4.5h-5.1zM126.7 78.2h5.1v4.5h-5.1zM33.7 139.0h5.1v4.5h-5.1zM33.7 143.3h5.1v4.5h-5.1zM33.7 147.7h5.1v4.5h-5.1zM33.7 152.0h5.1v4.5h-5.1zM33.7 156.4h5.1v4.5h-5.1z"/>
<path fill="#b7b7b7" d="M131.5 34.8h5.1v4.5h-5.1zM116.9 56.5h5.1v4.5h-5.1zM136.4 69.5h5.1v4.5h-5.1z"/>
<path fill="#bdbdbd" d="M136.4 34.8h10.0v4.5h-10.0zM121.8 52.1h5.1v4.5h-5.1zM121.8 56.5h5.1v4.5h-5.1z"/>
<path fill="#bbbbbb" d="M146.2 34.8h14.9v4.5h-14.9zM121.8 60.8h5.1v4.5h-5.1zM126.7 65.2h5.1v4.5h-5.1z"/>
<path fill="#9f9f9f" d="M14.2 39.1h5.1v4.5h-5.1zM-24.9 47.8h24.7v4.5h-24.7zM107.1 65.2h5.1v4.5h-5.1zM112.0 69.5h5.1v4.5h-5.1z"/>
<path fill="#c3c3c3" d="M131.5 39.1h5.1v4.5h-5.1zM126.7 47.8h5.1v4.5h-5.1zM126.7 52.1h5.1v4.5h-5.1zM126.7 56.5h5.1v4.5h-5.1zM131.5 60.8h5.1v4.5h-5.1z"/>
<path fill="#cbcbcb" d="M136.4 39.1h5.1v4.5h-5.1zM131.5 43.4h5.1v4.5h-5.1zM131.5 47.8h5.1v4.5h-5.1zM136.4 52.1h24.7v4.5h-24.7z"/>
<path fill="#c9c9c9" d="M141.3 39.1h5.1v4.5h-5.1zM151.1 39.1h10.0v4.5h-10.0zM131.5 52.1h5.1v4.5h-5.1z"/>
<path fill="#c7c7c7" d="M146.2 39.1h5.1v4.5h-5.1zM131.5 56.5h29.5v4.5h-29.5z"/>
<path fill="#bfbfbf" d="M126.7 43.4h5.1v4.5h-5.1zM131.5 65.2h5.1v4.5h-5.1z"/>
<path fill="#cfcfcf" d="M136.4 43.4h10.0v4.5h-10.0zM156.0 43.4h5.1v4.5h-5.1zM136.4 47.8h10.0v4.5h-10.0z"/>
<path fill="#cdcdcd" d="M146.2 43.4h10.0v4.5h-10.0zM146.2 47.8h14.9v4.5h-14.9z"/>
<path fill="#b9b9b9" d="M121.8 47.8h5.1v4.5h-5.1zM116.9 52.1h5.1v4.5h-5.1z"/>
<path fill="#c1c1c1" d="M126.7 60.8h5.1v4.5h-5.1zM136.4 65.2h24.7v4.5h-24.7z"/>
<path fill="#c5c5c5" d="M136.4 60.8h24.7v4.5h-24.7z"/>
<path fill="#505050" d="M-24.9 65.2h14.9v4.5h-14.9zM9.3 73.8h5.1v4.5h-5.1zM19.1 95.6h5.1v4.5h-5.1zM146.2 95.6h14.9v4.5h-14.9zM121.8 104.2h5.1v4.5h-5.1zM112.0 108.6h5.1v4.5h-5.1zM112.0 117.3h5.1v4.5h-5.1zM112.0 121.6h5.1v4.5h-5.1zM112.0 126.0h5.1v4.5h-5.1zM112.0 130.3h5.1v4.5h-5.1z"/>
<path fill="#4e4e4e" d="M-10.3 65.2h10.0v4.5h-10.0zM14.2 82.5h5.1v4.5h-5.1zM-24.9 95.6h44.2v4.5h-44.2zM136.4 95.6h10.0v4.5h-10.0zM121.8 108.6h5.1v4.5h-5.1zM112.0 112.9h5.1v4.5h-5.1zM112.0 134.7h5.1v4.5h-5.1zM112.0 139.0h5.1v4.5h-5.1zM121.8 139.0h5.1v4.5h-5.1zM112.0 143.3h5.1v4.5h-5.1zM121.8 143.3h5.1v4.5h-5.1zM112.0 147.7h5.1v4.5h-5.1zM112.0 152.0h5.1v4.5h-5.1zM112.0 156.4h5.1v4.5h-5.1zM121.8 156.4h5.1v4.5h-5.1z"/>
<path fill="#525252" d="M-0.5 65.2h5.1v4.5h-5.1zM4.4 69.5h5.1v4.5h-5.1zM14.2 78.2h5.1v4.5h-5.1zM19.1 82.5h5.1v4.5h-5.1zM116.9 104.2h5.1v4.5h-5.1z"/>
<path fill="#4a4a4a" d="M-24.9 69.5h5.1v4.5h-5.1zM-10.3 69.5h10.0v4.5h-10.0zM14.2 86.9h5.1v4.5h-5.1zM-10.3 91.2h10.0v4.5h-10.0zM9.3 91.2h10.0v4.5h-10.0zM126.7 108.6h5.1v4.5h-5.1zM116.9 112.9h10.0v4.5h-10.0zM116.9 117.3h5.1v4.5h-5.1zM116.9 130.3h5.1v4.5h-5.1zM121.8 134.7h5.1v4.5h-5.1zM126.7 139.0h5.1v4.5h-5.1zM126.7 143.3h5.1v4.5h-5.1zM126.7 147.7h5.1v4.5h-5.1zM126.7 152.0h5.1v4.5h-5.1zM126.7 156.4h5.1v4.5h-5.1z"/>
<path fill="#4c4c4c" d="M-20.0 69.5h10.0v4.5h-10.0zM-0.5 69.5h5.1v4.5h-5.1zM-24.9 73.8h34.4v4.5h-34.4zM-24.9 78.2h39.3v4.5h-39.3zM-24.9 82.5h39.3v4.5h-39.3zM-24.9 86.9h39.3v4.5h-39.3zM19.1 86.9h5.1v4.5h-5.1zM-24.9 91.2h14.9v4.5h-14.9zM-0.5 91.2h10.0v4.5h-10.0zM19.1 91.2h5.1v4.5h-5.1zM126.7 104.2h5.1v4.5h-5.1zM116.9 108.6h5.1v4.5h-5.1zM116.9 134.7h5.1v4.5h-5.1zM116.9 139.0h5.1v4.5h-5.1zM116.9 143.3h5.1v4.5h-5.1zM116.9 147.7h10.0v4.5h-10.0zM116.9 152.0h10.0v4.5h-10.0zM116.9 156.4h5.1v4.5h-5.1z"/>
<path fill="#484848" d="M131.5 99.9h5.1v4.5h-5.1zM126.7 112.9h5.1v4.5h-5.1zM116.9 121.6h5.1v4.5h-5.1zM116.9 126.0h5.1v4.5h-5.1z"/>
<path fill="#404040" d="M136.4 99.9h5.1v4.5h-5.1zM146.2 108.6h14.9v4.5h-14.9zM131.5 112.9h5.1v4.5h-5.1zM126.7 117.3h5.1v4.5h-5.1zM126.7 130.3h5.1v4.5h-5.1zM131.5 134.7h5.1v4.5h-5.1zM136.4 139.0h24.7v4.5h-24.7zM141.3 143.3h19.8v4.5h-19.8zM146.2 147.7h14.9v4.5h-14.9zM146.2 152.0h14.9v4.5h-14.9zM146.2 156.4h14.9v4.5h-14.9z"/>
<path fill="#424242" d="M141.3 99.9h5.1v4.5h-5.1zM156.0 99.9h5.1v4.5h-5.1zM131.5 104.2h5.1v4.5h-5.1zM131.5 108.6h5.1v4.5h-5.1zM121.8 121.6h5.1v4.5h-5.1zM121.8 126.0h5.1v4.5h-5.1zM131.5 147.7h5.1v4.5h-5.1zM131.5 152.0h5.1v4.5h-5.1zM131.5 156.4h5.1v4.5h-5.1z"/>
<path fill="#444444" d="M146.2 99.9h10.0v4.5h-10.0zM131.5 139.0h5.1v4.5h-5.1zM131.5 143.3h5.1v4.5h-5.1z"/>
<path fill="#3c3c3c" d="M136.4 104.2h5.1v4.5h-5.1zM136.4 112.9h10.0v4.5h-10.0zM136.4 134.7h10.0v4.5h-10.0zM156.0 134.7h5.1v4.5h-5.1z"/>
<path fill="#3e3e3e" d="M141.3 104.2h19.8v4.5h-19.8zM136.4 108.6h10.0v4.5h-10.0zM146.2 112.9h14.9v4.5h-14.9zM146.2 134.7h10.0v4.5h-10.0zM136.4 143.3h5.1v4.5h-5.1zM136.4 147.7h10.0v4.5h-10.0zM136.4 152.0h10.0v4.5h-10.0zM136.4 156.4h10.0v4.5h-10.0z"/>
<path fill="#464646" d="M121.8 117.3h5.1v4.5h-5.1zM121.8 130.3h5.1v4.5h-5.1zM126.7 134.7h5.1v4.5h-5.1z"/>
<path fill="#383838" d="M131.5 117.3h5.1v4.5h-5.1zM131.5 130.3h5.1v4.5h-5.1z"/>
<path fill="#363636" d="M136.4 117.3h24.7v4.5h-24.7zM141.3 130.3h19.8v4.5h-19.8z"/>
<path fill="#3a3a3a" d="M126.7 121.6h5.1v4.5h-5.1zM126.7 126.0h5.1v4.5h-5.1z"/>
<path fill="#323232" d="M131.5 121.6h5.1v4.5h-5.1zM146.2 121.6h5.1v4.5h-5.1zM131.5 126.0h5.1v4.5h-5.1zM146.2 126.0h5.1v4.5h-5.1z"/>
<path fill="#303030" d="M136.4 121.6h10.0v4.5h-10.0zM151.1 121.6h10.0v4.5h-10.0zM136.4 126.0h10.0v4.5h-10.0zM151.1 126.0h10.0v4.5h-10.0z"/>
<path fill="#343434" d="M136.4 130.3h5.1v4.5h-5.1z"/>
</g></g>
<path d="M63.5,0.0C63.5,1.2 63.6,4.9 63.3,7.5C63.0,10.1 62.2,13.0 61.5,15.6C60.8,18.2 60.0,20.7 59.0,23.0C58.0,25.3 57.1,27.7 55.4,29.7C53.7,31.7 51.4,33.3 49.0,35.0C46.6,36.7 43.6,38.2 41.3,39.8C39.0,41.4 37.0,42.8 35.0,44.5C33.0,46.2 31.5,48.3 29.2,49.9C26.9,51.5 24.0,52.8 21.0,54.0C18.0,55.2 13.8,56.2 11.1,56.9C8.4,57.6 6.8,57.8 5.0,58.0C3.2,58.2 0.8,58.3 0.0,58.3M136.0,22.7C134.7,23.2 130.7,24.8 128.0,26.0C125.3,27.2 123.1,28.3 119.9,29.7C116.7,31.1 112.4,32.8 109.0,34.5C105.6,36.2 102.3,38.1 99.7,39.8C97.1,41.5 95.2,42.8 93.5,44.5C91.8,46.2 90.6,48.2 89.7,49.9C88.7,51.6 88.2,52.8 87.8,54.5C87.5,56.2 87.3,57.4 87.6,59.9C87.9,62.4 88.9,67.5 89.7,69.4C90.5,71.3 91.5,70.7 92.5,71.5C93.5,72.3 94.3,73.0 95.5,74.0C96.7,75.0 97.9,76.4 99.7,77.6C101.4,78.8 103.6,80.1 106.0,81.3C108.4,82.5 112.5,84.1 113.8,84.6M17.1,116.8C18.1,117.5 21.0,119.5 23.0,121.0C25.0,122.5 27.3,124.4 29.2,125.9C31.1,127.4 32.8,128.7 34.5,130.0C36.2,131.3 37.7,132.8 39.3,134.0C40.9,135.2 42.7,136.2 44.0,137.0C45.3,137.8 46.8,138.7 47.3,139.0M128.0,111.8C127.5,112.5 125.9,114.3 125.0,116.0C124.1,117.7 123.1,119.9 122.9,121.9C122.6,123.9 123.0,126.0 123.5,128.0C124.0,130.0 125.0,132.5 125.9,134.0C126.8,135.5 128.0,136.2 129.0,137.0C130.0,137.8 131.5,138.7 132.0,139.0" fill="none" stroke="#b8b8b8" stroke-opacity="0.75" stroke-width="1.5" stroke-linejoin="round" stroke-linecap="round" clip-path="url(#pc)"/>
<line x1="0" y1="104.25" x2="136" y2="104.25" stroke="#3a3a3a" stroke-opacity="0.68" stroke-width="1.9" stroke-dasharray="6 5.8"/>
<line x1="67.97" y1="139" x2="67.97" y2="0" stroke="#3a3a3a" stroke-opacity="0.68" stroke-width="1.9" stroke-dasharray="6 5.8"/>
<rect x="0" y="0" width="136" height="139" fill="none" stroke="#636363" stroke-width="1.35"/>
</g>
<text x="252.00" y="182.5" font-size="12" font-style="italic" fill="#1a1a1a" text-anchor="middle">A. alba</text>
<g transform="translate(328.5,191.5)">
<g clip-path="url(#m6)"><g filter="url(#cm)">
<path fill="#999999" d="M-24.9 -21.7h34.4v4.5h-34.4zM-24.9 -17.4h34.4v4.5h-34.4zM-24.9 -13.0h34.4v4.5h-34.4zM-24.9 -8.7h34.4v4.5h-34.4zM-24.9 -4.3h34.4v4.5h-34.4zM-24.9 0.0h34.4v4.5h-34.4zM-24.9 4.3h34.4v4.5h-34.4zM-0.5 8.7h10.0v4.5h-10.0zM-0.5 13.0h10.0v4.5h-10.0zM4.4 17.4h5.1v4.5h-5.1zM28.9 26.1h5.1v4.5h-5.1zM24.0 30.4h10.0v4.5h-10.0zM68.0 91.2h19.8v4.5h-19.8zM-0.5 95.6h5.1v4.5h-5.1zM-15.2 99.9h5.1v4.5h-5.1zM-0.5 99.9h10.0v4.5h-10.0zM-24.9 104.2h24.7v4.5h-24.7zM-24.9 108.6h24.7v4.5h-24.7zM-24.9 112.9h24.7v4.5h-24.7zM-24.9 117.3h24.7v4.5h-24.7zM-10.3 121.6h10.0v4.5h-10.0zM4.4 121.6h5.1v4.5h-5.1zM-0.5 126.0h5.1v4.5h-5.1z"/>
<path fill="#9d9d9d" d="M9.3 -21.7h5.1v4.5h-5.1zM53.3 -21.7h5.1v4.5h-5.1zM9.3 -17.4h5.1v4.5h-5.1zM53.3 -17.4h5.1v4.5h-5.1zM9.3 -13.0h5.1v4.5h-5.1zM53.3 -13.0h5.1v4.5h-5.1zM9.3 -8.7h5.1v4.5h-5.1zM53.3 -8.7h5.1v4.5h-5.1zM9.3 -4.3h5.1v4.5h-5.1zM53.3 -4.3h5.1v4.5h-5.1zM9.3 0.0h5.1v4.5h-5.1zM53.3 0.0h5.1v4.5h-5.1zM9.3 4.3h5.1v4.5h-5.1zM53.3 4.3h5.1v4.5h-5.1zM9.3 8.7h5.1v4.5h-5.1zM53.3 8.7h5.1v4.5h-5.1zM9.3 17.4h5.1v4.5h-5.1zM9.3 21.7h19.8v4.5h-19.8zM33.7 21.7h10.0v4.5h-10.0z"/>
<path fill="#a3a3a3" d="M14.2 -21.7h5.1v4.5h-5.1zM14.2 -17.4h5.1v4.5h-5.1zM14.2 -13.0h5.1v4.5h-5.1zM48.4 -13.0h5.1v4.5h-5.1zM14.2 -8.7h5.1v4.5h-5.1zM14.2 -4.3h5.1v4.5h-5.1zM14.2 0.0h5.1v4.5h-5.1zM48.4 0.0h5.1v4.5h-5.1zM14.2 4.3h5.1v4.5h-5.1zM48.4 4.3h5.1v4.5h-5.1zM14.2 8.7h5.1v4.5h-5.1zM14.2 13.0h5.1v4.5h-5.1zM14.2 17.4h5.1v4.5h-5.1zM24.0 17.4h14.9v4.5h-14.9z"/>
<path fill="#a7a7a7" d="M19.1 -21.7h10.0v4.5h-10.0zM38.6 -21.7h10.0v4.5h-10.0zM19.1 -17.4h10.0v4.5h-10.0zM38.6 -17.4h10.0v4.5h-10.0zM19.1 -13.0h10.0v4.5h-10.0zM38.6 -13.0h10.0v4.5h-10.0zM19.1 -8.7h10.0v4.5h-10.0zM38.6 -8.7h10.0v4.5h-10.0zM19.1 -4.3h10.0v4.5h-10.0zM38.6 -4.3h10.0v4.5h-10.0zM19.1 0.0h10.0v4.5h-10.0zM38.6 0.0h10.0v4.5h-10.0zM19.1 4.3h10.0v4.5h-10.0zM38.6 4.3h10.0v4.5h-10.0zM19.1 8.7h29.5v4.5h-29.5zM28.9 13.0h19.8v4.5h-19.8z"/>
<path fill="#a5a5a5" d="M28.9 -21.7h10.0v4.5h-10.0zM48.4 -21.7h5.1v4.5h-5.1zM28.9 -17.4h10.0v4.5h-10.0zM48.4 -17.4h5.1v4.5h-5.1zM28.9 -13.0h10.0v4.5h-10.0zM28.9 -8.7h10.0v4.5h-10.0zM48.4 -8.7h5.1v4.5h-5.1zM28.9 -4.3h10.0v4.5h-10.0zM48.4 -4.3h5.1v4.5h-5.1zM28.9 0.0h10.0v4.5h-10.0zM28.9 4.3h10.0v4.5h-10.0zM48.4 8.7h5.1v4.5h-5.1zM48.4 13.0h5.1v4.5h-5.1zM19.1 17.4h5.1v4.5h-5.1zM38.6 17.4h10.0v4.5h-10.0z"/>
<path fill="#959595" d="M58.2 -21.7h5.1v4.5h-5.1zM58.2 -17.4h5.1v4.5h-5.1zM58.2 -13.0h5.1v4.5h-5.1zM58.2 -8.7h5.1v4.5h-5.1zM58.2 -4.3h5.1v4.5h-5.1zM58.2 0.0h5.1v4.5h-5.1zM58.2 4.3h5.1v4.5h-5.1zM58.2 8.7h5.1v4.5h-5.1zM58.2 13.0h5.1v4.5h-5.1zM58.2 17.4h5.1v4.5h-5.1zM4.4 26.1h5.1v4.5h-5.1zM14.2 26.1h10.0v4.5h-10.0zM28.9 34.8h5.1v4.5h-5.1zM-0.5 91.2h5.1v4.5h-5.1zM63.1 91.2h5.1v4.5h-5.1zM87.5 91.2h5.1v4.5h-5.1zM63.1 95.6h5.1v4.5h-5.1zM72.9 95.6h5.1v4.5h-5.1zM87.5 95.6h5.1v4.5h-5.1zM9.3 99.9h5.1v4.5h-5.1zM4.4 126.0h5.1v4.5h-5.1zM-0.5 130.3h5.1v4.5h-5.1z"/>
<path fill="#8f8f8f" d="M63.1 -21.7h5.1v4.5h-5.1zM63.1 -17.4h5.1v4.5h-5.1zM63.1 -13.0h5.1v4.5h-5.1zM63.1 -8.7h5.1v4.5h-5.1zM63.1 -4.3h5.1v4.5h-5.1zM63.1 0.0h5.1v4.5h-5.1zM63.1 4.3h5.1v4.5h-5.1zM63.1 8.7h5.1v4.5h-5.1zM63.1 13.0h5.1v4.5h-5.1zM63.1 17.4h5.1v4.5h-5.1zM-24.9 21.7h24.7v4.5h-24.7zM58.2 21.7h10.0v4.5h-10.0zM-0.5 26.1h5.1v4.5h-5.1zM-0.5 30.4h5.1v4.5h-5.1zM9.3 30.4h5.1v4.5h-5.1zM38.6 30.4h5.1v4.5h-5.1zM92.4 78.2h14.9v4.5h-14.9zM97.3 82.5h10.0v4.5h-10.0zM-24.9 86.9h19.8v4.5h-19.8zM-0.5 86.9h5.1v4.5h-5.1zM63.1 86.9h5.1v4.5h-5.1zM87.5 86.9h5.1v4.5h-5.1zM43.5 91.2h5.1v4.5h-5.1zM58.2 91.2h5.1v4.5h-5.1zM92.4 91.2h5.1v4.5h-5.1zM92.4 95.6h5.1v4.5h-5.1zM14.2 99.9h5.1v4.5h-5.1zM92.4 99.9h5.1v4.5h-5.1zM14.2 104.2h5.1v4.5h-5.1zM14.2 108.6h5.1v4.5h-5.1zM14.2 112.9h5.1v4.5h-5.1zM14.2 117.3h5.1v4.5h-5.1zM-24.9 134.7h14.9v4.5h-14.9zM-5.4 147.7h5.1v4.5h-5.1zM-5.4 152.0h5.1v4.5h-5.1z"/>
<path fill="#8b8b8b" d="M68.0 -21.7h5.1v4.5h-5.1zM68.0 -17.4h5.1v4.5h-5.1zM68.0 -13.0h5.1v4.5h-5.1zM68.0 -8.7h5.1v4.5h-5.1zM68.0 -4.3h5.1v4.5h-5.1zM68.0 0.0h10.0v4.5h-10.0zM68.0 4.3h5.1v4.5h-5.1zM82.6 4.3h5.1v4.5h-5.1zM68.0 8.7h5.1v4.5h-5.1zM82.6 8.7h5.1v4.5h-5.1zM68.0 13.0h5.1v4.5h-5.1zM72.9 17.4h5.1v4.5h-5.1zM68.0 21.7h5.1v4.5h-5.1zM-10.3 26.1h10.0v4.5h-10.0zM53.3 26.1h5.1v4.5h-5.1zM63.1 26.1h5.1v4.5h-5.1zM-24.9 34.8h24.7v4.5h-24.7zM14.2 34.8h5.1v4.5h-5.1zM14.2 39.1h5.1v4.5h-5.1zM19.1 43.4h10.0v4.5h-10.0zM-24.9 82.5h29.5v4.5h-29.5zM38.6 82.5h49.1v4.5h-49.1zM112.0 82.5h5.1v4.5h-5.1zM97.3 86.9h5.1v4.5h-5.1zM112.0 86.9h5.1v4.5h-5.1zM9.3 91.2h10.0v4.5h-10.0zM97.3 91.2h10.0v4.5h-10.0zM116.9 91.2h44.2v4.5h-44.2zM38.6 95.6h10.0v4.5h-10.0zM33.7 99.9h5.1v4.5h-5.1zM82.6 99.9h5.1v4.5h-5.1zM19.1 104.2h14.9v4.5h-14.9zM97.3 104.2h5.1v4.5h-5.1zM19.1 108.6h5.1v4.5h-5.1zM112.0 108.6h14.9v4.5h-14.9zM19.1 112.9h5.1v4.5h-5.1zM107.1 112.9h5.1v4.5h-5.1zM121.8 112.9h5.1v4.5h-5.1zM121.8 117.3h5.1v4.5h-5.1zM14.2 121.6h5.1v4.5h-5.1zM121.8 121.6h5.1v4.5h-5.1zM121.8 130.3h5.1v4.5h-5.1zM121.8 134.7h5.1v4.5h-5.1zM-24.9 139.0h14.9v4.5h-14.9zM121.8 139.0h5.1v4.5h-5.1zM-20.0 143.3h10.0v4.5h-10.0zM121.8 143.3h5.1v4.5h-5.1zM-0.5 147.7h5.1v4.5h-5.1zM121.8 147.7h5.1v4.5h-5.1zM-0.5 152.0h5.1v4.5h-5.1zM121.8 152.0h5.1v4.5h-5.1zM121.8 156.4h5.1v4.5h-5.1z"/>
<path fill="#8d8d8d" d="M72.9 -21.7h14.9v4.5h-14.9zM72.9 -17.4h14.9v4.5h-14.9zM72.9 -13.0h14.9v4.5h-14.9zM72.9 -8.7h14.9v4.5h-14.9zM72.9 -4.3h14.9v4.5h-14.9zM77.8 0.0h10.0v4.5h-10.0zM72.9 4.3h10.0v4.5h-10.0zM72.9 8.7h10.0v4.5h-10.0zM72.9 13.0h10.0v4.5h-10.0zM68.0 17.4h5.1v4.5h-5.1zM-24.9 26.1h14.9v4.5h-14.9zM-24.9 30.4h24.7v4.5h-24.7zM14.2 30.4h5.1v4.5h-5.1zM48.4 30.4h5.1v4.5h-5.1zM33.7 34.8h5.1v4.5h-5.1zM28.9 39.1h5.1v4.5h-5.1zM63.1 78.2h29.5v4.5h-29.5zM107.1 78.2h5.1v4.5h-5.1zM4.4 82.5h34.4v4.5h-34.4zM87.5 82.5h10.0v4.5h-10.0zM107.1 82.5h5.1v4.5h-5.1zM4.4 86.9h58.9v4.5h-58.9zM92.4 86.9h5.1v4.5h-5.1zM102.2 86.9h10.0v4.5h-10.0zM4.4 91.2h5.1v4.5h-5.1zM19.1 91.2h24.7v4.5h-24.7zM48.4 91.2h10.0v4.5h-10.0zM107.1 91.2h10.0v4.5h-10.0zM9.3 95.6h29.5v4.5h-29.5zM58.2 95.6h5.1v4.5h-5.1zM97.3 95.6h63.8v4.5h-63.8zM19.1 99.9h14.9v4.5h-14.9zM87.5 99.9h5.1v4.5h-5.1zM97.3 99.9h63.8v4.5h-63.8zM102.2 104.2h58.9v4.5h-58.9zM102.2 108.6h10.0v4.5h-10.0zM126.7 108.6h34.4v4.5h-34.4zM126.7 112.9h34.4v4.5h-34.4zM126.7 117.3h34.4v4.5h-34.4zM126.7 121.6h34.4v4.5h-34.4zM9.3 126.0h5.1v4.5h-5.1zM121.8 126.0h39.3v4.5h-39.3zM4.4 130.3h5.1v4.5h-5.1zM126.7 130.3h34.4v4.5h-34.4zM-0.5 134.7h5.1v4.5h-5.1zM126.7 134.7h34.4v4.5h-34.4zM-10.3 139.0h10.0v4.5h-10.0zM126.7 139.0h34.4v4.5h-34.4zM-24.9 143.3h5.1v4.5h-5.1zM-10.3 143.3h10.0v4.5h-10.0zM126.7 143.3h34.4v4.5h-34.4zM-24.9 147.7h19.8v4.5h-19.8zM126.7 147.7h34.4v4.5h-34.4zM-24.9 152.0h19.8v4.5h-19.8zM126.7 152.0h34.4v4.5h-34.4zM-24.9 156.4h24.7v4.5h-24.7zM126.7 156.4h34.4v4.5h-34.4z"/>
<path fill="#898989" d="M87.5 -21.7h5.1v4.5h-5.1zM87.5 -17.4h5.1v4.5h-5.1zM87.5 -13.0h5.1v4.5h-5.1zM87.5 -8.7h5.1v4.5h-5.1zM87.5 -4.3h5.1v4.5h-5.1zM87.5 0.0h5.1v4.5h-5.1zM82.6 13.0h5.1v4.5h-5.1zM77.8 17.4h5.1v4.5h-5.1zM58.2 26.1h5.1v4.5h-5.1zM68.0 26.1h5.1v4.5h-5.1zM-0.5 34.8h14.9v4.5h-14.9zM43.5 34.8h5.1v4.5h-5.1zM63.1 73.8h49.1v4.5h-49.1zM-24.9 78.2h88.2v4.5h-88.2zM112.0 78.2h5.1v4.5h-5.1zM116.9 86.9h5.1v4.5h-5.1zM48.4 95.6h10.0v4.5h-10.0zM92.4 104.2h5.1v4.5h-5.1zM24.0 108.6h5.1v4.5h-5.1zM24.0 112.9h5.1v4.5h-5.1zM102.2 112.9h5.1v4.5h-5.1zM112.0 112.9h10.0v4.5h-10.0zM19.1 117.3h10.0v4.5h-10.0zM116.9 121.6h5.1v4.5h-5.1zM116.9 126.0h5.1v4.5h-5.1zM116.9 130.3h5.1v4.5h-5.1zM-0.5 139.0h5.1v4.5h-5.1zM-0.5 143.3h5.1v4.5h-5.1zM-0.5 156.4h5.1v4.5h-5.1z"/>
<path fill="#838383" d="M92.4 -21.7h5.1v4.5h-5.1zM92.4 -17.4h5.1v4.5h-5.1zM92.4 -13.0h5.1v4.5h-5.1zM92.4 -8.7h5.1v4.5h-5.1zM92.4 -4.3h5.1v4.5h-5.1zM92.4 0.0h5.1v4.5h-5.1zM92.4 4.3h5.1v4.5h-5.1zM87.5 17.4h5.1v4.5h-5.1zM77.8 21.7h14.9v4.5h-14.9zM53.3 34.8h5.1v4.5h-5.1zM-24.9 39.1h29.5v4.5h-29.5zM9.3 39.1h5.1v4.5h-5.1zM48.4 39.1h10.0v4.5h-10.0zM14.2 47.8h14.9v4.5h-14.9zM-24.9 73.8h83.3v4.5h-83.3zM116.9 73.8h5.1v4.5h-5.1zM121.8 78.2h5.1v4.5h-5.1zM136.4 86.9h24.7v4.5h-24.7zM48.4 99.9h10.0v4.5h-10.0zM87.5 104.2h5.1v4.5h-5.1zM28.9 112.9h5.1v4.5h-5.1zM28.9 117.3h5.1v4.5h-5.1zM28.9 121.6h5.1v4.5h-5.1zM112.0 126.0h5.1v4.5h-5.1zM116.9 139.0h5.1v4.5h-5.1zM4.4 143.3h5.1v4.5h-5.1zM116.9 143.3h5.1v4.5h-5.1zM4.4 147.7h5.1v4.5h-5.1zM116.9 147.7h5.1v4.5h-5.1zM4.4 152.0h5.1v4.5h-5.1zM116.9 152.0h5.1v4.5h-5.1zM4.4 156.4h5.1v4.5h-5.1zM116.9 156.4h5.1v4.5h-5.1z"/>
<path fill="#7e7e7e" d="M97.3 -21.7h10.0v4.5h-10.0zM116.9 -21.7h14.9v4.5h-14.9zM97.3 -17.4h10.0v4.5h-10.0zM116.9 -17.4h14.9v4.5h-14.9zM97.3 -13.0h10.0v4.5h-10.0zM116.9 -13.0h14.9v4.5h-14.9zM97.3 -8.7h10.0v4.5h-10.0zM116.9 -8.7h14.9v4.5h-14.9zM97.3 -4.3h10.0v4.5h-10.0zM116.9 -4.3h19.8v4.5h-19.8zM97.3 0.0h10.0v4.5h-10.0zM116.9 0.0h14.9v4.5h-14.9zM97.3 4.3h10.0v4.5h-10.0zM116.9 4.3h14.9v4.5h-14.9zM97.3 8.7h10.0v4.5h-10.0zM116.9 8.7h10.0v4.5h-10.0zM97.3 13.0h29.5v4.5h-29.5zM116.9 17.4h5.1v4.5h-5.1zM72.9 26.1h5.1v4.5h-5.1zM58.2 34.8h5.1v4.5h-5.1zM58.2 39.1h5.1v4.5h-5.1zM-24.9 43.4h34.4v4.5h-34.4zM38.6 43.4h19.8v4.5h-19.8zM-24.9 47.8h34.4v4.5h-34.4zM33.7 47.8h10.0v4.5h-10.0zM48.4 47.8h5.1v4.5h-5.1zM-24.9 52.1h58.9v4.5h-58.9zM14.2 56.5h5.1v4.5h-5.1zM19.1 60.8h19.8v4.5h-19.8zM63.1 69.5h49.1v4.5h-49.1zM121.8 73.8h5.1v4.5h-5.1zM126.7 78.2h5.1v4.5h-5.1zM131.5 82.5h29.5v4.5h-29.5zM82.6 104.2h5.1v4.5h-5.1zM33.7 108.6h5.1v4.5h-5.1zM92.4 108.6h5.1v4.5h-5.1zM107.1 121.6h5.1v4.5h-5.1zM28.9 126.0h5.1v4.5h-5.1zM19.1 130.3h14.9v4.5h-14.9zM14.2 134.7h10.0v4.5h-10.0zM28.9 134.7h5.1v4.5h-5.1zM9.3 139.0h10.0v4.5h-10.0zM28.9 139.0h5.1v4.5h-5.1zM9.3 143.3h10.0v4.5h-10.0zM28.9 143.3h5.1v4.5h-5.1zM9.3 147.7h10.0v4.5h-10.0zM28.9 147.7h5.1v4.5h-5.1zM9.3 152.0h10.0v4.5h-10.0zM28.9 152.0h5.1v4.5h-5.1zM9.3 156.4h10.0v4.5h-10.0zM28.9 156.4h5.1v4.5h-5.1z"/>
<path fill="#818181" d="M107.1 -21.7h10.0v4.5h-10.0zM107.1 -17.4h10.0v4.5h-10.0zM107.1 -13.0h10.0v4.5h-10.0zM107.1 -8.7h10.0v4.5h-10.0zM107.1 -4.3h10.0v4.5h-10.0zM107.1 0.0h10.0v4.5h-10.0zM107.1 4.3h10.0v4.5h-10.0zM92.4 8.7h5.1v4.5h-5.1zM107.1 8.7h10.0v4.5h-10.0zM92.4 13.0h5.1v4.5h-5.1zM92.4 17.4h24.7v4.5h-24.7zM92.4 21.7h29.5v4.5h-29.5zM58.2 30.4h5.1v4.5h-5.1zM68.0 30.4h5.1v4.5h-5.1zM4.4 39.1h5.1v4.5h-5.1zM38.6 39.1h10.0v4.5h-10.0zM9.3 43.4h5.1v4.5h-5.1zM33.7 43.4h5.1v4.5h-5.1zM9.3 47.8h5.1v4.5h-5.1zM28.9 47.8h5.1v4.5h-5.1zM43.5 47.8h5.1v4.5h-5.1zM33.7 52.1h14.9v4.5h-14.9zM19.1 56.5h24.7v4.5h-24.7zM126.7 82.5h5.1v4.5h-5.1zM38.6 104.2h5.1v4.5h-5.1zM97.3 112.9h5.1v4.5h-5.1zM102.2 117.3h5.1v4.5h-5.1zM19.1 126.0h10.0v4.5h-10.0zM14.2 130.3h5.1v4.5h-5.1zM112.0 130.3h5.1v4.5h-5.1zM9.3 134.7h5.1v4.5h-5.1zM24.0 134.7h5.1v4.5h-5.1zM4.4 139.0h5.1v4.5h-5.1zM19.1 139.0h10.0v4.5h-10.0zM19.1 143.3h10.0v4.5h-10.0zM19.1 147.7h10.0v4.5h-10.0zM19.1 152.0h10.0v4.5h-10.0zM19.1 156.4h10.0v4.5h-10.0z"/>
<path fill="#7c7c7c" d="M131.5 -21.7h29.5v4.5h-29.5zM131.5 -17.4h29.5v4.5h-29.5zM131.5 -13.0h29.5v4.5h-29.5zM131.5 -8.7h29.5v4.5h-29.5zM136.4 -4.3h24.7v4.5h-24.7zM131.5 0.0h29.5v4.5h-29.5zM131.5 4.3h29.5v4.5h-29.5zM126.7 8.7h5.1v4.5h-5.1zM126.7 13.0h5.1v4.5h-5.1zM121.8 17.4h5.1v4.5h-5.1zM121.8 21.7h5.1v4.5h-5.1zM87.5 26.1h34.4v4.5h-34.4zM63.1 34.8h5.1v4.5h-5.1zM9.3 56.5h5.1v4.5h-5.1zM43.5 56.5h5.1v4.5h-5.1zM14.2 60.8h5.1v4.5h-5.1zM38.6 60.8h5.1v4.5h-5.1zM-24.9 69.5h34.4v4.5h-34.4zM43.5 69.5h19.8v4.5h-19.8zM112.0 69.5h10.0v4.5h-10.0zM126.7 73.8h10.0v4.5h-10.0zM146.2 73.8h5.1v4.5h-5.1zM131.5 78.2h29.5v4.5h-29.5zM43.5 104.2h5.1v4.5h-5.1zM77.8 104.2h5.1v4.5h-5.1zM112.0 134.7h5.1v4.5h-5.1zM112.0 139.0h5.1v4.5h-5.1zM112.0 143.3h5.1v4.5h-5.1zM112.0 147.7h5.1v4.5h-5.1zM112.0 152.0h5.1v4.5h-5.1zM112.0 156.4h5.1v4.5h-5.1z"/>
<path fill="#878787" d="M87.5 4.3h5.1v4.5h-5.1zM87.5 8.7h5.1v4.5h-5.1zM82.6 17.4h5.1v4.5h-5.1zM72.9 21.7h5.1v4.5h-5.1zM38.6 34.8h5.1v4.5h-5.1zM48.4 34.8h5.1v4.5h-5.1zM14.2 43.4h5.1v4.5h-5.1zM116.9 78.2h5.1v4.5h-5.1zM116.9 82.5h5.1v4.5h-5.1zM121.8 86.9h5.1v4.5h-5.1zM38.6 99.9h5.1v4.5h-5.1zM63.1 99.9h19.8v4.5h-19.8zM97.3 108.6h5.1v4.5h-5.1zM112.0 117.3h10.0v4.5h-10.0zM24.0 121.6h5.1v4.5h-5.1z"/>
<path fill="#9b9b9b" d="M-24.9 8.7h24.7v4.5h-24.7zM-24.9 13.0h24.7v4.5h-24.7zM9.3 13.0h5.1v4.5h-5.1zM53.3 17.4h5.1v4.5h-5.1zM28.9 21.7h5.1v4.5h-5.1zM48.4 21.7h5.1v4.5h-5.1zM-24.9 95.6h24.7v4.5h-24.7zM-24.9 99.9h10.0v4.5h-10.0zM-10.3 99.9h10.0v4.5h-10.0zM-0.5 104.2h10.0v4.5h-10.0zM-0.5 108.6h10.0v4.5h-10.0zM-0.5 112.9h10.0v4.5h-10.0zM-0.5 117.3h10.0v4.5h-10.0zM-24.9 121.6h14.9v4.5h-14.9zM-0.5 121.6h5.1v4.5h-5.1zM-24.9 126.0h24.7v4.5h-24.7z"/>
<path fill="#7a7a7a" d="M131.5 8.7h29.5v4.5h-29.5zM131.5 13.0h29.5v4.5h-29.5zM126.7 17.4h5.1v4.5h-5.1zM77.8 26.1h10.0v4.5h-10.0zM58.2 43.4h5.1v4.5h-5.1zM48.4 52.1h5.1v4.5h-5.1zM-24.9 56.5h34.4v4.5h-34.4zM126.7 60.8h10.0v4.5h-10.0zM141.3 60.8h19.8v4.5h-19.8zM19.1 65.2h19.8v4.5h-19.8zM9.3 69.5h34.4v4.5h-34.4zM121.8 69.5h39.3v4.5h-39.3zM136.4 73.8h10.0v4.5h-10.0zM151.1 73.8h10.0v4.5h-10.0zM48.4 104.2h10.0v4.5h-10.0zM72.9 104.2h5.1v4.5h-5.1zM38.6 108.6h5.1v4.5h-5.1zM33.7 112.9h5.1v4.5h-5.1zM97.3 117.3h5.1v4.5h-5.1z"/>
<path fill="#a9a9a9" d="M19.1 13.0h10.0v4.5h-10.0z"/>
<path fill="#9f9f9f" d="M53.3 13.0h5.1v4.5h-5.1zM43.5 21.7h5.1v4.5h-5.1z"/>
<path fill="#858585" d="M87.5 13.0h5.1v4.5h-5.1zM53.3 30.4h5.1v4.5h-5.1zM63.1 30.4h5.1v4.5h-5.1zM33.7 39.1h5.1v4.5h-5.1zM28.9 43.4h5.1v4.5h-5.1zM58.2 73.8h5.1v4.5h-5.1zM112.0 73.8h5.1v4.5h-5.1zM121.8 82.5h5.1v4.5h-5.1zM126.7 86.9h10.0v4.5h-10.0zM43.5 99.9h5.1v4.5h-5.1zM58.2 99.9h5.1v4.5h-5.1zM33.7 104.2h5.1v4.5h-5.1zM28.9 108.6h5.1v4.5h-5.1zM107.1 117.3h5.1v4.5h-5.1zM19.1 121.6h5.1v4.5h-5.1zM112.0 121.6h5.1v4.5h-5.1zM14.2 126.0h5.1v4.5h-5.1zM9.3 130.3h5.1v4.5h-5.1zM4.4 134.7h5.1v4.5h-5.1zM116.9 134.7h5.1v4.5h-5.1z"/>
<path fill="#979797" d="M-24.9 17.4h29.5v4.5h-29.5zM4.4 21.7h5.1v4.5h-5.1zM9.3 26.1h5.1v4.5h-5.1zM24.0 26.1h5.1v4.5h-5.1zM33.7 26.1h14.9v4.5h-14.9zM24.0 34.8h5.1v4.5h-5.1zM-24.9 91.2h24.7v4.5h-24.7zM68.0 95.6h5.1v4.5h-5.1zM77.8 95.6h10.0v4.5h-10.0zM9.3 104.2h5.1v4.5h-5.1zM9.3 108.6h5.1v4.5h-5.1zM9.3 112.9h5.1v4.5h-5.1zM9.3 117.3h5.1v4.5h-5.1zM-24.9 130.3h24.7v4.5h-24.7z"/>
<path fill="#a1a1a1" d="M48.4 17.4h5.1v4.5h-5.1z"/>
<path fill="#787878" d="M131.5 17.4h29.5v4.5h-29.5zM126.7 21.7h5.1v4.5h-5.1zM121.8 26.1h5.1v4.5h-5.1zM72.9 30.4h5.1v4.5h-5.1zM68.0 34.8h5.1v4.5h-5.1zM53.3 47.8h5.1v4.5h-5.1zM48.4 56.5h5.1v4.5h-5.1zM126.7 56.5h34.4v4.5h-34.4zM-24.9 60.8h24.7v4.5h-24.7zM9.3 60.8h5.1v4.5h-5.1zM43.5 60.8h5.1v4.5h-5.1zM121.8 60.8h5.1v4.5h-5.1zM136.4 60.8h5.1v4.5h-5.1zM-24.9 65.2h44.2v4.5h-44.2zM38.6 65.2h10.0v4.5h-10.0zM121.8 65.2h39.3v4.5h-39.3zM58.2 104.2h14.9v4.5h-14.9zM87.5 108.6h5.1v4.5h-5.1zM92.4 112.9h5.1v4.5h-5.1zM33.7 117.3h5.1v4.5h-5.1zM33.7 121.6h5.1v4.5h-5.1zM102.2 121.6h5.1v4.5h-5.1zM33.7 126.0h5.1v4.5h-5.1zM107.1 126.0h5.1v4.5h-5.1zM33.7 130.3h5.1v4.5h-5.1zM33.7 134.7h5.1v4.5h-5.1zM33.7 139.0h5.1v4.5h-5.1zM33.7 143.3h5.1v4.5h-5.1zM33.7 147.7h5.1v4.5h-5.1zM33.7 152.0h5.1v4.5h-5.1zM33.7 156.4h5.1v4.5h-5.1z"/>
<path fill="#919191" d="M-0.5 21.7h5.1v4.5h-5.1zM4.4 30.4h5.1v4.5h-5.1zM19.1 30.4h5.1v4.5h-5.1zM43.5 30.4h5.1v4.5h-5.1zM19.1 34.8h5.1v4.5h-5.1zM19.1 39.1h5.1v4.5h-5.1zM-5.4 86.9h5.1v4.5h-5.1zM68.0 86.9h19.8v4.5h-19.8zM-10.3 134.7h10.0v4.5h-10.0z"/>
<path fill="#939393" d="M53.3 21.7h5.1v4.5h-5.1zM48.4 26.1h5.1v4.5h-5.1zM33.7 30.4h5.1v4.5h-5.1zM24.0 39.1h5.1v4.5h-5.1zM4.4 95.6h5.1v4.5h-5.1zM9.3 121.6h5.1v4.5h-5.1z"/>
<path fill="#767676" d="M131.5 21.7h29.5v4.5h-29.5zM126.7 26.1h5.1v4.5h-5.1zM87.5 30.4h10.0v4.5h-10.0zM107.1 30.4h10.0v4.5h-10.0zM63.1 39.1h5.1v4.5h-5.1zM121.8 56.5h5.1v4.5h-5.1zM-0.5 60.8h10.0v4.5h-10.0zM48.4 60.8h5.1v4.5h-5.1zM48.4 65.2h73.6v4.5h-73.6zM43.5 108.6h5.1v4.5h-5.1zM77.8 108.6h10.0v4.5h-10.0zM107.1 130.3h5.1v4.5h-5.1zM107.1 134.7h5.1v4.5h-5.1zM107.1 139.0h5.1v4.5h-5.1zM107.1 143.3h5.1v4.5h-5.1zM107.1 147.7h5.1v4.5h-5.1zM107.1 152.0h5.1v4.5h-5.1zM107.1 156.4h5.1v4.5h-5.1z"/>
<path fill="#747474" d="M131.5 26.1h29.5v4.5h-29.5zM82.6 30.4h5.1v4.5h-5.1zM97.3 30.4h10.0v4.5h-10.0zM116.9 30.4h14.9v4.5h-14.9zM72.9 34.8h5.1v4.5h-5.1zM63.1 43.4h5.1v4.5h-5.1zM58.2 47.8h5.1v4.5h-5.1zM53.3 52.1h5.1v4.5h-5.1zM121.8 52.1h39.3v4.5h-39.3zM116.9 56.5h5.1v4.5h-5.1zM53.3 60.8h5.1v4.5h-5.1zM116.9 60.8h5.1v4.5h-5.1zM48.4 108.6h5.1v4.5h-5.1zM72.9 108.6h5.1v4.5h-5.1zM38.6 112.9h5.1v4.5h-5.1z"/>
<path fill="#727272" d="M77.8 30.4h5.1v4.5h-5.1zM131.5 30.4h29.5v4.5h-29.5zM87.5 34.8h10.0v4.5h-10.0zM102.2 34.8h10.0v4.5h-10.0zM116.9 34.8h44.2v4.5h-44.2zM68.0 39.1h93.1v4.5h-93.1zM72.9 43.4h88.2v4.5h-88.2zM63.1 47.8h98.0v4.5h-98.0zM63.1 52.1h58.9v4.5h-58.9zM53.3 56.5h5.1v4.5h-5.1zM63.1 56.5h54.0v4.5h-54.0zM58.2 60.8h58.9v4.5h-58.9zM43.5 112.9h5.1v4.5h-5.1zM92.4 117.3h5.1v4.5h-5.1zM97.3 121.6h5.1v4.5h-5.1z"/>
<path fill="#707070" d="M77.8 34.8h10.0v4.5h-10.0zM97.3 34.8h5.1v4.5h-5.1zM112.0 34.8h5.1v4.5h-5.1zM68.0 43.4h5.1v4.5h-5.1zM58.2 52.1h5.1v4.5h-5.1zM58.2 56.5h5.1v4.5h-5.1zM87.5 112.9h5.1v4.5h-5.1zM38.6 117.3h5.1v4.5h-5.1zM102.2 126.0h5.1v4.5h-5.1zM102.2 139.0h5.1v4.5h-5.1zM102.2 143.3h5.1v4.5h-5.1zM102.2 147.7h5.1v4.5h-5.1zM102.2 152.0h5.1v4.5h-5.1zM102.2 156.4h5.1v4.5h-5.1z"/>
<path fill="#6e6e6e" d="M53.3 108.6h5.1v4.5h-5.1zM68.0 108.6h5.1v4.5h-5.1zM77.8 112.9h10.0v4.5h-10.0zM38.6 121.6h5.1v4.5h-5.1zM102.2 130.3h5.1v4.5h-5.1zM102.2 134.7h5.1v4.5h-5.1z"/>
<path fill="#6a6a6a" d="M58.2 108.6h10.0v4.5h-10.0zM72.9 112.9h5.1v4.5h-5.1zM97.3 126.0h5.1v4.5h-5.1zM97.3 139.0h5.1v4.5h-5.1z"/>
<path fill="#6c6c6c" d="M48.4 112.9h5.1v4.5h-5.1zM43.5 117.3h5.1v4.5h-5.1zM87.5 117.3h5.1v4.5h-5.1zM92.4 121.6h5.1v4.5h-5.1zM38.6 126.0h5.1v4.5h-5.1zM38.6 130.3h5.1v4.5h-5.1zM38.6 134.7h5.1v4.5h-5.1zM38.6 139.0h5.1v4.5h-5.1zM38.6 143.3h5.1v4.5h-5.1zM38.6 147.7h5.1v4.5h-5.1zM38.6 152.0h5.1v4.5h-5.1zM38.6 156.4h5.1v4.5h-5.1z"/>
<path fill="#646464" d="M53.3 112.9h5.1v4.5h-5.1zM68.0 112.9h5.1v4.5h-5.1zM92.4 126.0h5.1v4.5h-5.1z"/>
<path fill="#5e5e5e" d="M58.2 112.9h5.1v4.5h-5.1zM53.3 117.3h5.1v4.5h-5.1zM48.4 121.6h5.1v4.5h-5.1zM82.6 121.6h5.1v4.5h-5.1zM87.5 126.0h5.1v4.5h-5.1zM43.5 130.3h5.1v4.5h-5.1zM43.5 134.7h5.1v4.5h-5.1zM43.5 147.7h5.1v4.5h-5.1zM43.5 152.0h5.1v4.5h-5.1zM43.5 156.4h5.1v4.5h-5.1z"/>
<path fill="#606060" d="M63.1 112.9h5.1v4.5h-5.1zM77.8 117.3h5.1v4.5h-5.1zM43.5 126.0h5.1v4.5h-5.1zM43.5 139.0h5.1v4.5h-5.1zM43.5 143.3h5.1v4.5h-5.1z"/>
<path fill="#666666" d="M48.4 117.3h5.1v4.5h-5.1zM82.6 117.3h5.1v4.5h-5.1zM43.5 121.6h5.1v4.5h-5.1zM87.5 121.6h5.1v4.5h-5.1z"/>
<path fill="#585858" d="M58.2 117.3h5.1v4.5h-5.1zM58.2 121.6h14.9v4.5h-14.9zM77.8 121.6h5.1v4.5h-5.1zM48.4 126.0h5.1v4.5h-5.1zM77.8 126.0h5.1v4.5h-5.1z"/>
<path fill="#5a5a5a" d="M63.1 117.3h5.1v4.5h-5.1zM53.3 121.6h5.1v4.5h-5.1zM53.3 126.0h24.7v4.5h-24.7zM82.6 126.0h5.1v4.5h-5.1zM87.5 130.3h5.1v4.5h-5.1z"/>
<path fill="#5c5c5c" d="M68.0 117.3h10.0v4.5h-10.0zM87.5 134.7h5.1v4.5h-5.1zM87.5 139.0h5.1v4.5h-5.1zM87.5 143.3h5.1v4.5h-5.1zM87.5 147.7h5.1v4.5h-5.1zM87.5 152.0h5.1v4.5h-5.1zM87.5 156.4h5.1v4.5h-5.1z"/>
<path fill="#565656" d="M72.9 121.6h5.1v4.5h-5.1zM48.4 130.3h39.3v4.5h-39.3zM82.6 134.7h5.1v4.5h-5.1zM82.6 139.0h5.1v4.5h-5.1zM82.6 143.3h5.1v4.5h-5.1zM82.6 147.7h5.1v4.5h-5.1zM82.6 152.0h5.1v4.5h-5.1zM82.6 156.4h5.1v4.5h-5.1z"/>
<path fill="#626262" d="M92.4 130.3h5.1v4.5h-5.1zM92.4 134.7h5.1v4.5h-5.1zM92.4 139.0h5.1v4.5h-5.1zM92.4 143.3h5.1v4.5h-5.1zM92.4 147.7h5.1v4.5h-5.1zM92.4 152.0h5.1v4.5h-5.1zM92.4 156.4h5.1v4.5h-5.1z"/>
<path fill="#686868" d="M97.3 130.3h5.1v4.5h-5.1zM97.3 134.7h5.1v4.5h-5.1zM97.3 143.3h5.1v4.5h-5.1zM97.3 147.7h5.1v4.5h-5.1zM97.3 152.0h5.1v4.5h-5.1zM97.3 156.4h5.1v4.5h-5.1z"/>
<path fill="#545454" d="M48.4 134.7h5.1v4.5h-5.1zM48.4 139.0h5.1v4.5h-5.1zM48.4 143.3h5.1v4.5h-5.1zM48.4 147.7h5.1v4.5h-5.1zM48.4 152.0h5.1v4.5h-5.1zM48.4 156.4h5.1v4.5h-5.1z"/>
<path fill="#505050" d="M53.3 134.7h5.1v4.5h-5.1zM63.1 134.7h5.1v4.5h-5.1zM77.8 134.7h5.1v4.5h-5.1z"/>
<path fill="#4e4e4e" d="M58.2 134.7h5.1v4.5h-5.1zM68.0 134.7h10.0v4.5h-10.0zM77.8 139.0h5.1v4.5h-5.1zM53.3 143.3h5.1v4.5h-5.1zM77.8 143.3h5.1v4.5h-5.1zM53.3 147.7h5.1v4.5h-5.1zM77.8 147.7h5.1v4.5h-5.1zM53.3 152.0h5.1v4.5h-5.1zM77.8 152.0h5.1v4.5h-5.1zM53.3 156.4h5.1v4.5h-5.1zM77.8 156.4h5.1v4.5h-5.1z"/>
<path fill="#4c4c4c" d="M53.3 139.0h5.1v4.5h-5.1zM63.1 143.3h10.0v4.5h-10.0zM58.2 147.7h19.8v4.5h-19.8zM58.2 152.0h19.8v4.5h-19.8zM58.2 156.4h19.8v4.5h-19.8z"/>
<path fill="#4a4a4a" d="M58.2 139.0h19.8v4.5h-19.8zM58.2 143.3h5.1v4.5h-5.1zM72.9 143.3h5.1v4.5h-5.1z"/>
</g></g>
<path d="M0.0,38.8C0.8,39.9 2.9,43.3 4.5,45.5C6.1,47.7 7.6,49.8 9.6,51.9C11.6,54.0 14.2,56.1 16.5,58.0C18.8,59.9 21.5,62.2 23.7,63.0C25.9,63.8 27.5,63.2 29.5,62.7C31.5,62.2 33.6,61.4 35.8,59.9C38.0,58.4 40.2,55.9 42.5,53.5C44.8,51.1 47.2,48.3 49.9,45.8C52.6,43.3 55.5,40.7 58.5,38.5C61.5,36.3 65.2,34.2 68.0,32.7C70.8,31.2 72.8,30.3 75.5,29.5C78.2,28.7 81.3,28.1 84.1,27.7C86.9,27.3 89.5,27.1 92.5,26.9C95.5,26.7 100.6,26.7 102.2,26.7M0.0,70.0C1.4,70.2 5.6,70.9 8.5,71.3C11.4,71.7 15.0,72.0 17.5,72.3C20.0,72.6 21.5,72.8 23.5,73.0C25.5,73.2 27.5,73.5 29.5,73.5C31.5,73.5 33.5,73.4 35.5,73.3C37.5,73.2 38.8,73.1 41.5,72.8C44.2,72.6 48.2,72.1 51.5,71.8C54.8,71.6 58.2,71.5 61.5,71.3C64.8,71.1 67.8,70.9 71.5,70.8C75.2,70.7 78.8,70.5 83.5,70.5C88.2,70.5 94.8,70.5 99.5,70.5C104.2,70.5 107.8,70.6 111.5,70.8C115.2,71.0 118.3,71.2 121.5,71.5C124.7,71.8 129.0,72.3 130.5,72.5M32.7,139.0C32.8,136.9 33.0,130.4 33.5,126.5C34.0,122.6 34.8,118.6 35.8,115.8C36.8,113.0 37.8,111.0 39.5,109.5C41.2,108.0 43.1,107.3 45.8,106.8C48.5,106.3 52.2,106.3 55.5,106.3C58.8,106.3 62.1,106.4 65.9,106.8C69.7,107.2 74.5,108.0 78.5,108.8C82.5,109.6 86.8,110.6 90.1,111.8C93.4,113.0 95.8,114.3 98.5,116.0C101.2,117.7 104.1,119.8 106.3,121.9C108.5,124.0 110.0,126.1 111.5,128.5C113.0,130.8 114.5,134.2 115.3,136.0C116.1,137.8 116.3,138.5 116.5,139.0" fill="none" stroke="#b8b8b8" stroke-opacity="0.75" stroke-width="1.5" stroke-linejoin="round" stroke-linecap="round" clip-path="url(#pc)"/>
<line x1="0" y1="104.25" x2="136" y2="104.25" stroke="#3a3a3a" stroke-opacity="0.68" stroke-width="1.9" stroke-dasharray="6 5.8"/>
<line x1="67.97" y1="139" x2="67.97" y2="0" stroke="#3a3a3a" stroke-opacity="0.68" stroke-width="1.9" stroke-dasharray="6 5.8"/>
<rect x="0" y="0" width="136" height="139" fill="none" stroke="#636363" stroke-width="1.35"/>
</g>
<text x="396.50" y="182.5" font-size="12" font-style="italic" fill="#1a1a1a" text-anchor="middle">P. sylvestris</text>
<g transform="translate(473.0,191.5)">
<g clip-path="url(#m7)"><g filter="url(#cm)">
<path fill="#727272" d="M-24.9 -21.7h29.5v4.5h-29.5zM-24.9 -17.4h29.5v4.5h-29.5zM-24.9 -13.0h24.7v4.5h-24.7zM-24.9 -8.7h29.5v4.5h-29.5zM-24.9 -4.3h29.5v4.5h-29.5zM-24.9 0.0h24.7v4.5h-24.7zM-24.9 4.3h24.7v4.5h-24.7zM-24.9 8.7h34.4v4.5h-34.4zM-0.5 13.0h10.0v4.5h-10.0zM28.9 21.7h5.1v4.5h-5.1zM38.6 26.1h5.1v4.5h-5.1zM121.8 26.1h39.3v4.5h-39.3zM43.5 30.4h5.1v4.5h-5.1zM28.9 82.5h5.1v4.5h-5.1zM43.5 82.5h5.1v4.5h-5.1zM24.0 86.9h5.1v4.5h-5.1zM48.4 86.9h5.1v4.5h-5.1zM19.1 91.2h5.1v4.5h-5.1zM53.3 91.2h5.1v4.5h-5.1zM72.9 121.6h5.1v4.5h-5.1z"/>
<path fill="#747474" d="M4.4 -21.7h5.1v4.5h-5.1zM4.4 -17.4h5.1v4.5h-5.1zM-0.5 -13.0h10.0v4.5h-10.0zM4.4 -8.7h5.1v4.5h-5.1zM4.4 -4.3h5.1v4.5h-5.1zM-0.5 0.0h10.0v4.5h-10.0zM-0.5 4.3h10.0v4.5h-10.0zM9.3 17.4h5.1v4.5h-5.1zM24.0 21.7h5.1v4.5h-5.1zM82.6 30.4h5.1v4.5h-5.1zM48.4 34.8h34.4v4.5h-34.4zM33.7 78.2h5.1v4.5h-5.1zM53.3 86.9h5.1v4.5h-5.1zM14.2 95.6h5.1v4.5h-5.1zM58.2 95.6h5.1v4.5h-5.1zM68.0 112.9h5.1v4.5h-5.1zM77.8 130.3h5.1v4.5h-5.1zM4.4 134.7h5.1v4.5h-5.1z"/>
<path fill="#707070" d="M9.3 -21.7h5.1v4.5h-5.1zM9.3 -17.4h5.1v4.5h-5.1zM9.3 -13.0h5.1v4.5h-5.1zM9.3 -8.7h5.1v4.5h-5.1zM9.3 -4.3h5.1v4.5h-5.1zM9.3 0.0h5.1v4.5h-5.1zM9.3 4.3h5.1v4.5h-5.1zM-24.9 13.0h24.7v4.5h-24.7zM33.7 21.7h5.1v4.5h-5.1zM107.1 26.1h14.9v4.5h-14.9zM58.2 30.4h24.7v4.5h-24.7zM58.2 99.9h5.1v4.5h-5.1zM63.1 108.6h5.1v4.5h-5.1zM4.4 147.7h5.1v4.5h-5.1zM4.4 152.0h5.1v4.5h-5.1z"/>
<path fill="#686868" d="M14.2 -21.7h5.1v4.5h-5.1zM14.2 -17.4h5.1v4.5h-5.1zM14.2 -13.0h5.1v4.5h-5.1zM14.2 -8.7h5.1v4.5h-5.1zM14.2 -4.3h5.1v4.5h-5.1zM14.2 0.0h5.1v4.5h-5.1zM14.2 4.3h5.1v4.5h-5.1zM14.2 8.7h5.1v4.5h-5.1zM33.7 17.4h10.0v4.5h-10.0zM53.3 26.1h5.1v4.5h-5.1zM58.2 104.2h5.1v4.5h-5.1zM63.1 112.9h5.1v4.5h-5.1zM68.0 121.6h5.1v4.5h-5.1z"/>
<path fill="#646464" d="M19.1 -21.7h10.0v4.5h-10.0zM19.1 -17.4h5.1v4.5h-5.1zM19.1 -13.0h5.1v4.5h-5.1zM19.1 -8.7h10.0v4.5h-10.0zM19.1 -4.3h10.0v4.5h-10.0zM19.1 0.0h5.1v4.5h-5.1zM19.1 4.3h5.1v4.5h-5.1zM19.1 8.7h19.8v4.5h-19.8zM24.0 13.0h14.9v4.5h-14.9zM48.4 21.7h5.1v4.5h-5.1zM28.9 91.2h5.1v4.5h-5.1zM43.5 91.2h5.1v4.5h-5.1zM19.1 99.9h5.1v4.5h-5.1zM53.3 99.9h5.1v4.5h-5.1zM72.9 134.7h5.1v4.5h-5.1z"/>
<path fill="#666666" d="M28.9 -21.7h19.8v4.5h-19.8zM24.0 -17.4h24.7v4.5h-24.7zM24.0 -13.0h24.7v4.5h-24.7zM28.9 -8.7h19.8v4.5h-19.8zM28.9 -4.3h19.8v4.5h-19.8zM24.0 0.0h24.7v4.5h-24.7zM24.0 4.3h24.7v4.5h-24.7zM38.6 8.7h10.0v4.5h-10.0zM14.2 13.0h5.1v4.5h-5.1zM38.6 13.0h10.0v4.5h-10.0zM43.5 17.4h5.1v4.5h-5.1zM43.5 21.7h5.1v4.5h-5.1zM48.4 26.1h5.1v4.5h-5.1zM24.0 95.6h5.1v4.5h-5.1zM48.4 95.6h5.1v4.5h-5.1zM14.2 126.0h5.1v4.5h-5.1z"/>
<path fill="#626262" d="M48.4 -21.7h5.1v4.5h-5.1zM48.4 -17.4h5.1v4.5h-5.1zM48.4 -13.0h5.1v4.5h-5.1zM48.4 -8.7h5.1v4.5h-5.1zM48.4 -4.3h5.1v4.5h-5.1zM48.4 0.0h5.1v4.5h-5.1zM48.4 4.3h5.1v4.5h-5.1zM48.4 8.7h5.1v4.5h-5.1zM19.1 13.0h5.1v4.5h-5.1zM48.4 13.0h5.1v4.5h-5.1zM48.4 17.4h5.1v4.5h-5.1zM53.3 21.7h34.4v4.5h-34.4zM33.7 86.9h10.0v4.5h-10.0zM58.2 108.6h5.1v4.5h-5.1zM63.1 117.3h5.1v4.5h-5.1zM68.0 126.0h5.1v4.5h-5.1zM72.9 147.7h5.1v4.5h-5.1zM72.9 152.0h5.1v4.5h-5.1zM72.9 156.4h5.1v4.5h-5.1z"/>
<path fill="#5c5c5c" d="M53.3 -21.7h5.1v4.5h-5.1zM53.3 -17.4h5.1v4.5h-5.1zM53.3 -13.0h5.1v4.5h-5.1zM53.3 -8.7h5.1v4.5h-5.1zM53.3 -4.3h5.1v4.5h-5.1zM53.3 0.0h5.1v4.5h-5.1zM53.3 4.3h5.1v4.5h-5.1zM53.3 8.7h5.1v4.5h-5.1zM53.3 13.0h5.1v4.5h-5.1zM68.0 17.4h10.0v4.5h-10.0zM33.7 91.2h10.0v4.5h-10.0zM43.5 99.9h5.1v4.5h-5.1zM19.1 121.6h5.1v4.5h-5.1zM63.1 121.6h5.1v4.5h-5.1zM68.0 130.3h5.1v4.5h-5.1zM68.0 134.7h5.1v4.5h-5.1zM68.0 139.0h5.1v4.5h-5.1zM68.0 143.3h5.1v4.5h-5.1zM68.0 147.7h5.1v4.5h-5.1zM68.0 152.0h5.1v4.5h-5.1zM68.0 156.4h5.1v4.5h-5.1z"/>
<path fill="#585858" d="M58.2 -21.7h10.0v4.5h-10.0zM77.8 -21.7h83.3v4.5h-83.3zM58.2 -17.4h10.0v4.5h-10.0zM77.8 -17.4h83.3v4.5h-83.3zM58.2 -13.0h10.0v4.5h-10.0zM77.8 -13.0h83.3v4.5h-83.3zM58.2 -8.7h10.0v4.5h-10.0zM77.8 -8.7h83.3v4.5h-83.3zM58.2 -4.3h10.0v4.5h-10.0zM77.8 -4.3h83.3v4.5h-83.3zM58.2 0.0h10.0v4.5h-10.0zM77.8 0.0h10.0v4.5h-10.0zM97.3 0.0h63.8v4.5h-63.8zM58.2 4.3h10.0v4.5h-10.0zM102.2 4.3h58.9v4.5h-58.9zM58.2 8.7h73.6v4.5h-73.6zM63.1 13.0h63.8v4.5h-63.8zM121.8 17.4h39.3v4.5h-39.3zM24.0 104.2h5.1v4.5h-5.1zM19.1 126.0h5.1v4.5h-5.1z"/>
<path fill="#5a5a5a" d="M68.0 -21.7h10.0v4.5h-10.0zM68.0 -17.4h10.0v4.5h-10.0zM68.0 -13.0h10.0v4.5h-10.0zM68.0 -8.7h10.0v4.5h-10.0zM68.0 -4.3h10.0v4.5h-10.0zM68.0 0.0h10.0v4.5h-10.0zM87.5 0.0h10.0v4.5h-10.0zM68.0 4.3h34.4v4.5h-34.4zM131.5 8.7h29.5v4.5h-29.5zM126.7 13.0h34.4v4.5h-34.4zM58.2 17.4h10.0v4.5h-10.0zM77.8 17.4h44.2v4.5h-44.2zM33.7 95.6h10.0v4.5h-10.0zM28.9 99.9h14.9v4.5h-14.9zM58.2 112.9h5.1v4.5h-5.1zM14.2 130.3h5.1v4.5h-5.1zM9.3 134.7h5.1v4.5h-5.1z"/>
<path fill="#6e6e6e" d="M9.3 8.7h5.1v4.5h-5.1zM9.3 13.0h5.1v4.5h-5.1zM97.3 26.1h10.0v4.5h-10.0zM48.4 30.4h10.0v4.5h-10.0zM14.2 99.9h5.1v4.5h-5.1zM68.0 117.3h5.1v4.5h-5.1zM72.9 126.0h5.1v4.5h-5.1zM9.3 130.3h5.1v4.5h-5.1zM77.8 134.7h5.1v4.5h-5.1zM4.4 143.3h5.1v4.5h-5.1zM4.4 156.4h5.1v4.5h-5.1z"/>
<path fill="#565656" d="M58.2 13.0h5.1v4.5h-5.1zM33.7 104.2h10.0v4.5h-10.0zM48.4 104.2h5.1v4.5h-5.1zM53.3 108.6h5.1v4.5h-5.1zM63.1 126.0h5.1v4.5h-5.1zM63.1 134.7h5.1v4.5h-5.1zM63.1 139.0h5.1v4.5h-5.1zM63.1 143.3h5.1v4.5h-5.1zM63.1 147.7h5.1v4.5h-5.1zM63.1 152.0h5.1v4.5h-5.1zM63.1 156.4h5.1v4.5h-5.1z"/>
<path fill="#767676" d="M-24.9 17.4h34.4v4.5h-34.4zM19.1 21.7h5.1v4.5h-5.1zM87.5 30.4h5.1v4.5h-5.1zM58.2 39.1h5.1v4.5h-5.1zM72.9 39.1h5.1v4.5h-5.1zM28.9 78.2h5.1v4.5h-5.1zM38.6 78.2h5.1v4.5h-5.1zM9.3 104.2h5.1v4.5h-5.1zM63.1 104.2h5.1v4.5h-5.1z"/>
<path fill="#6c6c6c" d="M14.2 17.4h5.1v4.5h-5.1zM38.6 21.7h5.1v4.5h-5.1zM87.5 26.1h10.0v4.5h-10.0zM38.6 82.5h5.1v4.5h-5.1zM28.9 86.9h5.1v4.5h-5.1zM43.5 86.9h5.1v4.5h-5.1zM24.0 91.2h5.1v4.5h-5.1zM48.4 91.2h5.1v4.5h-5.1zM19.1 95.6h5.1v4.5h-5.1zM53.3 95.6h5.1v4.5h-5.1zM14.2 108.6h5.1v4.5h-5.1zM14.2 112.9h5.1v4.5h-5.1zM14.2 117.3h5.1v4.5h-5.1zM14.2 121.6h5.1v4.5h-5.1zM4.4 139.0h5.1v4.5h-5.1zM77.8 147.7h5.1v4.5h-5.1zM77.8 152.0h5.1v4.5h-5.1z"/>
<path fill="#6a6a6a" d="M19.1 17.4h14.9v4.5h-14.9zM43.5 26.1h5.1v4.5h-5.1zM58.2 26.1h29.5v4.5h-29.5zM33.7 82.5h5.1v4.5h-5.1zM14.2 104.2h5.1v4.5h-5.1zM72.9 130.3h5.1v4.5h-5.1zM77.8 139.0h5.1v4.5h-5.1zM77.8 143.3h5.1v4.5h-5.1zM77.8 156.4h5.1v4.5h-5.1z"/>
<path fill="#5e5e5e" d="M53.3 17.4h5.1v4.5h-5.1zM112.0 21.7h49.1v4.5h-49.1zM24.0 99.9h5.1v4.5h-5.1zM48.4 99.9h5.1v4.5h-5.1zM53.3 104.2h5.1v4.5h-5.1zM19.1 108.6h5.1v4.5h-5.1zM19.1 112.9h5.1v4.5h-5.1zM19.1 117.3h5.1v4.5h-5.1z"/>
<path fill="#818181" d="M-24.9 21.7h34.4v4.5h-34.4zM28.9 30.4h5.1v4.5h-5.1zM87.5 39.1h5.1v4.5h-5.1zM48.4 43.4h5.1v4.5h-5.1zM82.6 43.4h5.1v4.5h-5.1zM58.2 47.8h5.1v4.5h-5.1zM28.9 73.8h5.1v4.5h-5.1zM43.5 73.8h5.1v4.5h-5.1zM24.0 78.2h5.1v4.5h-5.1zM19.1 82.5h5.1v4.5h-5.1zM14.2 86.9h5.1v4.5h-5.1zM9.3 95.6h5.1v4.5h-5.1zM63.1 95.6h5.1v4.5h-5.1zM68.0 104.2h5.1v4.5h-5.1zM77.8 117.3h5.1v4.5h-5.1z"/>
<path fill="#7e7e7e" d="M9.3 21.7h5.1v4.5h-5.1zM24.0 26.1h5.1v4.5h-5.1zM33.7 30.4h5.1v4.5h-5.1zM97.3 30.4h5.1v4.5h-5.1zM38.6 34.8h5.1v4.5h-5.1zM87.5 34.8h5.1v4.5h-5.1zM43.5 39.1h5.1v4.5h-5.1zM63.1 47.8h10.0v4.5h-10.0zM33.7 73.8h10.0v4.5h-10.0zM53.3 78.2h5.1v4.5h-5.1zM58.2 82.5h5.1v4.5h-5.1zM72.9 112.9h5.1v4.5h-5.1zM82.6 130.3h5.1v4.5h-5.1z"/>
<path fill="#7a7a7a" d="M14.2 21.7h5.1v4.5h-5.1zM92.4 30.4h5.1v4.5h-5.1zM48.4 39.1h5.1v4.5h-5.1zM82.6 39.1h5.1v4.5h-5.1zM58.2 43.4h14.9v4.5h-14.9zM43.5 78.2h5.1v4.5h-5.1zM58.2 86.9h5.1v4.5h-5.1zM14.2 91.2h5.1v4.5h-5.1zM9.3 99.9h5.1v4.5h-5.1zM68.0 108.6h5.1v4.5h-5.1zM9.3 121.6h5.1v4.5h-5.1zM9.3 126.0h5.1v4.5h-5.1zM82.6 134.7h5.1v4.5h-5.1z"/>
<path fill="#606060" d="M87.5 21.7h24.7v4.5h-24.7zM28.9 95.6h5.1v4.5h-5.1zM43.5 95.6h5.1v4.5h-5.1zM19.1 104.2h5.1v4.5h-5.1zM72.9 139.0h5.1v4.5h-5.1zM72.9 143.3h5.1v4.5h-5.1z"/>
<path fill="#8b8b8b" d="M-24.9 26.1h24.7v4.5h-24.7zM9.3 26.1h5.1v4.5h-5.1zM28.9 34.8h5.1v4.5h-5.1zM92.4 43.4h5.1v4.5h-5.1zM87.5 47.8h5.1v4.5h-5.1zM77.8 56.5h5.1v4.5h-5.1zM24.0 73.8h5.1v4.5h-5.1zM14.2 82.5h5.1v4.5h-5.1zM63.1 82.5h5.1v4.5h-5.1zM4.4 126.0h5.1v4.5h-5.1zM87.5 130.3h5.1v4.5h-5.1z"/>
<path fill="#8d8d8d" d="M-0.5 26.1h10.0v4.5h-10.0zM14.2 30.4h5.1v4.5h-5.1zM116.9 30.4h5.1v4.5h-5.1zM19.1 34.8h10.0v4.5h-10.0zM33.7 39.1h5.1v4.5h-5.1zM97.3 39.1h5.1v4.5h-5.1zM38.6 43.4h5.1v4.5h-5.1zM43.5 47.8h5.1v4.5h-5.1zM82.6 52.1h5.1v4.5h-5.1zM53.3 56.5h5.1v4.5h-5.1zM48.4 69.5h5.1v4.5h-5.1zM19.1 78.2h5.1v4.5h-5.1zM68.0 86.9h5.1v4.5h-5.1zM72.9 91.2h5.1v4.5h-5.1z"/>
<path fill="#878787" d="M14.2 26.1h5.1v4.5h-5.1zM19.1 30.4h5.1v4.5h-5.1zM107.1 30.4h5.1v4.5h-5.1zM92.4 39.1h5.1v4.5h-5.1zM48.4 47.8h5.1v4.5h-5.1zM82.6 47.8h5.1v4.5h-5.1zM38.6 69.5h10.0v4.5h-10.0zM68.0 95.6h5.1v4.5h-5.1zM4.4 104.2h5.1v4.5h-5.1zM4.4 108.6h5.1v4.5h-5.1zM4.4 112.9h5.1v4.5h-5.1zM77.8 112.9h5.1v4.5h-5.1zM4.4 117.3h5.1v4.5h-5.1zM87.5 134.7h5.1v4.5h-5.1zM87.5 147.7h5.1v4.5h-5.1zM87.5 152.0h5.1v4.5h-5.1zM87.5 156.4h5.1v4.5h-5.1z"/>
<path fill="#838383" d="M19.1 26.1h5.1v4.5h-5.1zM24.0 30.4h5.1v4.5h-5.1zM102.2 30.4h5.1v4.5h-5.1zM72.9 47.8h5.1v4.5h-5.1zM63.1 52.1h10.0v4.5h-10.0zM63.1 91.2h5.1v4.5h-5.1zM82.6 126.0h5.1v4.5h-5.1zM4.4 130.3h5.1v4.5h-5.1z"/>
<path fill="#7c7c7c" d="M28.9 26.1h5.1v4.5h-5.1zM53.3 43.4h5.1v4.5h-5.1zM72.9 43.4h10.0v4.5h-10.0zM48.4 78.2h5.1v4.5h-5.1zM63.1 99.9h5.1v4.5h-5.1zM77.8 121.6h5.1v4.5h-5.1z"/>
<path fill="#787878" d="M33.7 26.1h5.1v4.5h-5.1zM38.6 30.4h5.1v4.5h-5.1zM43.5 34.8h5.1v4.5h-5.1zM82.6 34.8h5.1v4.5h-5.1zM53.3 39.1h5.1v4.5h-5.1zM63.1 39.1h10.0v4.5h-10.0zM77.8 39.1h5.1v4.5h-5.1zM24.0 82.5h5.1v4.5h-5.1zM48.4 82.5h10.0v4.5h-10.0zM19.1 86.9h5.1v4.5h-5.1zM58.2 91.2h5.1v4.5h-5.1zM9.3 108.6h5.1v4.5h-5.1zM9.3 112.9h5.1v4.5h-5.1zM9.3 117.3h5.1v4.5h-5.1zM72.9 117.3h5.1v4.5h-5.1zM77.8 126.0h5.1v4.5h-5.1zM82.6 139.0h5.1v4.5h-5.1zM82.6 143.3h5.1v4.5h-5.1zM82.6 147.7h5.1v4.5h-5.1zM82.6 152.0h5.1v4.5h-5.1zM82.6 156.4h5.1v4.5h-5.1z"/>
<path fill="#959595" d="M-24.9 30.4h29.5v4.5h-29.5zM19.1 39.1h5.1v4.5h-5.1zM28.9 39.1h5.1v4.5h-5.1zM38.6 47.8h5.1v4.5h-5.1zM48.4 56.5h5.1v4.5h-5.1zM53.3 69.5h5.1v4.5h-5.1zM68.0 82.5h5.1v4.5h-5.1zM-0.5 108.6h5.1v4.5h-5.1zM-0.5 112.9h5.1v4.5h-5.1zM-0.5 117.3h5.1v4.5h-5.1zM87.5 117.3h5.1v4.5h-5.1zM-0.5 121.6h5.1v4.5h-5.1zM-0.5 130.3h5.1v4.5h-5.1zM92.4 134.7h5.1v4.5h-5.1z"/>
<path fill="#979797" d="M4.4 30.4h5.1v4.5h-5.1zM24.0 39.1h5.1v4.5h-5.1zM107.1 39.1h5.1v4.5h-5.1zM102.2 43.4h5.1v4.5h-5.1zM38.6 60.8h14.9v4.5h-14.9zM53.3 65.2h5.1v4.5h-5.1zM63.1 65.2h5.1v4.5h-5.1zM24.0 69.5h5.1v4.5h-5.1zM63.1 73.8h5.1v4.5h-5.1zM4.4 91.2h5.1v4.5h-5.1zM-0.5 99.9h5.1v4.5h-5.1zM-20.0 104.2h10.0v4.5h-10.0zM-0.5 126.0h5.1v4.5h-5.1z"/>
<path fill="#939393" d="M9.3 30.4h5.1v4.5h-5.1zM131.5 30.4h29.5v4.5h-29.5zM14.2 34.8h5.1v4.5h-5.1zM107.1 34.8h5.1v4.5h-5.1zM102.2 39.1h5.1v4.5h-5.1zM33.7 43.4h5.1v4.5h-5.1zM92.4 47.8h5.1v4.5h-5.1zM43.5 52.1h5.1v4.5h-5.1zM87.5 52.1h5.1v4.5h-5.1zM82.6 56.5h5.1v4.5h-5.1zM53.3 60.8h5.1v4.5h-5.1zM77.8 60.8h5.1v4.5h-5.1zM33.7 65.2h5.1v4.5h-5.1zM48.4 65.2h5.1v4.5h-5.1zM72.9 86.9h5.1v4.5h-5.1zM77.8 91.2h5.1v4.5h-5.1zM77.8 99.9h5.1v4.5h-5.1zM-0.5 104.2h5.1v4.5h-5.1zM92.4 143.3h5.1v4.5h-5.1zM92.4 147.7h5.1v4.5h-5.1zM92.4 152.0h5.1v4.5h-5.1zM92.4 156.4h5.1v4.5h-5.1z"/>
<path fill="#898989" d="M112.0 30.4h5.1v4.5h-5.1zM97.3 34.8h5.1v4.5h-5.1zM53.3 52.1h5.1v4.5h-5.1zM77.8 52.1h5.1v4.5h-5.1zM58.2 56.5h19.8v4.5h-19.8zM33.7 69.5h5.1v4.5h-5.1zM53.3 73.8h5.1v4.5h-5.1zM9.3 91.2h5.1v4.5h-5.1zM68.0 91.2h5.1v4.5h-5.1zM72.9 95.6h5.1v4.5h-5.1zM4.4 99.9h5.1v4.5h-5.1zM72.9 99.9h5.1v4.5h-5.1zM72.9 104.2h5.1v4.5h-5.1zM82.6 117.3h5.1v4.5h-5.1zM4.4 121.6h5.1v4.5h-5.1z"/>
<path fill="#8f8f8f" d="M121.8 30.4h5.1v4.5h-5.1zM102.2 34.8h5.1v4.5h-5.1zM48.4 52.1h5.1v4.5h-5.1zM58.2 60.8h10.0v4.5h-10.0zM38.6 65.2h10.0v4.5h-10.0zM28.9 69.5h5.1v4.5h-5.1zM58.2 73.8h5.1v4.5h-5.1zM9.3 86.9h5.1v4.5h-5.1zM77.8 108.6h5.1v4.5h-5.1zM87.5 126.0h5.1v4.5h-5.1zM-0.5 139.0h5.1v4.5h-5.1zM-0.5 143.3h5.1v4.5h-5.1zM-0.5 147.7h5.1v4.5h-5.1zM-0.5 152.0h5.1v4.5h-5.1zM-0.5 156.4h5.1v4.5h-5.1z"/>
<path fill="#919191" d="M126.7 30.4h5.1v4.5h-5.1zM97.3 43.4h5.1v4.5h-5.1zM68.0 60.8h10.0v4.5h-10.0zM63.1 78.2h5.1v4.5h-5.1zM4.4 95.6h5.1v4.5h-5.1zM77.8 95.6h5.1v4.5h-5.1zM77.8 104.2h5.1v4.5h-5.1zM82.6 112.9h5.1v4.5h-5.1zM87.5 121.6h5.1v4.5h-5.1zM-0.5 134.7h5.1v4.5h-5.1zM92.4 139.0h5.1v4.5h-5.1z"/>
<path fill="#9d9d9d" d="M-24.9 34.8h29.5v4.5h-29.5zM116.9 39.1h5.1v4.5h-5.1zM112.0 43.4h5.1v4.5h-5.1zM102.2 47.8h5.1v4.5h-5.1zM24.0 52.1h5.1v4.5h-5.1zM33.7 56.5h5.1v4.5h-5.1zM4.4 86.9h5.1v4.5h-5.1zM-24.9 99.9h5.1v4.5h-5.1zM-10.3 99.9h5.1v4.5h-5.1zM-5.4 134.7h5.1v4.5h-5.1zM-10.3 139.0h5.1v4.5h-5.1zM-10.3 143.3h5.1v4.5h-5.1zM-10.3 156.4h5.1v4.5h-5.1z"/>
<path fill="#9f9f9f" d="M4.4 34.8h5.1v4.5h-5.1zM121.8 34.8h5.1v4.5h-5.1zM9.3 39.1h5.1v4.5h-5.1zM14.2 43.4h5.1v4.5h-5.1zM116.9 43.4h5.1v4.5h-5.1zM107.1 47.8h5.1v4.5h-5.1zM97.3 52.1h5.1v4.5h-5.1zM72.9 65.2h5.1v4.5h-5.1zM68.0 69.5h5.1v4.5h-5.1zM68.0 73.8h5.1v4.5h-5.1zM77.8 82.5h5.1v4.5h-5.1zM82.6 91.2h5.1v4.5h-5.1zM-0.5 95.6h5.1v4.5h-5.1zM-5.4 99.9h5.1v4.5h-5.1zM82.6 104.2h5.1v4.5h-5.1zM-5.4 139.0h5.1v4.5h-5.1zM97.3 139.0h5.1v4.5h-5.1zM-5.4 143.3h5.1v4.5h-5.1zM-5.4 147.7h5.1v4.5h-5.1zM-5.4 152.0h5.1v4.5h-5.1zM-5.4 156.4h5.1v4.5h-5.1z"/>
<path fill="#9b9b9b" d="M9.3 34.8h5.1v4.5h-5.1zM116.9 34.8h5.1v4.5h-5.1zM112.0 39.1h5.1v4.5h-5.1zM19.1 43.4h10.0v4.5h-10.0zM24.0 47.8h5.1v4.5h-5.1zM28.9 52.1h10.0v4.5h-10.0zM38.6 56.5h5.1v4.5h-5.1zM87.5 56.5h5.1v4.5h-5.1zM33.7 60.8h5.1v4.5h-5.1zM28.9 65.2h5.1v4.5h-5.1zM68.0 78.2h5.1v4.5h-5.1zM72.9 82.5h5.1v4.5h-5.1zM-20.0 99.9h10.0v4.5h-10.0zM-5.4 104.2h5.1v4.5h-5.1zM-5.4 108.6h5.1v4.5h-5.1zM-10.3 112.9h10.0v4.5h-10.0zM-10.3 117.3h10.0v4.5h-10.0zM-10.3 121.6h10.0v4.5h-10.0zM-10.3 126.0h10.0v4.5h-10.0zM-10.3 130.3h10.0v4.5h-10.0zM92.4 130.3h5.1v4.5h-5.1zM-10.3 134.7h5.1v4.5h-5.1zM-10.3 147.7h5.1v4.5h-5.1zM-10.3 152.0h5.1v4.5h-5.1z"/>
<path fill="#858585" d="M33.7 34.8h5.1v4.5h-5.1zM92.4 34.8h5.1v4.5h-5.1zM38.6 39.1h5.1v4.5h-5.1zM43.5 43.4h5.1v4.5h-5.1zM87.5 43.4h5.1v4.5h-5.1zM53.3 47.8h5.1v4.5h-5.1zM77.8 47.8h5.1v4.5h-5.1zM58.2 52.1h5.1v4.5h-5.1zM72.9 52.1h5.1v4.5h-5.1zM48.4 73.8h5.1v4.5h-5.1zM58.2 78.2h5.1v4.5h-5.1zM63.1 86.9h5.1v4.5h-5.1zM68.0 99.9h5.1v4.5h-5.1zM72.9 108.6h5.1v4.5h-5.1zM82.6 121.6h5.1v4.5h-5.1zM87.5 139.0h5.1v4.5h-5.1zM87.5 143.3h5.1v4.5h-5.1z"/>
<path fill="#999999" d="M112.0 34.8h5.1v4.5h-5.1zM14.2 39.1h5.1v4.5h-5.1zM28.9 43.4h5.1v4.5h-5.1zM107.1 43.4h5.1v4.5h-5.1zM28.9 47.8h10.0v4.5h-10.0zM97.3 47.8h5.1v4.5h-5.1zM38.6 52.1h5.1v4.5h-5.1zM92.4 52.1h5.1v4.5h-5.1zM43.5 56.5h5.1v4.5h-5.1zM82.6 60.8h5.1v4.5h-5.1zM58.2 65.2h5.1v4.5h-5.1zM68.0 65.2h5.1v4.5h-5.1zM58.2 69.5h10.0v4.5h-10.0zM19.1 73.8h5.1v4.5h-5.1zM14.2 78.2h5.1v4.5h-5.1zM9.3 82.5h5.1v4.5h-5.1zM77.8 86.9h5.1v4.5h-5.1zM-24.9 104.2h5.1v4.5h-5.1zM-10.3 104.2h5.1v4.5h-5.1zM-24.9 108.6h19.8v4.5h-19.8zM82.6 108.6h5.1v4.5h-5.1zM-24.9 112.9h14.9v4.5h-14.9zM87.5 112.9h5.1v4.5h-5.1zM-24.9 117.3h14.9v4.5h-14.9zM-24.9 121.6h14.9v4.5h-14.9zM-24.9 126.0h14.9v4.5h-14.9zM-24.9 130.3h14.9v4.5h-14.9zM-24.9 134.7h14.9v4.5h-14.9zM-24.9 139.0h14.9v4.5h-14.9zM-24.9 143.3h14.9v4.5h-14.9zM-24.9 147.7h14.9v4.5h-14.9zM-24.9 152.0h14.9v4.5h-14.9zM-24.9 156.4h14.9v4.5h-14.9z"/>
<path fill="#a1a1a1" d="M126.7 34.8h5.1v4.5h-5.1zM121.8 39.1h5.1v4.5h-5.1zM121.8 43.4h10.0v4.5h-10.0zM19.1 47.8h5.1v4.5h-5.1zM112.0 47.8h5.1v4.5h-5.1zM102.2 52.1h10.0v4.5h-10.0zM28.9 56.5h5.1v4.5h-5.1zM92.4 56.5h5.1v4.5h-5.1zM87.5 60.8h5.1v4.5h-5.1zM77.8 65.2h10.0v4.5h-10.0zM19.1 69.5h5.1v4.5h-5.1zM9.3 78.2h5.1v4.5h-5.1zM72.9 78.2h5.1v4.5h-5.1zM4.4 82.5h5.1v4.5h-5.1zM82.6 86.9h5.1v4.5h-5.1zM82.6 95.6h5.1v4.5h-5.1zM82.6 99.9h5.1v4.5h-5.1zM87.5 108.6h5.1v4.5h-5.1zM92.4 112.9h5.1v4.5h-5.1zM92.4 117.3h5.1v4.5h-5.1zM92.4 121.6h5.1v4.5h-5.1zM92.4 126.0h5.1v4.5h-5.1zM97.3 143.3h5.1v4.5h-5.1zM97.3 147.7h5.1v4.5h-5.1zM97.3 152.0h5.1v4.5h-5.1zM97.3 156.4h5.1v4.5h-5.1z"/>
<path fill="#a3a3a3" d="M131.5 34.8h5.1v4.5h-5.1zM-24.9 39.1h29.5v4.5h-29.5zM126.7 39.1h5.1v4.5h-5.1zM131.5 43.4h29.5v4.5h-29.5zM116.9 47.8h14.9v4.5h-14.9zM19.1 52.1h5.1v4.5h-5.1zM112.0 52.1h5.1v4.5h-5.1zM97.3 56.5h5.1v4.5h-5.1zM28.9 60.8h5.1v4.5h-5.1zM24.0 65.2h5.1v4.5h-5.1zM14.2 73.8h5.1v4.5h-5.1zM-0.5 91.2h5.1v4.5h-5.1zM-24.9 95.6h14.9v4.5h-14.9zM97.3 134.7h5.1v4.5h-5.1z"/>
<path fill="#a5a5a5" d="M136.4 34.8h24.7v4.5h-24.7zM4.4 39.1h5.1v4.5h-5.1zM131.5 39.1h29.5v4.5h-29.5zM131.5 47.8h29.5v4.5h-29.5zM116.9 52.1h44.2v4.5h-44.2zM19.1 56.5h10.0v4.5h-10.0zM102.2 56.5h58.9v4.5h-58.9zM19.1 65.2h5.1v4.5h-5.1zM87.5 65.2h5.1v4.5h-5.1zM9.3 69.5h10.0v4.5h-10.0zM9.3 73.8h5.1v4.5h-5.1zM72.9 73.8h5.1v4.5h-5.1zM-24.9 78.2h34.4v4.5h-34.4zM-24.9 82.5h29.5v4.5h-29.5zM-0.5 86.9h5.1v4.5h-5.1zM-10.3 95.6h10.0v4.5h-10.0z"/>
<path fill="#a9a9a9" d="M-24.9 43.4h24.7v4.5h-24.7zM14.2 56.5h5.1v4.5h-5.1zM102.2 60.8h58.9v4.5h-58.9zM-24.9 73.8h29.5v4.5h-29.5zM-5.4 86.9h5.1v4.5h-5.1zM87.5 86.9h5.1v4.5h-5.1zM-10.3 91.2h10.0v4.5h-10.0zM87.5 104.2h5.1v4.5h-5.1zM97.3 117.3h5.1v4.5h-5.1zM97.3 130.3h5.1v4.5h-5.1z"/>
<path fill="#ababab" d="M-0.5 43.4h10.0v4.5h-10.0zM14.2 52.1h5.1v4.5h-5.1zM97.3 60.8h5.1v4.5h-5.1zM4.4 65.2h5.1v4.5h-5.1zM77.8 69.5h10.0v4.5h-10.0zM77.8 73.8h5.1v4.5h-5.1zM87.5 91.2h5.1v4.5h-5.1zM97.3 108.6h5.1v4.5h-5.1zM102.2 112.9h5.1v4.5h-5.1z"/>
<path fill="#a7a7a7" d="M9.3 43.4h5.1v4.5h-5.1zM14.2 47.8h5.1v4.5h-5.1zM14.2 60.8h14.9v4.5h-14.9zM92.4 60.8h5.1v4.5h-5.1zM9.3 65.2h10.0v4.5h-10.0zM4.4 69.5h5.1v4.5h-5.1zM72.9 69.5h5.1v4.5h-5.1zM4.4 73.8h5.1v4.5h-5.1zM77.8 78.2h5.1v4.5h-5.1zM82.6 82.5h5.1v4.5h-5.1zM-24.9 86.9h19.8v4.5h-19.8zM-24.9 91.2h14.9v4.5h-14.9zM92.4 108.6h5.1v4.5h-5.1zM97.3 112.9h5.1v4.5h-5.1z"/>
<path fill="#b1b1b1" d="M-24.9 47.8h34.4v4.5h-34.4zM9.3 56.5h5.1v4.5h-5.1zM4.4 60.8h5.1v4.5h-5.1zM-0.5 65.2h5.1v4.5h-5.1zM97.3 65.2h10.0v4.5h-10.0zM116.9 65.2h44.2v4.5h-44.2zM-24.9 69.5h10.0v4.5h-10.0zM-10.3 69.5h10.0v4.5h-10.0zM92.4 69.5h5.1v4.5h-5.1zM82.6 73.8h5.1v4.5h-5.1zM92.4 82.5h5.1v4.5h-5.1zM92.4 86.9h5.1v4.5h-5.1zM92.4 91.2h5.1v4.5h-5.1zM97.3 104.2h19.8v4.5h-19.8zM116.9 108.6h19.8v4.5h-19.8zM116.9 112.9h14.9v4.5h-14.9zM107.1 117.3h5.1v4.5h-5.1zM116.9 117.3h5.1v4.5h-5.1zM102.2 130.3h5.1v4.5h-5.1z"/>
<path fill="#afafaf" d="M9.3 47.8h5.1v4.5h-5.1zM107.1 65.2h10.0v4.5h-10.0zM-15.2 69.5h5.1v4.5h-5.1zM82.6 78.2h5.1v4.5h-5.1zM92.4 104.2h5.1v4.5h-5.1zM112.0 108.6h5.1v4.5h-5.1zM107.1 112.9h10.0v4.5h-10.0zM102.2 117.3h5.1v4.5h-5.1zM102.2 134.7h5.1v4.5h-5.1zM102.2 139.0h5.1v4.5h-5.1zM102.2 143.3h5.1v4.5h-5.1zM102.2 147.7h5.1v4.5h-5.1zM102.2 152.0h5.1v4.5h-5.1zM102.2 156.4h5.1v4.5h-5.1z"/>
<path fill="#b3b3b3" d="M-24.9 52.1h24.7v4.5h-24.7zM9.3 52.1h5.1v4.5h-5.1zM-24.9 56.5h24.7v4.5h-24.7zM-24.9 60.8h29.5v4.5h-29.5zM-24.9 65.2h14.9v4.5h-14.9zM107.1 69.5h10.0v4.5h-10.0zM87.5 73.8h73.6v4.5h-73.6zM87.5 78.2h73.6v4.5h-73.6zM97.3 82.5h63.8v4.5h-63.8zM97.3 86.9h63.8v4.5h-63.8zM97.3 91.2h63.8v4.5h-63.8zM92.4 95.6h68.7v4.5h-68.7zM92.4 99.9h5.1v4.5h-5.1zM107.1 99.9h54.0v4.5h-54.0zM116.9 104.2h44.2v4.5h-44.2zM136.4 108.6h24.7v4.5h-24.7zM131.5 112.9h29.5v4.5h-29.5zM112.0 117.3h5.1v4.5h-5.1zM121.8 117.3h39.3v4.5h-39.3zM102.2 121.6h5.1v4.5h-5.1zM112.0 121.6h49.1v4.5h-49.1zM102.2 126.0h58.9v4.5h-58.9zM107.1 130.3h54.0v4.5h-54.0zM112.0 134.7h49.1v4.5h-49.1zM116.9 139.0h44.2v4.5h-44.2zM112.0 143.3h49.1v4.5h-49.1zM112.0 147.7h49.1v4.5h-49.1zM112.0 152.0h49.1v4.5h-49.1zM112.0 156.4h49.1v4.5h-49.1z"/>
<path fill="#b5b5b5" d="M-0.5 52.1h10.0v4.5h-10.0zM-0.5 56.5h10.0v4.5h-10.0zM-10.3 65.2h10.0v4.5h-10.0zM97.3 69.5h10.0v4.5h-10.0zM116.9 69.5h44.2v4.5h-44.2zM97.3 99.9h10.0v4.5h-10.0zM107.1 121.6h5.1v4.5h-5.1zM107.1 134.7h5.1v4.5h-5.1zM107.1 139.0h10.0v4.5h-10.0zM107.1 143.3h5.1v4.5h-5.1zM107.1 147.7h5.1v4.5h-5.1zM107.1 152.0h5.1v4.5h-5.1zM107.1 156.4h5.1v4.5h-5.1z"/>
<path fill="#adadad" d="M9.3 60.8h5.1v4.5h-5.1zM92.4 65.2h5.1v4.5h-5.1zM-0.5 69.5h5.1v4.5h-5.1zM87.5 69.5h5.1v4.5h-5.1zM87.5 82.5h5.1v4.5h-5.1zM87.5 95.6h5.1v4.5h-5.1zM87.5 99.9h5.1v4.5h-5.1zM102.2 108.6h10.0v4.5h-10.0zM97.3 121.6h5.1v4.5h-5.1zM97.3 126.0h5.1v4.5h-5.1z"/>
<path fill="#545454" d="M28.9 104.2h5.1v4.5h-5.1zM43.5 104.2h5.1v4.5h-5.1zM58.2 117.3h5.1v4.5h-5.1zM63.1 130.3h5.1v4.5h-5.1zM9.3 147.7h5.1v4.5h-5.1zM9.3 152.0h5.1v4.5h-5.1z"/>
<path fill="#525252" d="M24.0 108.6h5.1v4.5h-5.1zM53.3 112.9h5.1v4.5h-5.1zM9.3 143.3h5.1v4.5h-5.1zM9.3 156.4h5.1v4.5h-5.1z"/>
<path fill="#4e4e4e" d="M28.9 108.6h19.8v4.5h-19.8zM43.5 117.3h5.1v4.5h-5.1zM38.6 121.6h5.1v4.5h-5.1zM28.9 126.0h10.0v4.5h-10.0zM19.1 130.3h5.1v4.5h-5.1z"/>
<path fill="#505050" d="M48.4 108.6h5.1v4.5h-5.1zM24.0 112.9h5.1v4.5h-5.1zM24.0 117.3h5.1v4.5h-5.1zM24.0 121.6h5.1v4.5h-5.1zM58.2 121.6h5.1v4.5h-5.1zM24.0 126.0h5.1v4.5h-5.1zM58.2 126.0h5.1v4.5h-5.1zM58.2 130.3h5.1v4.5h-5.1zM58.2 134.7h5.1v4.5h-5.1zM9.3 139.0h5.1v4.5h-5.1zM58.2 139.0h5.1v4.5h-5.1zM58.2 143.3h5.1v4.5h-5.1zM58.2 147.7h5.1v4.5h-5.1zM58.2 152.0h5.1v4.5h-5.1zM58.2 156.4h5.1v4.5h-5.1z"/>
<path fill="#484848" d="M28.9 112.9h5.1v4.5h-5.1zM28.9 117.3h5.1v4.5h-5.1zM48.4 121.6h10.0v4.5h-10.0zM53.3 126.0h5.1v4.5h-5.1zM53.3 130.3h5.1v4.5h-5.1zM53.3 134.7h5.1v4.5h-5.1zM53.3 139.0h5.1v4.5h-5.1zM53.3 143.3h5.1v4.5h-5.1zM53.3 147.7h5.1v4.5h-5.1zM53.3 152.0h5.1v4.5h-5.1zM53.3 156.4h5.1v4.5h-5.1z"/>
<path fill="#4a4a4a" d="M33.7 112.9h5.1v4.5h-5.1zM33.7 117.3h5.1v4.5h-5.1zM24.0 130.3h14.9v4.5h-14.9zM14.2 134.7h5.1v4.5h-5.1z"/>
<path fill="#4c4c4c" d="M38.6 112.9h14.9v4.5h-14.9zM38.6 117.3h5.1v4.5h-5.1zM48.4 117.3h10.0v4.5h-10.0zM28.9 121.6h10.0v4.5h-10.0zM43.5 121.6h5.1v4.5h-5.1zM38.6 126.0h5.1v4.5h-5.1z"/>
<path fill="#444444" d="M43.5 126.0h5.1v4.5h-5.1zM14.2 147.7h5.1v4.5h-5.1zM14.2 152.0h5.1v4.5h-5.1zM14.2 156.4h5.1v4.5h-5.1z"/>
<path fill="#424242" d="M48.4 126.0h5.1v4.5h-5.1zM19.1 134.7h19.8v4.5h-19.8zM48.4 139.0h5.1v4.5h-5.1zM14.2 143.3h5.1v4.5h-5.1zM48.4 143.3h5.1v4.5h-5.1zM48.4 147.7h5.1v4.5h-5.1zM48.4 152.0h5.1v4.5h-5.1zM48.4 156.4h5.1v4.5h-5.1z"/>
<path fill="#464646" d="M38.6 130.3h5.1v4.5h-5.1z"/>
<path fill="#404040" d="M43.5 130.3h10.0v4.5h-10.0zM38.6 134.7h5.1v4.5h-5.1zM48.4 134.7h5.1v4.5h-5.1zM14.2 139.0h5.1v4.5h-5.1zM28.9 143.3h10.0v4.5h-10.0zM28.9 147.7h14.9v4.5h-14.9zM28.9 152.0h10.0v4.5h-10.0zM28.9 156.4h10.0v4.5h-10.0z"/>
<path fill="#3e3e3e" d="M43.5 134.7h5.1v4.5h-5.1zM24.0 139.0h24.7v4.5h-24.7zM24.0 143.3h5.1v4.5h-5.1zM38.6 143.3h10.0v4.5h-10.0zM19.1 147.7h10.0v4.5h-10.0zM43.5 147.7h5.1v4.5h-5.1zM19.1 152.0h10.0v4.5h-10.0zM38.6 152.0h10.0v4.5h-10.0zM19.1 156.4h10.0v4.5h-10.0zM38.6 156.4h10.0v4.5h-10.0z"/>
<path fill="#3c3c3c" d="M19.1 139.0h5.1v4.5h-5.1zM19.1 143.3h5.1v4.5h-5.1z"/>
</g></g>
<path d="M0.0,19.6C1.0,19.6 4.1,19.7 6.0,19.9C7.9,20.1 9.3,20.3 11.1,20.7C12.9,21.1 15.0,21.7 17.0,22.5C19.0,23.3 20.9,24.3 23.2,25.7C25.5,27.1 28.3,29.0 31.0,31.0C33.7,33.0 37.0,36.0 39.3,37.8C41.6,39.6 43.0,40.7 45.0,42.0C47.0,43.3 49.2,44.8 51.4,45.8C53.6,46.8 55.6,47.4 58.0,47.9C60.4,48.4 63.4,48.8 65.5,48.9C67.6,49.1 68.8,49.0 70.5,48.8C72.2,48.6 73.9,48.4 75.6,47.8C77.3,47.3 78.8,46.5 80.5,45.5C82.2,44.5 84.8,42.4 85.6,41.8M11.1,113.8C11.2,112.6 11.2,108.9 11.5,106.5C11.8,104.1 12.4,102.1 13.1,99.7C13.8,97.3 14.5,94.3 15.5,92.0C16.5,89.7 17.8,87.5 19.1,85.6C20.4,83.7 21.8,82.0 23.5,80.5C25.2,79.0 27.4,77.6 29.2,76.6C30.9,75.7 32.3,75.2 34.0,74.8C35.7,74.5 37.4,74.3 39.3,74.5C41.2,74.7 43.5,75.3 45.5,76.1C47.5,77.0 49.7,78.2 51.4,79.6C53.1,81.0 54.2,82.6 55.5,84.3C56.8,86.0 58.1,87.6 59.4,89.6C60.7,91.6 62.1,94.2 63.5,96.5C64.9,98.8 66.2,101.2 67.5,103.7C68.8,106.2 70.1,108.8 71.5,111.5C72.9,114.2 74.2,117.0 75.6,119.9C77.0,122.8 78.4,125.8 79.7,129.0C81.0,132.2 83.0,137.3 83.6,139.0" fill="none" stroke="#b8b8b8" stroke-opacity="0.75" stroke-width="1.5" stroke-linejoin="round" stroke-linecap="round" clip-path="url(#pc)"/>
<line x1="0" y1="104.25" x2="136" y2="104.25" stroke="#3a3a3a" stroke-opacity="0.68" stroke-width="1.9" stroke-dasharray="6 5.8"/>
<line x1="67.97" y1="139" x2="67.97" y2="0" stroke="#3a3a3a" stroke-opacity="0.68" stroke-width="1.9" stroke-dasharray="6 5.8"/>
<rect x="0" y="0" width="136" height="139" fill="none" stroke="#636363" stroke-width="1.35"/>
</g>
<text x="541.00" y="182.5" font-size="12" font-style="italic" fill="#1a1a1a" text-anchor="middle">P. menziesii</text>
<line x1="58.57" y1="330.5" x2="58.57" y2="334.8" stroke="#333" stroke-width="1.2"/>
<text x="58.57" y="346.8" font-size="12.5" fill="#4d4d4d" text-anchor="middle">0.5</text>
<line x1="107.47" y1="330.5" x2="107.47" y2="334.8" stroke="#333" stroke-width="1.2"/>
<text x="107.47" y="346.8" font-size="12.5" fill="#4d4d4d" text-anchor="middle">1.0</text>
<line x1="156.37" y1="330.5" x2="156.37" y2="334.8" stroke="#333" stroke-width="1.2"/>
<text x="156.37" y="346.8" font-size="12.5" fill="#4d4d4d" text-anchor="middle">1.5</text>
<line x1="203.07" y1="330.5" x2="203.07" y2="334.8" stroke="#333" stroke-width="1.2"/>
<text x="203.07" y="346.8" font-size="12.5" fill="#4d4d4d" text-anchor="middle">0.5</text>
<line x1="251.97" y1="330.5" x2="251.97" y2="334.8" stroke="#333" stroke-width="1.2"/>
<text x="251.97" y="346.8" font-size="12.5" fill="#4d4d4d" text-anchor="middle">1.0</text>
<line x1="300.87" y1="330.5" x2="300.87" y2="334.8" stroke="#333" stroke-width="1.2"/>
<text x="300.87" y="346.8" font-size="12.5" fill="#4d4d4d" text-anchor="middle">1.5</text>
<line x1="347.57" y1="330.5" x2="347.57" y2="334.8" stroke="#333" stroke-width="1.2"/>
<text x="347.57" y="346.8" font-size="12.5" fill="#4d4d4d" text-anchor="middle">0.5</text>
<line x1="396.47" y1="330.5" x2="396.47" y2="334.8" stroke="#333" stroke-width="1.2"/>
<text x="396.47" y="346.8" font-size="12.5" fill="#4d4d4d" text-anchor="middle">1.0</text>
<line x1="445.37" y1="330.5" x2="445.37" y2="334.8" stroke="#333" stroke-width="1.2"/>
<text x="445.37" y="346.8" font-size="12.5" fill="#4d4d4d" text-anchor="middle">1.5</text>
<line x1="492.07" y1="330.5" x2="492.07" y2="334.8" stroke="#333" stroke-width="1.2"/>
<text x="492.07" y="346.8" font-size="12.5" fill="#4d4d4d" text-anchor="middle">0.5</text>
<line x1="540.97" y1="330.5" x2="540.97" y2="334.8" stroke="#333" stroke-width="1.2"/>
<text x="540.97" y="346.8" font-size="12.5" fill="#4d4d4d" text-anchor="middle">1.0</text>
<line x1="589.87" y1="330.5" x2="589.87" y2="334.8" stroke="#333" stroke-width="1.2"/>
<text x="589.87" y="346.8" font-size="12.5" fill="#4d4d4d" text-anchor="middle">1.5</text>
<line x1="35.20" y1="18.50" x2="39.5" y2="18.50" stroke="#333" stroke-width="1.2"/>
<text x="31.40" y="22.10" font-size="12" fill="#4d4d4d" text-anchor="end">3</text>
<line x1="35.20" y1="53.25" x2="39.5" y2="53.25" stroke="#333" stroke-width="1.2"/>
<text x="31.40" y="56.85" font-size="12" fill="#4d4d4d" text-anchor="end">2</text>
<line x1="35.20" y1="88.00" x2="39.5" y2="88.00" stroke="#333" stroke-width="1.2"/>
<text x="31.40" y="91.60" font-size="12" fill="#4d4d4d" text-anchor="end">1</text>
<line x1="35.20" y1="122.75" x2="39.5" y2="122.75" stroke="#333" stroke-width="1.2"/>
<text x="31.40" y="126.35" font-size="12" fill="#4d4d4d" text-anchor="end">0</text>
<line x1="35.20" y1="157.50" x2="39.5" y2="157.50" stroke="#333" stroke-width="1.2"/>
<text x="31.40" y="161.10" font-size="12" fill="#4d4d4d" text-anchor="end">-1</text>
<line x1="35.20" y1="191.50" x2="39.5" y2="191.50" stroke="#333" stroke-width="1.2"/>
<text x="31.40" y="195.10" font-size="12" fill="#4d4d4d" text-anchor="end">3</text>
<line x1="35.20" y1="226.25" x2="39.5" y2="226.25" stroke="#333" stroke-width="1.2"/>
<text x="31.40" y="229.85" font-size="12" fill="#4d4d4d" text-anchor="end">2</text>
<line x1="35.20" y1="261.00" x2="39.5" y2="261.00" stroke="#333" stroke-width="1.2"/>
<text x="31.40" y="264.60" font-size="12" fill="#4d4d4d" text-anchor="end">1</text>
<line x1="35.20" y1="295.75" x2="39.5" y2="295.75" stroke="#333" stroke-width="1.2"/>
<text x="31.40" y="299.35" font-size="12" fill="#4d4d4d" text-anchor="end">0</text>
<line x1="35.20" y1="330.50" x2="39.5" y2="330.50" stroke="#333" stroke-width="1.2"/>
<text x="31.40" y="334.10" font-size="12" fill="#4d4d4d" text-anchor="end">-1</text>
<text x="324.2" y="362.8" font-size="15.25" fill="#000" text-anchor="middle">Deviation from mean MAM<tspan font-size="11" dy="3.5">t</tspan><tspan dy="-3.5"> precipitation sum [-]</tspan></text>
<text transform="translate(11,174.4) rotate(-90)" x="0" y="0" font-size="15.25" fill="#000" text-anchor="middle">Deviation from mean MAM<tspan font-size="11" dy="3.5">t</tspan><tspan dy="-3.5"> temperature [°C]</tspan></text>
<rect x="632.7" y="125" width="24.1" height="119.7" fill="url(#cb)"/>
<line x1="632.7" y1="125.00" x2="637.5" y2="125.00" stroke="#333" stroke-width="1"/>
<line x1="652" y1="125.00" x2="656.8" y2="125.00" stroke="#333" stroke-width="1"/>
<text x="663.7" y="129.50" font-size="12.5" fill="#1a1a1a">5.0</text>
<line x1="632.7" y1="154.93" x2="637.5" y2="154.93" stroke="#333" stroke-width="1"/>
<line x1="652" y1="154.93" x2="656.8" y2="154.93" stroke="#333" stroke-width="1"/>
<text x="663.7" y="159.43" font-size="12.5" fill="#1a1a1a">2.5</text>
<line x1="632.7" y1="184.86" x2="637.5" y2="184.86" stroke="#333" stroke-width="1"/>
<line x1="652" y1="184.86" x2="656.8" y2="184.86" stroke="#333" stroke-width="1"/>
<text x="663.7" y="189.36" font-size="12.5" fill="#1a1a1a">0.0</text>
<line x1="632.7" y1="214.79" x2="637.5" y2="214.79" stroke="#333" stroke-width="1"/>
<line x1="652" y1="214.79" x2="656.8" y2="214.79" stroke="#333" stroke-width="1"/>
<text x="663.7" y="219.29" font-size="12.5" fill="#1a1a1a">-2.5</text>
<line x1="632.7" y1="244.72" x2="637.5" y2="244.72" stroke="#333" stroke-width="1"/>
<line x1="652" y1="244.72" x2="656.8" y2="244.72" stroke="#333" stroke-width="1"/>
<text x="663.7" y="249.22" font-size="12.5" fill="#1a1a1a">-5.0</text>
</svg></body></html>
